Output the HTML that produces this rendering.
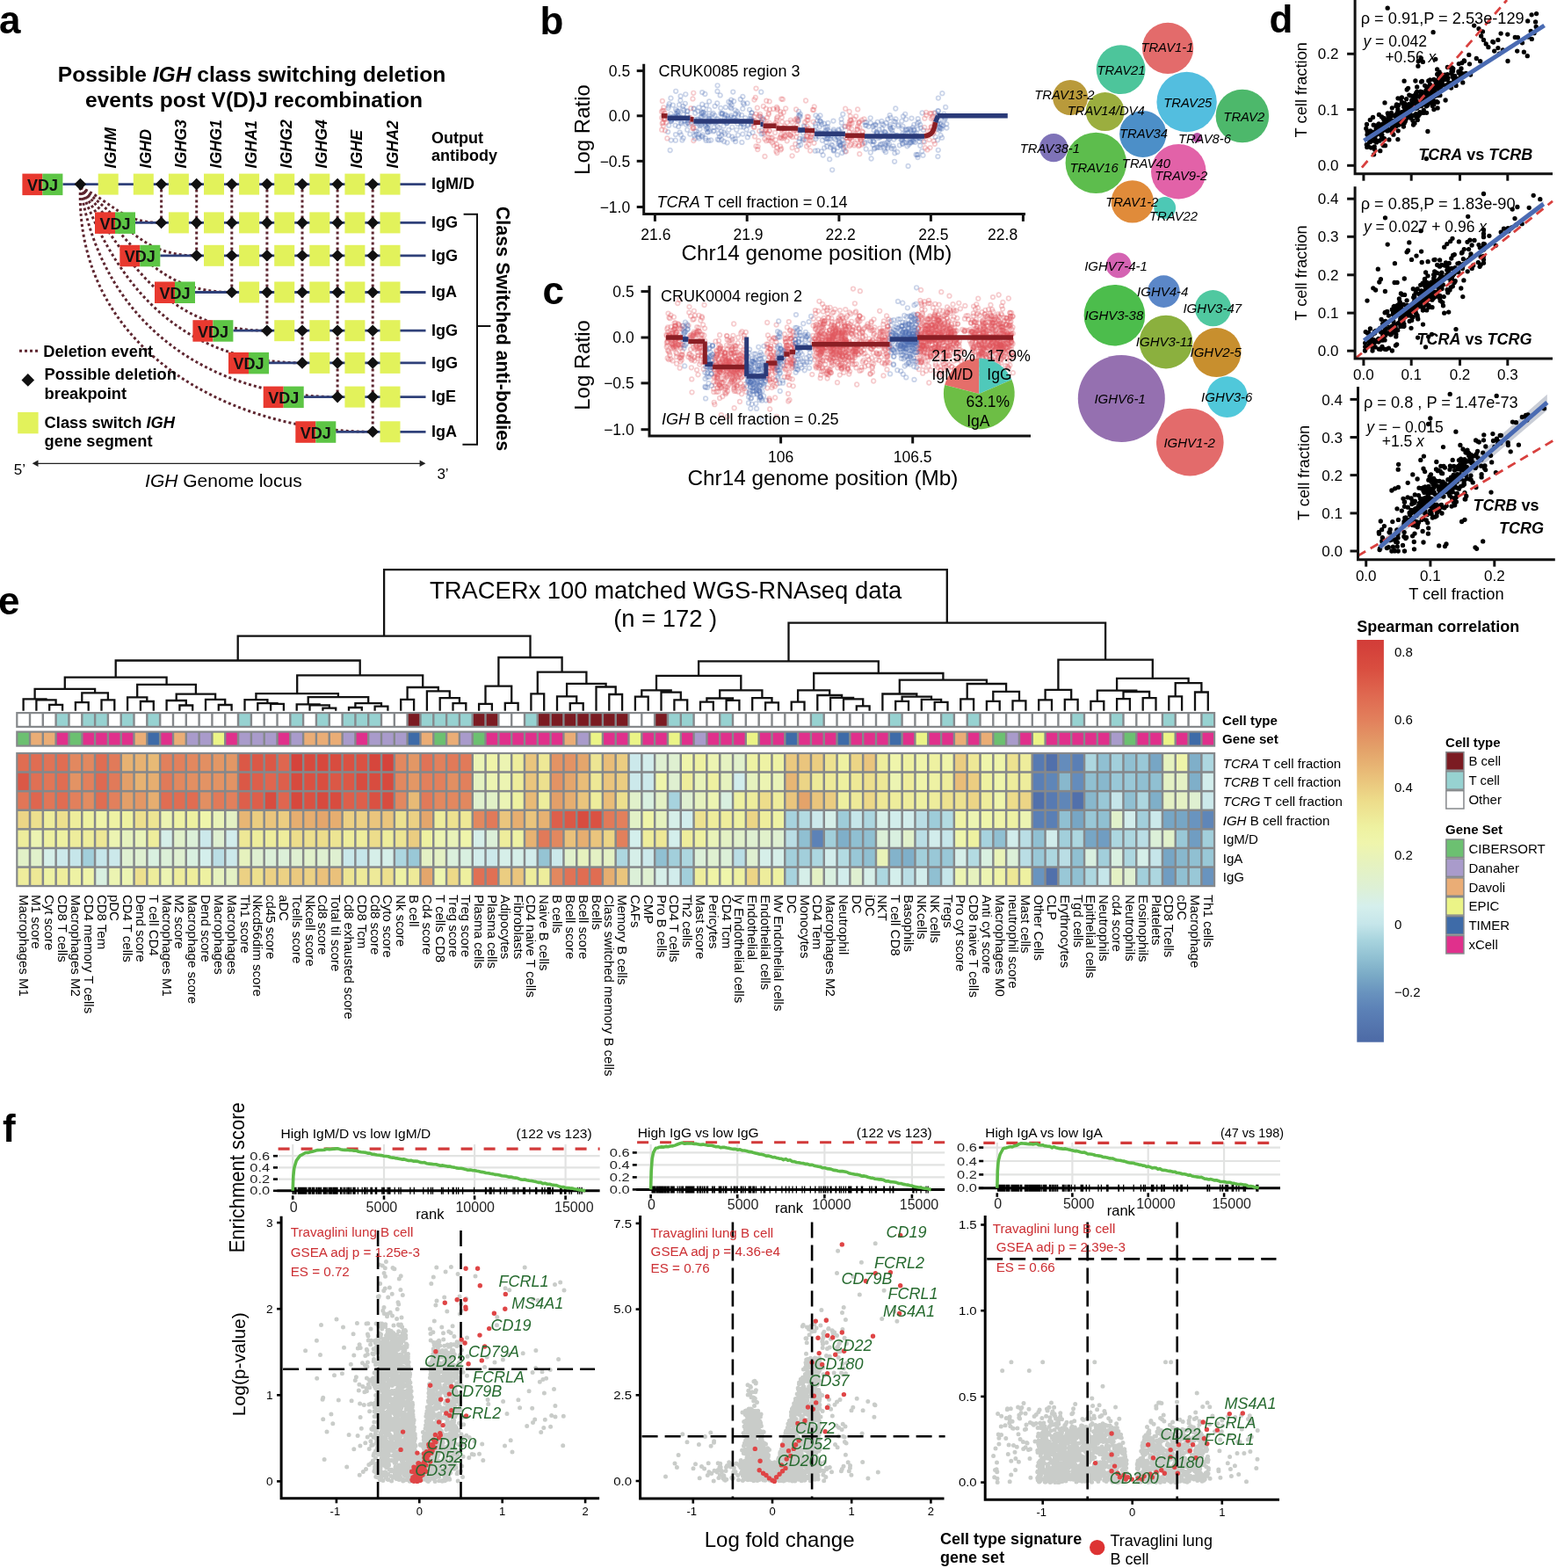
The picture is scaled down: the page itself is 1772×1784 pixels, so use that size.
<!DOCTYPE html>
<html><head><meta charset="utf-8"><title>Figure</title>
<style>
html,body{margin:0;padding:0;background:#fff;}
svg{display:block;}
text{font-family:"Liberation Sans", Arial, Helvetica, sans-serif;}
</style></head><body>
<svg width="1772" height="1784" viewBox="0 0 1772 1784">
<defs><marker id="ob" markerUnits="userSpaceOnUse" markerWidth="8" markerHeight="8" refX="4" refY="4" overflow="visible"><circle cx="4" cy="4" r="2.3" fill="none" stroke="#4E72B6" stroke-width="1.7" stroke-opacity="0.3"/></marker>
<marker id="or" markerUnits="userSpaceOnUse" markerWidth="8" markerHeight="8" refX="4" refY="4" overflow="visible"><circle cx="4" cy="4" r="2.3" fill="none" stroke="#E2575E" stroke-width="1.7" stroke-opacity="0.3"/></marker>
<linearGradient id="cb" x1="0" y1="0" x2="0" y2="1"><stop offset="0.0000" stop-color="#D23C38"/><stop offset="0.0719" stop-color="#D94E40"/><stop offset="0.1361" stop-color="#DF6850"/><stop offset="0.1986" stop-color="#E2805C"/><stop offset="0.2688" stop-color="#E3A069"/><stop offset="0.3331" stop-color="#E9BD78"/><stop offset="0.3990" stop-color="#EDDC8A"/><stop offset="0.4649" stop-color="#EEF1A0"/><stop offset="0.5046" stop-color="#EFF5AC"/><stop offset="0.5537" stop-color="#E6F2BE"/><stop offset="0.6179" stop-color="#DDF0D6"/><stop offset="0.6619" stop-color="#D5EFEC"/><stop offset="0.7058" stop-color="#C6E6EA"/><stop offset="0.7464" stop-color="#A8D4DE"/><stop offset="0.7904" stop-color="#90C0D2"/><stop offset="0.8343" stop-color="#7AAAC6"/><stop offset="0.8783" stop-color="#6892BE"/><stop offset="0.9222" stop-color="#5B80B6"/><stop offset="0.9882" stop-color="#4F6DA8"/><stop offset="1.0000" stop-color="#4C6AA6"/></linearGradient></defs>
<rect width="1772" height="1784" fill="#fff"/>
<text x="-1" y="38" font-size="44" font-weight="bold">a</text>
<text x="286.5" y="93" font-size="24.6" text-anchor="middle" font-weight="bold">Possible <tspan font-style="italic">IGH</tspan> class switching deletion</text>
<text x="289" y="122" font-size="24.6" text-anchor="middle" font-weight="bold">events post V(D)J recombination</text>
<text x="131.8" y="191.4" font-size="17.8" font-weight="bold" font-style="italic" transform="rotate(-90 131.8 191.4)">IGHM</text>
<text x="171.9" y="191.4" font-size="17.8" font-weight="bold" font-style="italic" transform="rotate(-90 171.9 191.4)">IGHD</text>
<text x="212" y="191.4" font-size="17.8" font-weight="bold" font-style="italic" transform="rotate(-90 212 191.4)">IGHG3</text>
<text x="252.1" y="191.4" font-size="17.8" font-weight="bold" font-style="italic" transform="rotate(-90 252.1 191.4)">IGHG1</text>
<text x="292.2" y="191.4" font-size="17.8" font-weight="bold" font-style="italic" transform="rotate(-90 292.2 191.4)">IGHA1</text>
<text x="332.3" y="191.4" font-size="17.8" font-weight="bold" font-style="italic" transform="rotate(-90 332.3 191.4)">IGHG2</text>
<text x="372.4" y="191.4" font-size="17.8" font-weight="bold" font-style="italic" transform="rotate(-90 372.4 191.4)">IGHG4</text>
<text x="412.5" y="191.4" font-size="17.8" font-weight="bold" font-style="italic" transform="rotate(-90 412.5 191.4)">IGHE</text>
<text x="452.6" y="191.4" font-size="17.8" font-weight="bold" font-style="italic" transform="rotate(-90 452.6 191.4)">IGHA2</text>
<text x="491" y="162.6" font-size="18" font-weight="bold">Output</text>
<text x="491" y="183.3" font-size="18" font-weight="bold">antibody</text>
<line x1="183.6" y1="209.6" x2="183.6" y2="253.4" stroke="#5E2630" stroke-width="3" stroke-dasharray="3 3"/>
<line x1="223.7" y1="209.6" x2="223.7" y2="290.8" stroke="#5E2630" stroke-width="3" stroke-dasharray="3 3"/>
<line x1="263.8" y1="209.6" x2="263.8" y2="332.5" stroke="#5E2630" stroke-width="3" stroke-dasharray="3 3"/>
<line x1="303.9" y1="209.6" x2="303.9" y2="376.2" stroke="#5E2630" stroke-width="3" stroke-dasharray="3 3"/>
<line x1="344" y1="209.6" x2="344" y2="412.9" stroke="#5E2630" stroke-width="3" stroke-dasharray="3 3"/>
<line x1="384.1" y1="209.6" x2="384.1" y2="451.6" stroke="#5E2630" stroke-width="3" stroke-dasharray="3 3"/>
<line x1="424.2" y1="209.6" x2="424.2" y2="491.3" stroke="#5E2630" stroke-width="3" stroke-dasharray="3 3"/>
<path d="M91.4 213C129.7 230.9 137.5 253.4 183.6 253.4" fill="none" stroke="#5E2630" stroke-width="3" stroke-dasharray="3 3"/>
<path d="M91.4 213C143.4 251 157.6 290.8 223.7 290.8" fill="none" stroke="#5E2630" stroke-width="3" stroke-dasharray="3 3"/>
<path d="M91.4 213C151.1 277.8 177.6 332.5 263.8 332.5" fill="none" stroke="#5E2630" stroke-width="3" stroke-dasharray="3 3"/>
<path d="M91.4 213C150.2 309 197.6 376.2 303.9 376.2" fill="none" stroke="#5E2630" stroke-width="3" stroke-dasharray="3 3"/>
<path d="M91.4 213C138.4 339.9 217.7 412.9 344 412.9" fill="none" stroke="#5E2630" stroke-width="3" stroke-dasharray="3 3"/>
<path d="M91.4 213C116.7 369.6 237.8 451.6 384.1 451.6" fill="none" stroke="#5E2630" stroke-width="3" stroke-dasharray="3 3"/>
<path d="M91.4 213C85 395.1 257.8 491.3 424.2 491.3" fill="none" stroke="#5E2630" stroke-width="3" stroke-dasharray="3 3"/>
<line x1="71.4" y1="209.6" x2="484.5" y2="209.6" stroke="#2F4079" stroke-width="2.8" />
<rect x="111.7" y="197.6" width="23" height="24" fill="#E2F25B" />
<rect x="151.8" y="197.6" width="23" height="24" fill="#E2F25B" />
<rect x="191.9" y="197.6" width="23" height="24" fill="#E2F25B" />
<rect x="232" y="197.6" width="23" height="24" fill="#E2F25B" />
<rect x="272.1" y="197.6" width="23" height="24" fill="#E2F25B" />
<rect x="312.2" y="197.6" width="23" height="24" fill="#E2F25B" />
<rect x="352.3" y="197.6" width="23" height="24" fill="#E2F25B" />
<rect x="392.4" y="197.6" width="23" height="24" fill="#E2F25B" />
<rect x="432.5" y="197.6" width="23" height="24" fill="#E2F25B" />
<path d="M84.6 209.6L91.4 202.8L98.2 209.6L91.4 216.4Z" fill="#111" />
<path d="M176.8 209.6L183.6 202.8L190.4 209.6L183.6 216.4Z" fill="#111" />
<path d="M216.9 209.6L223.7 202.8L230.5 209.6L223.7 216.4Z" fill="#111" />
<path d="M257 209.6L263.8 202.8L270.6 209.6L263.8 216.4Z" fill="#111" />
<path d="M297.1 209.6L303.9 202.8L310.7 209.6L303.9 216.4Z" fill="#111" />
<path d="M337.2 209.6L344 202.8L350.8 209.6L344 216.4Z" fill="#111" />
<path d="M377.3 209.6L384.1 202.8L390.9 209.6L384.1 216.4Z" fill="#111" />
<path d="M417.4 209.6L424.2 202.8L431 209.6L424.2 216.4Z" fill="#111" />
<rect x="25.4" y="197.6" width="23" height="24.5" fill="#E8392F" />
<rect x="48.4" y="197.6" width="23" height="24.5" fill="#5DC545" />
<text x="48.4" y="217" font-size="18" text-anchor="middle" font-weight="bold" fill="#111">VDJ</text>
<text x="491" y="215.4" font-size="18" font-weight="bold">IgM/D</text>
<line x1="154" y1="253.4" x2="484.5" y2="253.4" stroke="#2F4079" stroke-width="2.8" />
<rect x="191.9" y="241.4" width="23" height="24" fill="#E2F25B" />
<rect x="232" y="241.4" width="23" height="24" fill="#E2F25B" />
<rect x="272.1" y="241.4" width="23" height="24" fill="#E2F25B" />
<rect x="312.2" y="241.4" width="23" height="24" fill="#E2F25B" />
<rect x="352.3" y="241.4" width="23" height="24" fill="#E2F25B" />
<rect x="392.4" y="241.4" width="23" height="24" fill="#E2F25B" />
<rect x="432.5" y="241.4" width="23" height="24" fill="#E2F25B" />
<path d="M176.8 253.4L183.6 246.6L190.4 253.4L183.6 260.2Z" fill="#111" />
<path d="M216.9 253.4L223.7 246.6L230.5 253.4L223.7 260.2Z" fill="#111" />
<path d="M257 253.4L263.8 246.6L270.6 253.4L263.8 260.2Z" fill="#111" />
<path d="M297.1 253.4L303.9 246.6L310.7 253.4L303.9 260.2Z" fill="#111" />
<path d="M337.2 253.4L344 246.6L350.8 253.4L344 260.2Z" fill="#111" />
<path d="M377.3 253.4L384.1 246.6L390.9 253.4L384.1 260.2Z" fill="#111" />
<path d="M417.4 253.4L424.2 246.6L431 253.4L424.2 260.2Z" fill="#111" />
<rect x="108" y="241.4" width="23" height="24.5" fill="#E8392F" />
<rect x="131" y="241.4" width="23" height="24.5" fill="#5DC545" />
<text x="131" y="260.8" font-size="18" text-anchor="middle" font-weight="bold" fill="#111">VDJ</text>
<text x="491" y="259.2" font-size="18" font-weight="bold">IgG</text>
<line x1="182.3" y1="290.8" x2="484.5" y2="290.8" stroke="#2F4079" stroke-width="2.8" />
<rect x="232" y="278.8" width="23" height="24" fill="#E2F25B" />
<rect x="272.1" y="278.8" width="23" height="24" fill="#E2F25B" />
<rect x="312.2" y="278.8" width="23" height="24" fill="#E2F25B" />
<rect x="352.3" y="278.8" width="23" height="24" fill="#E2F25B" />
<rect x="392.4" y="278.8" width="23" height="24" fill="#E2F25B" />
<rect x="432.5" y="278.8" width="23" height="24" fill="#E2F25B" />
<path d="M216.9 290.8L223.7 284L230.5 290.8L223.7 297.6Z" fill="#111" />
<path d="M257 290.8L263.8 284L270.6 290.8L263.8 297.6Z" fill="#111" />
<path d="M297.1 290.8L303.9 284L310.7 290.8L303.9 297.6Z" fill="#111" />
<path d="M337.2 290.8L344 284L350.8 290.8L344 297.6Z" fill="#111" />
<path d="M377.3 290.8L384.1 284L390.9 290.8L384.1 297.6Z" fill="#111" />
<path d="M417.4 290.8L424.2 284L431 290.8L424.2 297.6Z" fill="#111" />
<rect x="136.3" y="278.8" width="23" height="24.5" fill="#E8392F" />
<rect x="159.3" y="278.8" width="23" height="24.5" fill="#5DC545" />
<text x="159.3" y="298.2" font-size="18" text-anchor="middle" font-weight="bold" fill="#111">VDJ</text>
<text x="491" y="296.6" font-size="18" font-weight="bold">IgG</text>
<line x1="222" y1="332.5" x2="484.5" y2="332.5" stroke="#2F4079" stroke-width="2.8" />
<rect x="272.1" y="320.5" width="23" height="24" fill="#E2F25B" />
<rect x="312.2" y="320.5" width="23" height="24" fill="#E2F25B" />
<rect x="352.3" y="320.5" width="23" height="24" fill="#E2F25B" />
<rect x="392.4" y="320.5" width="23" height="24" fill="#E2F25B" />
<rect x="432.5" y="320.5" width="23" height="24" fill="#E2F25B" />
<path d="M257 332.5L263.8 325.7L270.6 332.5L263.8 339.3Z" fill="#111" />
<path d="M297.1 332.5L303.9 325.7L310.7 332.5L303.9 339.3Z" fill="#111" />
<path d="M337.2 332.5L344 325.7L350.8 332.5L344 339.3Z" fill="#111" />
<path d="M377.3 332.5L384.1 325.7L390.9 332.5L384.1 339.3Z" fill="#111" />
<path d="M417.4 332.5L424.2 325.7L431 332.5L424.2 339.3Z" fill="#111" />
<rect x="176" y="320.5" width="23" height="24.5" fill="#E8392F" />
<rect x="199" y="320.5" width="23" height="24.5" fill="#5DC545" />
<text x="199" y="339.9" font-size="18" text-anchor="middle" font-weight="bold" fill="#111">VDJ</text>
<text x="491" y="338.3" font-size="18" font-weight="bold">IgA</text>
<line x1="265.4" y1="376.2" x2="484.5" y2="376.2" stroke="#2F4079" stroke-width="2.8" />
<rect x="312.2" y="364.2" width="23" height="24" fill="#E2F25B" />
<rect x="352.3" y="364.2" width="23" height="24" fill="#E2F25B" />
<rect x="392.4" y="364.2" width="23" height="24" fill="#E2F25B" />
<rect x="432.5" y="364.2" width="23" height="24" fill="#E2F25B" />
<path d="M297.1 376.2L303.9 369.4L310.7 376.2L303.9 383Z" fill="#111" />
<path d="M337.2 376.2L344 369.4L350.8 376.2L344 383Z" fill="#111" />
<path d="M377.3 376.2L384.1 369.4L390.9 376.2L384.1 383Z" fill="#111" />
<path d="M417.4 376.2L424.2 369.4L431 376.2L424.2 383Z" fill="#111" />
<rect x="219.4" y="364.2" width="23" height="24.5" fill="#E8392F" />
<rect x="242.4" y="364.2" width="23" height="24.5" fill="#5DC545" />
<text x="242.4" y="383.6" font-size="18" text-anchor="middle" font-weight="bold" fill="#111">VDJ</text>
<text x="491" y="382" font-size="18" font-weight="bold">IgG</text>
<line x1="306" y1="412.9" x2="484.5" y2="412.9" stroke="#2F4079" stroke-width="2.8" />
<rect x="352.3" y="400.9" width="23" height="24" fill="#E2F25B" />
<rect x="392.4" y="400.9" width="23" height="24" fill="#E2F25B" />
<rect x="432.5" y="400.9" width="23" height="24" fill="#E2F25B" />
<path d="M337.2 412.9L344 406.1L350.8 412.9L344 419.7Z" fill="#111" />
<path d="M377.3 412.9L384.1 406.1L390.9 412.9L384.1 419.7Z" fill="#111" />
<path d="M417.4 412.9L424.2 406.1L431 412.9L424.2 419.7Z" fill="#111" />
<rect x="260" y="400.9" width="23" height="24.5" fill="#E8392F" />
<rect x="283" y="400.9" width="23" height="24.5" fill="#5DC545" />
<text x="283" y="420.3" font-size="18" text-anchor="middle" font-weight="bold" fill="#111">VDJ</text>
<text x="491" y="418.7" font-size="18" font-weight="bold">IgG</text>
<line x1="345.7" y1="451.6" x2="484.5" y2="451.6" stroke="#2F4079" stroke-width="2.8" />
<rect x="392.4" y="439.6" width="23" height="24" fill="#E2F25B" />
<rect x="432.5" y="439.6" width="23" height="24" fill="#E2F25B" />
<path d="M377.3 451.6L384.1 444.8L390.9 451.6L384.1 458.4Z" fill="#111" />
<path d="M417.4 451.6L424.2 444.8L431 451.6L424.2 458.4Z" fill="#111" />
<rect x="299.7" y="439.6" width="23" height="24.5" fill="#E8392F" />
<rect x="322.7" y="439.6" width="23" height="24.5" fill="#5DC545" />
<text x="322.7" y="459" font-size="18" text-anchor="middle" font-weight="bold" fill="#111">VDJ</text>
<text x="491" y="457.4" font-size="18" font-weight="bold">IgE</text>
<line x1="382.3" y1="491.3" x2="484.5" y2="491.3" stroke="#2F4079" stroke-width="2.8" />
<rect x="432.5" y="479.3" width="23" height="24" fill="#E2F25B" />
<path d="M417.4 491.3L424.2 484.5L431 491.3L424.2 498.1Z" fill="#111" />
<rect x="336.3" y="479.3" width="23" height="24.5" fill="#E8392F" />
<rect x="359.3" y="479.3" width="23" height="24.5" fill="#5DC545" />
<text x="359.3" y="498.7" font-size="18" text-anchor="middle" font-weight="bold" fill="#111">VDJ</text>
<text x="491" y="497.1" font-size="18" font-weight="bold">IgA</text>
<path d="M527.6 243.8H543V505.8H526.4M543 371.1H558.4" fill="none" stroke="#111" stroke-width="2" />
<text x="565.4" y="374" font-size="21.5" text-anchor="middle" font-weight="bold" transform="rotate(90 565.4 374)">Class Switched anti-bodies</text>
<line x1="22" y1="399.3" x2="43" y2="399.3" stroke="#5E2630" stroke-width="3" stroke-dasharray="3 3"/>
<text x="49.2" y="405.7" font-size="18.3" font-weight="bold">Deletion event</text>
<path d="M24.5 432.4L31.8 425.1L39.1 432.4L31.8 439.7Z" fill="#111" />
<text x="50.6" y="432.4" font-size="18.3" font-weight="bold">Possible deletion</text>
<text x="50.6" y="453.9" font-size="18.3" font-weight="bold">breakpoint</text>
<rect x="20.2" y="469" width="23.4" height="24.3" fill="#E2F25B" />
<text x="50.6" y="486.7" font-size="18.3" font-weight="bold">Class switch <tspan font-style="italic">IGH</tspan></text>
<text x="50.6" y="507.9" font-size="18.3" font-weight="bold">gene segment</text>
<line x1="40" y1="527.3" x2="481" y2="527.3" stroke="#222" stroke-width="1.3" />
<path d="M36.7 527.3L43.5 523.6L43.5 531Z" fill="#222" />
<path d="M484.4 527.3L477.6 523.6L477.6 531Z" fill="#222" />
<text x="15.8" y="540.2" font-size="17">5’</text>
<text x="497.4" y="544.7" font-size="17">3’</text>
<text x="165.1" y="553.7" font-size="21"><tspan font-style="italic">IGH</tspan> Genome locus</text>
<text x="614.5" y="38.6" font-size="44" font-weight="bold">b</text>
<path d="M908.7 137.8 946.3 154.3 1039.7 158.8 1013.1 142 834.3 104.6 948.9 147.4 820.8 137.1 939.3 150.2 1036.6 162.4 771.3 126.9 994.9 161.3 909.4 161.2 796.6 147 1071.1 141.5 810.6 137.7 803.5 159.8 795.3 152.9 844 140.6 792.2 140 834.4 158.3 851.1 142.7 1032.8 147.3 799.2 118.7 1037.8 157.8 1069.1 148.2 943.6 157.8 1016.3 145.1 1004.5 163.7 805.7 150.1 794.6 136 908.5 136.7 800.5 123.3 1001.5 156.2 1033.1 155.8 1017 153 959.3 130 1028.6 154.9 837.1 161.1 933.5 131.4 934.7 139.1 762.9 134.5 798.3 141.8 1037.6 159.6 1050.9 148 957.2 165.1 763.4 129.3 949.3 170.1 827.7 131.9 803.1 157.5 936.7 176.5 993.8 160.3 934 152 928.4 143.6 835.5 134 1010.4 168.2 935.9 159.8 941.9 144.3 764 137.8 997.3 150.7 812.1 149.4 1044.6 147 855.7 128.4 1018.8 138.6 800 133.9 790.7 149.3 825.2 131.3 1006.5 170.9 948.5 137.6 816.3 117.5 803.8 146.8 768.6 142.6 846.3 144.6 784.1 141.3 1068.7 145.3 849.6 147.4 762.2 134.9 1021.7 154 915.8 144.1 840.6 129.7 996.4 141.7 993.7 161.1 1027.1 156.9 763.9 136.6 939.6 153.6 990.8 173.5 1050.5 176.7 769.6 132.9 1016.6 166.3 943.1 153.5 1003.2 152.1 1010.1 153.4 770.5 135.5 1005.8 142.3 829.1 135 934.3 151 789.7 123.3 1007.9 154 1008.6 139.9 990.9 139.9 774.4 114.3 952.4 152.7 908.8 166 1045 175.9 994.6 148.4 797 140.4 954.9 148.5 935.3 141.7 1067.8 170.8 845.8 117.1 1001.2 167.9 1043 151.8 1068.3 137.3 807.2 115.5 1026.5 159.4 1074.6 136.6 856.4 137.2 1042.6 175.9 1045.7 138.9 1027.3 155 803.2 141.8 782.2 136.6 1013 155.3 1039.1 144.8 952.6 155.8 1005.7 152.4 795.6 157.4 1077.4 145.6 1049.3 172 819.7 108.4 941.8 158.2 1072.7 131.8 768.4 134.6 831.5 117 938.2 168.3 1007.7 151.3 961.3 144.2 1004 141 803.9 119.9 1010.8 165.7 837.4 136.6 1066.8 140.2 947.4 165.5 856.6 150.9 1012.6 157.8 959.9 167.6 959.7 159.6 949.2 171.4 1047.9 145.5 1044.5 179.1 945.2 158.1 957.5 135.6 823.6 143.6 866.3 104.7 812.1 139 867.8 134.7 806.4 134.2 986.1 142.6 840.1 132.2 836.7 125.3 1040.3 141.8 816.7 143.9 941.2 166.7 769.2 103.8 796.7 143.1 1031.8 159.2 954.4 147.3 1027.6 143.7 774.9 134.2 938 140.7 832.8 119.7 910.1 157.7 911.1 164.8 984.4 163.1 846.2 141.4 795.2 141.2 1041.8 153.5 1000.8 147.3 768.9 159.7 802.9 143.4 1036.8 161.8 1019.3 123.5 1027.1 163.6 958.5 153.7 1017.3 158.6 932.3 152.3 1013.6 145.7 940.2 157.6 1037.5 134.6 798.8 129.1 933.3 137.8 1030.5 151.9 807.7 149.5 832.2 113.6 779.8 117.8 933.3 137.6 1034.4 146.6 820.8 149.3 990.9 161 777.7 157.1 1006.3 168.6 807.1 124.9 1018.4 174.3 957.8 146.3 1011.2 158.7 1031.5 161.8 1074.4 129.6 809.2 159.5 768.5 132 771.6 131.8 955.5 162.2 960.3 163.6 772.2 144.1 843.2 144.4 1071.8 146.4 832 133.2 1015.3 148.3 927.9 171.7 1007.6 150.2 930.7 171.3 931.7 155.1 761.7 118.1 953 176.2 1025.4 158.8 834.3 134 1072.1 156.7 818.1 152 948.7 171.2 1019.5 135.4 953.7 155.1 844.4 161.9 928.5 158.1 1067.4 178.1 1075 133.3 784.9 137.1 855.3 135.2 791.2 128.8 1013.6 133.8 1026 154.3 1033.6 189 853.6 134.9 1002.5 164 930.3 137.2 806.6 135.4 1064.6 155.7 822.1 128.8 1067.9 111.6 794.4 155.8 909.7 148.2 800.2 128.2 1020.1 154.2 1033.1 151.1 1043.8 176.3 910 131.7 999.4 167.2 913.5 157.4 1047.3 141.9 816.6 97.3 947.2 193.3 804.9 145.3 961.8 172.4 931.1 133.5 778.5 125.4 1047.3 165.8 1029.2 162 1069.8 140.6 950.8 158.8 808.7 138.6 994.4 142.6 1015.4 151.6 832.3 123.3 909.1 131.6 764.2 135.4 765.9 119.6 954.2 163.1 810.7 130.4 825.7 130.2 944.2 149.4 827.3 139.5 948.8 149.2 798.3 127.6 910.7 132.8 776 138 761 120.6 802 139.8 1006.5 150.2 827.6 162.3 914.8 143.3 1026.8 154.9 850.8 156.2 950.2 150.5 818.3 159.3 831.2 121.9 832.1 131.5 767 133.2 806.8 141.7 815.5 138.6 813.6 120.8 1020.9 154.3 1076.2 121.9 764.9 136.1 1044.8 135.2 997.9 168 909 126.8 800.6 127.7 1030.2 129.8 836.6 158.1 762.7 171 958.3 159 1064.4 128.3 990.7 134.3 799.5 155.6 825.9 122.1 844.1 130.9 998.6 151.1 1019.7 156.1 794.5 126.6 1041.3 161.9 928.4 155.6 833.3 144.8 823.9 137.9 838.9 126.9 1027.2 155.7 1010.4 135.6 818.5 145.4 988.5 144.1 937 152.1 824.1 161 993.5 164.7 1067 159.3 1027.4 152.1 816.5 103.9 1068 126.3 1044.2 155.6 845.3 152.6 1029 154.5 771.7 128.6 867.5 136.1 1003.1 155.3 813.4 131.3 817.1 135.5 820.4 129 929 149.9 807.6 137 782.3 126.2 1031.1 147.3 854.4 136.2 789.7 123.9 806.7 147 856.6 137.7 843.2 139.3 790.3 154.6 1013.8 146.7 1050.9 161 1046.2 160.9 1034.4 164.5 780.8 141.5 1031.2 135.8 812.8 148.6 1066.7 140.8 789.8 137.6 991.6 180.5 760.2 150.1 866.9 148.2 1045.6 156.5 1077.3 141.1 1038.5 153.3 856.1 140.4 777.5 120.8 944.9 167.4 760.6 123 792.5 152.6 1008.1 173 1021.3 173 846.7 118.6 1040.6 155.3 1067.5 126.2 773 119.3 836.7 137.5 801.1 131 777.8 130.2 825.2 152.5 1027.3 163.7 1069.7 145.3 782.3 126.9 1020.1 155.5 795.3 122.3 850.6 117.4 985.7 169.5 790.5 135.9 811.7 128.9 865.7 132.8 829.4 116 782 130.8 839.5 140.9 998 150 1017.5 169 845.3 123.7 805.3 150.6 769 153.1 959.1 164.8 984.3 139.2 793.6 135.7 958.3 174 931.4 152.7 1012.5 143.9 1075.9 134.9 940.8 151.5 789.8 140.6 774.8 139.5 984.1 161.7 827 140.2 842.8 113 775.5 140.4 782.5 139.7 868.4 152.1 1038.2 155.8 953.4 167.9 1049.6 128.5 1037.9 151.8 911.7 148.2 998 152.5 790.8 157.7 779.5 137.5 984.9 142.6 949.4 157.2 770.4 126.1 855 141.6 1026.3 137.8 1023.9 165.3 853.1 124.8 820.3 123 1039.2 160.5 805.9 140 1010.7 155.4 798.2 155.1 1034.9 162.4 821.3 159.1 807.2 131.9 823.8 150.5 915.1 158.6 939.6 148.6 1022.3 142.1 1012.7 131.1 797.8 133.2 1040.3 151.2 802.4 107 802.8 129.1 763.8 138.1 1011.9 163.7 773.7 150.6 829.3 154.1 944.2 181.2 946.2 164.6 1026.7 158.2 763.5 111.7 1070.6 153.9 866.4 139 807.8 135.2 927.2 148.4 1040.5 147.6 792.3 149.5 940 144.7 1048.7 155.1 782.2 147.7 775 153.5 780.3 107.3 1007 163.2 829.4 147.8 821.7 130.2 794.3 137.5 776.4 159.4 1015.5 154.8 812.6 144.9 854.5 131.8 927.9 140.8 994.9 169.4 928.5 131.3 1001.7 165.2 821.1 153.8 762.2 132.3 815.6 135.7 1045.5 157 1026.7 146.5 1022.2 143.5 827.2 135.7 827.8 140 1066.9 146.9 940.4 161.9 866.6 152.4 955.1 161.1 1017.4 138.1 1015 169.1 824.8 133.9 771.9 131.8 763.5 134.4 772.3 126.6 942.4 140 1003.9 146.5 799.7 153.4 835.2 115.2 774.6 109.4 956.3 165.8 1072.1 143.3 816.8 158.6 782.9 139.4 1018.1 183.8 799.2 105.1 960.2 169.8 805.4 139.7 785.3 152.6 1032.5 166.3 998.7 138.8 1044 140.4 761.2 142.7 1067.8 130.4 852.6 152.6 1036.6 148.7 998 152.7 1003.5 137.9 934.8 172.3 821.8 129.1 851.5 141.6 833.3 155.6 839.9 153.7 838.3 147.8 814.1 139.5 985.9 139.1 1047.2 157.7 932.8 144.2 914 159.4 1027.9 132.3 798.5 133.1 769.1 124.4 1039.6 148 819 155.6 1010.7 156.6 1031.6 148.4 770.4 134.6 908.9 147.2 843.8 137.9 1039.7 161 1009.8 162.2 763.8 159.6 942.1 156.7 1072.4 106.2 805.2 145.2 996.5 142.4 999.9 156.9 855.6 128.4 1073.4 142.6 938 155.8 1042.7 155.1 957.8 139.8 848.3 134.2 837.2 129.6 955.8 165 769.8 129.2 806.6 159.9 993.6 144 941.6 147.1 914 151.2 954.5 156.8 777.2 123.8 931.5 150.5 1008.2 165 845.4 110 1070.3 146 989.5 159.8 995.6 168.4 910.8 129.7 1036.6 146.8" fill="none" stroke="none" marker-start="url(#ob)" marker-mid="url(#ob)" marker-end="url(#ob)" />
<path d="M962 166.7 895.7 160.3 1058.7 128.9 926.5 162.8 918.8 132.6 756.5 136.2 872.6 143.3 895.8 139.6 888.1 166.6 860.4 129.6 1052.4 134.7 882.1 151 860.5 166.3 864.9 132.6 870.5 178 859.9 111 860 140.1 1055.4 170.4 962.2 143.6 889.8 157.6 969.6 140.5 868.9 120.9 918.4 143.4 1054.1 127.9 972.2 135.7 922.9 159.7 891.7 155 923.1 155.3 757 148.6 858.5 113.5 925.6 138.6 976.2 124.4 864.2 149.1 1053 168.2 969.5 156.2 754.7 139.5 922.1 156.6 1060 129.1 974.1 132.3 869.5 137.1 968.5 164.5 883.4 172.1 966.4 145.2 893.1 149 899.9 153.2 877.1 160.3 891.3 145.8 753.9 115 875.4 139.6 875.7 115.4 788.3 146.1 962.8 156.7 1058.3 149.1 917.1 114.5 966.7 127 753 127.1 967 166 874.8 128.6 873.7 151.6 973.6 151.9 916.7 159.4 916.1 139 918.1 166.5 921.3 159.4 862.3 170.1 892.2 146.2 1055.2 154.2 965 144.1 859.1 155.4 1057.5 159.1 884.7 133.1 872.4 148.6 978.3 175.2 1054.2 131 966.9 138.6 786.4 123.2 755.4 126.1 889.2 169.1 920.5 146.1 907.1 170.8 979.1 158.9 882.8 159.1 788.5 112.4 922.1 171.5 755.3 122.3 888.6 170.4 901.6 177.3 975.8 147.2 982.4 155.3 789.4 160.1 978.1 165.2 869.1 136 979.9 159.5 860.5 100.6 887.7 156.9 907.2 138.2 871.8 123.6 1059.9 135 982 163 756.2 135.3 897.9 153 967.8 132.2 902.2 147.2 967.1 155.2 876 148.7 1062.9 128.6 982.6 155.3 877.3 156.7 919.5 155.4 968.7 136.9 967.3 157.8 754.9 143.2 971.6 151.4 1063.2 149.8 962.2 123.7 890.9 112.9 753.3 133.9 978.3 145 1053 154.7 894.2 123.4 976.1 144.1 861.9 122.7 758.3 139.6 977.3 166.2 880.9 165.4 872.1 160.2 754.2 125.7 863.3 160.2 1058.6 168.1 918.1 155 884.2 167.7 870 150 976 159.1 966.6 150.3 918.3 137 859.6 137.7 916.4 146.7 893.6 154.7 918.6 147.7 878.8 156.7 1052.2 161.5 862.6 166.8 884.5 124.7 981.2 156.9 788.9 144.4 884 134.9 873.1 133.8 907.2 142.7 864 131.7 785.6 133.9 890.2 138.7 883.8 164.1 920.4 164.5 885 123.4 924.6 151.8 892.3 156.9 893.8 154.9 1062 152.2 865 129.8 1062.7 160.4 907.1 151.3 907.5 136.5 888.3 127.1 889.9 133.5 889 146.7 789.3 105.8 874.8 130.2 1061.6 134.3 786.8 140 970.9 154.6 977.2 140.3 899.4 154.3 983.5 135.5 759.4 157.4 889.6 147.5 899.9 136.6 888.4 155.8 888.8 153.4 923.7 152.9 975.7 147 884.4 174 978.5 157.1 926.8 121.5 965.1 160.5 880.3 142 967.8 136.6 1060.1 144.6 981.3 164.6 893 145.9 1063.4 140.4 753.7 140.4 755.6 135 756.4 128.7 893.2 143.6 875.3 148.8 879 162.4 876.1 124.7 1063.9 163.8 978.2 138.6 870.3 158.1 785.6 134.4 873.6 141.2 903.8 148.6 900 154.6 901.7 168.2 884.8 144.8 858 144 964.2 157 880 124 1061.4 132.8 874.5 159.6 882.6 139.8 905.3 163.9 1059.8 144.5 1055.9 149.2 967.4 157.5 977.7 139.1 1052.3 144.9 870.5 143 918.3 154 891.8 128 925 124.9 889.3 112.6 902 155.9 903.2 144.9 982 150.4 870.2 152.5 905.3 136.2 967.7 140.8 872.3 114.7 884.3 137.2 969.8 159.3 891.6 145.5 981.4 149.5 884.3 141.6 858.7 132.7 926.1 125 920.1 132.9 980.9 136.6 882.4 143.2 963 172.3 969.1 146.6 895.7 149.7 858.4 144.9 906.4 155.9 888.6 130 906.2 148.2 857.6 139.4 919.6 136.7 906.1 124.5 966.3 141.7 907 134.7 753.2 147.7 789.5 146.1 972.3 165.4 973.5 163.5 875.2 156.8 901.2 138.9 1062.1 145.4 871.1 148.1 884.1 121.9" fill="none" stroke="none" marker-start="url(#or)" marker-mid="url(#or)" marker-end="url(#or)" />
<line x1="752.7" y1="131.8" x2="759.6" y2="131.8" stroke="#8B1E24" stroke-width="5.5" />
<line x1="759.6" y1="134.3" x2="785.5" y2="134.3" stroke="#2A3A78" stroke-width="5.5" />
<line x1="785.5" y1="135.8" x2="789.5" y2="135.8" stroke="#8B1E24" stroke-width="5.5" />
<line x1="789.5" y1="138.1" x2="857.6" y2="138.1" stroke="#2A3A78" stroke-width="5.5" />
<line x1="857.6" y1="139.3" x2="865.5" y2="139.3" stroke="#8B1E24" stroke-width="5.5" />
<line x1="865.5" y1="141.5" x2="868.6" y2="141.5" stroke="#2A3A78" stroke-width="5.5" />
<line x1="868.6" y1="143.2" x2="883.5" y2="143.2" stroke="#8B1E24" stroke-width="5.5" />
<line x1="883.5" y1="146" x2="908.2" y2="146" stroke="#8B1E24" stroke-width="5.5" />
<line x1="908.2" y1="148" x2="916" y2="148" stroke="#2A3A78" stroke-width="5.5" />
<line x1="916" y1="148.5" x2="927.1" y2="148.5" stroke="#8B1E24" stroke-width="5.5" />
<line x1="927.1" y1="152.3" x2="961.9" y2="152.3" stroke="#2A3A78" stroke-width="5.5" />
<line x1="961.9" y1="154.2" x2="984" y2="154.2" stroke="#8B1E24" stroke-width="5.5" />
<line x1="984" y1="154.9" x2="1052" y2="154.9" stroke="#2A3A78" stroke-width="5.5" />
<path d="M1052 154.9C1060 154 1063 150 1064.6 139" fill="none" stroke="#8B1E24" stroke-width="5.5" />
<path d="M1064.6 139L1067.5 131.8" fill="none" stroke="#2A3A78" stroke-width="5.5" />
<line x1="1066.5" y1="131.8" x2="1146.8" y2="131.8" stroke="#2A3A78" stroke-width="5.5" />
<path d="M732.7 72.7V243.4H1167" fill="none" stroke="#111" stroke-width="3" />
<line x1="724.7" y1="80.6" x2="732.7" y2="80.6" stroke="#111" stroke-width="3" />
<text x="717.2" y="86.9" font-size="17.5" text-anchor="end">0.5</text>
<line x1="724.7" y1="131.8" x2="732.7" y2="131.8" stroke="#111" stroke-width="3" />
<text x="717.2" y="138.1" font-size="17.5" text-anchor="end">0.0</text>
<line x1="724.7" y1="183.3" x2="732.7" y2="183.3" stroke="#111" stroke-width="3" />
<text x="717.2" y="189.6" font-size="17.5" text-anchor="end">−0.5</text>
<line x1="724.7" y1="235.5" x2="732.7" y2="235.5" stroke="#111" stroke-width="3" />
<text x="717.2" y="241.8" font-size="17.5" text-anchor="end">−1.0</text>
<line x1="745.4" y1="243.4" x2="745.4" y2="251.9" stroke="#111" stroke-width="3" />
<text x="746.4" y="272.6" font-size="17.5" text-anchor="middle">21.6</text>
<line x1="850.2" y1="243.4" x2="850.2" y2="251.9" stroke="#111" stroke-width="3" />
<text x="851.5" y="272.6" font-size="17.5" text-anchor="middle">21.9</text>
<line x1="954.9" y1="243.4" x2="954.9" y2="251.9" stroke="#111" stroke-width="3" />
<text x="956.6" y="272.6" font-size="17.5" text-anchor="middle">22.2</text>
<line x1="1059.4" y1="243.4" x2="1059.4" y2="251.9" stroke="#111" stroke-width="3" />
<text x="1062.4" y="272.6" font-size="17.5" text-anchor="middle">22.5</text>
<line x1="1164.4" y1="243.4" x2="1164.4" y2="251.9" stroke="#111" stroke-width="3" />
<text x="1141.1" y="272.6" font-size="17.5" text-anchor="middle">22.8</text>
<text x="929.5" y="295.5" font-size="24.3" text-anchor="middle">Chr14 genome position (Mb)</text>
<text x="671" y="147.5" font-size="24" text-anchor="middle" transform="rotate(-90 671 147.5)">Log Ratio</text>
<text x="749.5" y="86.9" font-size="18">CRUK0085 region 3</text>
<text x="747.5" y="236" font-size="18.1"><tspan font-style="italic">TCRA</tspan> T cell fraction = 0.14</text>
<text x="617.5" y="345.8" font-size="44" font-weight="bold">c</text>
<path d="M953.5 369.9 835.7 432.5 1049.8 368.3 1151.2 356 963.6 390 1141.5 378.9 994.2 433.5 1086.1 382.1 1090.2 368.6 818.1 416.9 1108.2 379.7 821.1 417.3 1067 369.3 933.7 430.2 832.5 422.2 1117.6 394.3 1076.7 355 761.5 361.3 1114.8 380.4 1097.9 362.7 820.6 423.6 1147.2 383.8 1011.6 388 957 415.3 839 416.3 769.2 384.5 1012.5 394.5 773.6 374.4 992.8 417.1 1086.5 379.7 933.9 403.8 947 410.2 994.5 363.3 1011.6 391.6 824.2 415.5 902.1 417.7 840 416.9 1053.6 375 1118.9 403.2 794.5 426.3 1010.8 371.5 1082.6 377.4 957.7 386.2 764.4 379.5 965.1 419.8 1087.4 376.3 785.4 381.8 963 391.8 1121.3 367.5 1128.6 427.2 978.7 388.7 1129.2 367.2 1146.8 379.1 929.8 387.9 826.7 429.3 1130.3 393.2 978.5 359.6 1129.9 366.7 934 399.9 941.3 353.1 1056.3 398.1 845 420.4 970.8 400.6 1150.1 359.8 951.4 399.4 962.4 385.9 1059.4 386.2 796.5 395.8 768.1 374.1 822.7 396.9 819.6 413.4 1056.6 363.6 1048.7 362.2 839 422.7 1069.8 368.9 927.3 404.1 933.2 396.7 1121.4 352.9 1150.7 386 796.1 396.4 1136.1 365.3 842.3 410.5 1150.5 366 837.9 411.7 1009.5 420.4 1010.1 380.5 1119.5 363.8 1138.6 402.5 1123.4 375.8 949.6 379.8 880.2 399.7 1128.2 391 945 409.2 839 409.8 956.1 364.2 1117 391.5 975.7 394.9 988.1 415.8 798.9 405.5 975.2 437.5 1103.9 388 788.5 363.7 1053.6 411.2 784.5 349.1 1136.3 394.6 984.7 389 1122.8 395.8 1108.1 421.6 1082.7 395.3 952.6 398.7 876.5 431.4 760.2 377.8 1132.6 400.9 932.4 342.8 949.3 401.2 896.7 400.2 879.1 406.7 1108.6 383 1005.9 365.4 1086.4 376.5 964.9 419.9 976.6 392.9 1082 378 935.7 386.9 1001.2 387.5 895.4 392.9 955 416 1058.9 396.6 964.7 399.5 1069 390.6 876.2 465.5 936.3 396.3 1152.2 404.5 952.4 406.8 798.8 360.2 1091.2 390.5 1089.1 376.5 1075.7 403.6 873.6 421.8 1077.3 397.3 1113.8 383.5 940.3 410.2 1089.5 384.7 975.8 369.8 937.2 388 987.8 371.3 927.7 386.3 833.3 385.8 1152.9 379.4 1077.8 394.5 930.6 408.5 1130.6 373.7 1114.5 376 1119.6 367.9 844.7 442.8 1145 362 824.9 412.9 1084.9 376.6 844.2 409.9 1135.9 359.3 962.1 384.6 940.7 384.2 825.6 408.1 964.3 392.4 1144.4 416.2 938.7 368.1 1085.9 354.1 1065.3 384.2 1128.1 385 1086.6 386.3 876.9 396.9 848.9 377.9 968.7 378.8 1130.3 354.7 824.8 432.7 1122.5 399.8 872.1 415.1 981.9 392.2 956.3 379 953 435.2 1059 404.6 1051.4 393.8 1096.9 400.1 1093.7 415.8 1144.4 396.4 964 379.3 1114.8 383.1 958.5 413.5 1143.7 377.5 935.1 402 1145.6 381.2 1080.8 373.7 1060.4 381.8 1136.8 399.5 950.6 372.9 980.8 394.9 1142.6 361.1 793.3 372.1 836.5 424.9 950.5 371.3 1059.7 376.2 1003.6 382.3 1007.1 383.6 1120.2 372.8 955.2 405.4 1141.1 351.6 819.1 422.9 815.5 398.7 835.9 423.9 1118.6 382.6 1138.1 375.8 962.5 389.2 941.5 382.1 1120.1 382 829.4 438 973.9 396.5 1079.8 379.4 1053.7 389.4 783.6 370.3 1070.6 386.9 832.9 425.5 1002 385.9 1049 388.9 903.5 394 1116.2 388.7 882.2 424.3 1147.9 419.1 1142.2 366.8 898.1 438.1 799.3 380.5 812.5 429.3 953.6 392.7 1149.8 372.4 1001.8 377.3 1054.3 369.9 818.3 421 793.6 397.1 1132 380.3 1119.1 407.8 845.6 439.9 953.6 369 936.5 366.1 1152.9 424.2 965.4 370.8 928.3 416.4 875.5 406.2 927.9 374.6 1086.5 383.5 1118.6 385 815.6 405.3 982.6 402.8 948.7 394.8 1075.9 413.7 827.2 382.1 961.6 380.5 840.3 445.8 1073 375.4 1092.5 397.7 1073.5 407.2 882.9 433 1049 392.8 1044.5 380 1112.3 371.4 945 399.6 994 394.7 934.3 382.1 1145.1 376.8 1139.7 382.3 1151.3 393.6 1070.6 378 900.4 385.2 1063.4 372.7 827.8 474.2 963.6 392.3 1055.2 362.5 1069.8 353 958.9 406 1067.9 393.3 818.6 438.2 1050.8 385.4 820.4 400.9 895.5 412 829.2 409.3 832.3 421.1 1111.2 376.2 1148.2 382.2 1131.8 386.1 1150.4 381.5 1055.5 388.1 1005.9 386.8 1120.4 394.9 1151.6 374.7 769.6 378.3 832.4 394.2 1118.2 366.1 849.5 424.5 986.3 371.1 883.9 401.3 1077.1 384.4 1056.8 378.1 968.9 380.2 848.4 406.4 1130.6 375.4 833.9 429.9 933.8 388.9 1141.5 391 978.5 421.9 960.6 365.2 1056.3 395.6 763.6 372 962.9 387.2 880.4 384.7 821 418.5 1123.4 384.7 959.1 394.9 1117.6 401.5 1077.5 373.2 1049.8 361.6 1104.8 379.3 1062.5 360.2 1119.6 401.6 959 361.8 878.9 408.7 1085.7 360.4 964.2 377.3 1092.1 387.9 947.6 393.1 768.5 376.5 1130.6 382.8 947.9 382.4 827.7 386.4 937.6 361.9 793.1 420.9 1050.5 404.1 1118.5 408.6 1113.3 339.7 947.4 356.1 1147.2 391.6 1071.3 361.9 788.2 408.5 1082.5 379.9 895.5 388.4 940.5 387.3 964.4 376.1 1134.3 391.4 769.4 386.7 827.9 417.2 957.6 403 822.3 451.2 947.2 383.7 1118 401.3 972.9 345.3 811.6 418.6 957.3 419.1 1062.4 396.1 1136.2 369.3 1139.5 408.6 828 397.5 1055.5 375.5 1110.2 351.4 1072.3 396.9 820.8 441.5 964.1 417.4 764.7 391 937.1 371.9 1068.9 426.6 958.5 379.4 924.3 426.1 897.7 400.7 975.5 393 958.8 387.2 1134.5 390.8 794.4 376.4 829.3 417.5 848.9 405.6 768.7 386.4 946.8 403.1 1008.6 406.1 994.2 414.1 1118 401.6 960.3 390 1060.4 396.7 1141.6 388.2 953.1 389.5 970.8 381.9 1056.4 397.4 1080.8 383 1058.7 405.9 1112.9 356.8 1082.2 379.5 1051.8 400.5 839.5 408.9 1056.8 416.5 902.7 439.3 1006.5 387.6 1118.8 395.6 814.4 424.7 1009.5 412.6 769.6 390.7 760.5 356.6 873.4 431.2 1064.8 378.8 1145.4 406.2 1056.7 372 1059.8 397.7 989.7 390.1 978.7 379.3 826.8 440.2 1122.1 375.8 1110.1 373.8 956.8 400.6 974.2 354.4 1049.9 393.7 925.9 362.7 1087.7 392.9 941.8 390.1 1078.5 367.8 1072.8 381.8 817 427.3 955.2 393.9 1135.8 357.3 904.1 394.9 1075.3 420.9 1064.1 386.7 843.6 441.2 949.4 370.3 962.9 404.6 767.5 374.2 765.2 393.6 831.6 402.1 963.6 398.2 785 385.9 764.7 387.5 796.8 394.9 974.6 414.1 942.7 386.3 1047.8 396.4 827.4 416.9 1079 419.9 1129.7 370.3 768.3 371.1 1074.9 359.5 837.7 445 833.3 408.1 1045 380.7 1148.2 392.1 941.7 402.8 939.1 396.1 801.6 391.6 1045.8 367.3 1133.1 360.9 816.7 435.5 929 418.5 896 429.2 814.5 411.9 1121 374.4 1088.7 390.2 1011.5 396.3 957.2 365.6 835.7 464.2 766.5 395.1 976.7 363 1142.8 398.9 1132.6 376.6 873.2 395 1055.5 378.9 1105.9 408.7 1058.7 405.6 958 384.3 827.3 412.2 965.8 406.9 1120.8 357.2 1047.5 395.8 1109.8 382.8 1049.1 347.1 1089.7 368.6 880.5 401.3 879.6 417.8 1048.5 387.8 880.2 417.3 832.2 420.1 1151.3 401.2 1061.8 369.4 1086.4 419.7 1113.8 424 1149 397.7 1050.9 416.8 901.2 414 771.8 392.2 1058.3 378.7 1001.2 401.8 840.3 433 1048.5 380.2 1071.4 380.9 948.7 380.4 899.7 385.4 939.8 394.5 785.8 407.7 1052.6 352.6 1072.7 386.4 881.2 407.4 817.1 432.8 1149.5 356.1 1045 358 1135.5 386 973.1 391.8 933.6 367 1122.4 386.2 924.3 387.7 773.3 406.7 1004.4 393.9 770.1 395.8 962.4 382.4 1052.9 376.9 944.4 423.4 1149.4 415.6 837 421.3 1047.5 409.6 847.5 384.7 773.3 341 1150 385.3 1048.4 389.3 761.9 381.8 831 418.5 1126.7 367.5 946.6 399.5 1114.8 393.6 875.9 406.6 1142.3 394.4 965.3 367.8 947.4 383.4 1047.1 399.7 823.2 435.2 1064.9 413.8 1088.4 386.6 943.1 382.2 1060.7 388.4 957.9 382.7 830.4 409.7 897.2 456.5 882.9 414.5 934.9 397 1048.4 392.1 1142.2 380.4 1081.7 384.5 818.1 387.7 771.7 392.2 823.9 407 1064.5 371.1 877.3 393.8 970.5 409.7 1110.9 393.8 1126.8 393.5 1067.2 375.4 893.2 398.1 1129.7 395.3 821.2 435.9 1078.6 356 1006.2 394 1047.3 397.6 1106.7 378.1 1118.8 379.5 1070 380.5 1106.3 376.8 927.8 397.9 902.7 414.3 846.6 387.7 964.3 359.5 1081.7 398.5 1149.4 367.2 1088.1 353.4 1068.2 392.4 1054.8 394.2 821.5 430.7 1086.4 388.7 1139.3 356.9 951.1 382.6 1072.9 426.7 946.9 387.2 841.6 413.6 959.9 393.3 1111.3 346.3 1072.5 390 1126 393.3 993 423.4 948.3 415 902 399.8 988.9 409.2 838.4 420.2 999.7 386.5 1066.5 399.3 1064.9 393.7 954.9 375.1 828 428.1 1004 412.8 1011.2 395.4 847 420.5 1114 403 961.1 408.9 901.8 402.7 786.8 384 1136.2 364 1066 425.4 1119.8 388.2 1074.9 405.8 1146.2 379.6 846.8 442.1 849.3 421.5 826.1 404.7 895.1 415.6 1125.5 376.6 813.2 420.9 948 384.7 938.1 365.7 1107.8 384.3 843.8 422.1 1054.1 392.6 1085.2 433.3 1067.6 394.2 1143.7 393.3 1145.7 377.7 788.3 391.1 840.6 420 1111.6 380.6 1047.9 384.8 957.5 386.1 1062.7 362.7 1054.9 385.7 884.2 412.8 1126.7 356.7 1063.4 386.5 931 369.8 970.1 374.8 1137.1 400.3 1122.8 383.3 1047.4 341.9 932.5 380.1 828.7 407.7 825 446.5 960.7 385.5 1140.5 433.2 963.1 400.5 835.6 438.6 936.4 390.8 1106.5 389.4 928.7 374.2 1049.5 383.6 1050.2 424.7 823.1 416.6 962.7 394.3 829.3 419.9 1060.6 374.1 1057.3 387.9 1084.8 391.1 956.5 415.6 941.8 350.4 982.9 409.8 1067.8 388.6 848 437.2 1065.3 399.3 943.8 408.7 1047.2 392.8 1097.6 377.1 1125.2 374 813.6 408.8 951.1 393.9 965.6 402 952.4 374.5 947.2 394 769.9 406 878.1 411.6 814.4 388.4 1080.5 336.7 878.6 413.4 1079.4 373.7 1143.9 387.1 1050.9 389.4 816.9 420.8 1095.3 375 1133.6 384 1007.5 387.2 1129.5 368.5 831 412 768.5 370.7 1073.9 363.5 1049.7 388.1 875.4 455.2 822.7 417.7 955.6 402.4 1139.7 375.5 1074.2 399.7 1133.8 378.9 819.5 396.5 963.7 410.1 832.2 401.8 824.9 405.9 928.5 393.4 1125.1 352.2 937 398.4 990.6 396.2 1145.8 361.6 1065.2 371.8 961.3 387.5 1063.2 395 949.3 397.1 823.5 417.1 833.2 387.7 1095.3 399.6 1047.9 384 793.4 377.9 1076.3 385.9 815 406.5 938.1 365.5 1111.8 384 1074.6 386.3 1133.3 381.6 1093 351.3 1070.4 416.7 774 393.5 940.8 424.5 897.4 393.4 1081.5 388.1 772.6 389.5 1122.8 406.8 1055.4 406 1073.3 373.8 1134 394.8 842.2 426.4 874.6 423 1050.5 393.7 832.7 432.2 1114.4 367.6 1064.6 371.2 1106.3 377.6 826.1 426.7 789.9 379.7 969.2 365.8 1068.1 358.3 987.9 394 797.5 387.6 826.7 446.8 930.4 397.7 836.7 410.9 1116.1 374.9 991.6 373.5 1003.8 384.3 967.2 388.9 945.6 396.4 818.1 396.6 1139 394.5 799.2 361.7 1059.9 377.7 1118.9 396.9 1149.5 390 1057.9 374.8 769 382.9 1108.4 366.1 830.6 399.4 993.4 387.1 1066.1 405.7 978.9 398 1132.8 409.9 759.1 381.9 773.7 418.7 1063.5 372.6 820 411.9 1085.2 352.3 1046.6 407.1 1074.5 372.2 950.6 375.2 942.4 361.5 1111.8 384.9 955.9 353.1 788.1 382.2 1084.6 346.2 956.1 381.3 1062.6 400.3 1065.5 372.1 895.2 420.1 962.3 407.6 1141.8 376 902.3 409.9 935.7 393.5 1121.3 378.6 994.6 375.2 1150.6 389.8 934.4 411.4 825.3 401.5 895.7 411 1120.6 392.9 1063.1 402.5 957.5 393.3 931.4 387.1 956 388.6 938.3 349.5 1057.6 386.9 1064.4 379.5 1044.1 407.3 882.2 452.5 963.1 396.1 1051.8 366.8 952.1 387.2 768.8 385.5 936.9 354.6 899.7 385.1 927.9 353.1 981.9 362 934.2 409.6 1046.4 392.8 1008.7 402.2 838.6 418.1 899 382.3 954.6 376.2 1074.2 385.1 844.5 377.2 812.4 434.8 954.6 378.8 795.9 387.9 772.2 392.2 1102.3 363.4 1145.9 362.3 1128.4 392.3 1139.4 372.4 1127.5 347 1127.6 409.6 849.5 424.7 1128.7 384 970.3 407.2 1102.5 413.1 814.3 437.6 1109.4 379.1 1047.8 359.8 1076.5 405 1069.2 391.7 831.9 402 821.8 424.7 928.9 382 1073.9 414.4 789.8 377.7 931.4 393 978.5 359.7 1128.9 384.2 1145.1 395 775.5 392.3 965.6 378.3 824.9 401.7 1048.4 383.8 1061.9 385.3 935.3 387.2 1009.8 403.8 990.4 425.8 1063.3 379.9 1149.3 393.8 1110.9 389.2 800.7 420 1097.2 375.8 792.1 380.8 830.4 412.1 774.4 373.3 892.8 418.7 903.3 398.6 1105 377.2 1056 370.4 943.8 387.3 1066.3 385.2 849 406.9 976.2 386.9 1010.5 405.2 760.2 372.5 946 369.2 766.2 392.3 795.5 376.8 1058.4 379.3 985.5 412.1 958.2 359.5 1049.9 393.5 1066.8 363.8 935.5 400.2 762.5 385.3 1012.2 394.6 1124 370.8 762.5 362.2 1061.3 396.5 953.2 413.3 966.3 425.5 899 376.3 840.2 384 769.4 401.1 845.7 415.4 798.5 400.3 977.5 372.5 768.8 367.4 1060.9 374.6 1128.1 360.3 1145.7 395.7 1107.8 394.6 935.6 372.7 1114.1 378.6 794.2 405.3 901.3 407.8 975.6 364.3 1048.3 344.8 933.8 402.3 1149.5 355.7 841.5 411.3 797 389.3 930.1 414.4 980.3 400.8 975.2 393.4 1129.2 352.2 998.5 392.8 1055.5 375.1 1121.5 382.1 1111 363.8 944.1 393 1138.5 384.7 1098.1 410.3 835.2 442.9 877.7 404 976.7 398.3 980.2 399.9 958 420.1 1055.3 364 953.9 397.1 1124 402.9 834.2 423 1146.5 383.8 830.2 416.4 1056.5 385.9 1044.6 391.4 1111.4 371.4 1051.3 402.3 1070.1 367.3 1077.1 417.4 1062.2 379.4 1126.9 393.5 1134.5 420.8 770.3 402.5 1058.4 345.1 893.6 402.4 1088.2 386.7 1088.5 400.5 1120.1 387.3 841.6 423.3 833.1 413 976.7 402.8 927.4 409.4 1069.6 396.4 1045.2 373.5 774.6 407.3 1132.6 407 1135.4 370.5 848.4 419.1 879.3 425.7 993.7 394.1 989.2 390.6 943.5 383.6 1047.9 412.5 815.5 434.2 1088.6 385.7 949.3 373.3 1062 384.8 973 406.5 1130 338.1 1066.6 387.8 974.1 380.8 1108.1 348.6 761.1 399.5 770.1 413.7 827.3 382.3 926.8 384.9 954 378.3 1136 405.9 950.5 387.5 1053.9 384.8 1105.1 367.3 1093.9 410.8 1144.9 382.6 1082.4 381 826.6 410.3 1125.7 405 952.6 390.7 1044.2 379.4 901.7 431.4 949.7 407 981.5 378.5 822.6 409.3 949.8 380.5 956.5 359.1 786.9 418.3 1108.8 395.4 974.5 418.4 1067.3 403.5 1079.3 396.5 947.9 402.3 1091.3 398.1 1079.5 390.4 802.1 387.4 795.3 372.9 770.1 378 1089.7 400.7 1074.5 381.5 900.3 404.8 835.8 444.9 873.1 401.7 902.5 392 946.4 400.8 977.3 403.6 1101.7 359.2 1126.9 387.1 801.4 381.4 759.7 407.5 972.3 394.6 881.3 392.8 1067.7 396.5 837.7 400.5 1067.2 408.3 967 355.5 942.3 407.2 1104 374.9 767 360.7 1069.3 394.3 796.2 414.5 1069.1 377.3 766.3 381.9 849.6 406.3 842.8 403.3 947.1 366.2 946.4 362.2 1148.9 380.9 969.3 396.4 1051 379.2 903.8 410 1082 388 1009.9 411.1 999 403.3 925.6 370.4 829.5 387.8 1132.6 425.3 1108.3 384.8 1146.4 407.4 971 328.6 1126 380.1 936.1 345.9 839.1 420.4 1083.2 377.8 1078.7 403.2 1045.2 396.9 1123.7 395 1063.9 359.2 1127.4 401 992.1 407.2 1047.4 380.3 1130.4 393.8 1123.6 392.5 819.7 419.9 967.5 391.1 959.8 377.5 1066.8 379.6 833.7 430.6 882.5 415.5 1119 367.2 1139.8 378.6 991.4 367.5 1082 353.8 1125 404.5 897.8 366.1 895.9 372.4 835.6 441 820.5 414.2 968.2 357.2 901.6 412.8 940.5 395.6 759.9 385.3 1149.1 402.5 950.9 377 1051.1 384.9 816.5 417.4 1150.1 384.8 1064.3 378.5 1058.6 396.4 931.7 362.9 1048.9 411.7 955.3 407.6 1052.2 374.8 980.4 421.1 1067.8 381 1081.1 374 848.4 397.9 775.6 406.3 935.3 379.6 1128.2 385.9 1110.3 414.8 880 405.3 1058.5 359.5 1048.9 374.8 940.2 382.7 1052.2 343.1 1007.2 412.9 958.1 378 952.8 394.2 957.5 376.4 791.9 394.9 965.4 370.9 963.1 394.3 1128.4 359.3 1045.2 364.4 878.3 387.2 1117.4 403.3 984.2 417.2 1119.2 378.2 936.2 397.8 785.2 402.7 1067.9 384.1 992.7 418.8 1107.6 396 1116.3 402.1 955.4 399.1 931.8 385.6 1142.1 396.1 1049.4 382.1 761.8 401.4 1106 377.4 929.8 391.8 959.1 404 1065.9 398.7 1148 370.6 942.3 387.9 1048.1 386.2 880.8 418.8 950.7 411 1116.1 399.9 1057 341.9 1053.6 369.9 1127.1 358.7 833.4 402.9 969.6 379.9 965.9 405.9 772.7 369.2 1133.1 375.9 962.4 374 1140.2 389.6 759.3 374.2 958 381.3 1151 397.5 973.9 399.8 941.9 425.4 815.6 415.5 1057.3 435.5 936.2 396.9 1122.7 406.5 997.3 381.6 1131.7 363.5 1008.7 386.3 1068.4 364.6 1137.5 382.7 991.2 388.9 960.8 417.7 842 425.3 1044.9 374.3 1089.4 361.9 1004 386.9 831.1 435.7 928.2 369.8 970.3 400.3 772.5 381.1 932.4 382.5 1059.5 369.3 984.1 393.7 955.6 394.7 1128.2 386.5 950.3 400.7 1079.9 404.7 935.7 418 925.4 394.5 1073 369.6 1055.7 381.3 1065.1 353.9 817.3 445.8 957.8 405.1 759.6 392.9 1053.9 374.7 1048.1 370.5 819.3 423.8 766.7 390.7 1150.7 381.1 1047.8 401.1 1138.8 392.8 1141.9 422.4 873.5 425.1 1131.5 363.5 820.9 440.8 900.9 411.5 820.1 393.9 944.7 389.8 762.3 379.4 977.5 374.5 820.9 472.1 1070.8 383.4 1059.4 373.4 1150.4 385.2 838.2 427.9 816.8 430 942.1 422.1 826.9 422.7 892.4 416.1 1121.4 360.1 1011.3 400.5 935 390 995.4 372.4 947.3 389.6 1065.1 416.1 1140.1 392.4 1150.9 379.2 1125.9 392.5 895.1 401.6 1089.5 406.3 793.9 380.3 948 385.6 1111.5 395.7 1107.9 359.6 933.4 395.3 1080.2 415 1142.9 377.2 763.4 408.5 1082.2 382.9 1133.5 393.3 844.8 401.3 980.3 388.6 1061 392.2 1123.4 381.7 947.8 397.3 836.6 437.5 821.9 435.5 1114.7 388.9 1140.9 372.2 956 397.8 828.1 427.5 1055.9 386.1 817.7 410.3 1150.3 369.9 1092.4 407.7 842.8 435.9 837.9 411.9 948.7 383 826 420.6 994.3 380.8 1061.3 386.5 951.5 391.3 1150.7 361.9 1052.3 401.2 836.3 414.2 931 375.8 834.3 395.1 1074.4 389.2 1136.3 392.3 1113 350.2 1054 370.4 1059.4 421.2 949.5 397.4 1106.4 393.5 767.8 374.3 1064.4 355.9 961.9 370.9 1003.5 390.5 990.7 424.9 971.8 393.3 1129.8 393.7 813.7 411.5 796.2 391.9 1062.4 376.6 776.9 392.2 1078.8 375.8 1012.4 374.8 794.1 400.9 895.6 400.2 967.3 391.8 1137.8 393.2 789.5 382.1 1057.8 388.7 946 424.1 1144.8 401.5 1122.2 406.2 812.6 420.1 772.7 385.1 940.2 425.6 1091.3 344.8 831.2 425.7 1049.7 356.3 791 397.3 760 398.8 953.3 418.4 769.1 393.7 899.4 375.4 824.9 401.2 1077.9 375.2 834.3 426.1 1116.8 396.2 942.4 395 901.4 376.8 1060.6 369.6 842.5 408.3 1004.9 387.8 977.1 365.2 1123.5 376.5 775.9 403.3 838.8 421.4 965 418.8 931.8 415.4 948.8 408.1 1139.6 408 963.4 390 897.7 393.4 948 407.2 764.9 396.2 1135.9 383.6 847 405.9 787.5 446.3 962.9 387.8 848 417.1 987.5 405.5 799 391.3 1140 348.3 1045.3 363 1147 381.2 1010.1 371 947.9 378.1 1010 371.8 846.2 398.5 929.3 401.7 1071 396 882.9 407.1 995.4 389.2 1109.2 380.9 1049.1 409.7 792 392.1 875.9 432.9 1138.4 389.8 1044.2 357.5 879.3 431 883.4 389.2 1123.4 383.1 1078.3 412.3 1133.4 391.5 955.2 399.7 759.8 389.5 877.8 403.9 775.8 409.6 956.8 395.1 1134.3 380.2 1117.8 411.3 1110.7 387.6 982 383 878.8 417.2 931.8 418.5 1124.7 395.5 903.3 411.2 1047.1 379.7 1119.8 381 938.8 380.2 990.3 375.6 1075.1 367.2 1113.6 399.7 1088.3 422.6 797.6 411.9 825.5 415.3 1109.6 379.3 969.6 376.3 795.1 404 1121.5 393.2 1050.3 394.3 774.8 396 942.8 379.3 1007 414.4 1005.2 369 1073.3 389.5 845.1 408.7 958.9 377.3 1130.6 399.2 1121.1 395.1 961.8 401.1 958.6 416.1 1080.6 351.7 962.6 371.7 902.8 377.8 883.7 410.1 790.2 406.5 833.7 434.4 1054.8 400.8 978 359.5 1074.3 388 972.1 391.7 766.5 375.3 1068.4 364.1 758.4 381 874.9 396 958.6 392.9 1069.3 379.3 771.3 345.1 840.7 419.6 826.9 414.3 983 397.9 1064.2 391.5 930.4 377.2 837.3 394.1 1106.4 364.5 848.3 410.7 1051.9 394.5 1128.7 412.5 947.6 378.4 975.1 382.4 884.2 418 1082.1 379.8 974.2 400 1125.1 387.7 959.4 406.3 1055.5 370.4 958.9 399.9 1142.6 392.1 1136.9 378.2 936 419.6 798.1 405 1139.2 413.1 1064.2 398.7 997.8 402.3 1128.9 384.6 982.9 374.6 896.3 413.1 1044.5 380.9 952.8 390.7 1087.8 422.1 1011.9 366.1 960.7 371.5 1106.6 402 789.8 363 842.3 403.5 974.7 392.4 1072.5 411 1124.5 384.1 1081 404.7 819.9 404.4 1065.4 390.6 1114.7 392.4 903.6 393.7 768.7 370.1 1063 366.8 989.1 373 1068.7 364.4 834.4 381.8 790.5 410.5 945.7 386.3 954.9 404.1 827.8 421.7 977.6 373.7 993.3 386.6 794.4 395.3 1112 416.4 1118.2 376.6 842.7 416.2 1056.5 391.1 1135.4 394.8 892.5 408.1 1129.6 390.5 987.3 388.7 1081.4 380.5 1064.3 345.8 997.4 389.6 1012.1 412.7 836.7 401.2 1067.6 395.5 945 407.2 959.2 386.9 963.5 405.5 1149.1 369.9 1141.5 372 939.3 415 1114.4 404.9 931.6 394.3 1079.5 365.2 848.8 393.4 1009.8 381.3 1119.1 384.2 937 421.9 1119.2 379 937.2 368.7 872 427.5 1111 366.6 1009.8 406 774.5 383.6 1063.5 386.6 1080.6 386 1143 365.1 839.2 430.5 949 383.8 928.3 356.7 829.4 411.4 847.9 421.7 1067.6 364.4 835.9 410.8 776.7 399.4 1052.3 405.5 1084.1 385.2 1108.7 384.4 1063.1 386.3 1052.5 379.5 769 380.1 1146.1 385.7 1083.1 417.5 1131.5 399.4 1005.5 427.4 818.9 438.1 1123.4 362.4 1068.2 364.1 1089.1 409.8 997.3 409.1 895.3 396.2 1044.2 378.9 832.7 432.4 1057.9 363 1081.6 390.2 1078.9 394.2 1141.9 394.6 935.5 397.1 1142.2 386.8 1063.4 396 1046.3 381.4 928.7 371.8 1141.3 398.5 815.8 429.9 881.6 384.5 1107 398.2 878.5 418.8 1113.9 388.3 992.4 412.7 1145 390.5 835.2 402.2 819 412.5 1052.9 386 1112.4 376.6 821.8 399.8 825.4 403.1 1048.1 329.9 829.5 413.7 956.8 379.2 830.1 425.6 1078.2 404.9 1108.6 394.3 1001.7 379.4 966.3 398.3 949.7 390.5 955.6 400.8 1139.3 403.8 1051.3 388.9 904 382.1 895.9 393.8 989.2 385.4 1073.1 377.5 1079 378.2 761 381.2 774.6 391.2 1082.9 369.4 894 385.9 898.9 430.4 1069.3 385.1 1068.7 346.6 765.6 410.4 965.3 415.4 818.8 420 1009.1 359.4 1049.2 352 799.9 401.1 982 383.9 1052.6 377.1 900.9 418.9 1128.3 383.1 1137.6 365.9 783.3 406.1 932.1 392.6 1134.3 392.9 1138 391.6 794 407.8 932.8 400.9 984.4 401.9 1119.9 385.8 894.4 395 967.6 369 962.6 386.9 896.1 403.1 901.3 416.6 1113.7 379.5 1141.1 375.7 824.2 408.9 1117.1 400.2 1121.6 403.5 946.2 388.4 1061.9 350.2 957.8 401.8 958.3 409.7 946.4 416.3 1153 405.1 974.5 403.8 1073.7 372.8 1139.1 367.9 1106.6 387.7 933.9 397.8 1138 393.8 831.2 414.7 811.3 417.1 964.2 392.8 1007.3 398.5 1131.8 398.8 1140 393.4 1091.6 393.5 842.1 408.1 970.9 371.4 1119.8 371 840.2 428.9 1124.9 382.9 1135.5 387.6 1136.3 385.1 1087.5 394.1 1120.2 397.5 896.4 396.9 895.4 392.8 1001.2 383.2 1049.1 385 1058.5 403.3 1052.9 377.8 839.6 408.4 1119.8 377.6 955.8 426.6 946.6 405.7 893.9 388.9 1110.8 404.5 1138.6 392.1 1123.1 419.7 817.6 419.3 842 457 844.7 415.7 827.2 425.8 980.7 417.8 958.6 379.1 818.5 398.7 1134.6 386 1011.9 380 762.8 383.4 776.4 374.6 946.6 413.2 819 441.5 827 414.4 874 381.5 973.4 355.8 844.1 448.3 1047.7 381 899.2 412.6 974.9 393 972.9 398 892.8 429 928.6 395.6 835.2 368.5 945.6 382.4 786.1 359.6 828 440.6 833.7 424.2 958.5 418 966 389.9 877.4 415.3 1133.3 398.2 1123 393.8 1151.4 389.7 974.8 377.2 938.9 387 791.4 383.5 1080.8 393 873.2 367 1118.8 396 816.1 425.4 950.3 351.8 1128 373.5 1147 365 943.1 390.4 830.3 411.3 932.2 391 786.2 397.5 954.5 361.8 1071.2 375.8 1051.7 369.5 877.7 412 954.4 376.8 1115.8 396.2 1148.9 381.5 953.5 382.8 1059.9 405.4 871.8 425.1 945.6 396.4 954.6 381.3 1128.6 389.4 1128.4 390.4 1130.1 387.7 813.4 415.7 960 393.6 944 401.1 1066.2 400.9 951.7 375.6 950.4 403.8 1046.5 382.4 1145.5 382.9 931.7 391.8 1113.1 392.1 1134.7 393 1101 412.9 1120.6 357.8 941.2 407.1 874.1 400.1 1068.6 361.7 932.8 409.1 936.9 368.4 1053.1 397 1054.6 392.4 1111.6 357.5 875.1 423 875.7 453.5 1116.6 390.1 944 422.5 972.7 404 765.7 376.2 1057.2 379 835.1 423.3 1125.7 362.5 873.3 441.5 1129.6 364.5 1133 389.9 845.5 428 1146.6 416.7 1129.1 375 1130.4 382.8 966.5 372.1 944.3 388 771 384.5 795.4 358.8 1105.1 390.8 930.3 417.3 931.6 381.9 943 426.5 788.6 382.3 1139 393 1139.2 395.5 762 386.1 928.5 406.1 838.6 439.5 776.9 404.1 1070.6 378.1 954.3 385.9 960.5 371.8 789 380 956.9 394.9 1150 360 879 410.2 1148.2 391.8 1136.2 406.9 769.5 384.3 835.6 393.4 789.9 353.8 902 392 939.6 381.7 842 415.8 1071.5 386.5 1130.9 367.5 944.4 387.7 1081.3 356.4 1141.5 406.6 948.7 381.3 1051.7 388.9 1136.3 414.6 1141.7 390.4 787.2 409.8 941.1 418.8 825.6 411.7 1046.7 385.8 1143.7 381.1 801 411.6 963 361.5 1134.1 387.3 1136.7 335.5 815.2 445.8 1060 387.8 1132.4 371 843.2 429.8 882.1 432.5 1002.8 406.4 1055.8 386.6 938.2 399.2 1046.6 399.8 1138.3 410.6 1010 374.8 1098.5 375.6 1049.4 372.5 961.2 378.9 1139.3 372.4 984.8 382.2 1075.1 397 1086.5 378.9 904.6 395.8 1011.2 383 836.7 417.2 882.1 419.2 876.7 397 1110 389.5 1119.2 374 936.2 391.5 1130.5 376.8 900.5 395.7 1058.7 381.9 1084.1 395.8 973 401.6 1063.4 380.6 948.4 395.8 991.4 396.9 1135.2 391.5 950.8 377.7 963.2 390 1149.1 410 881.9 422.8 874.1 391.7 1057.2 374.2 1000.2 402.9 964.7 403.6 946.7 411.8 1132.5 397.6 960.9 388.2 946.8 393.9 1078.3 382.6 765.2 379.3 1060.9 383.4 1075.3 393.1 1057.9 386.7 775.1 404.2 1080 377.8 1044.9 373.5 962.4 412.6 1078.5 380.1 1142.1 382 832.4 411.4 1063.9 369.1 1112.4 414.4 801.6 347 1117.5 406 1080.9 383.5 1147.3 390.1 837.2 393.4 1099.6 359.4 1061.6 385.7 1106.7 378.3 1074.4 396.9 953.1 411.8 843.2 411.8 1079.4 393.7 1076.6 376.2 1137.3 360.6 970.3 394.1 1137.7 404.4 1063.4 379 1085.5 410.7 1058.8 379.7 879.5 438.6 822.4 420.9 1006.1 392.4 1151.1 388 825.6 442.4 814.7 404.8 943.4 420.4 1076.8 388.7 948.9 355 900 406.7 793.5 378.5 843.3 379 1133.9 382.4 954.3 404.4 1120.3 387.2 953.7 365.2 944.3 375.4 785.4 383.6 819.7 397.5 792.8 394.3 787 404.5 1130.4 388.2 1003.2 377.6 1130.5 367.4 842.5 418.4 1129.2 374.4 1132.8 384 832.7 396.8 1082.4 372.4 1140.2 358.3 1114 403.9 1151.2 388.9 1077.5 398.8 1047.4 412 928 385.6 981.7 411.6 1003.7 376.2 762.5 404.2 1123.4 359.9 831.1 387.3 1107 399.3 971.9 399.7 992.3 397.3 1059.2 403.8 973 399.3 1075 407.9 957.8 371.7 1057.2 372.6 1139 391.4 1149.7 406.8 984.1 373.1 846.2 423.3 953.2 390.8 943.4 361.5 1006.4 376.4 1120.2 388.9 1128.3 370 1065.8 387.8 1137.1 372.8 823.5 422.4 1065.4 374.3 848.7 425.2 798.6 386.5 1133 385.2 933.6 403.7 839.7 400.9 937.9 379.9 956.4 384.6 897.1 448 933 390.6 894.4 398.9 829.6 415.5 1070.7 422 829.6 394 1134.9 390.2 1073.2 359.9 1081.8 395.9 934.3 383.4 1072.4 382.8 958.1 418.4 830.9 410.5 1124.6 388.8 1049.2 394.8 819.1 453 1077.9 362.1 978.5 365.6 945.7 370.7 818.3 392.3 959.3 380.8 957.6 392.7 925.3 393.1 823.5 430.9 935.7 371.3 812.2 442.6 844.4 404.6 927.8 396.6 1051.7 393.1 1060.9 384.6 799.4 398.9 767.6 367.7 1152.7 391 1148.8 362.5 1052.1 346.3 1134.4 362.9 1045.3 401.1 818.9 422.5 1108.1 377.6 1083.2 383.8 881.8 420.6 1072.3 400.7 1088.7 391.1 769.2 394.4 948.3 371.2 842.7 394.5 942.9 367.9 1124.3 366.3 1147.4 417.7 883.9 473.8 1109.2 366.8 815.9 399.8 931.5 401.7 933.4 403.7 893.7 385.2 801.2 407.4 820.7 415.8 930.7 397.6 1136.6 398 826.2 410.6 1058 367.1 946.7 388 949.2 402.5 1152.6 372.3 759.7 388 1065.5 360.2 1139 403.6 1109.2 365.8 1072.1 369.6 836.1 404.7 835 401.3 939.9 388.3 949 392.4 1001.2 353.8 1065 395.6 935 422.6 1127.2 409.6 787.3 431.4 792.9 390.5 819.9 395.6 970.3 387.4 769.2 380.3 1053.8 394.6 991.8 365.9 1138.5 397 1140.5 393.6 898.7 409.1 1005 378 1110 382.9 931.3 391.9 838.5 438 1118.2 382.3 943.7 388.8 1140.5 371.8 894.3 389.6 951.4 390.3 1055.8 373.9 940.3 396.3 812.7 457.8 1072.9 377.7 969.6 411.5 844 429.2 1068.4 365.6 1141.8 400.7 1072.8 400.1 787 381 1074.8 418.5 878.6 418.8 1061 369.6 1108.8 400.5 812.5 406.2 847.7 422.3 817.9 408.8 960.1 401.6 1085.6 377.5 1045.9 420.2 1071.3 332.2 1071.6 383.1 1128.9 409 931.2 354 1098 376.9 968.4 406 828.1 445 1128.9 396.5 1118 365.1 837.8 427 963.5 405.5 844.6 417.6 784.3 403.2 962.3 352.1 820.5 403.2 849.4 446 776.6 370.8 989.8 391 1120 416.5 1066.4 366.4 1044.6 412.3 1072.1 379.7 977.2 391.6 875.7 418.6 929.6 368.8 849.2 416.2 1068.4 395.3 763.4 358.6 822.4 411.5 1133.3 402.5 945.6 399.4 1048.9 398.9 1138.5 371 941.6 430.5 897 428.9 797.3 385 1087.7 432.2 1049.7 394.6 842.4 420.9 1130.3 360.5 1108.4 395.7 929.3 388 895.4 400 1049.5 363.8 1122.6 370.6 1070.3 421.1 874.4 415.2 1065.5 375.4 1061 383.5 1065 390.2 969.9 414.2 771.7 368.5 819.7 418.1 1111.7 373.7 948.1 403.3 768.5 388.5 1006.5 396.2 827.1 392.8 1115.1 373.2 822.3 408.4 1000.3 385.5 789.1 395.7 1067.9 377.4 991 390.2 1059.7 367.1 943.9 376.1 1133.7 382.8 1108.6 370.6 967.9 395.7 877.3 435.1 1146.3 391 1044.2 357.8 1084.4 363.5 1119.4 397.7 1011.3 363.3 935.9 364.3 932.8 380.8 1076.2 374.1 1005 400.2 1147.9 386.7 893 380.2 944.9 420.9 826.8 419.2 1114.7 358.9 816.9 426.2 932.1 389 1114.5 410.1 878.7 413.2 1070.3 367.4 1078.9 367 1085.5 391.7 1007.2 387.7 1056.7 362.6 1060 405.8 1078.9 370.1 758.8 389.9 1147.4 395 987.5 368.6 1125.3 401.6 950.8 376.1 1119.3 378.9 970.7 399.4 837 406.2 950.3 366.7 930.8 394.1 1146.8 372 935.6 376.6 816.3 403.8 956.3 409.7 930.6 380.2 997.5 401.4 764.3 385.5 935.8 390.1 1125.8 380.4 984.5 390.7 995 379.4 975.1 396.8 947.1 380.9 875.8 431.6 972.7 402.1 993.8 401.4 1139.2 379.9 798.4 381 933.4 378.1 956.9 408.2 1145.4 369.3 872.5 391.6 1055.9 410.5 950.1 381.4 1065.7 364.5 958.3 378.8 813.4 460.2 1063.8 358 925.3 381.9 1078.1 400.7 1117.8 397.3 933.1 392.7 1087.2 368.2 952.2 401.3 994.1 393.9 1069.1 400.2 933.5 369.6 819.1 381.2 967.1 422.6 1054.4 402.3 764.2 390.8 903 388.3 901.4 383.9 1083.3 378.3 1117.3 382.6 1082.8 385.8 1085 397.6 1144.4 369.5 955.1 363.8 1068.9 370.1 937.4 374.2 1146.9 399.5 825.5 417.7 945.6 424 1049.5 397.1 978.9 331.2 832.9 398.2 1049.3 411.5 981.1 376.9 971.2 398.4 1004.8 377.3 836.9 430.3 948.9 373.2 1105.1 367.5 820.1 439.4 1081.6 374.3 960.5 389 1139.8 405.5 837.7 425 961 385.5 766.1 382.7 1044.1 388.1 961.8 400.6 801.9 404.8 878.5 441 944.7 349.8 1059 381.2 1053 379.9 970.7 375.7 839.8 390.2 883.6 369.6 1145.3 369.8 1064.6 369.8 1151.2 380.1 936.4 410.2 842 415.1 938.8 395.1 1086.1 373.3 1128.9 368.1 937.9 392.4 1118.8 375 1113.3 405.6 949.1 391 978.4 386.9 1092.1 404.2 1071.1 383.6 828.7 410.4 832.4 423.7 797.4 364.5 876.1 455.9 982.7 389.9 1116 402.8 970.1 405.4 935.6 399.1 1140.5 396.5 1141.4 343.9 875.8 385.3 1144.8 386.1 765.3 392 1059.5 361 1083.4 372.2 847 382 1089.8 391.7 1074.3 368.7 761.1 409 816.8 402.8 1063 362.4 1050 358.2 873.2 427.2 1137.8 368.5 893.7 420.5 1117.2 391.8 784.3 355.6 825.9 448.2 969.4 409.7 1056.7 345.2 992.6 376.1 1118.1 423.3 819.1 435.2 1118.4 368.8 1052.5 380.3 939.9 392.3 774.5 411.5 926.5 388.9 1152.4 360.3 1085.6 400.5 1073.2 353.7 939.7 386.5 1098.4 347.9 948.2 381.8 934.5 372.8 1129 399.2 838.8 439.1 800.2 369.5 1010.6 391.4 1078.6 382.8 1108.5 421.7 1140.3 397 1059.7 369.5 882.7 385.5 819.9 421.1 1136.8 395.4 1080.1 404.7 825.6 414.6 1113.9 392.9 830.8 416.9 825.2 405.4 1067.8 380.6 1058.6 385.8 1150.6 381 816.7 441.3 964.8 410.8 898.4 423.9 844.9 418.5 1075.3 379.9 1128.4 362.9 1141.4 368.3 1068.8 372.3 829.8 407.3 934.2 378.5 840.9 405 1076.7 357.7 1138.1 391.8 832.1 434.2 954 387.9 802.1 373.6 999.9 393.9 1113.3 375.6 900.8 413.3 936.1 410.5 1101.5 376.1 991.5 389 758.7 394.7 950.5 378.8 1077.7 361.9 1078.1 349.4 1118.2 411.9 1056.9 383.4 947.3 387.3 952.2 402.5 938.9 402.4 1000.4 410 972.6 414.8 897 426 1121.5 387.5 798.3 395 825.4 440 1075.4 368.4 1058.2 388.6 938.7 364.8 767.1 396.8 1121.1 368.3 933.7 413.4 796.3 377.5 939.1 391.4 946.7 373.3 1086.5 388.3 933.1 416.1 762.3 381.1 768.4 392.4 944.3 375.7 945 378.2 936.2 404.6 1142.7 405.3 1133 413 1130.7 421.6 1054.1 422 814.4 427.1 829.5 419.7 1071.2 384.6 981.5 378.3 766.4 383.8 1119 417.3 1069.1 375.4 1083.3 417.1 791 359 943.6 386.7 1057.8 382 1080.8 371.5 961.3 369.8 1045.3 384.9 932.1 402.7 896.1 384.6 812.4 446 872.9 427.3 1147.9 339.5 960.3 423.9 1107 411 1060.5 401.3 1107.9 356.4 1078.3 382.5 1147.5 399.1 962.8 375.2 963.2 390.3 1151.6 401.6 1067.5 418.1 944.2 394.1 898.6 455 1113.8 424.8 976.8 394 1071.4 370.7 801.7 411.9 1133.4 395.1 1127.5 386.2 1046.9 384.5 766.9 394.6 941.9 356.7 1125.3 383.2 835.4 420.1 840.3 424 1144.1 400.9 1078.4 355.6 1077.4 395.4 971.2 372.5 839.7 419.3 1135 408.4 960.4 367 884.4 436.7 1117.7 355.2 1049.9 374.6 1001.3 373.6 837 396.5 815.2 402.8 792 378 1077.9 404.9 815.1 414.6 825.3 401.8 1132.7 370.7 876.4 396.9 1052.3 396.1 1141.6 374.2 1081.7 393 1114.6 391 962.7 378.3 813.3 428.8 947.4 397.7 1046.5 385.7 816.1 428.7 1074.1 397.7 844.7 417.7 1136.4 368.5 1067.3 358.8 773.2 370.7 882 439.5 940.4 376.9 1115.2 402.1 835.2 432.1 1152.7 359.8 768.3 386.3 900.6 404.9 1118.6 370.5 934.1 426.8 974.5 400.2 1148.2 370.8" fill="none" stroke="none" marker-start="url(#or)" marker-mid="url(#or)" marker-end="url(#or)" />
<path d="M912.4 418.4 1021.9 392.7 861.1 464.9 781.9 368.8 920.7 405.6 917.9 394.7 864.1 444.4 809 418 885.6 405.4 891.8 405.8 1029.8 399.8 887.5 379.6 907.3 404.9 1025.3 422.3 885.8 416.5 1032.3 396.5 1040.1 382.6 855.2 414.5 1028.4 408.4 1028.7 374.8 1034.7 376.5 1040.5 431.9 1039.6 383.3 1028 382.8 870.6 414.9 856.4 445.2 805.7 407.9 884.4 418 1042.5 387.8 907.4 395.8 1034.2 392.5 907.4 420.1 782.4 374.2 1039.3 379.8 1035.1 388.9 856.8 441.2 911.1 400.8 1013.3 394.9 1014.3 381.1 851.8 433.7 810.8 393.1 1043.3 376.3 854.2 434.6 805.5 417.2 1035.2 381.1 864.2 444.7 854.3 416.3 1034.1 380.2 1039.9 363.3 853.5 447.8 917.8 383.6 1035.2 383.9 859.6 413.2 808.5 417.5 862.1 420.8 915.7 421.3 921.3 386.2 1028.8 386 1041 364.4 890.7 415.5 857.2 411.2 905.9 390.3 855 419.4 869.7 412.8 1037.1 366.2 850.3 405.1 1032.9 350.3 1041.1 389.1 1031.9 360.5 1017.7 400.2 864.4 455.1 864.3 415.7 1043.4 386.1 854.5 421.8 802.9 409 869.5 437 1043.3 417.9 803 406 1040.7 394 865.5 424.2 1029.1 392.3 864.4 438.5 1038.6 403.9 920.6 366.1 853.6 425.3 1037.6 384 1040.2 417.1 1022.9 373.1 855.2 417.6 887.9 424.1 809.8 425.7 886.2 383 857 428.9 1033.5 373.9 1022.6 388.8 1036.9 369.9 1037.8 382.3 1033.5 387.7 1022.3 391.9 1035.5 390.3 1031.3 429.4 870.1 407.2 885.9 412.1 1013.1 425.4 888.3 397 860 402.7 1037.9 383.7 1035.9 405.3 782.8 374.8 780.5 386.6 855.4 411.2 851.8 425.5 869.4 439.5 858.5 422.9 806.3 408.4 865.8 451.7 887.9 409.5 910.2 397 863.8 428.1 859.1 408.5 779.5 377.9 1027.1 387.2 912.8 403.3 858.9 439.5 1019.9 382.2 906.3 378.4 1017.2 405.6 905.3 386.5 1023.5 390.2 920.4 391.5 1020.3 382 858 429.6 866.9 403.4 807.6 395.8 885.7 396.1 884.4 410 905.9 416.4 778.5 396.3 1040.5 347.2 804.5 406.7 887.3 378.1 885 410.9 1036.6 376.1 861 444.6 1012.9 385.1 916.8 393.3 1031.1 396.4 779.3 385.2 852.3 401.3 811 393.8 905.1 405.4 1034.9 369.2 1043.1 327.3 905.1 386.5 867 430.7 859 429.1 858.6 424.9 1033.1 384 850 426.3 1029 381 852.5 424.7 921.6 412.1 919.6 380.8 1031.3 376.9 868.3 436 906.6 381.5 850.7 422 1027.8 394.7 922.6 408.4 863.2 444.6 905.6 390.8 888.6 412.2 1030.9 400.8 1014.7 380.9 1041.4 389.3 1031.2 392.6 1029.3 359 1016.7 387.8 1035 379.2 854 440.3 864.8 404.5 777.4 383.6 803.1 417.2 908 375.5 856.5 437.7 1027.8 425.8 778.4 378.4 1024.4 375.6 868.2 428.5 850.6 416.6 916.2 414.9 906.9 372.8 910.4 378.4 1034.5 378.1 861.7 448.8 1037.7 364.7 870.4 425.7 851.1 432.5 777.4 370.7 1014.2 377.4 804.9 440.9 853.2 435.1 1039.1 397 1028.2 394.1 1042.8 369.1 1033.5 368.3 1041.4 411.4 809.3 413.3 849.8 439.4 1030.8 387.8 1032.3 386.5 891.6 410.3 854.1 423.6 907.3 399.2 869.3 430.1 1028.7 391 885.4 414.3 854.3 464.8 858 427 865.1 446 869.9 418.8 1042.5 345.8 777.8 385.9 858.3 402.6 861.4 435.3 1021.8 400.4 863.3 420.9 1016.9 398.6 1032.5 385.8 1031.2 398 853.2 445.2 853.4 417.9 1024.3 397 1034.9 368.4 866.5 426.7 1042.4 369.1 1037 402.2 1037.8 375 892.1 399.5 1027.3 384.4 1036.9 384.6 890.3 398.5 1027 380.6 1039.1 380.5 1027.2 379.6 911.1 415.6 1039.4 396.5 1037.9 399.1 852.1 434 1034.4 413 802.4 423.8 867.4 445.3 1016.6 379.5 858.1 448.6 1042.4 400.9 1043.9 365.9 1034.4 373.7 807.1 406.1 1039.6 410.6 865.8 429.8 780.2 385.2 855 452.9 866.3 417.9 1040 386.2 866.4 453.4 778.3 376.6 852.2 451.7 871.6 415.9 1042.2 362.4 807.2 418.7 1031.4 379.9 1038 380.3 854.6 453.4 885.1 377.2 862.1 415.7 857.8 444.5 888.2 417.7 1027.3 344.7 884.4 420.9 1020.1 384 859.5 430.9 1028.7 384.4 1034.6 379.8 889.7 402.3 1042.4 379.2 908.6 388.9 1032.7 405.4 1030.4 370.1 1030.1 385.2 1025.9 407.9 1026.1 371.1 862.6 429 1029.7 416.5 867.2 455.7 1034 412.7 1037.5 398.5 922.3 395.8 850.6 434.3 887.3 392.9 864.4 452.6 887.1 406.6 779.9 393 1025.3 394 855.9 432.7 917.9 407.2 916.4 386.2 1042.3 387.9 865.6 401 905.3 373 1021.4 382.2 1034.5 390 862.2 427.8 916.1 380.8 1029.8 374.9 1041.2 389.8 906.5 393.5 850.4 427.8 890.4 400.2 1036.7 381.6 886.2 365.4 1026.2 370.7 860.1 436.9 1040.9 376.2 810.9 403.2 1041.5 382.3 1018.7 376.1 1035.7 388.9 1037.2 360.3 781.2 391.1 885.4 430.6 1022.1 394.7 1025.9 391.5 861.1 447.5 870.9 433 909.1 388.7 1040.9 384.6 1017.3 405.7 810.3 403.6 1025.2 400.5 850 423.7 866.6 438 1042.8 411.5 885 394.4 1027.8 377.6 1042.5 363.3 908.8 394.6 1024.3 394.2 1042.7 393.8 808.4 404.8 1021.5 373.6 862.8 417.8 853.6 437.1 854.4 439.8 858.7 441.4 1014.2 401.1 1041.4 390.4 803 410.2 1043.1 389.3 866.7 427.5 886.8 410.1 871.5 430.1 865.7 420.3 1014.3 370.1 782.5 371 921 396.8 863.5 420.2 1035 359.7 1041.3 395.6 1029.6 406.7 860.3 459.3 1012.8 389.8 865.9 408.5 1033.6 391.4 804.7 425.2 803.1 453.4 908.8 402.4 1025.4 380.4 919.2 395.6 1038.4 372.9 1016.9 414.3 1033.7 388.9 802.6 430.9 1029.8 394.2 865.6 430.6 1030.1 378.3 1031.1 377.4 921.1 418.8 863.3 394.8 1033.1 369.7 853.8 434.6 853.1 425.5 802.5 439.9 1038.7 384 915.1 393 809.8 438.8 803 440.7 906.2 412.2 908.8 396.1 1027.4 366.8 860.2 409.8 1035.9 398.9 905.8 419.4 1029.5 392.2 1015.4 385.9 808.6 400.8 1022.2 363.2 1016.3 378 852.5 429.6 811 393.3 858.8 435.6 779.3 372.6 1014.3 365 804.7 428.9 869.3 429.8 917.3 383.1 1019.2 400.9 1030.4 366.8 806.5 436.2 885 384.1 866.9 428.8 804.5 417.6 1019.7 394.9 861.5 438.9 867.8 426.8 1029 383.6 863.6 409.1 781.3 385.9 1017.1 364.1 1043.6 400.2 867.7 412.2 1021.3 421.2 1014.8 395.1 919.3 382.7 1024.4 363.1 1025.8 381.7 889.1 409 1030.3 378.5 864.5 408.2 854.4 435 1022 342.9 912.5 386 1038.8 390.2 1031.4 405.5 887.4 435.9 862.1 436.3 871.8 455.6 1027.4 377.7 1041.8 389.5 862.7 428.8 1036.6 391.7 852.3 446.9 1017 415.2 866.7 434.8 804.5 407.2 858.4 412.9 906.5 399.6 1025.6 404 909.1 385.7 802.9 398.5 851.9 406.1 850 426.5 865.1 451.4 870.7 422.3 911.6 381.6 869.4 393.8 906 358.1 1018.6 381.3 910.6 374 911.2 408.6 1025.2 392.4 1025 393.3 1024.6 397.6 808.4 420.8 1032.8 388.2 889 406.9 809.4 425 853.7 413.6 1043.4 400.9 806.9 397.2 1035.8 414.6 1029.8 396.2 1019.9 372 887.5 383.6 1036.6 388.9 855.7 459.8 887.8 445 1026.8 396.5 1027.5 391.2 1037.6 383.3 923.1 360 1032 414.6 810.6 410.2 1015.3 389.6 905.1 390.4 885.3 428.6 1034 379.9 1038 369.6 858.3 411.7 867.2 414.7 908.3 408.8 1028.4 400.7 809.7 414.2 909.9 381.5 778.5 393.3 1043.2 374.7 886.5 400.4 871.2 434.1 918.2 412.3 1032.8 389.5 917 378 1036.7 360.3 890.9 433.1 1025.3 375 888.6 396.4 1043.8 381.7 892 405.7 908.1 420.8 853.1 397.6 863.7 441.2 777.6 386.4 865.2 434.7 1036.6 385.8 855 435 1021.5 385.2 914.9 412.2 1037.6 392.4 806.2 410.2 1017.3 375.1 867.6 477.4 1039.9 391.9 885.4 402.4 807 392.3 855.8 420.6 1037.3 408.1 1035.2 403 885.6 421.7 1039.3 389.9 1039.2 388 913 410.9 1035 392.3 1015.2 397.3 856.9 441.6 1037.5 358.8 809.8 405.8 852.3 421 1019.8 380.9 860.6 433.1 869.1 450.5 905.7 423.8 864.6 446.8 1027.2 403.6 1020.6 368.9 857.3 423.5 1035.2 392.5 806.9 428.7 888.8 397.7 887 421.3 1041.9 358.8 1040.8 372.2 1028.8 392.2 1030.9 396.7 854.7 434.8 1039.5 382.5 862 434.1 905.8 413.8 856.4 410.9 1035.6 406.2 805.5 423.7 864.5 439.2 1040 357.7 1041 400.8 1016.7 397.9 1023.7 383.6 803.9 397.6 1039.1 380.4 1040 375.3 803.8 407.4 856.4 433.2 921.8 401.3 1029.3 395.6 852.9 425.8 1043.2 390.1 860.6 419.7 1019.2 379.4 1031.3 387.7 861.1 442.9 1026.5 371.4 803.9 409.4 1031.2 378.7 858.5 445.3 864.4 416 887.3 425.2 1030.8 368.4 1038.1 395.7 909.3 395.9 914.3 368.2 912.7 390.9 852 458.5 810.4 417.7 1036.1 383.7 1027.5 370.5 1043.7 394.1 867.4 420.1 865.7 451.3 1034 408.2 780 366.7 779.2 416.4 780.4 377.1 891 435.7 1039.9 407.3 853 427.8 856.4 408.1 778.7 379.7" fill="none" stroke="none" marker-start="url(#ob)" marker-mid="url(#ob)" marker-end="url(#ob)" />
<line x1="758" y1="384" x2="777" y2="384" stroke="#8B1E24" stroke-width="5.5" />
<line x1="777" y1="386" x2="783.3" y2="386" stroke="#2A3A78" stroke-width="5.5" />
<line x1="783.3" y1="388.5" x2="802.3" y2="388.5" stroke="#8B1E24" stroke-width="5.5" />
<line x1="802.3" y1="414.4" x2="811.1" y2="414.4" stroke="#2A3A78" stroke-width="5.5" />
<line x1="811.1" y1="417.6" x2="849.7" y2="417.6" stroke="#8B1E24" stroke-width="5.5" />
<line x1="849.7" y1="428" x2="871.8" y2="428" stroke="#2A3A78" stroke-width="5.5" />
<line x1="871.8" y1="413.1" x2="884.4" y2="413.1" stroke="#8B1E24" stroke-width="5.5" />
<line x1="884.4" y1="407.4" x2="892.3" y2="407.4" stroke="#2A3A78" stroke-width="5.5" />
<line x1="892.3" y1="403" x2="898.5" y2="403" stroke="#8B1E24" stroke-width="5.5" />
<line x1="898.5" y1="400.5" x2="905" y2="400.5" stroke="#8B1E24" stroke-width="5.5" />
<line x1="905" y1="395.4" x2="924" y2="395.4" stroke="#2A3A78" stroke-width="5.5" />
<line x1="924" y1="391.7" x2="1012.5" y2="391.7" stroke="#8B1E24" stroke-width="5.5" />
<line x1="1012.5" y1="386" x2="1044" y2="386" stroke="#2A3A78" stroke-width="5.5" />
<line x1="1044" y1="384" x2="1153" y2="384" stroke="#8B1E24" stroke-width="5.5" />
<line x1="802.3" y1="388.5" x2="802.3" y2="414.4" stroke="#8B1E24" stroke-width="5" />
<line x1="849.7" y1="383.5" x2="849.7" y2="428" stroke="#2A3A78" stroke-width="5" />
<line x1="871.8" y1="428" x2="871.8" y2="413.1" stroke="#2A3A78" stroke-width="5" />
<path d="M739 325V496H1173" fill="none" stroke="#111" stroke-width="3" />
<line x1="729.5" y1="331.6" x2="739" y2="331.6" stroke="#111" stroke-width="3" />
<text x="721.7" y="337.9" font-size="17.5" text-anchor="end">0.5</text>
<line x1="729.5" y1="384" x2="739" y2="384" stroke="#111" stroke-width="3" />
<text x="721.7" y="390.3" font-size="17.5" text-anchor="end">0.0</text>
<line x1="729.5" y1="435.9" x2="739" y2="435.9" stroke="#111" stroke-width="3" />
<text x="721.7" y="442.2" font-size="17.5" text-anchor="end">−0.5</text>
<line x1="729.5" y1="488.7" x2="739" y2="488.7" stroke="#111" stroke-width="3" />
<text x="721.7" y="495" font-size="17.5" text-anchor="end">−1.0</text>
<line x1="888.6" y1="496" x2="888.6" y2="504.5" stroke="#111" stroke-width="3" />
<text x="888.6" y="526" font-size="17.5" text-anchor="middle">106</text>
<line x1="1038.7" y1="496" x2="1038.7" y2="504.5" stroke="#111" stroke-width="3" />
<text x="1038.7" y="526" font-size="17.5" text-anchor="middle">106.5</text>
<text x="936.5" y="551.5" font-size="24.3" text-anchor="middle">Chr14 genome position (Mb)</text>
<text x="671" y="415.4" font-size="24" text-anchor="middle" transform="rotate(-90 671 415.4)">Log Ratio</text>
<text x="752" y="342.7" font-size="18">CRUK0004 region 2</text>
<text x="753" y="482.7" font-size="18.1"><tspan font-style="italic">IGH</tspan> B cell fraction = 0.25</text>
<path d="M1114.3 447.9L1075.1 438.1A40.4 40.4 0 0 1 1114.3 407.5Z" fill="#E56E6A" />
<path d="M1114.3 447.9L1114.3 407.5A40.4 40.4 0 0 1 1151.5 432.1Z" fill="#4FC9BA" />
<path d="M1114.3 447.9L1151.5 432.1A40.4 40.4 0 1 1 1075.1 438.1Z" fill="#6DBE45" />
<text x="1060.2" y="410.9" font-size="17.5">21.5%</text>
<text x="1123.3" y="410.9" font-size="17.5">17.9%</text>
<text x="1060.6" y="432.2" font-size="17.5">IgM/D</text>
<text x="1123.3" y="432.2" font-size="17.5">IgG</text>
<text x="1099.5" y="463" font-size="17.5">63.1%</text>
<text x="1100.2" y="484.6" font-size="17.5">IgA</text>
<circle cx="1329.1" cy="54.9" r="29.1" fill="#E36B6B" />
<circle cx="1275.6" cy="79.1" r="27.9" fill="#4DC59B" />
<circle cx="1350.6" cy="116" r="34.2" fill="#53BEDF" />
<circle cx="1413.9" cy="132" r="30.3" fill="#4DB86B" />
<circle cx="1218.1" cy="111" r="20" fill="#B99A3B" />
<circle cx="1257.7" cy="127.1" r="22" fill="#9BAE3F" />
<circle cx="1300.7" cy="152.5" r="26.6" fill="#4C8FC8" />
<circle cx="1362.5" cy="156.6" r="5.6" fill="#B855A8" />
<circle cx="1199.1" cy="168.1" r="16.1" fill="#7F73B8" />
<circle cx="1247.3" cy="185.4" r="34.7" fill="#5DBD4D" />
<circle cx="1341.3" cy="195.2" r="31.3" fill="#E262A8" />
<circle cx="1288.8" cy="229.4" r="24.2" fill="#E08B3A" />
<circle cx="1325.7" cy="236.5" r="12.4" fill="#4DC8B5" />
<text x="1328.4" y="59.3" font-size="14.8" text-anchor="middle" font-style="italic">TRAV1-1</text>
<text x="1276" y="84.6" font-size="14.8" text-anchor="middle" font-style="italic">TRAV21</text>
<text x="1211.3" y="112.6" font-size="14.8" text-anchor="middle" font-style="italic">TRAV13-2</text>
<text x="1351.8" y="121.5" font-size="14.8" text-anchor="middle" font-style="italic">TRAV25</text>
<text x="1415.8" y="137.5" font-size="14.8" text-anchor="middle" font-style="italic">TRAV2</text>
<text x="1258.7" y="131.2" font-size="14.8" text-anchor="middle" font-style="italic">TRAV14/DV4</text>
<text x="1301.5" y="157.4" font-size="14.8" text-anchor="middle" font-style="italic">TRAV34</text>
<text x="1370.9" y="162.9" font-size="14.8" text-anchor="middle" font-style="italic">TRAV8-6</text>
<text x="1194.9" y="173.9" font-size="14.8" text-anchor="middle" font-style="italic">TRAV38-1</text>
<text x="1245.1" y="196.4" font-size="14.8" text-anchor="middle" font-style="italic">TRAV16</text>
<text x="1304.4" y="190.8" font-size="14.8" text-anchor="middle" font-style="italic">TRAV40</text>
<text x="1344.2" y="204.5" font-size="14.8" text-anchor="middle" font-style="italic">TRAV9-2</text>
<text x="1288.3" y="235" font-size="14.8" text-anchor="middle" font-style="italic">TRAV1-2</text>
<text x="1335.5" y="250.6" font-size="14.8" text-anchor="middle" font-style="italic">TRAV22</text>
<circle cx="1273.2" cy="301.9" r="14.4" fill="#D463B2" />
<circle cx="1324.4" cy="331.6" r="18.3" fill="#5B87C8" />
<circle cx="1380.5" cy="350.7" r="20.6" fill="#50C8A0" />
<circle cx="1268.4" cy="358.7" r="34.8" fill="#4CBD4C" />
<circle cx="1327" cy="389.1" r="30.3" fill="#8BB03E" />
<circle cx="1384.5" cy="401.1" r="28" fill="#C88F2E" />
<circle cx="1276.3" cy="453.4" r="49.5" fill="#9570B0" />
<circle cx="1396.6" cy="451.6" r="23.3" fill="#50C8DA" />
<circle cx="1354.3" cy="503.1" r="38.3" fill="#E36B6B" />
<text x="1270" y="308" font-size="15" text-anchor="middle" font-style="italic">IGHV7-4-1</text>
<text x="1323.3" y="337.2" font-size="15" text-anchor="middle" font-style="italic">IGHV4-4</text>
<text x="1379.8" y="355.7" font-size="15" text-anchor="middle" font-style="italic">IGHV3-47</text>
<text x="1267.9" y="364" font-size="15" text-anchor="middle" font-style="italic">IGHV3-38</text>
<text x="1325.6" y="394.3" font-size="15" text-anchor="middle" font-style="italic">IGHV3-11</text>
<text x="1383.7" y="406" font-size="15" text-anchor="middle" font-style="italic">IGHV2-5</text>
<text x="1274.6" y="459" font-size="15" text-anchor="middle" font-style="italic">IGHV6-1</text>
<text x="1396.3" y="456.8" font-size="15" text-anchor="middle" font-style="italic">IGHV3-6</text>
<text x="1353.6" y="508.5" font-size="15" text-anchor="middle" font-style="italic">IGHV1-2</text>
<text x="1444.5" y="36.5" font-size="44" font-weight="bold">d</text>
<path d="M1566.2 159.6h0M1590.2 137.4h0M1610.1 123.4h0M1623.4 180.6h0M1597.9 127.9h0M1610.9 92h0M1626.5 116.4h0M1589.2 143.6h0M1748.2 30.5h0M1566.8 152.7h0M1617.7 109h0M1582.1 134.3h0M1606.6 117.7h0M1604.9 119.7h0M1727.4 42.7h0M1621.8 109.3h0M1588.6 130.4h0M1651.9 81.6h0M1627.5 90.9h0M1596.7 127.4h0M1635.7 78.9h0M1659.9 81.4h0M1580 132.1h0M1627.8 113.2h0M1630.4 120.5h0M1579.3 128.8h0M1576.4 146.1h0M1738.3 63.7h0M1613.2 115.8h0M1600 133.7h0M1601.5 120.7h0M1611.7 107.1h0M1593.9 112.2h0M1602.6 100.3h0M1632.3 115.2h0M1654.7 90.7h0M1569.4 130.5h0M1663 78h0M1603.3 132.4h0M1559.5 161.4h0M1591.2 148.8h0M1580.9 158.9h0M1621.6 128.2h0M1577.2 136.2h0M1563.6 175.8h0M1569.1 140.8h0M1613.2 120.5h0M1578.9 148.9h0M1565 152.9h0M1631.9 102.9h0M1638.1 81.8h0M1627.3 111.8h0M1557.2 152.2h0M1576.8 136.6h0M1560 156.5h0M1629.5 107.4h0M1603.2 118.6h0M1580.4 141.4h0M1700.7 58.1h0M1610 122.7h0M1568.8 145.6h0M1608.5 117.7h0M1587.1 143.4h0M1582.8 132h0M1573.6 148.8h0M1616.9 108.2h0M1565.4 154.4h0M1623.6 128.3h0M1724.3 42.4h0M1630.6 112.6h0M1633.8 92.7h0M1595 133.7h0M1557.4 154.5h0M1708.1 38.1h0M1656.5 94.5h0M1571.1 144.5h0M1660.3 72.6h0M1588.9 132.2h0M1619.7 105.2h0M1567.7 147.5h0M1602.5 128.8h0M1653.5 81h0M1574.5 135.3h0M1556.1 149.2h0M1599.3 137.9h0M1598.6 117.7h0M1599.6 136.9h0M1593.1 141.2h0M1684.7 69.7h0M1556 153.2h0M1598.5 122.9h0M1672.5 72.8h0M1600.2 130h0M1582.1 129.1h0M1636.3 100.1h0M1626.5 113.9h0M1628.4 102.5h0M1647.2 84.7h0M1573.3 147.9h0M1557.4 166.8h0M1738.7 23.9h0M1603.1 131.6h0M1559.8 149.6h0M1604.3 125.5h0M1673.6 85h0M1608.3 131.4h0M1619.4 70.4h0M1595 128.4h0M1742.2 35.3h0M1638.4 101.5h0M1571.1 146.4h0M1653.1 86.5h0M1559.3 153.2h0M1624.9 149.5h0M1572.9 153.5h0M1584.3 122.8h0M1600.6 127.2h0M1554.8 146.2h0M1569.1 149.2h0M1576 116.9h0M1591 138.4h0M1583.4 128.3h0M1601.2 102h0M1612.7 98.9h0M1573.9 141h0M1612.7 117.8h0M1671.8 62.4h0M1598.5 126.9h0M1595.4 110.9h0M1625.9 102.8h0M1637.2 90.7h0M1595.9 135h0M1625 111.5h0M1653.2 87.5h0M1615.4 130.3h0M1647.4 76.5h0M1582.8 136.6h0M1651 94.7h0M1732.5 48.8h0M1597.5 128.1h0M1615.9 127.6h0M1622.2 118.7h0M1591 111.8h0M1605.4 108.9h0M1648.2 95.8h0M1625 119.1h0M1583.4 139.3h0M1680.3 66.5h0M1609.1 123.3h0M1596.8 118.1h0M1629.9 112h0M1631.1 36.7h0M1569.9 160.2h0M1603.8 108.1h0M1633.1 103h0M1634.4 106h0M1615.1 118.4h0M1561 154.8h0M1625 105.7h0M1590.5 120.7h0M1624.2 102.6h0M1641.5 86.9h0M1668.3 83.5h0M1597.7 121.5h0M1739.4 42h0M1635 108.1h0M1624.7 105.5h0M1570.7 142.3h0M1651.9 77.9h0M1611.6 105.9h0M1597.4 144h0M1591.2 135.2h0M1566.9 142.7h0M1645.6 90.4h0M1656.8 91.2h0M1623.3 120.8h0M1608 113.3h0M1590.8 124.2h0M1563.2 142.2h0M1595.3 127.6h0M1576.8 145.9h0M1594.8 128.3h0M1666.3 68.8h0M1575.5 157.7h0M1568.1 147.9h0M1621.4 107.6h0M1598.3 140.1h0M1602.9 119.6h0M1555.6 165h0M1657.1 97.4h0M1639.8 100.3h0M1657.6 89.4h0M1582.6 140.8h0M1606.9 120.7h0M1620.3 125.5h0M1621.1 104.9h0M1564 155.2h0M1589.8 135.8h0M1631.8 119h0M1600.6 112.7h0M1576.2 140.4h0M1589 120.5h0M1653.8 78.1h0M1589.2 136h0M1602.1 122.3h0M1600.4 135h0M1580.2 135.7h0M1603.8 125.4h0M1609.6 108.6h0M1660.3 83.1h0M1599.2 119.4h0M1590.9 126.3h0M1621.6 97.3h0M1710.4 56.9h0M1579.9 139.5h0M1616.9 110.7h0M1634.1 96.4h0M1618.1 116.5h0M1613 130.3h0M1603.4 130.6h0M1624.2 120.3h0M1633.8 67.3h0M1598.2 131.9h0M1620 128.4h0M1613.3 136.4h0M1589.9 134.6h0M1706.3 61.1h0M1716 69.5h0M1607.9 109.6h0M1632.2 106.8h0M1622.5 111.2h0M1570.8 153.1h0M1661.9 81.9h0M1617.7 120.5h0M1555.8 167.4h0M1613.3 116.2h0M1743.3 44.4h0M1584.9 147.1h0M1633.8 98.9h0M1638.6 103.4h0M1598.7 135.4h0M1595.3 133h0M1591.8 142.2h0M1612.3 117.2h0M1734.4 59.2h0M1571 144.1h0M1575 147.2h0M1652 83.6h0M1565.5 161.3h0M1620.6 109.9h0M1598.7 126.3h0M1608.3 113.4h0M1666.6 69.4h0M1627.5 113.6h0M1605.7 134.4h0M1610.6 123.6h0M1661.2 81.3h0M1631.9 90.5h0M1572.7 155.3h0M1572.8 147.2h0M1613.3 110.1h0M1625.8 92h0M1635.7 84.4h0M1593.3 136.4h0M1644.5 85.2h0M1638.9 108.4h0M1636.7 108.6h0M1631.9 100.6h0M1626.5 116.5h0M1638.3 97.6h0M1631.7 105.6h0M1699.6 48h0M1645.5 89.9h0M1610.7 122.7h0M1607.2 114.6h0M1677.7 29.1h0M1704.9 54.6h0M1589.1 141.8h0M1571.1 149.8h0M1576 147.7h0M1627.4 96.2h0M1614.1 132.1h0M1585.3 137.6h0M1646 90.2h0M1619.7 116.4h0M1574.5 145.9h0M1610 122.9h0M1555.3 164.6h0M1603.2 122.3h0M1583.3 140.7h0M1614.4 121.3h0M1585.9 153.2h0M1582.3 135.8h0M1664.8 93.9h0M1609.9 117.6h0M1625.4 101.3h0M1613.6 115.9h0M1604.4 130.3h0M1608.3 111.1h0M1562.5 133.6h0M1570.8 171.7h0M1645.1 86.1h0M1584.6 149.9h0M1642.1 91.2h0M1641.2 94.2h0M1639.4 84.4h0M1604.6 126.2h0M1614.4 116.7h0M1612.3 133.8h0M1649 94h0M1619.8 111h0M1558.6 161.8h0M1633.1 109.4h0M1652.4 77h0M1632 101.8h0M1637.4 88.8h0M1598 132.9h0M1599.4 136.4h0M1610.3 112.2h0M1613 116.9h0M1636.1 122.9h0M1624.8 111.7h0M1664.7 84h0M1633.3 97.3h0M1586.6 131.8h0M1623.1 102.4h0M1595.2 136.3h0M1591.4 131.2h0M1562.5 133.3h0M1624.6 99h0M1618.4 92.4h0M1585.1 141h0M1565.8 150.2h0M1566.5 161.9h0M1584.1 145.2h0M1636.2 116.3h0M1622.3 109.4h0M1555.5 141.5h0M1612.6 104.4h0M1577.6 146.2h0M1584.3 147.9h0M1645.1 114h0M1626.2 112.7h0M1576.5 165.7h0M1581.3 148.2h0M1595.4 116.1h0M1606.6 114.3h0M1614.2 69.8h0M1634.6 99.9h0M1572.5 145.6h0M1599.3 125.1h0M1577.8 145.3h0M1580.4 132.5h0M1559.4 160.6h0M1566.1 146.2h0M1627.2 106.3h0M1746 37.7h0M1569.4 143.8h0M1747.6 24.9h0M1620.8 114.9h0M1654 87.9h0M1612.6 123.1h0M1625 110.4h0M1635.8 91.7h0M1603 123.4h0M1590.4 128.1h0M1597.3 129.9h0M1611.8 123.3h0M1589.5 118.9h0M1602.1 122.2h0M1626.7 107.3h0M1559.7 148.9h0M1564.8 157.4h0M1662.2 87.5h0M1630.8 116.6h0M1613.9 75.2h0M1645.5 87.2h0M1607.9 137.2h0M1597.2 142.1h0M1638.6 94.3h0M1605.3 125h0M1584.6 144.2h0M1596.5 138.7h0M1560.8 160.6h0M1625.8 101.2h0M1621.7 111.5h0M1568.8 146.4h0M1616.8 104.1h0M1608.6 142h0M1589.4 141.4h0M1698.8 47.5h0M1567.1 144h0M1574.3 165.6h0M1559.3 136.4h0M1575.4 136.6h0M1651.6 100.1h0M1593.1 134.1h0M1564 150.1h0M1611.6 106.5h0M1647.9 89h0M1560.4 168.1h0M1655.7 86.4h0M1636.9 100.2h0M1641.4 97h0M1564.6 170.3h0M1598.1 92.2h0M1572 158.5h0M1617.1 66.5h0M1584.2 138.5h0M1611.5 129.7h0M1623.1 103h0M1572.5 132.9h0M1618.9 105h0M1616 117.2h0M1564.2 166.9h0M1590.9 158.6h0M1628.6 116.7h0M1578.6 146.5h0M1574.9 134.4h0M1591.6 119.7h0M1605 126.7h0M1635.1 115.6h0M1631.9 124.6h0M1603.6 123.3h0M1645.9 96.9h0M1664 71.5h0M1594.5 134.3h0M1610 140.3h0M1633.6 105.2h0M1586.7 131.7h0" stroke="#000" stroke-width="5.3" stroke-linecap="round" fill="none" />
<path d="M1579.2 9.2h0M1683 32.7h0M1685.7 41h0M1688.5 45.4h0M1691.2 49.9h0M1693.9 53.7h0M1687.4 35.9h0M1743.1 16.8h0M1748.6 15.6h0M1715.8 39.1h0M1704.9 45.4h0M1726.7 58.1h0M1617.5 93.1h0" stroke="#000" stroke-width="5.3" stroke-linecap="round" fill="none" />
<line x1="1549.9" y1="190.6" x2="1715" y2="0" stroke="#D8403E" stroke-width="2.8" stroke-dasharray="10 6.5"/>
<line x1="1552.4" y1="160.2" x2="1757.6" y2="29" stroke="#4A6BB3" stroke-width="5" />
<path d="M1542.1 0V197.7H1767" fill="none" stroke="#111" stroke-width="3" />
<line x1="1533.1" y1="61.3" x2="1542.1" y2="61.3" stroke="#111" stroke-width="3" />
<text x="1523.4" y="67.4" font-size="17" text-anchor="end">0.2</text>
<line x1="1533.1" y1="124.6" x2="1542.1" y2="124.6" stroke="#111" stroke-width="3" />
<text x="1523.4" y="130.7" font-size="17" text-anchor="end">0.1</text>
<line x1="1533.1" y1="188.3" x2="1542.1" y2="188.3" stroke="#111" stroke-width="3" />
<text x="1523.4" y="194.4" font-size="17" text-anchor="end">0.0</text>
<line x1="1551.9" y1="197.7" x2="1551.9" y2="205.7" stroke="#111" stroke-width="3" />
<line x1="1606.2" y1="197.7" x2="1606.2" y2="205.7" stroke="#111" stroke-width="3" />
<line x1="1661.5" y1="197.7" x2="1661.5" y2="205.7" stroke="#111" stroke-width="3" />
<line x1="1715.8" y1="197.7" x2="1715.8" y2="205.7" stroke="#111" stroke-width="3" />
<text x="1548.7" y="27.2" font-size="18.2">ρ = 0.91,P = 2.53e-129</text>
<text x="1551.5" y="52.5" font-size="17.5"><tspan font-style="italic">y</tspan> = 0.042</text>
<text x="1576.4" y="71.2" font-size="17.5">+0.56 <tspan font-style="italic">x</tspan></text>
<text x="1614.3" y="181.8" font-size="18" font-weight="bold"><tspan font-style="italic">TCRA</tspan> vs <tspan font-style="italic">TCRB</tspan></text>
<text x="1486.8" y="102.2" font-size="18.3" text-anchor="middle" transform="rotate(-90 1486.8 102.2)">T cell fraction</text>
<path d="M1552.4 384.4L1756.7 228.4L1756.7 235.4L1552.4 390.4Z" fill="#C9CDD6" />
<path d="M1650.7 274.6h0M1632.1 332.9h0M1586.5 356.5h0M1716.2 259.7h0M1683 278.6h0M1638.5 303.2h0M1726.9 235.5h0M1602 353.7h0M1688.5 266h0M1598.6 335.4h0M1650.7 317.5h0M1571.1 397.6h0M1587.2 369h0M1564.5 377.2h0M1646.4 315.7h0M1688.5 291.4h0M1675.1 279h0M1594.6 351h0M1655.9 304.6h0M1629.5 380.3h0M1648.5 306.7h0M1578.8 354.5h0M1609.9 351.8h0M1587.1 321.5h0M1601.4 347.5h0M1611.8 341.2h0M1631.4 323.1h0M1625.1 297.7h0M1617.6 286.1h0M1636.5 322.2h0M1613.2 359.6h0M1616.5 344.5h0M1595.1 346.6h0M1627.7 333.6h0M1613.8 362.9h0M1569.1 385.3h0M1608.9 346.1h0M1608.7 338.3h0M1670.2 308.8h0M1665.7 300.5h0M1633.7 332.3h0M1554.7 396.2h0M1653.5 313.4h0M1593.7 364.8h0M1652.2 305.4h0M1577.7 380h0M1664.4 305.5h0M1623.8 332h0M1685.1 291.9h0M1611 354.2h0M1721.2 238.1h0M1576.1 397.3h0M1643.7 281.2h0M1623.9 342.5h0M1630 349.7h0M1594.4 334h0M1635 319.6h0M1632 295.6h0M1647.8 332.9h0M1620.8 342.2h0M1642.5 347.8h0M1597 365.1h0M1631 325.3h0M1621.3 324.8h0M1688.5 277.5h0M1616.7 324.3h0M1576.7 365.4h0M1652.4 317h0M1655.2 321.5h0M1593.9 371.4h0M1581.7 372.4h0M1659.5 306.3h0M1653.3 325.7h0M1594.4 365.6h0M1562.2 395.9h0M1650 330.1h0M1694.9 268.3h0M1585.3 357.7h0M1585.9 365.8h0M1597.9 368.6h0M1620.3 339.7h0M1633.5 337.7h0M1593.8 349.7h0M1625 313.8h0M1745.2 222.3h0M1716.8 262.9h0M1688.2 282.2h0M1562 399.1h0M1565.2 394.9h0M1606.6 350.9h0M1632.4 337.1h0M1634 320.5h0M1592.4 366.8h0M1603.2 348.2h0M1626.4 349.5h0M1595.8 335.3h0M1618.2 298.5h0M1655 311.6h0M1627.1 336.6h0M1623.4 325.4h0M1587.2 369.2h0M1635.7 322.7h0M1670.7 295.9h0M1626.4 326.2h0M1600.4 354.2h0M1688.5 269.1h0M1625.7 383.1h0M1622.4 347.1h0M1641 310.5h0M1633.1 295.3h0M1606.4 348.1h0M1631.5 332.4h0M1573.7 382.3h0M1672.9 273.2h0M1637.7 330.1h0M1637.7 317.8h0M1633.3 333.4h0M1633.6 320.4h0M1666.3 283.6h0M1638.7 336.5h0M1643.7 356.2h0M1619 342.3h0M1619.6 350.4h0M1616.8 347.3h0M1645.5 299h0M1588.4 393.1h0M1588.2 372.4h0M1635.6 310.7h0M1580.5 396.1h0M1603 355.2h0M1586.7 348.5h0M1622.5 338h0M1724 248.6h0M1617 262.7h0M1608 360.7h0M1688.5 261.4h0M1606.7 364.4h0M1597.3 357.7h0M1635.2 333.9h0M1602.1 359h0M1629.8 333.5h0M1664.2 287h0M1588.9 380.3h0M1604.2 365.5h0M1620.9 336.1h0M1622.2 325.9h0M1640.7 301.5h0M1584.3 352.2h0M1570.7 373.5h0M1655.3 289.6h0M1599.8 351.3h0M1558.2 388.6h0M1554.5 395.1h0M1586.4 378.1h0M1688.5 295.3h0M1688.5 220.5h0M1635 332.3h0M1612.7 346.9h0M1649.9 305.7h0M1563.9 389.2h0M1615 334.5h0M1580 378.8h0M1589.2 349.6h0M1641.8 344.2h0M1671.6 283.6h0M1553.7 394.6h0M1606 373.3h0M1646.4 312.7h0M1597.9 356.6h0M1589.4 353.2h0M1576.9 366.9h0M1631.7 316.7h0M1563.8 386.9h0M1688.5 299.2h0M1605.8 359.3h0M1676.7 301.9h0M1635.7 301.5h0M1598 371.1h0M1590.7 375.7h0M1593.9 349.6h0M1564 379h0M1554.2 377.6h0M1648.7 355.1h0M1625.3 338.5h0M1651.8 294h0M1613.5 361.9h0M1595 369.2h0M1670.7 246.3h0M1619.5 369.1h0M1576.1 368.8h0M1602.1 351.2h0M1631.8 334.8h0M1653.7 290.5h0M1575.1 380.2h0M1576.4 331.5h0M1628 325.6h0M1625 333.1h0M1623.7 352.9h0M1664.8 303.1h0M1575.6 377.2h0M1553.5 399h0M1663.5 287.9h0M1622.8 330.7h0M1589.7 349.9h0M1558.3 392.9h0M1595.7 359.4h0M1611.7 345.6h0M1571.7 378h0M1601.1 341.8h0M1599 359.4h0M1660.4 274.9h0M1662.8 328h0M1576.1 355.8h0M1663.4 301.3h0M1556 342.1h0M1628.3 339.1h0M1638.4 323.4h0M1632.7 308.8h0M1619.4 353.1h0M1577.5 373.8h0M1709.3 267.2h0M1604.5 349.6h0M1648.1 299.9h0M1623.8 321.3h0M1638.8 316.7h0M1572.2 387.1h0M1653 271.3h0M1618.8 323.5h0M1601.8 350.7h0M1607 351.8h0M1597.5 371.4h0M1556.3 379h0M1651.2 327h0M1632.3 314.6h0M1564.6 379h0M1641 328.5h0M1596 356.4h0M1613 358.7h0M1637 327.3h0M1597.4 346.5h0M1563.5 388.1h0M1563.2 387.7h0M1688.5 283.9h0M1628.1 331.2h0M1689.4 277.7h0M1609.8 336.7h0M1642.3 323.9h0M1586.4 374.3h0M1593.7 362.9h0M1581.5 373.5h0M1671.3 295.5h0M1640.8 310.1h0M1563.7 386.9h0M1639.8 313.9h0M1622.4 329.9h0M1665.9 318.9h0M1587.5 350.2h0M1589.7 391.8h0M1645.2 315.5h0M1571.2 376.8h0M1588.8 382.9h0M1584.4 399h0M1569.8 321h0M1617.7 331h0M1613.2 328.7h0M1740.2 236.3h0M1590.4 347.4h0M1636 322.4h0M1606 355.5h0M1573.6 368.3h0M1559.7 391.1h0M1688.5 280.4h0M1725.5 255.8h0M1665.4 294.7h0M1688.5 269.7h0M1584.5 370.8h0M1622 336h0M1644.3 315.8h0M1609.4 343.4h0M1632.7 295.7h0M1638.5 339.2h0M1607.7 360.8h0M1643.2 337.6h0M1574 387h0M1675.2 305.4h0M1702.3 279.3h0M1628.7 331.6h0M1586.2 349h0M1602.5 284.9h0M1621.5 317.5h0M1591.1 367.9h0M1565.7 376.3h0M1575.3 371.2h0M1591.4 346.8h0M1708.2 264.1h0M1752.8 226.7h0M1619.1 332.4h0M1658.9 299.8h0M1572.1 363.3h0M1629.8 320.9h0M1607.5 347.1h0M1622.6 310h0M1569.4 397.2h0M1576.6 381.8h0M1673.5 292.3h0M1651 320.1h0M1592.1 355h0M1664.8 337.6h0M1568.9 389h0M1569.3 388h0M1657 374.6h0M1627.3 322.1h0M1585.5 354.5h0M1611.3 330.2h0M1627.6 331.2h0M1641.5 315h0M1732.2 254.7h0M1638.6 295.9h0M1628.1 335.6h0M1599.7 356.5h0M1631.2 339.6h0M1682.3 298.6h0M1561.2 386.1h0M1576.3 375.9h0M1610 341.7h0M1621.4 318.2h0M1602.6 356.2h0M1611.6 356.5h0M1609.6 335.9h0M1621.7 319.5h0M1678 273.4h0M1608 353.6h0M1595.1 354.9h0M1670 275.3h0M1592 358h0M1605.5 357.1h0M1631.6 312.6h0M1711.5 260.2h0M1610.8 350.5h0M1569.8 387.2h0M1614.6 341.3h0M1599.8 356.8h0M1622.5 394.8h0M1593.3 343.7h0M1576 386.9h0M1577.5 397.5h0M1624.4 337.5h0M1620.5 331.2h0M1647.1 329.7h0M1580.4 359.1h0M1622.2 321.9h0M1574.6 368.3h0M1592.4 339.9h0M1647.3 304.3h0M1585.3 377.5h0M1623.8 332.8h0M1605.4 359.3h0M1557.2 378.7h0M1617.5 338h0M1593 343.4h0M1648.5 316.2h0M1684.1 303.3h0M1626.9 328h0M1617 348.9h0M1644.1 302.1h0M1608.3 328.7h0M1633.4 309.4h0M1639.2 342.2h0M1650.9 313.7h0M1615.4 347.9h0M1614.2 341.7h0M1633.5 332.4h0M1571.4 317.7h0M1596.2 363.9h0M1629.9 341.2h0M1648.5 309.5h0M1625.6 340.7h0M1579.3 366.8h0M1660.4 299.4h0M1605 355.3h0M1623 325.2h0M1638.1 327h0M1684.3 281.8h0M1625.5 338.3h0M1611.3 332.5h0M1617.4 330.9h0M1685.2 301.2h0M1582.6 380.8h0M1561.8 381.1h0M1594.5 353.9h0M1557.4 378.5h0M1590.3 357.2h0M1632.5 325.7h0M1583.2 380.4h0M1646.8 277.6h0M1623 328.3h0M1613.6 384.1h0M1573 394.3h0M1553.6 390.3h0M1659.9 309.7h0M1625.1 324.4h0M1620.4 321.6h0M1626.1 347.5h0M1648.8 309.1h0M1570.2 386.2h0M1598.1 355h0M1720.5 259h0M1640.8 324.4h0M1601.6 355.4h0M1620.5 331.2h0M1649.2 299.4h0M1646.8 307.3h0M1578 368.5h0M1656.2 319.7h0M1674 288.8h0M1576.4 355.4h0M1619 322.3h0M1559.4 374h0M1564.2 390.1h0" stroke="#000" stroke-width="5.3" stroke-linecap="round" fill="none" />
<path d="M1562.8 327.8h0M1565.6 330h0M1568.3 306.2h0M1576.5 247.8h0M1579.2 278.1h0M1590.1 321.4h0M1587.4 299.7h0M1601.1 286.8h0M1603.8 275.9h0M1606.5 295.4h0M1612 291.1h0M1598.3 317h0M1576.5 373.2h0M1568.3 386.2h0M1581.9 377.6h0" stroke="#000" stroke-width="5.3" stroke-linecap="round" fill="none" />
<line x1="1542.1" y1="408" x2="1767" y2="228.9" stroke="#D8403E" stroke-width="2.8" stroke-dasharray="10 6.5"/>
<line x1="1552.4" y1="387.4" x2="1756.7" y2="231.9" stroke="#4A6BB3" stroke-width="5" />
<path d="M1542.1 212.2V408H1767" fill="none" stroke="#111" stroke-width="3" />
<line x1="1533.1" y1="226.2" x2="1542.1" y2="226.2" stroke="#111" stroke-width="3" />
<text x="1523.4" y="232.3" font-size="17" text-anchor="end">0.4</text>
<line x1="1533.1" y1="269.3" x2="1542.1" y2="269.3" stroke="#111" stroke-width="3" />
<text x="1523.4" y="275.4" font-size="17" text-anchor="end">0.3</text>
<line x1="1533.1" y1="312.8" x2="1542.1" y2="312.8" stroke="#111" stroke-width="3" />
<text x="1523.4" y="318.9" font-size="17" text-anchor="end">0.2</text>
<line x1="1533.1" y1="356.1" x2="1542.1" y2="356.1" stroke="#111" stroke-width="3" />
<text x="1523.4" y="362.2" font-size="17" text-anchor="end">0.1</text>
<line x1="1533.1" y1="399.2" x2="1542.1" y2="399.2" stroke="#111" stroke-width="3" />
<text x="1523.4" y="405.3" font-size="17" text-anchor="end">0.0</text>
<line x1="1551.9" y1="408" x2="1551.9" y2="416" stroke="#111" stroke-width="3" />
<text x="1551.9" y="431.5" font-size="17" text-anchor="middle">0.0</text>
<line x1="1606.2" y1="408" x2="1606.2" y2="416" stroke="#111" stroke-width="3" />
<text x="1606.2" y="431.5" font-size="17" text-anchor="middle">0.1</text>
<line x1="1661.5" y1="408" x2="1661.5" y2="416" stroke="#111" stroke-width="3" />
<text x="1661.5" y="431.5" font-size="17" text-anchor="middle">0.2</text>
<line x1="1715.8" y1="408" x2="1715.8" y2="416" stroke="#111" stroke-width="3" />
<text x="1715.8" y="431.5" font-size="17" text-anchor="middle">0.3</text>
<text x="1548.7" y="237.5" font-size="18.2">ρ = 0.85,P = 1.83e-90</text>
<text x="1551.9" y="263.7" font-size="17.5"><tspan font-style="italic">y</tspan> = 0.027 + 0.96 <tspan font-style="italic">x</tspan></text>
<text x="1612.4" y="392" font-size="18" font-weight="bold"><tspan font-style="italic">TCRA</tspan> vs <tspan font-style="italic">TCRG</tspan></text>
<text x="1486.5" y="310.5" font-size="18.3" text-anchor="middle" transform="rotate(-90 1486.5 310.5)">T cell fraction</text>
<path d="M1570.2 616.7L1760.8 448.8L1760.8 466.8L1570.2 628.7Z" fill="#C9CDD6" />
<path d="M1600.6 611.4h0M1690.7 534.6h0M1611.8 593.7h0M1569.5 607.2h0M1625.6 482.5h0M1607.4 569.9h0M1621.6 536.6h0M1668.3 515.1h0M1607.8 539.9h0M1623.2 567h0M1674.2 545.9h0M1647.9 545.7h0M1635.4 552.7h0M1605.2 583.9h0M1644.5 621.6h0M1642.2 554.6h0M1634.9 574.5h0M1697.7 525.9h0M1634.3 578.9h0M1634.5 533.9h0M1669.3 531.3h0M1654.2 540.5h0M1629 548.2h0M1728.4 506.2h0M1661.2 540h0M1597.9 610.4h0M1604 591.5h0M1679 622.8h0M1590.3 621.8h0M1668.1 539.7h0M1644.4 532.1h0M1585.4 622.1h0M1679.6 500.9h0M1628.5 539.8h0M1641.2 548.4h0M1658.6 539.6h0M1664.4 528.7h0M1606 591.8h0M1651 548h0M1638.3 547.5h0M1610.1 579.5h0M1640.1 554h0M1639.8 530.4h0M1637.1 535.3h0M1643 530.4h0M1591.4 554.4h0M1624.8 594.8h0M1662.6 522.2h0M1615 555.2h0M1621.9 553.9h0M1669.2 524.9h0M1642.5 549.3h0M1667.5 523.3h0M1680.6 624.3h0M1570.1 625.5h0M1666.8 522.6h0M1601.5 595.7h0M1658.1 548h0M1655.1 554.7h0M1736.5 472.4h0M1619.7 575.2h0M1640.6 538.4h0M1623 556.4h0M1613.6 596.9h0M1621.9 584.4h0M1654.5 571.2h0M1627.9 556.2h0M1620 533.2h0M1635.4 583.4h0M1591 611.9h0M1707.2 495.3h0M1649.6 562.8h0M1620 558.5h0M1673.7 522.5h0M1686.1 542.9h0M1660.4 523.6h0M1618.6 578.5h0M1682 520.8h0M1625.4 607.2h0M1597 567.3h0M1672.8 521.1h0M1716.4 506.5h0M1629.2 584.8h0M1690 530h0M1598.4 576.3h0M1686.1 539.7h0M1613.4 580.9h0M1625.4 563.2h0M1614.2 575.9h0M1650.2 448.4h0M1640.5 574.4h0M1612 586.4h0M1665.9 534.3h0M1732.3 474.5h0M1591.1 604.9h0M1629.6 567.7h0M1667.9 524.6h0M1656.9 491.2h0M1573.4 611.7h0M1646 619h0M1671.5 517.4h0M1636.4 535.7h0M1610.3 597.9h0M1668.3 540.7h0M1653.8 548.2h0M1617.5 573h0M1642.1 548.1h0M1658.3 561.4h0M1619.7 580.7h0M1657.6 561.7h0M1622.6 567.9h0M1739 471.8h0M1737.1 475h0M1653.2 523.4h0M1644.3 555.2h0M1619.1 604.5h0M1654.9 546.5h0M1605.9 583.9h0M1719.2 513.8h0M1737.8 477.9h0M1639.7 558.7h0M1626.2 571.2h0M1620 617h0M1662.2 545h0M1627.4 544.1h0M1598.4 571.3h0M1659.4 555.4h0M1650 564.1h0M1639.4 577h0M1644.4 550.1h0M1609.4 572.3h0M1703.4 499.2h0M1662.7 532.2h0M1590 578.8h0M1696.6 518.3h0M1681.6 513.4h0M1661.3 533.1h0M1657.3 544h0M1702.4 537.7h0M1635 587.1h0M1641.5 577h0M1637.9 564.3h0M1641 549.9h0M1570.5 623.8h0M1606.8 573.5h0M1630.3 589h0M1606.5 589.3h0M1667.5 534h0M1679.9 554.6h0M1653.3 544h0M1613.2 599.8h0M1652.5 559.7h0M1631.1 577.6h0M1590.8 608h0M1639.6 558.3h0M1604.8 584.7h0M1627.1 542.2h0M1654.7 530.5h0M1642.2 550.9h0M1616.3 567.1h0M1700.9 508.5h0M1647.4 552.8h0M1643.9 577.8h0M1617.6 555.7h0M1609 592.3h0M1645.6 553.5h0M1707.8 504h0M1705 503.1h0M1612.7 582.9h0M1666 529.2h0M1658.7 544.6h0M1581.6 605.9h0M1633.2 549.7h0M1697 560.1h0M1630.8 555.7h0M1653.3 559.8h0M1721.5 480.1h0M1690.8 508h0M1598.8 589.2h0M1688.5 500.8h0M1666.4 546.8h0M1639.3 560.2h0M1637.8 581.1h0M1638.7 560.7h0M1708.3 495.3h0M1622.7 566.1h0M1627.4 575.6h0M1588.7 616.7h0M1667.2 567.9h0M1610 607.1h0M1671.5 515.3h0M1666.7 535.2h0M1604.1 583.4h0M1652.8 567.4h0M1582.1 614.6h0M1652 554.9h0M1621.8 571.5h0M1666.7 533.8h0M1634.8 525.5h0M1607.7 597.4h0M1584.1 614h0M1668.8 564.4h0M1609.3 616.5h0M1604.2 595.1h0M1606.4 594.9h0M1678 518.6h0M1668 514.8h0M1598 595.6h0M1644 577.5h0M1606.1 567h0M1606 580.3h0M1571.3 593h0M1621.1 574.9h0M1657.8 547.5h0M1625.8 558.8h0M1671.6 518.2h0M1644.1 551.9h0M1587.2 626.9h0M1637.7 620.9h0M1581 605.6h0M1647.7 556.7h0M1642.6 564.8h0M1681.9 502.3h0M1632 559.8h0M1598.2 605.6h0M1631.7 544.5h0M1639.6 574.6h0M1659.8 540.4h0M1649.4 559.3h0M1584.8 593.6h0M1663.2 535.1h0M1664.2 526h0M1645 555.3h0M1622.4 584.7h0M1651.9 550h0M1685.9 522.9h0M1572.6 602.7h0M1633.5 588h0M1655.7 552.8h0M1657.4 571h0M1642.5 508.6h0M1632 548.1h0M1659.2 533.8h0M1641.3 562.7h0M1596.5 620.4h0M1625.9 553.3h0M1656.8 554.6h0M1725.4 480.7h0M1655.8 566.9h0M1668 513.4h0M1630.3 580.1h0M1637.4 557h0M1635 547.5h0M1679.9 530.7h0M1629.8 560.7h0M1640.9 561h0M1586.7 626.1h0M1633.2 562.3h0M1619.7 590h0M1652.1 576.1h0M1599.8 588.8h0M1674.9 526.8h0M1614.5 563.6h0M1641 584h0M1659.6 530.4h0M1575.4 598.6h0M1623.3 592h0M1661.6 528.3h0M1630.1 556.8h0M1617.9 573.5h0M1666.2 549.5h0M1627.7 581.4h0M1650.4 530.1h0M1638.1 562.8h0M1612.8 596.5h0M1622 582.2h0M1646.9 554.3h0M1631.9 554.8h0M1615.5 573.9h0M1646.1 558.9h0M1655.7 574.8h0M1674 541.1h0M1639 555.1h0M1667 560.7h0M1595.3 581.1h0M1602.3 577.2h0M1621.6 569.5h0M1687.7 615.9h0M1620.3 567.1h0M1655.5 547h0M1618.1 570.9h0M1668.4 534h0M1671.3 524.9h0M1655.5 535.1h0M1599.7 612.5h0M1676.1 525.8h0M1688.8 494.8h0M1661.1 530.8h0M1662.7 553.3h0M1679.1 532.4h0M1665.2 552.3h0M1672.3 545.1h0M1641.6 552.3h0M1639.2 536.1h0M1604.5 585.7h0M1652.8 551.2h0M1617.5 578.2h0M1704.8 504.6h0M1637.8 553.7h0M1629 581.9h0M1663.6 593.5h0M1651.4 546.2h0M1610.1 582.9h0M1665.9 527.7h0M1689.5 532.7h0M1669.7 544.7h0M1646.2 575.6h0M1590.4 617.1h0M1631.3 573.6h0M1661.9 506.5h0M1620.8 574h0M1619.7 554.8h0M1591.6 528.3h0M1757.4 464.8h0M1680.2 516.6h0M1633.1 575.8h0M1591.4 591.4h0M1578.4 623.6h0M1705.6 502.4h0M1650 534.2h0M1601.1 591.4h0M1663 527.5h0M1588.7 613.6h0M1665 511h0M1625.7 565.3h0M1642.9 565h0M1587.5 614.2h0M1674.8 522.2h0M1607.6 609.8h0M1651.3 543.2h0M1666.4 551h0M1641.7 551.3h0M1657.3 565.7h0M1637.2 580.6h0M1645.3 551.5h0M1627.8 566.9h0M1602.1 565.9h0M1661.9 540.7h0M1610.3 570.1h0M1614.6 594.3h0M1698.9 493.6h0M1676.2 548.9h0M1618.2 591.4h0M1629.2 580.5h0M1611 578.6h0M1624.5 559.3h0M1607.5 571.3h0M1630.9 550.7h0M1572.8 615.7h0M1652.7 566.4h0M1634.9 547.3h0M1703.2 450.4h0M1706.3 504.4h0M1598 593.3h0M1674.1 517.4h0M1703.1 500h0M1667 527.2h0M1667.7 568h0M1651 531.2h0M1649.5 551.7h0M1589.9 603h0M1625.7 600.8h0M1685.8 530.2h0M1641.6 538.7h0M1616.1 571.6h0M1616.6 582.5h0M1623.1 558.3h0M1687.7 515.1h0M1631.7 549.9h0M1582.2 602.3h0M1716.2 503.7h0M1600.9 593.6h0M1645 555.6h0M1660.5 556.2h0M1632.2 568.5h0M1597.8 598h0M1646.1 559.6h0M1615 573h0M1661.4 532.3h0M1633.4 546.6h0M1670 512.1h0M1621 560.4h0M1667 591.3h0M1624.2 585.7h0M1654.7 555h0M1631.7 575.1h0M1683.3 503h0M1625.8 546.2h0M1610.3 562.9h0M1699.5 501.4h0" stroke="#000" stroke-width="5.3" stroke-linecap="round" fill="none" />
<path d="M1583.9 558h0M1587.6 555.8h0M1591.2 534.2h0M1602.2 549.3h0M1613.1 545h0M1616.8 523.4h0M1620.4 519.1h0M1627.8 476h0M1569.3 605.4h0M1598.5 570.9h0M1583.9 627h0M1591.2 627h0M1580.3 622.7h0M1598.5 627h0M1609.5 624.8h0" stroke="#000" stroke-width="5.3" stroke-linecap="round" fill="none" />
<line x1="1545.5" y1="632.4" x2="1769.8" y2="500" stroke="#D8403E" stroke-width="2.8" stroke-dasharray="10 6.5"/>
<line x1="1570.2" y1="622.7" x2="1760.8" y2="457.8" stroke="#4A6BB3" stroke-width="5" />
<path d="M1545.5 440V636.7H1769.8" fill="none" stroke="#111" stroke-width="3" />
<line x1="1536.5" y1="454.4" x2="1545.5" y2="454.4" stroke="#111" stroke-width="3" />
<text x="1528" y="460.5" font-size="17" text-anchor="end">0.4</text>
<line x1="1536.5" y1="497.5" x2="1545.5" y2="497.5" stroke="#111" stroke-width="3" />
<text x="1528" y="503.6" font-size="17" text-anchor="end">0.3</text>
<line x1="1536.5" y1="540.6" x2="1545.5" y2="540.6" stroke="#111" stroke-width="3" />
<text x="1528" y="546.7" font-size="17" text-anchor="end">0.2</text>
<line x1="1536.5" y1="583.9" x2="1545.5" y2="583.9" stroke="#111" stroke-width="3" />
<text x="1528" y="590" font-size="17" text-anchor="end">0.1</text>
<line x1="1536.5" y1="627" x2="1545.5" y2="627" stroke="#111" stroke-width="3" />
<text x="1528" y="633.1" font-size="17" text-anchor="end">0.0</text>
<line x1="1554.7" y1="636.7" x2="1554.7" y2="644.7" stroke="#111" stroke-width="3" />
<text x="1554.7" y="661" font-size="17" text-anchor="middle">0.0</text>
<line x1="1627.9" y1="636.7" x2="1627.9" y2="644.7" stroke="#111" stroke-width="3" />
<text x="1627.9" y="661" font-size="17" text-anchor="middle">0.1</text>
<line x1="1700.8" y1="636.7" x2="1700.8" y2="644.7" stroke="#111" stroke-width="3" />
<text x="1700.8" y="661" font-size="17" text-anchor="middle">0.2</text>
<text x="1657.4" y="681.7" font-size="18.3" text-anchor="middle">T cell fraction</text>
<text x="1551.9" y="464.3" font-size="18.2">ρ = 0.8 , P = 1.47e-73</text>
<text x="1555.2" y="491.5" font-size="17.5"><tspan font-style="italic">y</tspan> = − 0.015</text>
<text x="1572.7" y="508.4" font-size="17.5">+1.5 <tspan font-style="italic">x</tspan></text>
<text x="1676.5" y="580.5" font-size="18" font-weight="bold"><tspan font-style="italic">TCRB</tspan> vs</text>
<text x="1706" y="606.7" font-size="18" font-weight="bold" font-style="italic">TCRG</text>
<text x="1490.5" y="537.9" font-size="18.3" text-anchor="middle" transform="rotate(-90 1490.5 537.9)">T cell fraction</text>
<text x="-2" y="698.9" font-size="44" font-weight="bold">e</text>
<path d="M56.2 807.6V801.9H71.1V807.6M41.4 807.6V796.4H63.6V801.9M26.6 807.6V795.4H52.5V796.4M85.9 807.6V799.1H100.7V807.6M115.5 807.6V796.4H130.3V807.6M93.3 799.1V788.3H122.9V796.4M39.6 795.4V783.8H108.1V788.3M159.9 807.6V798H174.8V807.6M145.1 807.6V793.4H167.3V798M204.4 807.6V802.5H219.2V807.6M189.6 807.6V797H211.8V802.5M248.8 807.6V802H263.6V807.6M234 807.6V795.8H256.2V802M200.7 797V789.7H245.1V795.8M156.2 793.4V778.8H222.9V789.7M73.8 783.8V770.6H189.6V778.8M308.1 807.6V800.9H322.9V807.6M293.3 807.6V800.2H315.5V800.9M278.5 807.6V796.2H304.4V800.2M367.4 807.6V805.6H382.2V807.6M352.5 807.6V802.3H374.8V805.6M337.7 807.6V801.3H363.6V802.3M397 807.6V805H411.8V807.6M426.6 807.6V803.6H441.4V807.6M404.4 805V800.2H434V803.6M350.7 801.3V793.2H419.2V800.2M291.4 796.2V789.1H384.9V793.2M456.2 807.6V795.9H471.1V807.6M515.5 807.6V800.2H530.3V807.6M500.7 807.6V794.2H522.9V800.2M485.9 807.6V786.3H511.8V794.2M463.6 795.9V782H498.8V786.3M338.2 789.1V768.4H481.2V782M131.7 770.6V751.5H409.7V768.4M545.1 807.6V800.9H559.9V807.6M574.8 807.6V799.9H589.6V807.6M552.5 800.9V780.7H582.2V799.9M604.4 807.6V789.3H619.2V807.6M648.8 807.6V800.2H663.7V807.6M634 807.6V792.4H656.2V800.2M693.3 807.6V790H708.1V807.6M678.5 807.6V781.5H700.7V790M645.1 792.4V777.9H689.6V781.5M611.8 789.3V764.6H667.4V777.9M567.4 780.7V748H639.6V764.6M270.7 751.5V723.7H603.5V748M722.9 807.6V792.7H737.7V807.6M767.4 807.6V796.4H782.2V807.6M752.5 807.6V787.6H774.8V796.4M730.3 792.7V785.4H763.7V787.6M797 807.6V798.6H811.8V807.6M826.6 807.6V796.8H841.4V807.6M804.4 798.6V794.5H834V796.8M871.1 807.6V799.3H885.9V807.6M856.2 807.6V794.2H878.5V799.3M819.2 794.5V785.4H867.4V794.2M747 785.4V768.8H843.3V785.4M900.7 807.6V798.6H915.5V807.6M974.8 807.6V803.3H989.6V807.6M960 807.6V795.4H982.2V803.3M945.1 807.6V793.9H971.1V795.4M930.3 807.6V791H958.1V793.9M908.1 798.6V785.4H944.2V791M1019.2 807.6V797.8H1034V807.6M1063.7 807.6V798.9H1078.5V807.6M1048.8 807.6V795.9H1071.1V798.9M1026.6 797.8V792.7H1060V795.9M1004.4 807.6V789.5H1043.3V792.7M1093.3 807.6V795.4H1108.1V807.6M1122.9 807.6V797.9H1137.7V807.6M1152.5 807.6V797.4H1167.4V807.6M1130.3 797.9V786.8H1160V797.4M1100.7 795.4V778H1145.1V786.8M1023.8 789.5V773.6H1122.9V778M926.2 785.4V766H1073.4V773.6M795.1 768.8V752.4H999.8V766M1182.2 807.6V796.4H1197V807.6M1211.8 807.6V795.9H1226.6V807.6M1189.6 796.4V784.8H1219.2V795.9M1241.4 807.6V797.9H1256.3V807.6M1271.1 807.6V795.1H1285.9V807.6M1300.7 807.6V794.1H1315.5V807.6M1278.5 795.1V787H1308.1V794.1M1248.8 797.9V785.7H1293.3V787M1330.3 807.6V792.4H1345.1V807.6M1360 807.6V787.5H1374.8V807.6M1337.7 792.4V777.2H1367.4V787.5M1271.1 785.7V771.8H1352.6V777.2M1204.4 784.8V750.6H1311.8V771.8M897.5 752.4V708.7H1258.1V750.6M437.1 723.7V648.2H1077.8V708.7" fill="none" stroke="#111" stroke-width="2.3" stroke-linecap="square"/>
<text x="757.6" y="680.7" font-size="27.4" text-anchor="middle">TRACERx 100 matched WGS-RNAseq data</text>
<text x="757.2" y="712.5" font-size="27.4" text-anchor="middle">(n = 172 )</text>
<rect x="18.2" y="810" width="1365" height="18" fill="#85888B" />
<rect x="20.4" y="812.2" width="12.4" height="13.6" fill="#FFFFFF" />
<rect x="35.2" y="812.2" width="12.4" height="13.6" fill="#FFFFFF" />
<rect x="50" y="812.2" width="12.4" height="13.6" fill="#FFFFFF" />
<rect x="64.8" y="812.2" width="12.4" height="13.6" fill="#97D2D1" />
<rect x="79.7" y="812.2" width="12.4" height="13.6" fill="#FFFFFF" />
<rect x="94.5" y="812.2" width="12.4" height="13.6" fill="#97D2D1" />
<rect x="109.3" y="812.2" width="12.4" height="13.6" fill="#97D2D1" />
<rect x="124.1" y="812.2" width="12.4" height="13.6" fill="#FFFFFF" />
<rect x="138.9" y="812.2" width="12.4" height="13.6" fill="#97D2D1" />
<rect x="153.7" y="812.2" width="12.4" height="13.6" fill="#FFFFFF" />
<rect x="168.5" y="812.2" width="12.4" height="13.6" fill="#97D2D1" />
<rect x="183.4" y="812.2" width="12.4" height="13.6" fill="#FFFFFF" />
<rect x="198.2" y="812.2" width="12.4" height="13.6" fill="#FFFFFF" />
<rect x="213" y="812.2" width="12.4" height="13.6" fill="#FFFFFF" />
<rect x="227.8" y="812.2" width="12.4" height="13.6" fill="#FFFFFF" />
<rect x="242.6" y="812.2" width="12.4" height="13.6" fill="#FFFFFF" />
<rect x="257.4" y="812.2" width="12.4" height="13.6" fill="#FFFFFF" />
<rect x="272.3" y="812.2" width="12.4" height="13.6" fill="#97D2D1" />
<rect x="287.1" y="812.2" width="12.4" height="13.6" fill="#FFFFFF" />
<rect x="301.9" y="812.2" width="12.4" height="13.6" fill="#FFFFFF" />
<rect x="316.7" y="812.2" width="12.4" height="13.6" fill="#FFFFFF" />
<rect x="331.5" y="812.2" width="12.4" height="13.6" fill="#97D2D1" />
<rect x="346.3" y="812.2" width="12.4" height="13.6" fill="#FFFFFF" />
<rect x="361.1" y="812.2" width="12.4" height="13.6" fill="#97D2D1" />
<rect x="376" y="812.2" width="12.4" height="13.6" fill="#FFFFFF" />
<rect x="390.8" y="812.2" width="12.4" height="13.6" fill="#97D2D1" />
<rect x="405.6" y="812.2" width="12.4" height="13.6" fill="#97D2D1" />
<rect x="420.4" y="812.2" width="12.4" height="13.6" fill="#97D2D1" />
<rect x="435.2" y="812.2" width="12.4" height="13.6" fill="#FFFFFF" />
<rect x="450" y="812.2" width="12.4" height="13.6" fill="#FFFFFF" />
<rect x="464.8" y="812.2" width="12.4" height="13.6" fill="#7B1B22" />
<rect x="479.7" y="812.2" width="12.4" height="13.6" fill="#97D2D1" />
<rect x="494.5" y="812.2" width="12.4" height="13.6" fill="#97D2D1" />
<rect x="509.3" y="812.2" width="12.4" height="13.6" fill="#97D2D1" />
<rect x="524.1" y="812.2" width="12.4" height="13.6" fill="#97D2D1" />
<rect x="538.9" y="812.2" width="12.4" height="13.6" fill="#7B1B22" />
<rect x="553.7" y="812.2" width="12.4" height="13.6" fill="#7B1B22" />
<rect x="568.6" y="812.2" width="12.4" height="13.6" fill="#FFFFFF" />
<rect x="583.4" y="812.2" width="12.4" height="13.6" fill="#FFFFFF" />
<rect x="598.2" y="812.2" width="12.4" height="13.6" fill="#97D2D1" />
<rect x="613" y="812.2" width="12.4" height="13.6" fill="#7B1B22" />
<rect x="627.8" y="812.2" width="12.4" height="13.6" fill="#7B1B22" />
<rect x="642.6" y="812.2" width="12.4" height="13.6" fill="#7B1B22" />
<rect x="657.4" y="812.2" width="12.4" height="13.6" fill="#7B1B22" />
<rect x="672.3" y="812.2" width="12.4" height="13.6" fill="#7B1B22" />
<rect x="687.1" y="812.2" width="12.4" height="13.6" fill="#7B1B22" />
<rect x="701.9" y="812.2" width="12.4" height="13.6" fill="#7B1B22" />
<rect x="716.7" y="812.2" width="12.4" height="13.6" fill="#FFFFFF" />
<rect x="731.5" y="812.2" width="12.4" height="13.6" fill="#FFFFFF" />
<rect x="746.3" y="812.2" width="12.4" height="13.6" fill="#7B1B22" />
<rect x="761.2" y="812.2" width="12.4" height="13.6" fill="#97D2D1" />
<rect x="776" y="812.2" width="12.4" height="13.6" fill="#97D2D1" />
<rect x="790.8" y="812.2" width="12.4" height="13.6" fill="#FFFFFF" />
<rect x="805.6" y="812.2" width="12.4" height="13.6" fill="#FFFFFF" />
<rect x="820.4" y="812.2" width="12.4" height="13.6" fill="#97D2D1" />
<rect x="835.2" y="812.2" width="12.4" height="13.6" fill="#FFFFFF" />
<rect x="850" y="812.2" width="12.4" height="13.6" fill="#FFFFFF" />
<rect x="864.9" y="812.2" width="12.4" height="13.6" fill="#FFFFFF" />
<rect x="879.7" y="812.2" width="12.4" height="13.6" fill="#FFFFFF" />
<rect x="894.5" y="812.2" width="12.4" height="13.6" fill="#FFFFFF" />
<rect x="909.3" y="812.2" width="12.4" height="13.6" fill="#FFFFFF" />
<rect x="924.1" y="812.2" width="12.4" height="13.6" fill="#97D2D1" />
<rect x="938.9" y="812.2" width="12.4" height="13.6" fill="#FFFFFF" />
<rect x="953.7" y="812.2" width="12.4" height="13.6" fill="#FFFFFF" />
<rect x="968.6" y="812.2" width="12.4" height="13.6" fill="#FFFFFF" />
<rect x="983.4" y="812.2" width="12.4" height="13.6" fill="#FFFFFF" />
<rect x="998.2" y="812.2" width="12.4" height="13.6" fill="#FFFFFF" />
<rect x="1013" y="812.2" width="12.4" height="13.6" fill="#97D2D1" />
<rect x="1027.8" y="812.2" width="12.4" height="13.6" fill="#FFFFFF" />
<rect x="1042.6" y="812.2" width="12.4" height="13.6" fill="#FFFFFF" />
<rect x="1057.5" y="812.2" width="12.4" height="13.6" fill="#FFFFFF" />
<rect x="1072.3" y="812.2" width="12.4" height="13.6" fill="#97D2D1" />
<rect x="1087.1" y="812.2" width="12.4" height="13.6" fill="#FFFFFF" />
<rect x="1101.9" y="812.2" width="12.4" height="13.6" fill="#97D2D1" />
<rect x="1116.7" y="812.2" width="12.4" height="13.6" fill="#FFFFFF" />
<rect x="1131.5" y="812.2" width="12.4" height="13.6" fill="#FFFFFF" />
<rect x="1146.3" y="812.2" width="12.4" height="13.6" fill="#FFFFFF" />
<rect x="1161.2" y="812.2" width="12.4" height="13.6" fill="#FFFFFF" />
<rect x="1176" y="812.2" width="12.4" height="13.6" fill="#FFFFFF" />
<rect x="1190.8" y="812.2" width="12.4" height="13.6" fill="#FFFFFF" />
<rect x="1205.6" y="812.2" width="12.4" height="13.6" fill="#FFFFFF" />
<rect x="1220.4" y="812.2" width="12.4" height="13.6" fill="#97D2D1" />
<rect x="1235.2" y="812.2" width="12.4" height="13.6" fill="#FFFFFF" />
<rect x="1250" y="812.2" width="12.4" height="13.6" fill="#FFFFFF" />
<rect x="1264.9" y="812.2" width="12.4" height="13.6" fill="#97D2D1" />
<rect x="1279.7" y="812.2" width="12.4" height="13.6" fill="#FFFFFF" />
<rect x="1294.5" y="812.2" width="12.4" height="13.6" fill="#FFFFFF" />
<rect x="1309.3" y="812.2" width="12.4" height="13.6" fill="#FFFFFF" />
<rect x="1324.1" y="812.2" width="12.4" height="13.6" fill="#97D2D1" />
<rect x="1338.9" y="812.2" width="12.4" height="13.6" fill="#FFFFFF" />
<rect x="1353.8" y="812.2" width="12.4" height="13.6" fill="#FFFFFF" />
<rect x="1368.6" y="812.2" width="12.4" height="13.6" fill="#97D2D1" />
<rect x="18.2" y="831.5" width="1365" height="18.2" fill="#85888B" />
<rect x="20.4" y="833.7" width="12.4" height="13.8" fill="#6CC071" />
<rect x="35.2" y="833.7" width="12.4" height="13.8" fill="#EAAD76" />
<rect x="50" y="833.7" width="12.4" height="13.8" fill="#EAAD76" />
<rect x="64.8" y="833.7" width="12.4" height="13.8" fill="#E0308C" />
<rect x="79.7" y="833.7" width="12.4" height="13.8" fill="#6CC071" />
<rect x="94.5" y="833.7" width="12.4" height="13.8" fill="#E0308C" />
<rect x="109.3" y="833.7" width="12.4" height="13.8" fill="#E0308C" />
<rect x="124.1" y="833.7" width="12.4" height="13.8" fill="#E0308C" />
<rect x="138.9" y="833.7" width="12.4" height="13.8" fill="#E0308C" />
<rect x="153.7" y="833.7" width="12.4" height="13.8" fill="#EAAD76" />
<rect x="168.5" y="833.7" width="12.4" height="13.8" fill="#3E6BA8" />
<rect x="183.4" y="833.7" width="12.4" height="13.8" fill="#E0308C" />
<rect x="198.2" y="833.7" width="12.4" height="13.8" fill="#EAAD76" />
<rect x="213" y="833.7" width="12.4" height="13.8" fill="#A99BCB" />
<rect x="227.8" y="833.7" width="12.4" height="13.8" fill="#A99BCB" />
<rect x="242.6" y="833.7" width="12.4" height="13.8" fill="#EBF487" />
<rect x="257.4" y="833.7" width="12.4" height="13.8" fill="#E0308C" />
<rect x="272.3" y="833.7" width="12.4" height="13.8" fill="#A99BCB" />
<rect x="287.1" y="833.7" width="12.4" height="13.8" fill="#A99BCB" />
<rect x="301.9" y="833.7" width="12.4" height="13.8" fill="#A99BCB" />
<rect x="316.7" y="833.7" width="12.4" height="13.8" fill="#E0308C" />
<rect x="331.5" y="833.7" width="12.4" height="13.8" fill="#A99BCB" />
<rect x="346.3" y="833.7" width="12.4" height="13.8" fill="#EAAD76" />
<rect x="361.1" y="833.7" width="12.4" height="13.8" fill="#EAAD76" />
<rect x="376" y="833.7" width="12.4" height="13.8" fill="#EAAD76" />
<rect x="390.8" y="833.7" width="12.4" height="13.8" fill="#A99BCB" />
<rect x="405.6" y="833.7" width="12.4" height="13.8" fill="#E0308C" />
<rect x="420.4" y="833.7" width="12.4" height="13.8" fill="#A99BCB" />
<rect x="435.2" y="833.7" width="12.4" height="13.8" fill="#A99BCB" />
<rect x="450" y="833.7" width="12.4" height="13.8" fill="#A99BCB" />
<rect x="464.8" y="833.7" width="12.4" height="13.8" fill="#3E6BA8" />
<rect x="479.7" y="833.7" width="12.4" height="13.8" fill="#EAAD76" />
<rect x="494.5" y="833.7" width="12.4" height="13.8" fill="#6CC071" />
<rect x="509.3" y="833.7" width="12.4" height="13.8" fill="#EAAD76" />
<rect x="524.1" y="833.7" width="12.4" height="13.8" fill="#A99BCB" />
<rect x="538.9" y="833.7" width="12.4" height="13.8" fill="#6CC071" />
<rect x="553.7" y="833.7" width="12.4" height="13.8" fill="#E0308C" />
<rect x="568.6" y="833.7" width="12.4" height="13.8" fill="#E0308C" />
<rect x="583.4" y="833.7" width="12.4" height="13.8" fill="#E0308C" />
<rect x="598.2" y="833.7" width="12.4" height="13.8" fill="#E0308C" />
<rect x="613" y="833.7" width="12.4" height="13.8" fill="#E0308C" />
<rect x="627.8" y="833.7" width="12.4" height="13.8" fill="#E0308C" />
<rect x="642.6" y="833.7" width="12.4" height="13.8" fill="#EAAD76" />
<rect x="657.4" y="833.7" width="12.4" height="13.8" fill="#A99BCB" />
<rect x="672.3" y="833.7" width="12.4" height="13.8" fill="#EBF487" />
<rect x="687.1" y="833.7" width="12.4" height="13.8" fill="#E0308C" />
<rect x="701.9" y="833.7" width="12.4" height="13.8" fill="#E0308C" />
<rect x="716.7" y="833.7" width="12.4" height="13.8" fill="#EBF487" />
<rect x="731.5" y="833.7" width="12.4" height="13.8" fill="#E0308C" />
<rect x="746.3" y="833.7" width="12.4" height="13.8" fill="#E0308C" />
<rect x="761.2" y="833.7" width="12.4" height="13.8" fill="#EBF487" />
<rect x="776" y="833.7" width="12.4" height="13.8" fill="#E0308C" />
<rect x="790.8" y="833.7" width="12.4" height="13.8" fill="#A99BCB" />
<rect x="805.6" y="833.7" width="12.4" height="13.8" fill="#E0308C" />
<rect x="820.4" y="833.7" width="12.4" height="13.8" fill="#E0308C" />
<rect x="835.2" y="833.7" width="12.4" height="13.8" fill="#E0308C" />
<rect x="850" y="833.7" width="12.4" height="13.8" fill="#EBF487" />
<rect x="864.9" y="833.7" width="12.4" height="13.8" fill="#E0308C" />
<rect x="879.7" y="833.7" width="12.4" height="13.8" fill="#E0308C" />
<rect x="894.5" y="833.7" width="12.4" height="13.8" fill="#3E6BA8" />
<rect x="909.3" y="833.7" width="12.4" height="13.8" fill="#E0308C" />
<rect x="924.1" y="833.7" width="12.4" height="13.8" fill="#E0308C" />
<rect x="938.9" y="833.7" width="12.4" height="13.8" fill="#E0308C" />
<rect x="953.7" y="833.7" width="12.4" height="13.8" fill="#3E6BA8" />
<rect x="968.6" y="833.7" width="12.4" height="13.8" fill="#E0308C" />
<rect x="983.4" y="833.7" width="12.4" height="13.8" fill="#E0308C" />
<rect x="998.2" y="833.7" width="12.4" height="13.8" fill="#E0308C" />
<rect x="1013" y="833.7" width="12.4" height="13.8" fill="#3E6BA8" />
<rect x="1027.8" y="833.7" width="12.4" height="13.8" fill="#E0308C" />
<rect x="1042.6" y="833.7" width="12.4" height="13.8" fill="#EBF487" />
<rect x="1057.5" y="833.7" width="12.4" height="13.8" fill="#E0308C" />
<rect x="1072.3" y="833.7" width="12.4" height="13.8" fill="#E0308C" />
<rect x="1087.1" y="833.7" width="12.4" height="13.8" fill="#EAAD76" />
<rect x="1101.9" y="833.7" width="12.4" height="13.8" fill="#E0308C" />
<rect x="1116.7" y="833.7" width="12.4" height="13.8" fill="#EAAD76" />
<rect x="1131.5" y="833.7" width="12.4" height="13.8" fill="#6CC071" />
<rect x="1146.3" y="833.7" width="12.4" height="13.8" fill="#A99BCB" />
<rect x="1161.2" y="833.7" width="12.4" height="13.8" fill="#E0308C" />
<rect x="1176" y="833.7" width="12.4" height="13.8" fill="#EBF487" />
<rect x="1190.8" y="833.7" width="12.4" height="13.8" fill="#E0308C" />
<rect x="1205.6" y="833.7" width="12.4" height="13.8" fill="#E0308C" />
<rect x="1220.4" y="833.7" width="12.4" height="13.8" fill="#E0308C" />
<rect x="1235.2" y="833.7" width="12.4" height="13.8" fill="#E0308C" />
<rect x="1250" y="833.7" width="12.4" height="13.8" fill="#E0308C" />
<rect x="1264.9" y="833.7" width="12.4" height="13.8" fill="#A99BCB" />
<rect x="1279.7" y="833.7" width="12.4" height="13.8" fill="#6CC071" />
<rect x="1294.5" y="833.7" width="12.4" height="13.8" fill="#E0308C" />
<rect x="1309.3" y="833.7" width="12.4" height="13.8" fill="#E0308C" />
<rect x="1324.1" y="833.7" width="12.4" height="13.8" fill="#EBF487" />
<rect x="1338.9" y="833.7" width="12.4" height="13.8" fill="#E0308C" />
<rect x="1353.8" y="833.7" width="12.4" height="13.8" fill="#3E6BA8" />
<rect x="1368.6" y="833.7" width="12.4" height="13.8" fill="#E0308C" />
<rect x="18.2" y="855.9" width="1365" height="153.3" fill="#85888B" />
<rect x="20.4" y="858.1" width="12.3" height="19.1" fill="#E06D52" />
<rect x="35.3" y="858.1" width="12.3" height="19.1" fill="#E06D52" />
<rect x="50.1" y="858.1" width="12.3" height="19.1" fill="#E07356" />
<rect x="64.9" y="858.1" width="12.3" height="19.1" fill="#E06D52" />
<rect x="79.7" y="858.1" width="12.3" height="19.1" fill="#E2885F" />
<rect x="94.5" y="858.1" width="12.3" height="19.1" fill="#E2885F" />
<rect x="109.3" y="858.1" width="12.3" height="19.1" fill="#E06D52" />
<rect x="124.2" y="858.1" width="12.3" height="19.1" fill="#E17A59" />
<rect x="139" y="858.1" width="12.3" height="19.1" fill="#E7B272" />
<rect x="153.8" y="858.1" width="12.3" height="19.1" fill="#E7B272" />
<rect x="168.6" y="858.1" width="12.3" height="19.1" fill="#E8BA76" />
<rect x="183.4" y="858.1" width="12.3" height="19.1" fill="#E2805C" />
<rect x="198.2" y="858.1" width="12.3" height="19.1" fill="#E2805C" />
<rect x="213" y="858.1" width="12.3" height="19.1" fill="#E2885F" />
<rect x="227.9" y="858.1" width="12.3" height="19.1" fill="#E28F62" />
<rect x="242.7" y="858.1" width="12.3" height="19.1" fill="#E39765" />
<rect x="257.5" y="858.1" width="12.3" height="19.1" fill="#E39765" />
<rect x="272.3" y="858.1" width="12.3" height="19.1" fill="#DB5846" />
<rect x="287.1" y="858.1" width="12.3" height="19.1" fill="#DB5846" />
<rect x="301.9" y="858.1" width="12.3" height="19.1" fill="#DB5846" />
<rect x="316.8" y="858.1" width="12.3" height="19.1" fill="#DF664F" />
<rect x="331.6" y="858.1" width="12.3" height="19.1" fill="#D5433B" />
<rect x="346.4" y="858.1" width="12.3" height="19.1" fill="#D74A3E" />
<rect x="361.2" y="858.1" width="12.3" height="19.1" fill="#D7483D" />
<rect x="376" y="858.1" width="12.3" height="19.1" fill="#D84C3F" />
<rect x="390.8" y="858.1" width="12.3" height="19.1" fill="#DA5142" />
<rect x="405.6" y="858.1" width="12.3" height="19.1" fill="#DA5142" />
<rect x="420.5" y="858.1" width="12.3" height="19.1" fill="#D6463C" />
<rect x="435.3" y="858.1" width="12.3" height="19.1" fill="#D5433B" />
<rect x="450.1" y="858.1" width="12.3" height="19.1" fill="#E2885F" />
<rect x="464.9" y="858.1" width="12.3" height="19.1" fill="#E39765" />
<rect x="479.7" y="858.1" width="12.3" height="19.1" fill="#E07356" />
<rect x="494.5" y="858.1" width="12.3" height="19.1" fill="#E2805C" />
<rect x="509.3" y="858.1" width="12.3" height="19.1" fill="#E17A59" />
<rect x="524.2" y="858.1" width="12.3" height="19.1" fill="#E17A59" />
<rect x="539" y="858.1" width="12.3" height="19.1" fill="#EBF4B5" />
<rect x="553.8" y="858.1" width="12.3" height="19.1" fill="#EFF4A9" />
<rect x="568.6" y="858.1" width="12.3" height="19.1" fill="#ECF4B2" />
<rect x="583.4" y="858.1" width="12.3" height="19.1" fill="#EEED9C" />
<rect x="598.2" y="858.1" width="12.3" height="19.1" fill="#EAC57D" />
<rect x="613.1" y="858.1" width="12.3" height="19.1" fill="#EEE896" />
<rect x="627.9" y="858.1" width="12.3" height="19.1" fill="#E39364" />
<rect x="642.7" y="858.1" width="12.3" height="19.1" fill="#E39364" />
<rect x="657.5" y="858.1" width="12.3" height="19.1" fill="#E4A66C" />
<rect x="672.3" y="858.1" width="12.3" height="19.1" fill="#EDE593" />
<rect x="687.1" y="858.1" width="12.3" height="19.1" fill="#E9BD78" />
<rect x="701.9" y="858.1" width="12.3" height="19.1" fill="#EBCD81" />
<rect x="716.8" y="858.1" width="12.3" height="19.1" fill="#CCE9EB" />
<rect x="731.6" y="858.1" width="12.3" height="19.1" fill="#D2EDEC" />
<rect x="746.4" y="858.1" width="12.3" height="19.1" fill="#DFF0D1" />
<rect x="761.2" y="858.1" width="12.3" height="19.1" fill="#DFF0D1" />
<rect x="776" y="858.1" width="12.3" height="19.1" fill="#EFF5AB" />
<rect x="790.8" y="858.1" width="12.3" height="19.1" fill="#EEF1A1" />
<rect x="805.6" y="858.1" width="12.3" height="19.1" fill="#ECF4B2" />
<rect x="820.5" y="858.1" width="12.3" height="19.1" fill="#E5F2C1" />
<rect x="835.3" y="858.1" width="12.3" height="19.1" fill="#E1F1CB" />
<rect x="850.1" y="858.1" width="12.3" height="19.1" fill="#EEF2A4" />
<rect x="864.9" y="858.1" width="12.3" height="19.1" fill="#EEF2A4" />
<rect x="879.7" y="858.1" width="12.3" height="19.1" fill="#EEF2A4" />
<rect x="894.5" y="858.1" width="12.3" height="19.1" fill="#EBC97F" />
<rect x="909.4" y="858.1" width="12.3" height="19.1" fill="#EAC57D" />
<rect x="924.2" y="858.1" width="12.3" height="19.1" fill="#EBCD81" />
<rect x="939" y="858.1" width="12.3" height="19.1" fill="#EDE290" />
<rect x="953.8" y="858.1" width="12.3" height="19.1" fill="#EEF1A1" />
<rect x="968.6" y="858.1" width="12.3" height="19.1" fill="#ECD586" />
<rect x="983.4" y="858.1" width="12.3" height="19.1" fill="#EAC57D" />
<rect x="998.2" y="858.1" width="12.3" height="19.1" fill="#EEED9C" />
<rect x="1013.1" y="858.1" width="12.3" height="19.1" fill="#EFF5AB" />
<rect x="1027.9" y="858.1" width="12.3" height="19.1" fill="#EEF1A1" />
<rect x="1042.7" y="858.1" width="12.3" height="19.1" fill="#EFF4A9" />
<rect x="1057.5" y="858.1" width="12.3" height="19.1" fill="#EEF1A1" />
<rect x="1072.3" y="858.1" width="12.3" height="19.1" fill="#EFF4A9" />
<rect x="1087.1" y="858.1" width="12.3" height="19.1" fill="#EBCD81" />
<rect x="1101.9" y="858.1" width="12.3" height="19.1" fill="#EEE896" />
<rect x="1116.8" y="858.1" width="12.3" height="19.1" fill="#EFF5AB" />
<rect x="1131.6" y="858.1" width="12.3" height="19.1" fill="#EFF4A9" />
<rect x="1146.4" y="858.1" width="12.3" height="19.1" fill="#EDE290" />
<rect x="1161.2" y="858.1" width="12.3" height="19.1" fill="#EEED9C" />
<rect x="1176" y="858.1" width="12.3" height="19.1" fill="#577AB2" />
<rect x="1190.8" y="858.1" width="12.3" height="19.1" fill="#5170AB" />
<rect x="1205.7" y="858.1" width="12.3" height="19.1" fill="#648CBC" />
<rect x="1220.5" y="858.1" width="12.3" height="19.1" fill="#5A7FB5" />
<rect x="1235.3" y="858.1" width="12.3" height="19.1" fill="#ADD7E0" />
<rect x="1250.1" y="858.1" width="12.3" height="19.1" fill="#90C0D2" />
<rect x="1264.9" y="858.1" width="12.3" height="19.1" fill="#A2CFDB" />
<rect x="1279.7" y="858.1" width="12.3" height="19.1" fill="#90C0D2" />
<rect x="1294.5" y="858.1" width="12.3" height="19.1" fill="#99C8D7" />
<rect x="1309.4" y="858.1" width="12.3" height="19.1" fill="#77A6C5" />
<rect x="1324.2" y="858.1" width="12.3" height="19.1" fill="#E6F2BE" />
<rect x="1339" y="858.1" width="12.3" height="19.1" fill="#EFF4A9" />
<rect x="1353.8" y="858.1" width="12.3" height="19.1" fill="#7FAFC9" />
<rect x="1368.6" y="858.1" width="12.3" height="19.1" fill="#ADD7E0" />
<rect x="20.4" y="879.8" width="12.3" height="19.1" fill="#DB5846" />
<rect x="35.3" y="879.8" width="12.3" height="19.1" fill="#E07054" />
<rect x="50.1" y="879.8" width="12.3" height="19.1" fill="#E17657" />
<rect x="64.9" y="879.8" width="12.3" height="19.1" fill="#E06D52" />
<rect x="79.7" y="879.8" width="12.3" height="19.1" fill="#E39364" />
<rect x="94.5" y="879.8" width="12.3" height="19.1" fill="#E2805C" />
<rect x="109.3" y="879.8" width="12.3" height="19.1" fill="#DF6951" />
<rect x="124.2" y="879.8" width="12.3" height="19.1" fill="#E17A59" />
<rect x="139" y="879.8" width="12.3" height="19.1" fill="#E39F69" />
<rect x="153.8" y="879.8" width="12.3" height="19.1" fill="#E7B272" />
<rect x="168.6" y="879.8" width="12.3" height="19.1" fill="#E6AE70" />
<rect x="183.4" y="879.8" width="12.3" height="19.1" fill="#E17A59" />
<rect x="198.2" y="879.8" width="12.3" height="19.1" fill="#E2885F" />
<rect x="213" y="879.8" width="12.3" height="19.1" fill="#E28F62" />
<rect x="227.9" y="879.8" width="12.3" height="19.1" fill="#E39364" />
<rect x="242.7" y="879.8" width="12.3" height="19.1" fill="#E39364" />
<rect x="257.5" y="879.8" width="12.3" height="19.1" fill="#E39364" />
<rect x="272.3" y="879.8" width="12.3" height="19.1" fill="#DB5846" />
<rect x="287.1" y="879.8" width="12.3" height="19.1" fill="#DD5F4B" />
<rect x="301.9" y="879.8" width="12.3" height="19.1" fill="#DF664F" />
<rect x="316.8" y="879.8" width="12.3" height="19.1" fill="#DD5F4B" />
<rect x="331.6" y="879.8" width="12.3" height="19.1" fill="#D74A3E" />
<rect x="346.4" y="879.8" width="12.3" height="19.1" fill="#DA5142" />
<rect x="361.2" y="879.8" width="12.3" height="19.1" fill="#D94E40" />
<rect x="376" y="879.8" width="12.3" height="19.1" fill="#DB5846" />
<rect x="390.8" y="879.8" width="12.3" height="19.1" fill="#DB5846" />
<rect x="405.6" y="879.8" width="12.3" height="19.1" fill="#D84C3F" />
<rect x="420.5" y="879.8" width="12.3" height="19.1" fill="#D84C3F" />
<rect x="435.3" y="879.8" width="12.3" height="19.1" fill="#D74A3E" />
<rect x="450.1" y="879.8" width="12.3" height="19.1" fill="#E2885F" />
<rect x="464.9" y="879.8" width="12.3" height="19.1" fill="#E39765" />
<rect x="479.7" y="879.8" width="12.3" height="19.1" fill="#E2805C" />
<rect x="494.5" y="879.8" width="12.3" height="19.1" fill="#E2805C" />
<rect x="509.3" y="879.8" width="12.3" height="19.1" fill="#E28F62" />
<rect x="524.2" y="879.8" width="12.3" height="19.1" fill="#E2805C" />
<rect x="539" y="879.8" width="12.3" height="19.1" fill="#E5F2C1" />
<rect x="553.8" y="879.8" width="12.3" height="19.1" fill="#ECF4B2" />
<rect x="568.6" y="879.8" width="12.3" height="19.1" fill="#ECF4B2" />
<rect x="583.4" y="879.8" width="12.3" height="19.1" fill="#EEED9C" />
<rect x="598.2" y="879.8" width="12.3" height="19.1" fill="#EAC57D" />
<rect x="613.1" y="879.8" width="12.3" height="19.1" fill="#EDE08E" />
<rect x="627.9" y="879.8" width="12.3" height="19.1" fill="#E39364" />
<rect x="642.7" y="879.8" width="12.3" height="19.1" fill="#E4A66C" />
<rect x="657.5" y="879.8" width="12.3" height="19.1" fill="#E9BD78" />
<rect x="672.3" y="879.8" width="12.3" height="19.1" fill="#EEE896" />
<rect x="687.1" y="879.8" width="12.3" height="19.1" fill="#EAC57D" />
<rect x="701.9" y="879.8" width="12.3" height="19.1" fill="#EBCD81" />
<rect x="716.8" y="879.8" width="12.3" height="19.1" fill="#CCE9EB" />
<rect x="731.6" y="879.8" width="12.3" height="19.1" fill="#CCE9EB" />
<rect x="746.4" y="879.8" width="12.3" height="19.1" fill="#EFF5AB" />
<rect x="761.2" y="879.8" width="12.3" height="19.1" fill="#DFF0D1" />
<rect x="776" y="879.8" width="12.3" height="19.1" fill="#EEED9C" />
<rect x="790.8" y="879.8" width="12.3" height="19.1" fill="#E9F3B8" />
<rect x="805.6" y="879.8" width="12.3" height="19.1" fill="#EEF1A1" />
<rect x="820.5" y="879.8" width="12.3" height="19.1" fill="#E6F2BE" />
<rect x="835.3" y="879.8" width="12.3" height="19.1" fill="#D2EDEC" />
<rect x="850.1" y="879.8" width="12.3" height="19.1" fill="#E6F2BE" />
<rect x="864.9" y="879.8" width="12.3" height="19.1" fill="#ECF4B2" />
<rect x="879.7" y="879.8" width="12.3" height="19.1" fill="#E9F3B8" />
<rect x="894.5" y="879.8" width="12.3" height="19.1" fill="#E7B674" />
<rect x="909.4" y="879.8" width="12.3" height="19.1" fill="#ECD586" />
<rect x="924.2" y="879.8" width="12.3" height="19.1" fill="#EEEA99" />
<rect x="939" y="879.8" width="12.3" height="19.1" fill="#EEEA99" />
<rect x="953.8" y="879.8" width="12.3" height="19.1" fill="#EEF09F" />
<rect x="968.6" y="879.8" width="12.3" height="19.1" fill="#EEE896" />
<rect x="983.4" y="879.8" width="12.3" height="19.1" fill="#EDE08E" />
<rect x="998.2" y="879.8" width="12.3" height="19.1" fill="#EEE896" />
<rect x="1013.1" y="879.8" width="12.3" height="19.1" fill="#ECF4B2" />
<rect x="1027.9" y="879.8" width="12.3" height="19.1" fill="#EEED9C" />
<rect x="1042.7" y="879.8" width="12.3" height="19.1" fill="#EFF4A9" />
<rect x="1057.5" y="879.8" width="12.3" height="19.1" fill="#EEF2A4" />
<rect x="1072.3" y="879.8" width="12.3" height="19.1" fill="#EEED9C" />
<rect x="1087.1" y="879.8" width="12.3" height="19.1" fill="#E9BD78" />
<rect x="1101.9" y="879.8" width="12.3" height="19.1" fill="#EBCD81" />
<rect x="1116.8" y="879.8" width="12.3" height="19.1" fill="#EEF1A1" />
<rect x="1131.6" y="879.8" width="12.3" height="19.1" fill="#EFF5AB" />
<rect x="1146.4" y="879.8" width="12.3" height="19.1" fill="#EEED9C" />
<rect x="1161.2" y="879.8" width="12.3" height="19.1" fill="#EEED9C" />
<rect x="1176" y="879.8" width="12.3" height="19.1" fill="#5A7FB5" />
<rect x="1190.8" y="879.8" width="12.3" height="19.1" fill="#5F86B8" />
<rect x="1205.7" y="879.8" width="12.3" height="19.1" fill="#88B8CD" />
<rect x="1220.5" y="879.8" width="12.3" height="19.1" fill="#648CBC" />
<rect x="1235.3" y="879.8" width="12.3" height="19.1" fill="#90C0D2" />
<rect x="1250.1" y="879.8" width="12.3" height="19.1" fill="#88B8CD" />
<rect x="1264.9" y="879.8" width="12.3" height="19.1" fill="#99C8D7" />
<rect x="1279.7" y="879.8" width="12.3" height="19.1" fill="#99C8D7" />
<rect x="1294.5" y="879.8" width="12.3" height="19.1" fill="#90C0D2" />
<rect x="1309.4" y="879.8" width="12.3" height="19.1" fill="#90C0D2" />
<rect x="1324.2" y="879.8" width="12.3" height="19.1" fill="#E4F1C4" />
<rect x="1339" y="879.8" width="12.3" height="19.1" fill="#E4F1C4" />
<rect x="1353.8" y="879.8" width="12.3" height="19.1" fill="#7FAFC9" />
<rect x="1368.6" y="879.8" width="12.3" height="19.1" fill="#D2EDEC" />
<rect x="20.4" y="901.4" width="12.3" height="19.1" fill="#E17657" />
<rect x="35.3" y="901.4" width="12.3" height="19.1" fill="#DF664F" />
<rect x="50.1" y="901.4" width="12.3" height="19.1" fill="#E17657" />
<rect x="64.9" y="901.4" width="12.3" height="19.1" fill="#E06D52" />
<rect x="79.7" y="901.4" width="12.3" height="19.1" fill="#E2805C" />
<rect x="94.5" y="901.4" width="12.3" height="19.1" fill="#E28C61" />
<rect x="109.3" y="901.4" width="12.3" height="19.1" fill="#E06D52" />
<rect x="124.2" y="901.4" width="12.3" height="19.1" fill="#E2805C" />
<rect x="139" y="901.4" width="12.3" height="19.1" fill="#E39F69" />
<rect x="153.8" y="901.4" width="12.3" height="19.1" fill="#E39765" />
<rect x="168.6" y="901.4" width="12.3" height="19.1" fill="#E6AE70" />
<rect x="183.4" y="901.4" width="12.3" height="19.1" fill="#E06D52" />
<rect x="198.2" y="901.4" width="12.3" height="19.1" fill="#E06D52" />
<rect x="213" y="901.4" width="12.3" height="19.1" fill="#E06D52" />
<rect x="227.9" y="901.4" width="12.3" height="19.1" fill="#E28F62" />
<rect x="242.7" y="901.4" width="12.3" height="19.1" fill="#E17A59" />
<rect x="257.5" y="901.4" width="12.3" height="19.1" fill="#E2805C" />
<rect x="272.3" y="901.4" width="12.3" height="19.1" fill="#DD5F4B" />
<rect x="287.1" y="901.4" width="12.3" height="19.1" fill="#DD5F4B" />
<rect x="301.9" y="901.4" width="12.3" height="19.1" fill="#D84C3F" />
<rect x="316.8" y="901.4" width="12.3" height="19.1" fill="#DF664F" />
<rect x="331.6" y="901.4" width="12.3" height="19.1" fill="#D7483D" />
<rect x="346.4" y="901.4" width="12.3" height="19.1" fill="#DA5142" />
<rect x="361.2" y="901.4" width="12.3" height="19.1" fill="#D74A3E" />
<rect x="376" y="901.4" width="12.3" height="19.1" fill="#D84C3F" />
<rect x="390.8" y="901.4" width="12.3" height="19.1" fill="#DD5F4B" />
<rect x="405.6" y="901.4" width="12.3" height="19.1" fill="#DD5F4B" />
<rect x="420.5" y="901.4" width="12.3" height="19.1" fill="#DA5142" />
<rect x="435.3" y="901.4" width="12.3" height="19.1" fill="#D84C3F" />
<rect x="450.1" y="901.4" width="12.3" height="19.1" fill="#E2885F" />
<rect x="464.9" y="901.4" width="12.3" height="19.1" fill="#E8BA76" />
<rect x="479.7" y="901.4" width="12.3" height="19.1" fill="#E17A59" />
<rect x="494.5" y="901.4" width="12.3" height="19.1" fill="#E2885F" />
<rect x="509.3" y="901.4" width="12.3" height="19.1" fill="#E2885F" />
<rect x="524.2" y="901.4" width="12.3" height="19.1" fill="#E2885F" />
<rect x="539" y="901.4" width="12.3" height="19.1" fill="#E0F1CE" />
<rect x="553.8" y="901.4" width="12.3" height="19.1" fill="#E2F1C7" />
<rect x="568.6" y="901.4" width="12.3" height="19.1" fill="#EBF4B5" />
<rect x="583.4" y="901.4" width="12.3" height="19.1" fill="#EEF1A1" />
<rect x="598.2" y="901.4" width="12.3" height="19.1" fill="#E8BA76" />
<rect x="613.1" y="901.4" width="12.3" height="19.1" fill="#EEED9C" />
<rect x="627.9" y="901.4" width="12.3" height="19.1" fill="#E39F69" />
<rect x="642.7" y="901.4" width="12.3" height="19.1" fill="#E6AE70" />
<rect x="657.5" y="901.4" width="12.3" height="19.1" fill="#EAC57D" />
<rect x="672.3" y="901.4" width="12.3" height="19.1" fill="#EEED9C" />
<rect x="687.1" y="901.4" width="12.3" height="19.1" fill="#E9BD78" />
<rect x="701.9" y="901.4" width="12.3" height="19.1" fill="#EDE08E" />
<rect x="716.8" y="901.4" width="12.3" height="19.1" fill="#E1F1CB" />
<rect x="731.6" y="901.4" width="12.3" height="19.1" fill="#D9F0E0" />
<rect x="746.4" y="901.4" width="12.3" height="19.1" fill="#E4F1C4" />
<rect x="761.2" y="901.4" width="12.3" height="19.1" fill="#A7D3DE" />
<rect x="776" y="901.4" width="12.3" height="19.1" fill="#DFF0D1" />
<rect x="790.8" y="901.4" width="12.3" height="19.1" fill="#E6F2BE" />
<rect x="805.6" y="901.4" width="12.3" height="19.1" fill="#ECF4B2" />
<rect x="820.5" y="901.4" width="12.3" height="19.1" fill="#D9F0E0" />
<rect x="835.3" y="901.4" width="12.3" height="19.1" fill="#EEF1A1" />
<rect x="850.1" y="901.4" width="12.3" height="19.1" fill="#EEED9C" />
<rect x="864.9" y="901.4" width="12.3" height="19.1" fill="#EDDD8B" />
<rect x="879.7" y="901.4" width="12.3" height="19.1" fill="#EEED9C" />
<rect x="894.5" y="901.4" width="12.3" height="19.1" fill="#EAC57D" />
<rect x="909.4" y="901.4" width="12.3" height="19.1" fill="#E4A36A" />
<rect x="924.2" y="901.4" width="12.3" height="19.1" fill="#EAC57D" />
<rect x="939" y="901.4" width="12.3" height="19.1" fill="#EBCD81" />
<rect x="953.8" y="901.4" width="12.3" height="19.1" fill="#EEF09F" />
<rect x="968.6" y="901.4" width="12.3" height="19.1" fill="#EEEA99" />
<rect x="983.4" y="901.4" width="12.3" height="19.1" fill="#EDD988" />
<rect x="998.2" y="901.4" width="12.3" height="19.1" fill="#EEE896" />
<rect x="1013.1" y="901.4" width="12.3" height="19.1" fill="#EEED9C" />
<rect x="1027.9" y="901.4" width="12.3" height="19.1" fill="#EEED9C" />
<rect x="1042.7" y="901.4" width="12.3" height="19.1" fill="#EEF1A1" />
<rect x="1057.5" y="901.4" width="12.3" height="19.1" fill="#EEED9C" />
<rect x="1072.3" y="901.4" width="12.3" height="19.1" fill="#EDE290" />
<rect x="1087.1" y="901.4" width="12.3" height="19.1" fill="#EDE290" />
<rect x="1101.9" y="901.4" width="12.3" height="19.1" fill="#ECD586" />
<rect x="1116.8" y="901.4" width="12.3" height="19.1" fill="#EEED9C" />
<rect x="1131.6" y="901.4" width="12.3" height="19.1" fill="#EFF5AB" />
<rect x="1146.4" y="901.4" width="12.3" height="19.1" fill="#EDDD8B" />
<rect x="1161.2" y="901.4" width="12.3" height="19.1" fill="#ECD586" />
<rect x="1176" y="901.4" width="12.3" height="19.1" fill="#5170AB" />
<rect x="1190.8" y="901.4" width="12.3" height="19.1" fill="#577AB2" />
<rect x="1205.7" y="901.4" width="12.3" height="19.1" fill="#5F86B8" />
<rect x="1220.5" y="901.4" width="12.3" height="19.1" fill="#5170AB" />
<rect x="1235.3" y="901.4" width="12.3" height="19.1" fill="#88B8CD" />
<rect x="1250.1" y="901.4" width="12.3" height="19.1" fill="#99C8D7" />
<rect x="1264.9" y="901.4" width="12.3" height="19.1" fill="#C6E6EA" />
<rect x="1279.7" y="901.4" width="12.3" height="19.1" fill="#90C0D2" />
<rect x="1294.5" y="901.4" width="12.3" height="19.1" fill="#ADD7E0" />
<rect x="1309.4" y="901.4" width="12.3" height="19.1" fill="#7FAFC9" />
<rect x="1324.2" y="901.4" width="12.3" height="19.1" fill="#E4F1C4" />
<rect x="1339" y="901.4" width="12.3" height="19.1" fill="#E4F1C4" />
<rect x="1353.8" y="901.4" width="12.3" height="19.1" fill="#DFF0D1" />
<rect x="1368.6" y="901.4" width="12.3" height="19.1" fill="#CCE9EB" />
<rect x="20.4" y="923" width="12.3" height="19.1" fill="#ECD586" />
<rect x="35.3" y="923" width="12.3" height="19.1" fill="#EDE08E" />
<rect x="50.1" y="923" width="12.3" height="19.1" fill="#EEED9C" />
<rect x="64.9" y="923" width="12.3" height="19.1" fill="#EDE08E" />
<rect x="79.7" y="923" width="12.3" height="19.1" fill="#EEED9C" />
<rect x="94.5" y="923" width="12.3" height="19.1" fill="#EEF1A1" />
<rect x="109.3" y="923" width="12.3" height="19.1" fill="#EFF4A9" />
<rect x="124.2" y="923" width="12.3" height="19.1" fill="#EEF2A4" />
<rect x="139" y="923" width="12.3" height="19.1" fill="#EEF1A1" />
<rect x="153.8" y="923" width="12.3" height="19.1" fill="#EDE08E" />
<rect x="168.6" y="923" width="12.3" height="19.1" fill="#EDE593" />
<rect x="183.4" y="923" width="12.3" height="19.1" fill="#ECF4B2" />
<rect x="198.2" y="923" width="12.3" height="19.1" fill="#EEF2A4" />
<rect x="213" y="923" width="12.3" height="19.1" fill="#EEF1A1" />
<rect x="227.9" y="923" width="12.3" height="19.1" fill="#EFF5AB" />
<rect x="242.7" y="923" width="12.3" height="19.1" fill="#E9F3B8" />
<rect x="257.5" y="923" width="12.3" height="19.1" fill="#E4F1C4" />
<rect x="272.3" y="923" width="12.3" height="19.1" fill="#E7B674" />
<rect x="287.1" y="923" width="12.3" height="19.1" fill="#EBCD81" />
<rect x="301.9" y="923" width="12.3" height="19.1" fill="#EAC57D" />
<rect x="316.8" y="923" width="12.3" height="19.1" fill="#EBCD81" />
<rect x="331.6" y="923" width="12.3" height="19.1" fill="#E6AE70" />
<rect x="346.4" y="923" width="12.3" height="19.1" fill="#E6AE70" />
<rect x="361.2" y="923" width="12.3" height="19.1" fill="#E4A66C" />
<rect x="376" y="923" width="12.3" height="19.1" fill="#E6AE70" />
<rect x="390.8" y="923" width="12.3" height="19.1" fill="#ECD184" />
<rect x="405.6" y="923" width="12.3" height="19.1" fill="#ECD184" />
<rect x="420.5" y="923" width="12.3" height="19.1" fill="#EAC57D" />
<rect x="435.3" y="923" width="12.3" height="19.1" fill="#EAC57D" />
<rect x="450.1" y="923" width="12.3" height="19.1" fill="#EDE290" />
<rect x="464.9" y="923" width="12.3" height="19.1" fill="#ECD184" />
<rect x="479.7" y="923" width="12.3" height="19.1" fill="#E4A66C" />
<rect x="494.5" y="923" width="12.3" height="19.1" fill="#EEED9C" />
<rect x="509.3" y="923" width="12.3" height="19.1" fill="#EDE290" />
<rect x="524.2" y="923" width="12.3" height="19.1" fill="#EEE896" />
<rect x="539" y="923" width="12.3" height="19.1" fill="#E2885F" />
<rect x="553.8" y="923" width="12.3" height="19.1" fill="#E17A59" />
<rect x="568.6" y="923" width="12.3" height="19.1" fill="#EAC57D" />
<rect x="583.4" y="923" width="12.3" height="19.1" fill="#E6AE70" />
<rect x="598.2" y="923" width="12.3" height="19.1" fill="#EAC57D" />
<rect x="613.1" y="923" width="12.3" height="19.1" fill="#E7B272" />
<rect x="627.9" y="923" width="12.3" height="19.1" fill="#DD5F4B" />
<rect x="642.7" y="923" width="12.3" height="19.1" fill="#DB5846" />
<rect x="657.5" y="923" width="12.3" height="19.1" fill="#D84C3F" />
<rect x="672.3" y="923" width="12.3" height="19.1" fill="#DA5142" />
<rect x="687.1" y="923" width="12.3" height="19.1" fill="#E17A59" />
<rect x="701.9" y="923" width="12.3" height="19.1" fill="#E2805C" />
<rect x="716.8" y="923" width="12.3" height="19.1" fill="#E2F1C7" />
<rect x="731.6" y="923" width="12.3" height="19.1" fill="#EFF4A9" />
<rect x="746.4" y="923" width="12.3" height="19.1" fill="#E6F2BE" />
<rect x="761.2" y="923" width="12.3" height="19.1" fill="#D6EFE9" />
<rect x="776" y="923" width="12.3" height="19.1" fill="#D2EDEC" />
<rect x="790.8" y="923" width="12.3" height="19.1" fill="#EDE290" />
<rect x="805.6" y="923" width="12.3" height="19.1" fill="#EEED9C" />
<rect x="820.5" y="923" width="12.3" height="19.1" fill="#EEED9C" />
<rect x="835.3" y="923" width="12.3" height="19.1" fill="#EEF1A1" />
<rect x="850.1" y="923" width="12.3" height="19.1" fill="#ECD586" />
<rect x="864.9" y="923" width="12.3" height="19.1" fill="#EEED9C" />
<rect x="879.7" y="923" width="12.3" height="19.1" fill="#EEF2A4" />
<rect x="894.5" y="923" width="12.3" height="19.1" fill="#A7D3DE" />
<rect x="909.4" y="923" width="12.3" height="19.1" fill="#B3DBE2" />
<rect x="924.2" y="923" width="12.3" height="19.1" fill="#CCE9EB" />
<rect x="939" y="923" width="12.3" height="19.1" fill="#D6EFE9" />
<rect x="953.8" y="923" width="12.3" height="19.1" fill="#9ECCD9" />
<rect x="968.6" y="923" width="12.3" height="19.1" fill="#C6E6EA" />
<rect x="983.4" y="923" width="12.3" height="19.1" fill="#ADD7E0" />
<rect x="998.2" y="923" width="12.3" height="19.1" fill="#D6EFE9" />
<rect x="1013.1" y="923" width="12.3" height="19.1" fill="#D2EDEC" />
<rect x="1027.9" y="923" width="12.3" height="19.1" fill="#D2EDEC" />
<rect x="1042.7" y="923" width="12.3" height="19.1" fill="#BADEE5" />
<rect x="1057.5" y="923" width="12.3" height="19.1" fill="#9ECCD9" />
<rect x="1072.3" y="923" width="12.3" height="19.1" fill="#B3DBE2" />
<rect x="1087.1" y="923" width="12.3" height="19.1" fill="#EFF3A6" />
<rect x="1101.9" y="923" width="12.3" height="19.1" fill="#ECF4B2" />
<rect x="1116.8" y="923" width="12.3" height="19.1" fill="#EFF5AB" />
<rect x="1131.6" y="923" width="12.3" height="19.1" fill="#EFF4A9" />
<rect x="1146.4" y="923" width="12.3" height="19.1" fill="#EEF2A4" />
<rect x="1161.2" y="923" width="12.3" height="19.1" fill="#ECF4B2" />
<rect x="1176" y="923" width="12.3" height="19.1" fill="#5A7FB5" />
<rect x="1190.8" y="923" width="12.3" height="19.1" fill="#5A7FB5" />
<rect x="1205.7" y="923" width="12.3" height="19.1" fill="#90C0D2" />
<rect x="1220.5" y="923" width="12.3" height="19.1" fill="#77A6C5" />
<rect x="1235.3" y="923" width="12.3" height="19.1" fill="#99C8D7" />
<rect x="1250.1" y="923" width="12.3" height="19.1" fill="#90C0D2" />
<rect x="1264.9" y="923" width="12.3" height="19.1" fill="#E1F1CB" />
<rect x="1279.7" y="923" width="12.3" height="19.1" fill="#D2EDEC" />
<rect x="1294.5" y="923" width="12.3" height="19.1" fill="#A2CFDB" />
<rect x="1309.4" y="923" width="12.3" height="19.1" fill="#CCE9EB" />
<rect x="1324.2" y="923" width="12.3" height="19.1" fill="#77A6C5" />
<rect x="1339" y="923" width="12.3" height="19.1" fill="#77A6C5" />
<rect x="1353.8" y="923" width="12.3" height="19.1" fill="#6994BF" />
<rect x="1368.6" y="923" width="12.3" height="19.1" fill="#5F86B8" />
<rect x="20.4" y="944.6" width="12.3" height="19.1" fill="#EEED9C" />
<rect x="35.3" y="944.6" width="12.3" height="19.1" fill="#ECF4B2" />
<rect x="50.1" y="944.6" width="12.3" height="19.1" fill="#EEF1A1" />
<rect x="64.9" y="944.6" width="12.3" height="19.1" fill="#EEF1A1" />
<rect x="79.7" y="944.6" width="12.3" height="19.1" fill="#EEED9C" />
<rect x="94.5" y="944.6" width="12.3" height="19.1" fill="#EEED9C" />
<rect x="109.3" y="944.6" width="12.3" height="19.1" fill="#EEE896" />
<rect x="124.2" y="944.6" width="12.3" height="19.1" fill="#ECF4B2" />
<rect x="139" y="944.6" width="12.3" height="19.1" fill="#E6F2BE" />
<rect x="153.8" y="944.6" width="12.3" height="19.1" fill="#E9F3B8" />
<rect x="168.6" y="944.6" width="12.3" height="19.1" fill="#EEED9C" />
<rect x="183.4" y="944.6" width="12.3" height="19.1" fill="#D6EFE9" />
<rect x="198.2" y="944.6" width="12.3" height="19.1" fill="#E1F1CB" />
<rect x="213" y="944.6" width="12.3" height="19.1" fill="#DCF0D8" />
<rect x="227.9" y="944.6" width="12.3" height="19.1" fill="#CCE9EB" />
<rect x="242.7" y="944.6" width="12.3" height="19.1" fill="#DFF0D1" />
<rect x="257.5" y="944.6" width="12.3" height="19.1" fill="#D2EDEC" />
<rect x="272.3" y="944.6" width="12.3" height="19.1" fill="#EEE896" />
<rect x="287.1" y="944.6" width="12.3" height="19.1" fill="#EEED9C" />
<rect x="301.9" y="944.6" width="12.3" height="19.1" fill="#EEED9C" />
<rect x="316.8" y="944.6" width="12.3" height="19.1" fill="#EEED9C" />
<rect x="331.6" y="944.6" width="12.3" height="19.1" fill="#EDDD8B" />
<rect x="346.4" y="944.6" width="12.3" height="19.1" fill="#EDE08E" />
<rect x="361.2" y="944.6" width="12.3" height="19.1" fill="#EDDD8B" />
<rect x="376" y="944.6" width="12.3" height="19.1" fill="#EDE593" />
<rect x="390.8" y="944.6" width="12.3" height="19.1" fill="#EEED9C" />
<rect x="405.6" y="944.6" width="12.3" height="19.1" fill="#EEED9C" />
<rect x="420.5" y="944.6" width="12.3" height="19.1" fill="#EDDD8B" />
<rect x="435.3" y="944.6" width="12.3" height="19.1" fill="#EEED9C" />
<rect x="450.1" y="944.6" width="12.3" height="19.1" fill="#EDE593" />
<rect x="464.9" y="944.6" width="12.3" height="19.1" fill="#EBCD81" />
<rect x="479.7" y="944.6" width="12.3" height="19.1" fill="#EEF1A1" />
<rect x="494.5" y="944.6" width="12.3" height="19.1" fill="#ECF4B2" />
<rect x="509.3" y="944.6" width="12.3" height="19.1" fill="#E9F3B8" />
<rect x="524.2" y="944.6" width="12.3" height="19.1" fill="#EFF5AB" />
<rect x="539" y="944.6" width="12.3" height="19.1" fill="#D6EFE9" />
<rect x="553.8" y="944.6" width="12.3" height="19.1" fill="#DCF0D8" />
<rect x="568.6" y="944.6" width="12.3" height="19.1" fill="#EEED9C" />
<rect x="583.4" y="944.6" width="12.3" height="19.1" fill="#EEF2A4" />
<rect x="598.2" y="944.6" width="12.3" height="19.1" fill="#E7B272" />
<rect x="613.1" y="944.6" width="12.3" height="19.1" fill="#E17A59" />
<rect x="627.9" y="944.6" width="12.3" height="19.1" fill="#E2885F" />
<rect x="642.7" y="944.6" width="12.3" height="19.1" fill="#EAC17B" />
<rect x="657.5" y="944.6" width="12.3" height="19.1" fill="#E6AE70" />
<rect x="672.3" y="944.6" width="12.3" height="19.1" fill="#EAC57D" />
<rect x="687.1" y="944.6" width="12.3" height="19.1" fill="#ECD586" />
<rect x="701.9" y="944.6" width="12.3" height="19.1" fill="#E2805C" />
<rect x="716.8" y="944.6" width="12.3" height="19.1" fill="#D4EFEC" />
<rect x="731.6" y="944.6" width="12.3" height="19.1" fill="#EEED9C" />
<rect x="746.4" y="944.6" width="12.3" height="19.1" fill="#EEE896" />
<rect x="761.2" y="944.6" width="12.3" height="19.1" fill="#D4EFEC" />
<rect x="776" y="944.6" width="12.3" height="19.1" fill="#EEED9C" />
<rect x="790.8" y="944.6" width="12.3" height="19.1" fill="#EEF1A1" />
<rect x="805.6" y="944.6" width="12.3" height="19.1" fill="#E9F3B8" />
<rect x="820.5" y="944.6" width="12.3" height="19.1" fill="#E4F1C4" />
<rect x="835.3" y="944.6" width="12.3" height="19.1" fill="#E1F1CB" />
<rect x="850.1" y="944.6" width="12.3" height="19.1" fill="#DFF0D1" />
<rect x="864.9" y="944.6" width="12.3" height="19.1" fill="#E1F1CB" />
<rect x="879.7" y="944.6" width="12.3" height="19.1" fill="#DFF0D1" />
<rect x="894.5" y="944.6" width="12.3" height="19.1" fill="#BADEE5" />
<rect x="909.4" y="944.6" width="12.3" height="19.1" fill="#90C0D2" />
<rect x="924.2" y="944.6" width="12.3" height="19.1" fill="#5C82B7" />
<rect x="939" y="944.6" width="12.3" height="19.1" fill="#A2CFDB" />
<rect x="953.8" y="944.6" width="12.3" height="19.1" fill="#7FAFC9" />
<rect x="968.6" y="944.6" width="12.3" height="19.1" fill="#90C0D2" />
<rect x="983.4" y="944.6" width="12.3" height="19.1" fill="#90C0D2" />
<rect x="998.2" y="944.6" width="12.3" height="19.1" fill="#DCF0D8" />
<rect x="1013.1" y="944.6" width="12.3" height="19.1" fill="#D9F0E0" />
<rect x="1027.9" y="944.6" width="12.3" height="19.1" fill="#E1F1CB" />
<rect x="1042.7" y="944.6" width="12.3" height="19.1" fill="#BADEE5" />
<rect x="1057.5" y="944.6" width="12.3" height="19.1" fill="#D2EDEC" />
<rect x="1072.3" y="944.6" width="12.3" height="19.1" fill="#C6E6EA" />
<rect x="1087.1" y="944.6" width="12.3" height="19.1" fill="#EFF5AB" />
<rect x="1101.9" y="944.6" width="12.3" height="19.1" fill="#EEF1A1" />
<rect x="1116.8" y="944.6" width="12.3" height="19.1" fill="#A7D3DE" />
<rect x="1131.6" y="944.6" width="12.3" height="19.1" fill="#90C0D2" />
<rect x="1146.4" y="944.6" width="12.3" height="19.1" fill="#D2EDEC" />
<rect x="1161.2" y="944.6" width="12.3" height="19.1" fill="#BADEE5" />
<rect x="1176" y="944.6" width="12.3" height="19.1" fill="#90C0D2" />
<rect x="1190.8" y="944.6" width="12.3" height="19.1" fill="#D2EDEC" />
<rect x="1205.7" y="944.6" width="12.3" height="19.1" fill="#A2CFDB" />
<rect x="1220.5" y="944.6" width="12.3" height="19.1" fill="#ADD7E0" />
<rect x="1235.3" y="944.6" width="12.3" height="19.1" fill="#77A6C5" />
<rect x="1250.1" y="944.6" width="12.3" height="19.1" fill="#709DC2" />
<rect x="1264.9" y="944.6" width="12.3" height="19.1" fill="#ADD7E0" />
<rect x="1279.7" y="944.6" width="12.3" height="19.1" fill="#ADD7E0" />
<rect x="1294.5" y="944.6" width="12.3" height="19.1" fill="#BADEE5" />
<rect x="1309.4" y="944.6" width="12.3" height="19.1" fill="#DCF0D8" />
<rect x="1324.2" y="944.6" width="12.3" height="19.1" fill="#E1F1CB" />
<rect x="1339" y="944.6" width="12.3" height="19.1" fill="#99C8D7" />
<rect x="1353.8" y="944.6" width="12.3" height="19.1" fill="#709DC2" />
<rect x="1368.6" y="944.6" width="12.3" height="19.1" fill="#A2CFDB" />
<rect x="20.4" y="966.2" width="12.3" height="19.1" fill="#E2F1C7" />
<rect x="35.3" y="966.2" width="12.3" height="19.1" fill="#E1F1CB" />
<rect x="50.1" y="966.2" width="12.3" height="19.1" fill="#D6EFE9" />
<rect x="64.9" y="966.2" width="12.3" height="19.1" fill="#CCE9EB" />
<rect x="79.7" y="966.2" width="12.3" height="19.1" fill="#C6E6EA" />
<rect x="94.5" y="966.2" width="12.3" height="19.1" fill="#A2CFDB" />
<rect x="109.3" y="966.2" width="12.3" height="19.1" fill="#C6E6EA" />
<rect x="124.2" y="966.2" width="12.3" height="19.1" fill="#CCE9EB" />
<rect x="139" y="966.2" width="12.3" height="19.1" fill="#DFF0D1" />
<rect x="153.8" y="966.2" width="12.3" height="19.1" fill="#DFF0D1" />
<rect x="168.6" y="966.2" width="12.3" height="19.1" fill="#D9F0E0" />
<rect x="183.4" y="966.2" width="12.3" height="19.1" fill="#DCF0D8" />
<rect x="198.2" y="966.2" width="12.3" height="19.1" fill="#DFF0D1" />
<rect x="213" y="966.2" width="12.3" height="19.1" fill="#D9F0E0" />
<rect x="227.9" y="966.2" width="12.3" height="19.1" fill="#D4EFEC" />
<rect x="242.7" y="966.2" width="12.3" height="19.1" fill="#BADEE5" />
<rect x="257.5" y="966.2" width="12.3" height="19.1" fill="#CCE9EB" />
<rect x="272.3" y="966.2" width="12.3" height="19.1" fill="#E6F2BE" />
<rect x="287.1" y="966.2" width="12.3" height="19.1" fill="#DFF0D1" />
<rect x="301.9" y="966.2" width="12.3" height="19.1" fill="#DCF0D8" />
<rect x="316.8" y="966.2" width="12.3" height="19.1" fill="#DCF0D8" />
<rect x="331.6" y="966.2" width="12.3" height="19.1" fill="#DFF0D1" />
<rect x="346.4" y="966.2" width="12.3" height="19.1" fill="#E1F1CB" />
<rect x="361.2" y="966.2" width="12.3" height="19.1" fill="#DFF0D1" />
<rect x="376" y="966.2" width="12.3" height="19.1" fill="#DFF0D1" />
<rect x="390.8" y="966.2" width="12.3" height="19.1" fill="#C9E8EA" />
<rect x="405.6" y="966.2" width="12.3" height="19.1" fill="#C6E6EA" />
<rect x="420.5" y="966.2" width="12.3" height="19.1" fill="#D6EFE9" />
<rect x="435.3" y="966.2" width="12.3" height="19.1" fill="#D6EFE9" />
<rect x="450.1" y="966.2" width="12.3" height="19.1" fill="#ADD7E0" />
<rect x="464.9" y="966.2" width="12.3" height="19.1" fill="#99C8D7" />
<rect x="479.7" y="966.2" width="12.3" height="19.1" fill="#E4F1C4" />
<rect x="494.5" y="966.2" width="12.3" height="19.1" fill="#E4F1C4" />
<rect x="509.3" y="966.2" width="12.3" height="19.1" fill="#DBF0DC" />
<rect x="524.2" y="966.2" width="12.3" height="19.1" fill="#D9F0E0" />
<rect x="539" y="966.2" width="12.3" height="19.1" fill="#D2EDEC" />
<rect x="553.8" y="966.2" width="12.3" height="19.1" fill="#CCE9EB" />
<rect x="568.6" y="966.2" width="12.3" height="19.1" fill="#D6EFE9" />
<rect x="583.4" y="966.2" width="12.3" height="19.1" fill="#D6EFE9" />
<rect x="598.2" y="966.2" width="12.3" height="19.1" fill="#D2EDEC" />
<rect x="613.1" y="966.2" width="12.3" height="19.1" fill="#95C4D4" />
<rect x="627.9" y="966.2" width="12.3" height="19.1" fill="#CCE9EB" />
<rect x="642.7" y="966.2" width="12.3" height="19.1" fill="#E1F1CB" />
<rect x="657.5" y="966.2" width="12.3" height="19.1" fill="#E6F2BE" />
<rect x="672.3" y="966.2" width="12.3" height="19.1" fill="#E4F1C4" />
<rect x="687.1" y="966.2" width="12.3" height="19.1" fill="#E4F1C4" />
<rect x="701.9" y="966.2" width="12.3" height="19.1" fill="#ADD7E0" />
<rect x="716.8" y="966.2" width="12.3" height="19.1" fill="#D6EFE9" />
<rect x="731.6" y="966.2" width="12.3" height="19.1" fill="#CCE9EB" />
<rect x="746.4" y="966.2" width="12.3" height="19.1" fill="#90C0D2" />
<rect x="761.2" y="966.2" width="12.3" height="19.1" fill="#A2CFDB" />
<rect x="776" y="966.2" width="12.3" height="19.1" fill="#ADD7E0" />
<rect x="790.8" y="966.2" width="12.3" height="19.1" fill="#DCF0D8" />
<rect x="805.6" y="966.2" width="12.3" height="19.1" fill="#DFF0D1" />
<rect x="820.5" y="966.2" width="12.3" height="19.1" fill="#DCF0D8" />
<rect x="835.3" y="966.2" width="12.3" height="19.1" fill="#BADEE5" />
<rect x="850.1" y="966.2" width="12.3" height="19.1" fill="#DFF0D1" />
<rect x="864.9" y="966.2" width="12.3" height="19.1" fill="#D6EFE9" />
<rect x="879.7" y="966.2" width="12.3" height="19.1" fill="#D6EFE9" />
<rect x="894.5" y="966.2" width="12.3" height="19.1" fill="#A2CFDB" />
<rect x="909.4" y="966.2" width="12.3" height="19.1" fill="#A2CFDB" />
<rect x="924.2" y="966.2" width="12.3" height="19.1" fill="#ADD7E0" />
<rect x="939" y="966.2" width="12.3" height="19.1" fill="#D2EDEC" />
<rect x="953.8" y="966.2" width="12.3" height="19.1" fill="#B3DBE2" />
<rect x="968.6" y="966.2" width="12.3" height="19.1" fill="#99C8D7" />
<rect x="983.4" y="966.2" width="12.3" height="19.1" fill="#90C0D2" />
<rect x="998.2" y="966.2" width="12.3" height="19.1" fill="#E9F3B8" />
<rect x="1013.1" y="966.2" width="12.3" height="19.1" fill="#83B3CB" />
<rect x="1027.9" y="966.2" width="12.3" height="19.1" fill="#7FAFC9" />
<rect x="1042.7" y="966.2" width="12.3" height="19.1" fill="#A2CFDB" />
<rect x="1057.5" y="966.2" width="12.3" height="19.1" fill="#99C8D7" />
<rect x="1072.3" y="966.2" width="12.3" height="19.1" fill="#99C8D7" />
<rect x="1087.1" y="966.2" width="12.3" height="19.1" fill="#D6EFE9" />
<rect x="1101.9" y="966.2" width="12.3" height="19.1" fill="#B3DBE2" />
<rect x="1116.8" y="966.2" width="12.3" height="19.1" fill="#D9F0E0" />
<rect x="1131.6" y="966.2" width="12.3" height="19.1" fill="#E9F3B8" />
<rect x="1146.4" y="966.2" width="12.3" height="19.1" fill="#DCF0D8" />
<rect x="1161.2" y="966.2" width="12.3" height="19.1" fill="#BADEE5" />
<rect x="1176" y="966.2" width="12.3" height="19.1" fill="#99C8D7" />
<rect x="1190.8" y="966.2" width="12.3" height="19.1" fill="#ADD7E0" />
<rect x="1205.7" y="966.2" width="12.3" height="19.1" fill="#BADEE5" />
<rect x="1220.5" y="966.2" width="12.3" height="19.1" fill="#90C0D2" />
<rect x="1235.3" y="966.2" width="12.3" height="19.1" fill="#D9F0E0" />
<rect x="1250.1" y="966.2" width="12.3" height="19.1" fill="#A2CFDB" />
<rect x="1264.9" y="966.2" width="12.3" height="19.1" fill="#D9F0E0" />
<rect x="1279.7" y="966.2" width="12.3" height="19.1" fill="#ADD7E0" />
<rect x="1294.5" y="966.2" width="12.3" height="19.1" fill="#D6EFE9" />
<rect x="1309.4" y="966.2" width="12.3" height="19.1" fill="#C6E6EA" />
<rect x="1324.2" y="966.2" width="12.3" height="19.1" fill="#77A6C5" />
<rect x="1339" y="966.2" width="12.3" height="19.1" fill="#88B8CD" />
<rect x="1353.8" y="966.2" width="12.3" height="19.1" fill="#90C0D2" />
<rect x="1368.6" y="966.2" width="12.3" height="19.1" fill="#99C8D7" />
<rect x="20.4" y="987.8" width="12.3" height="19.1" fill="#EEED9C" />
<rect x="35.3" y="987.8" width="12.3" height="19.1" fill="#EEE896" />
<rect x="50.1" y="987.8" width="12.3" height="19.1" fill="#EEF2A4" />
<rect x="64.9" y="987.8" width="12.3" height="19.1" fill="#EEED9C" />
<rect x="79.7" y="987.8" width="12.3" height="19.1" fill="#EEF2A4" />
<rect x="94.5" y="987.8" width="12.3" height="19.1" fill="#EFF4A9" />
<rect x="109.3" y="987.8" width="12.3" height="19.1" fill="#D9F0E0" />
<rect x="124.2" y="987.8" width="12.3" height="19.1" fill="#ECF4B2" />
<rect x="139" y="987.8" width="12.3" height="19.1" fill="#ECF4B2" />
<rect x="153.8" y="987.8" width="12.3" height="19.1" fill="#EDE08E" />
<rect x="168.6" y="987.8" width="12.3" height="19.1" fill="#EEED9C" />
<rect x="183.4" y="987.8" width="12.3" height="19.1" fill="#ECF4B2" />
<rect x="198.2" y="987.8" width="12.3" height="19.1" fill="#EEED9C" />
<rect x="213" y="987.8" width="12.3" height="19.1" fill="#EEED9C" />
<rect x="227.9" y="987.8" width="12.3" height="19.1" fill="#EEF1A1" />
<rect x="242.7" y="987.8" width="12.3" height="19.1" fill="#E6F2BE" />
<rect x="257.5" y="987.8" width="12.3" height="19.1" fill="#E4F1C4" />
<rect x="272.3" y="987.8" width="12.3" height="19.1" fill="#ECD184" />
<rect x="287.1" y="987.8" width="12.3" height="19.1" fill="#EDE08E" />
<rect x="301.9" y="987.8" width="12.3" height="19.1" fill="#ECD184" />
<rect x="316.8" y="987.8" width="12.3" height="19.1" fill="#ECD184" />
<rect x="331.6" y="987.8" width="12.3" height="19.1" fill="#EBC97F" />
<rect x="346.4" y="987.8" width="12.3" height="19.1" fill="#ECD184" />
<rect x="361.2" y="987.8" width="12.3" height="19.1" fill="#EAC17B" />
<rect x="376" y="987.8" width="12.3" height="19.1" fill="#EAC17B" />
<rect x="390.8" y="987.8" width="12.3" height="19.1" fill="#EDE593" />
<rect x="405.6" y="987.8" width="12.3" height="19.1" fill="#EEEA99" />
<rect x="420.5" y="987.8" width="12.3" height="19.1" fill="#EEEA99" />
<rect x="435.3" y="987.8" width="12.3" height="19.1" fill="#EDE08E" />
<rect x="450.1" y="987.8" width="12.3" height="19.1" fill="#EEF2A4" />
<rect x="464.9" y="987.8" width="12.3" height="19.1" fill="#EEEA99" />
<rect x="479.7" y="987.8" width="12.3" height="19.1" fill="#E4A66C" />
<rect x="494.5" y="987.8" width="12.3" height="19.1" fill="#EEF5AE" />
<rect x="509.3" y="987.8" width="12.3" height="19.1" fill="#EDD988" />
<rect x="524.2" y="987.8" width="12.3" height="19.1" fill="#EEF09F" />
<rect x="539" y="987.8" width="12.3" height="19.1" fill="#E07054" />
<rect x="553.8" y="987.8" width="12.3" height="19.1" fill="#E07054" />
<rect x="568.6" y="987.8" width="12.3" height="19.1" fill="#EBCD81" />
<rect x="583.4" y="987.8" width="12.3" height="19.1" fill="#EAC57D" />
<rect x="598.2" y="987.8" width="12.3" height="19.1" fill="#EEED9C" />
<rect x="613.1" y="987.8" width="12.3" height="19.1" fill="#EEED9C" />
<rect x="627.9" y="987.8" width="12.3" height="19.1" fill="#E2885F" />
<rect x="642.7" y="987.8" width="12.3" height="19.1" fill="#E07356" />
<rect x="657.5" y="987.8" width="12.3" height="19.1" fill="#E06D52" />
<rect x="672.3" y="987.8" width="12.3" height="19.1" fill="#E06D52" />
<rect x="687.1" y="987.8" width="12.3" height="19.1" fill="#E6AE70" />
<rect x="701.9" y="987.8" width="12.3" height="19.1" fill="#EAC57D" />
<rect x="716.8" y="987.8" width="12.3" height="19.1" fill="#DCF0D8" />
<rect x="731.6" y="987.8" width="12.3" height="19.1" fill="#DFF0D1" />
<rect x="746.4" y="987.8" width="12.3" height="19.1" fill="#D6EFE9" />
<rect x="761.2" y="987.8" width="12.3" height="19.1" fill="#D2EDEC" />
<rect x="776" y="987.8" width="12.3" height="19.1" fill="#A2CFDB" />
<rect x="790.8" y="987.8" width="12.3" height="19.1" fill="#EEED9C" />
<rect x="805.6" y="987.8" width="12.3" height="19.1" fill="#EFF3A6" />
<rect x="820.5" y="987.8" width="12.3" height="19.1" fill="#EFF5AB" />
<rect x="835.3" y="987.8" width="12.3" height="19.1" fill="#EEF1A1" />
<rect x="850.1" y="987.8" width="12.3" height="19.1" fill="#ECD586" />
<rect x="864.9" y="987.8" width="12.3" height="19.1" fill="#EEED9C" />
<rect x="879.7" y="987.8" width="12.3" height="19.1" fill="#EEF1A1" />
<rect x="894.5" y="987.8" width="12.3" height="19.1" fill="#A7D3DE" />
<rect x="909.4" y="987.8" width="12.3" height="19.1" fill="#D6EFE9" />
<rect x="924.2" y="987.8" width="12.3" height="19.1" fill="#E4F1C4" />
<rect x="939" y="987.8" width="12.3" height="19.1" fill="#D9F0E0" />
<rect x="953.8" y="987.8" width="12.3" height="19.1" fill="#D2EDEC" />
<rect x="968.6" y="987.8" width="12.3" height="19.1" fill="#DFF0D1" />
<rect x="983.4" y="987.8" width="12.3" height="19.1" fill="#D6EFE9" />
<rect x="998.2" y="987.8" width="12.3" height="19.1" fill="#ADD7E0" />
<rect x="1013.1" y="987.8" width="12.3" height="19.1" fill="#D4EFEC" />
<rect x="1027.9" y="987.8" width="12.3" height="19.1" fill="#BADEE5" />
<rect x="1042.7" y="987.8" width="12.3" height="19.1" fill="#D2EDEC" />
<rect x="1057.5" y="987.8" width="12.3" height="19.1" fill="#90C0D2" />
<rect x="1072.3" y="987.8" width="12.3" height="19.1" fill="#C6E6EA" />
<rect x="1087.1" y="987.8" width="12.3" height="19.1" fill="#ECF4B2" />
<rect x="1101.9" y="987.8" width="12.3" height="19.1" fill="#E6F2BE" />
<rect x="1116.8" y="987.8" width="12.3" height="19.1" fill="#ECF4B2" />
<rect x="1131.6" y="987.8" width="12.3" height="19.1" fill="#EFF3A6" />
<rect x="1146.4" y="987.8" width="12.3" height="19.1" fill="#EEE896" />
<rect x="1161.2" y="987.8" width="12.3" height="19.1" fill="#EEF1A1" />
<rect x="1176" y="987.8" width="12.3" height="19.1" fill="#6994BF" />
<rect x="1190.8" y="987.8" width="12.3" height="19.1" fill="#5170AB" />
<rect x="1205.7" y="987.8" width="12.3" height="19.1" fill="#99C8D7" />
<rect x="1220.5" y="987.8" width="12.3" height="19.1" fill="#90C0D2" />
<rect x="1235.3" y="987.8" width="12.3" height="19.1" fill="#ADD7E0" />
<rect x="1250.1" y="987.8" width="12.3" height="19.1" fill="#C6E6EA" />
<rect x="1264.9" y="987.8" width="12.3" height="19.1" fill="#E4F1C4" />
<rect x="1279.7" y="987.8" width="12.3" height="19.1" fill="#DFF0D1" />
<rect x="1294.5" y="987.8" width="12.3" height="19.1" fill="#A2CFDB" />
<rect x="1309.4" y="987.8" width="12.3" height="19.1" fill="#ADD7E0" />
<rect x="1324.2" y="987.8" width="12.3" height="19.1" fill="#709DC2" />
<rect x="1339" y="987.8" width="12.3" height="19.1" fill="#90C0D2" />
<rect x="1353.8" y="987.8" width="12.3" height="19.1" fill="#99C8D7" />
<rect x="1368.6" y="987.8" width="12.3" height="19.1" fill="#6994BF" />
<text x="21.6" y="1017.9" font-size="15" transform="rotate(90 21.6 1017.9)">Macrophages M1</text>
<text x="36.4" y="1017.9" font-size="15" transform="rotate(90 36.4 1017.9)">M1 score</text>
<text x="51.2" y="1017.9" font-size="15" transform="rotate(90 51.2 1017.9)">Cyt score</text>
<text x="66.1" y="1017.9" font-size="15" transform="rotate(90 66.1 1017.9)">CD8 T cells</text>
<text x="80.9" y="1017.9" font-size="15" transform="rotate(90 80.9 1017.9)">Macrophages M2</text>
<text x="95.7" y="1017.9" font-size="15" transform="rotate(90 95.7 1017.9)">CD4 memory T cells</text>
<text x="110.5" y="1017.9" font-size="15" transform="rotate(90 110.5 1017.9)">CD8 Tem</text>
<text x="125.3" y="1017.9" font-size="15" transform="rotate(90 125.3 1017.9)">pDC</text>
<text x="140.1" y="1017.9" font-size="15" transform="rotate(90 140.1 1017.9)">CD4 T cells</text>
<text x="154.9" y="1017.9" font-size="15" transform="rotate(90 154.9 1017.9)">Dend score</text>
<text x="169.8" y="1017.9" font-size="15" transform="rotate(90 169.8 1017.9)">T cell CD4</text>
<text x="184.6" y="1017.9" font-size="15" transform="rotate(90 184.6 1017.9)">Macrophages M1</text>
<text x="199.4" y="1017.9" font-size="15" transform="rotate(90 199.4 1017.9)">M2 score</text>
<text x="214.2" y="1017.9" font-size="15" transform="rotate(90 214.2 1017.9)">Macrophage score</text>
<text x="229" y="1017.9" font-size="15" transform="rotate(90 229 1017.9)">Dend score</text>
<text x="243.8" y="1017.9" font-size="15" transform="rotate(90 243.8 1017.9)">Macrophages</text>
<text x="258.6" y="1017.9" font-size="15" transform="rotate(90 258.6 1017.9)">Macrophages</text>
<text x="273.5" y="1017.9" font-size="15" transform="rotate(90 273.5 1017.9)">Th1 score</text>
<text x="288.3" y="1017.9" font-size="15" transform="rotate(90 288.3 1017.9)">Nkcd56dim score</text>
<text x="303.1" y="1017.9" font-size="15" transform="rotate(90 303.1 1017.9)">cd45 score</text>
<text x="317.9" y="1017.9" font-size="15" transform="rotate(90 317.9 1017.9)">aDC</text>
<text x="332.7" y="1017.9" font-size="15" transform="rotate(90 332.7 1017.9)">Tcells score</text>
<text x="347.5" y="1017.9" font-size="15" transform="rotate(90 347.5 1017.9)">Nkcell score</text>
<text x="362.4" y="1017.9" font-size="15" transform="rotate(90 362.4 1017.9)">Cd8 score</text>
<text x="377.2" y="1017.9" font-size="15" transform="rotate(90 377.2 1017.9)">Total til score</text>
<text x="392" y="1017.9" font-size="15" transform="rotate(90 392 1017.9)">Cd8 exhausted score</text>
<text x="406.8" y="1017.9" font-size="15" transform="rotate(90 406.8 1017.9)">CD8 Tcm</text>
<text x="421.6" y="1017.9" font-size="15" transform="rotate(90 421.6 1017.9)">Cd8 score</text>
<text x="436.4" y="1017.9" font-size="15" transform="rotate(90 436.4 1017.9)">Cyto score</text>
<text x="451.2" y="1017.9" font-size="15" transform="rotate(90 451.2 1017.9)">Nk score</text>
<text x="466.1" y="1017.9" font-size="15" transform="rotate(90 466.1 1017.9)">B cell</text>
<text x="480.9" y="1017.9" font-size="15" transform="rotate(90 480.9 1017.9)">Cd4 score</text>
<text x="495.7" y="1017.9" font-size="15" transform="rotate(90 495.7 1017.9)">T cells CD8</text>
<text x="510.5" y="1017.9" font-size="15" transform="rotate(90 510.5 1017.9)">Treg score</text>
<text x="525.3" y="1017.9" font-size="15" transform="rotate(90 525.3 1017.9)">Treg score</text>
<text x="540.1" y="1017.9" font-size="15" transform="rotate(90 540.1 1017.9)">Plasma cells</text>
<text x="554.9" y="1017.9" font-size="15" transform="rotate(90 554.9 1017.9)">Plasma cells</text>
<text x="569.8" y="1017.9" font-size="15" transform="rotate(90 569.8 1017.9)">Adipocytes</text>
<text x="584.6" y="1017.9" font-size="15" transform="rotate(90 584.6 1017.9)">Fibroblasts</text>
<text x="599.4" y="1017.9" font-size="15" transform="rotate(90 599.4 1017.9)">CD4 naive T cells</text>
<text x="614.2" y="1017.9" font-size="15" transform="rotate(90 614.2 1017.9)">Naive B cells</text>
<text x="629" y="1017.9" font-size="15" transform="rotate(90 629 1017.9)">B cells</text>
<text x="643.8" y="1017.9" font-size="15" transform="rotate(90 643.8 1017.9)">Bcell score</text>
<text x="658.7" y="1017.9" font-size="15" transform="rotate(90 658.7 1017.9)">Bcell score</text>
<text x="673.5" y="1017.9" font-size="15" transform="rotate(90 673.5 1017.9)">Bcells</text>
<text x="688.3" y="1017.9" font-size="15" transform="rotate(90 688.3 1017.9)">Class switched memory B cells</text>
<text x="703.1" y="1017.9" font-size="15" transform="rotate(90 703.1 1017.9)">Memory B cells</text>
<text x="717.9" y="1017.9" font-size="15" transform="rotate(90 717.9 1017.9)">CAFs</text>
<text x="732.7" y="1017.9" font-size="15" transform="rotate(90 732.7 1017.9)">CMP</text>
<text x="747.5" y="1017.9" font-size="15" transform="rotate(90 747.5 1017.9)">Pro B cells</text>
<text x="762.4" y="1017.9" font-size="15" transform="rotate(90 762.4 1017.9)">CD4 T cells</text>
<text x="777.2" y="1017.9" font-size="15" transform="rotate(90 777.2 1017.9)">Th2 cells</text>
<text x="792" y="1017.9" font-size="15" transform="rotate(90 792 1017.9)">Mast score</text>
<text x="806.8" y="1017.9" font-size="15" transform="rotate(90 806.8 1017.9)">Pericytes</text>
<text x="821.6" y="1017.9" font-size="15" transform="rotate(90 821.6 1017.9)">CD4 Tcm</text>
<text x="836.4" y="1017.9" font-size="15" transform="rotate(90 836.4 1017.9)">ly Endothelial cells</text>
<text x="851.2" y="1017.9" font-size="15" transform="rotate(90 851.2 1017.9)">Endothelial</text>
<text x="866.1" y="1017.9" font-size="15" transform="rotate(90 866.1 1017.9)">Endothelial cells</text>
<text x="880.9" y="1017.9" font-size="15" transform="rotate(90 880.9 1017.9)">Mv Endothelial cells</text>
<text x="895.7" y="1017.9" font-size="15" transform="rotate(90 895.7 1017.9)">DC</text>
<text x="910.5" y="1017.9" font-size="15" transform="rotate(90 910.5 1017.9)">Monocytes</text>
<text x="925.3" y="1017.9" font-size="15" transform="rotate(90 925.3 1017.9)">CD4 Tem</text>
<text x="940.1" y="1017.9" font-size="15" transform="rotate(90 940.1 1017.9)">Macrophages M2</text>
<text x="955" y="1017.9" font-size="15" transform="rotate(90 955 1017.9)">Neutrophil</text>
<text x="969.8" y="1017.9" font-size="15" transform="rotate(90 969.8 1017.9)">DC</text>
<text x="984.6" y="1017.9" font-size="15" transform="rotate(90 984.6 1017.9)">iDC</text>
<text x="999.4" y="1017.9" font-size="15" transform="rotate(90 999.4 1017.9)">NKT</text>
<text x="1014.2" y="1017.9" font-size="15" transform="rotate(90 1014.2 1017.9)">T cell CD8</text>
<text x="1029" y="1017.9" font-size="15" transform="rotate(90 1029 1017.9)">Basophils</text>
<text x="1043.8" y="1017.9" font-size="15" transform="rotate(90 1043.8 1017.9)">NKcells</text>
<text x="1058.7" y="1017.9" font-size="15" transform="rotate(90 1058.7 1017.9)">NK cells</text>
<text x="1073.5" y="1017.9" font-size="15" transform="rotate(90 1073.5 1017.9)">Tregs</text>
<text x="1088.3" y="1017.9" font-size="15" transform="rotate(90 1088.3 1017.9)">Pro cyt score</text>
<text x="1103.1" y="1017.9" font-size="15" transform="rotate(90 1103.1 1017.9)">CD8 naive T cells</text>
<text x="1117.9" y="1017.9" font-size="15" transform="rotate(90 1117.9 1017.9)">Anti cyt score</text>
<text x="1132.7" y="1017.9" font-size="15" transform="rotate(90 1132.7 1017.9)">Macrophages M0</text>
<text x="1147.5" y="1017.9" font-size="15" transform="rotate(90 1147.5 1017.9)">neutrophil score</text>
<text x="1162.4" y="1017.9" font-size="15" transform="rotate(90 1162.4 1017.9)">Mast cells</text>
<text x="1177.2" y="1017.9" font-size="15" transform="rotate(90 1177.2 1017.9)">Other Cells</text>
<text x="1192" y="1017.9" font-size="15" transform="rotate(90 1192 1017.9)">CLP</text>
<text x="1206.8" y="1017.9" font-size="15" transform="rotate(90 1206.8 1017.9)">Erythrocytes</text>
<text x="1221.6" y="1017.9" font-size="15" transform="rotate(90 1221.6 1017.9)">Tgd cells</text>
<text x="1236.4" y="1017.9" font-size="15" transform="rotate(90 1236.4 1017.9)">Epithelial cells</text>
<text x="1251.3" y="1017.9" font-size="15" transform="rotate(90 1251.3 1017.9)">Neutrophils</text>
<text x="1266.1" y="1017.9" font-size="15" transform="rotate(90 1266.1 1017.9)">cd4 score</text>
<text x="1280.9" y="1017.9" font-size="15" transform="rotate(90 1280.9 1017.9)">Neutrophils</text>
<text x="1295.7" y="1017.9" font-size="15" transform="rotate(90 1295.7 1017.9)">Eosinophils</text>
<text x="1310.5" y="1017.9" font-size="15" transform="rotate(90 1310.5 1017.9)">Platelets</text>
<text x="1325.3" y="1017.9" font-size="15" transform="rotate(90 1325.3 1017.9)">CD8 Tcells</text>
<text x="1340.1" y="1017.9" font-size="15" transform="rotate(90 1340.1 1017.9)">cDC</text>
<text x="1355" y="1017.9" font-size="15" transform="rotate(90 1355 1017.9)">Macrophage</text>
<text x="1369.8" y="1017.9" font-size="15" transform="rotate(90 1369.8 1017.9)">Th1 cells</text>
<text x="1391" y="824.5" font-size="15.1" font-weight="bold">Cell type</text>
<text x="1391" y="845.8" font-size="15.1" font-weight="bold">Gene set</text>
<text x="1391.7" y="873.7" font-size="15.1"><tspan font-style="italic">TCRA</tspan> T cell fraction</text>
<text x="1391.7" y="895.3" font-size="15.1"><tspan font-style="italic">TCRB</tspan> T cell fraction</text>
<text x="1391.7" y="916.9" font-size="15.1"><tspan font-style="italic">TCRG</tspan> T cell fraction</text>
<text x="1391.7" y="938.5" font-size="15.1"><tspan font-style="italic">IGH</tspan> B cell fraction</text>
<text x="1391.7" y="960.1" font-size="15.1">IgM/D</text>
<text x="1391.7" y="981.7" font-size="15.1">IgA</text>
<text x="1391.7" y="1003.4" font-size="15.1">IgG</text>
<text x="1544.3" y="718.6" font-size="18" font-weight="bold">Spearman correlation</text>
<rect x="1544.3" y="728" width="30.6" height="457.7" fill="url(#cb)" />
<text x="1587" y="746.8" font-size="15">0.8</text>
<text x="1587" y="824" font-size="15">0.6</text>
<text x="1587" y="901.1" font-size="15">0.4</text>
<text x="1587" y="978.3" font-size="15">0.2</text>
<text x="1587" y="1056.8" font-size="15">0</text>
<text x="1587" y="1134" font-size="15">−0.2</text>
<text x="1645.1" y="850" font-size="15" font-weight="bold">Cell type</text>
<rect x="1645.1" y="855" width="21.6" height="21.9" fill="#85888B" />
<rect x="1646.6" y="856.5" width="18.6" height="18.9" fill="#7B1B22" />
<text x="1671.4" y="871.4" font-size="15">B cell</text>
<rect x="1645.1" y="877" width="21.6" height="21.9" fill="#85888B" />
<rect x="1646.6" y="878.5" width="18.6" height="18.9" fill="#97D2D1" />
<text x="1671.4" y="893.4" font-size="15">T cell</text>
<rect x="1645.1" y="898.9" width="21.6" height="21.9" fill="#85888B" />
<rect x="1646.6" y="900.4" width="18.6" height="18.9" fill="#FFFFFF" />
<text x="1671.4" y="915.3" font-size="15">Other</text>
<text x="1645.1" y="948.6" font-size="15" font-weight="bold">Gene Set</text>
<rect x="1645.1" y="954.3" width="21.6" height="21.9" fill="#85888B" />
<rect x="1646.6" y="955.8" width="18.6" height="18.9" fill="#6CC071" />
<text x="1671.4" y="970.7" font-size="15">CIBERSORT</text>
<rect x="1645.1" y="976.2" width="21.6" height="21.9" fill="#85888B" />
<rect x="1646.6" y="977.7" width="18.6" height="18.9" fill="#A99BCB" />
<text x="1671.4" y="992.6" font-size="15">Danaher</text>
<rect x="1645.1" y="998.1" width="21.6" height="21.9" fill="#85888B" />
<rect x="1646.6" y="999.6" width="18.6" height="18.9" fill="#EAAD76" />
<text x="1671.4" y="1014.5" font-size="15">Davoli</text>
<rect x="1645.1" y="1020" width="21.6" height="21.9" fill="#85888B" />
<rect x="1646.6" y="1021.5" width="18.6" height="18.9" fill="#EBF487" />
<text x="1671.4" y="1036.4" font-size="15">EPIC</text>
<rect x="1645.1" y="1041.9" width="21.6" height="21.9" fill="#85888B" />
<rect x="1646.6" y="1043.4" width="18.6" height="18.9" fill="#3E6BA8" />
<text x="1671.4" y="1058.3" font-size="15">TIMER</text>
<rect x="1645.1" y="1063.8" width="21.6" height="21.9" fill="#85888B" />
<rect x="1646.6" y="1065.3" width="18.6" height="18.9" fill="#E0308C" />
<text x="1671.4" y="1080.2" font-size="15">xCell</text>
<text x="3" y="1298.5" font-size="44" font-weight="bold">f</text>
<line x1="316.6" y1="1341.6" x2="682.6" y2="1341.6" stroke="#E2E3E2" stroke-width="2.2" />
<line x1="316.6" y1="1328.4" x2="682.6" y2="1328.4" stroke="#E2E3E2" stroke-width="2.2" />
<line x1="316.6" y1="1315.2" x2="682.6" y2="1315.2" stroke="#E2E3E2" stroke-width="2.2" />
<line x1="333.2" y1="1302" x2="333.2" y2="1354.8" stroke="#E2E3E2" stroke-width="2.2" />
<line x1="437" y1="1302" x2="437" y2="1354.8" stroke="#E2E3E2" stroke-width="2.2" />
<line x1="540.1" y1="1302" x2="540.1" y2="1354.8" stroke="#E2E3E2" stroke-width="2.2" />
<line x1="643.6" y1="1302" x2="643.6" y2="1354.8" stroke="#E2E3E2" stroke-width="2.2" />
<line x1="316.6" y1="1307.1" x2="682.6" y2="1307.1" stroke="#D23A3A" stroke-width="3.1" stroke-dasharray="13 13"/>
<path d="M397.7 1350.8v8M639.1 1350.8v8M552.9 1350.8v8M340.8 1350.8v8M403.5 1350.8v8M356.5 1350.8v8M375.2 1350.8v8M339.4 1350.8v8M441.1 1350.8v8M466.9 1350.8v8M382.2 1350.8v8M341.6 1350.8v8M558.4 1350.8v8M625.4 1350.8v8M356.8 1350.8v8M379.8 1350.8v8M335.4 1350.8v8M510.4 1350.8v8M357.7 1350.8v8M335.2 1350.8v8M384 1350.8v8M340 1350.8v8M360.3 1350.8v8M574.3 1350.8v8M345.1 1350.8v8M490.5 1350.8v8M623.2 1350.8v8M387.5 1350.8v8M335.2 1350.8v8M391 1350.8v8M404 1350.8v8M610.8 1350.8v8M436.3 1350.8v8M589.6 1350.8v8M595.5 1350.8v8M372.9 1350.8v8M628.7 1350.8v8M415.9 1350.8v8M379.4 1350.8v8M626 1350.8v8M392.7 1350.8v8M449.2 1350.8v8M360.1 1350.8v8M343.4 1350.8v8M416 1350.8v8M353.3 1350.8v8M443.7 1350.8v8M346.4 1350.8v8M394.9 1350.8v8M422 1350.8v8M616.9 1350.8v8M521.7 1350.8v8M412.2 1350.8v8M368.2 1350.8v8M443.9 1350.8v8M428.6 1350.8v8M629.3 1350.8v8M388.7 1350.8v8M336.7 1350.8v8M352 1350.8v8M360.5 1350.8v8M374.8 1350.8v8M557.3 1350.8v8M453.8 1350.8v8M515.2 1350.8v8M376.6 1350.8v8M576.5 1350.8v8M346.1 1350.8v8M374.9 1350.8v8M345.3 1350.8v8M418 1350.8v8M337 1350.8v8M422.3 1350.8v8M648 1350.8v8M487.2 1350.8v8M638.5 1350.8v8M381.5 1350.8v8M363.1 1350.8v8M380.7 1350.8v8M617.2 1350.8v8M347.7 1350.8v8M562.1 1350.8v8M597.4 1350.8v8M371.2 1350.8v8M381.8 1350.8v8M471.3 1350.8v8M335.8 1350.8v8M365 1350.8v8M369.3 1350.8v8M378.9 1350.8v8M553.3 1350.8v8M481.8 1350.8v8M403.3 1350.8v8M414.8 1350.8v8M502.5 1350.8v8M341.7 1350.8v8M642.7 1350.8v8M434.8 1350.8v8M492.5 1350.8v8M380.2 1350.8v8M402 1350.8v8M662.1 1350.8v8M662.2 1350.8v8M351.3 1350.8v8M372.9 1350.8v8M659.7 1350.8v8M348.8 1350.8v8M341.8 1350.8v8M383.3 1350.8v8M637.6 1350.8v8M643 1350.8v8M383.8 1350.8v8M370.6 1350.8v8M399.5 1350.8v8M437.2 1350.8v8M442.6 1350.8v8M584.1 1350.8v8M396.4 1350.8v8M407.4 1350.8v8M344.3 1350.8v8M375.7 1350.8v8M552.5 1350.8v8M559.1 1350.8v8M377.3 1350.8v8M643.9 1350.8v8M657.6 1350.8v8M351.6 1350.8v8M363.5 1350.8v8M456.1 1350.8v8M348 1350.8v8M347.6 1350.8v8M360 1350.8v8M609.7 1350.8v8M394.9 1350.8v8M596.5 1350.8v8M422.5 1350.8v8M574.3 1350.8v8M427.4 1350.8v8M333.6 1350.8v8M504.2 1350.8v8M637.7 1350.8v8M343.3 1350.8v8M569.3 1350.8v8M345.6 1350.8v8M427.9 1350.8v8M539.6 1350.8v8M369.4 1350.8v8M346.5 1350.8v8M355.2 1350.8v8M365.5 1350.8v8M626.4 1350.8v8M602.9 1350.8v8M387.7 1350.8v8M342.6 1350.8v8M620 1350.8v8M569.7 1350.8v8M650.4 1350.8v8M585.8 1350.8v8M351.2 1350.8v8M526.6 1350.8v8M336 1350.8v8M519.4 1350.8v8M415.2 1350.8v8M624.2 1350.8v8M516.1 1350.8v8M362.1 1350.8v8M423.4 1350.8v8M368.5 1350.8v8M377.3 1350.8v8M333.2 1350.8v8" fill="none" stroke="#000" stroke-width="1.3" />
<line x1="315.6" y1="1354.8" x2="682.6" y2="1354.8" stroke="#000" stroke-width="3" />
<path d="M333.2 1354.8L333.5 1346.5L333.8 1338.3L334.3 1333.3L334.9 1328.4L336.1 1324.4L337.3 1320.5L339.4 1317.6L341.5 1314.9L344.6 1313.3L347.7 1311.5L350.3 1311.4L352.9 1310.7L355.4 1310.2L358 1309.5L360.8 1308.6L363.6 1308.5L366.3 1308.5L369.1 1308.2L371.8 1307.3L374.6 1307.6L377.2 1307.4L379.8 1307.1L382.3 1306.9L384.9 1306.9L387.5 1307.7L390.1 1308.2L392.7 1308.4L395.3 1308.3L397.9 1308.7L400.5 1308.7L403 1309.1L405.6 1309.3L408.2 1310.3L410.8 1310.8L413.4 1311L416 1311.3L418.6 1312.1L421.1 1312L423.7 1313.3L426.3 1313.4L428.9 1314L431.5 1314.2L434.1 1314.6L436.7 1315.3L439.3 1315.5L441.8 1315.7L444.4 1316.7L447 1317.1L449.6 1317.6L452.2 1317.9L454.8 1318.5L457.4 1319.1L459.9 1318.9L462.5 1319.8L465.1 1320.5L467.7 1320.2L470.3 1321.1L472.9 1321.1L475.5 1321.4L478.1 1322.4L480.6 1322.8L483.2 1322.6L485.8 1323.8L488.4 1324.1L491 1324.4L493.6 1324.8L496.2 1324.7L498.7 1325.5L501.3 1326.3L503.9 1325.9L506.5 1326.5L509.1 1327.1L511.7 1327L514.3 1327.7L516.9 1328.1L519.4 1328.9L522 1329.2L524.6 1329.2L527.2 1329.8L529.8 1330.4L532.4 1331.2L535 1331.1L537.5 1331.6L540.1 1331.8L542.7 1332.3L545.3 1332.7L547.9 1333.4L550.5 1333.8L553.1 1334.5L555.7 1334.7L558.2 1335.2L560.8 1335.6L563.4 1336.4L566 1336.5L568.6 1337.1L571.2 1337.8L573.8 1338L576.3 1338.3L578.9 1339.1L581.5 1339L584.1 1339.8L586.7 1340.1L589.3 1340.6L591.9 1341.7L594.5 1342.2L597 1342.1L599.6 1342.8L602.2 1343.3L604.8 1343.5L607.4 1344.1L610 1344.6L612.6 1345.4L615.1 1345.2L617.7 1346.6L620.3 1346.3L622.9 1347.2L625.5 1347.3L628.1 1348L630.7 1348.4L633.3 1348.6L635.8 1349.6L638.4 1350.5L641 1350.5L643.6 1351.5L646.1 1351.5L648.7 1351.9L651.2 1352.1L653.7 1352.8L656.2 1353L658.8 1353.9L661.3 1353.9L663.8 1354.4L666.4 1354.8" fill="none" stroke="#5DBA48" stroke-width="3.6" stroke-linejoin="round"/>
<line x1="310.9" y1="1315.2" x2="316" y2="1315.2" stroke="#000" stroke-width="2.6" />
<text x="307.1" y="1319.8" font-size="13.5" text-anchor="end" fill="#222" textLength="22.8" lengthAdjust="spacingAndGlyphs">0.6</text>
<line x1="310.9" y1="1328.4" x2="316" y2="1328.4" stroke="#000" stroke-width="2.6" />
<text x="307.1" y="1333" font-size="13.5" text-anchor="end" fill="#222" textLength="22.8" lengthAdjust="spacingAndGlyphs">0.4</text>
<line x1="310.9" y1="1341.6" x2="316" y2="1341.6" stroke="#000" stroke-width="2.6" />
<text x="307.1" y="1346.2" font-size="13.5" text-anchor="end" fill="#222" textLength="22.8" lengthAdjust="spacingAndGlyphs">0.2</text>
<line x1="310.9" y1="1354.8" x2="316" y2="1354.8" stroke="#000" stroke-width="2.6" />
<text x="307.1" y="1359.4" font-size="13.5" text-anchor="end" fill="#222" textLength="22.8" lengthAdjust="spacingAndGlyphs">0.0</text>
<line x1="333.2" y1="1360.3" x2="333.2" y2="1364.8" stroke="#000" stroke-width="2.6" />
<text x="334.2" y="1378.8" font-size="16" text-anchor="middle" fill="#222">0</text>
<line x1="437" y1="1360.3" x2="437" y2="1364.8" stroke="#000" stroke-width="2.6" />
<text x="434.4" y="1378.8" font-size="16" text-anchor="middle" fill="#222">5000</text>
<line x1="540.1" y1="1360.3" x2="540.1" y2="1364.8" stroke="#000" stroke-width="2.6" />
<text x="540.7" y="1378.8" font-size="16" text-anchor="middle" fill="#222">10000</text>
<line x1="643.6" y1="1360.3" x2="643.6" y2="1364.8" stroke="#000" stroke-width="2.6" />
<text x="653.3" y="1378.8" font-size="16" text-anchor="middle" fill="#222">15000</text>
<text x="489.4" y="1387.4" font-size="16.5" text-anchor="middle">rank</text>
<text x="319.6" y="1295.2" font-size="15.5">High IgM/D vs low IgM/D</text>
<text x="673.6" y="1295.2" font-size="15.5" text-anchor="end">(122 vs 123)</text>
<line x1="725.1" y1="1339.4" x2="1075.2" y2="1339.4" stroke="#E2E3E2" stroke-width="2.2" />
<line x1="725.1" y1="1325.4" x2="1075.2" y2="1325.4" stroke="#E2E3E2" stroke-width="2.2" />
<line x1="725.1" y1="1311.4" x2="1075.2" y2="1311.4" stroke="#E2E3E2" stroke-width="2.2" />
<line x1="740.6" y1="1302" x2="740.6" y2="1353.4" stroke="#E2E3E2" stroke-width="2.2" />
<line x1="839.2" y1="1302" x2="839.2" y2="1353.4" stroke="#E2E3E2" stroke-width="2.2" />
<line x1="938.4" y1="1302" x2="938.4" y2="1353.4" stroke="#E2E3E2" stroke-width="2.2" />
<line x1="1037.9" y1="1302" x2="1037.9" y2="1353.4" stroke="#E2E3E2" stroke-width="2.2" />
<line x1="725.1" y1="1299.7" x2="1075.2" y2="1299.7" stroke="#D23A3A" stroke-width="3.1" stroke-dasharray="13 13"/>
<path d="M945.1 1349.4v8M764.5 1349.4v8M876.2 1349.4v8M752 1349.4v8M804.5 1349.4v8M934.4 1349.4v8M906.4 1349.4v8M844.2 1349.4v8M811.1 1349.4v8M967.4 1349.4v8M752.3 1349.4v8M742.1 1349.4v8M826.5 1349.4v8M796.5 1349.4v8M1016.2 1349.4v8M752.9 1349.4v8M789.4 1349.4v8M839.2 1349.4v8M756.7 1349.4v8M826.8 1349.4v8M838.3 1349.4v8M801.4 1349.4v8M854.6 1349.4v8M869.2 1349.4v8M771.1 1349.4v8M752.1 1349.4v8M922.3 1349.4v8M775.1 1349.4v8M793.5 1349.4v8M805.6 1349.4v8M751.6 1349.4v8M1048.1 1349.4v8M763.8 1349.4v8M794.2 1349.4v8M955.4 1349.4v8M836.5 1349.4v8M1038.9 1349.4v8M743.6 1349.4v8M765.5 1349.4v8M749.9 1349.4v8M781.7 1349.4v8M932.2 1349.4v8M799.5 1349.4v8M767.1 1349.4v8M752.2 1349.4v8M813.3 1349.4v8M742.6 1349.4v8M843.2 1349.4v8M992 1349.4v8M753.8 1349.4v8M980.4 1349.4v8M989.6 1349.4v8M743.3 1349.4v8M889.9 1349.4v8M763.7 1349.4v8M937.2 1349.4v8M749.9 1349.4v8M743.9 1349.4v8M945.8 1349.4v8M1016.8 1349.4v8M902 1349.4v8M785.4 1349.4v8M858.4 1349.4v8M786.1 1349.4v8M789.8 1349.4v8M883 1349.4v8M777.5 1349.4v8M820.3 1349.4v8M942.1 1349.4v8M835.5 1349.4v8M962.5 1349.4v8M996.4 1349.4v8M745.6 1349.4v8M756.4 1349.4v8M915.7 1349.4v8M848.4 1349.4v8M974.9 1349.4v8M812.8 1349.4v8M957.3 1349.4v8M802 1349.4v8M744.1 1349.4v8M787.3 1349.4v8M960 1349.4v8M832.2 1349.4v8M766.9 1349.4v8M785.2 1349.4v8M866.2 1349.4v8M767.2 1349.4v8M820.8 1349.4v8M754.5 1349.4v8M856.9 1349.4v8M780.5 1349.4v8M748 1349.4v8M843.8 1349.4v8M823.3 1349.4v8M951.1 1349.4v8M753.5 1349.4v8M975.7 1349.4v8M784.4 1349.4v8M939.6 1349.4v8M965.8 1349.4v8M913 1349.4v8M751.1 1349.4v8M967.7 1349.4v8M846.1 1349.4v8M853.3 1349.4v8M793.6 1349.4v8M748.3 1349.4v8M788.5 1349.4v8M927.8 1349.4v8M801.9 1349.4v8M857.4 1349.4v8M1043 1349.4v8M810.6 1349.4v8M951.6 1349.4v8M776.6 1349.4v8M894.4 1349.4v8M750.7 1349.4v8M761.7 1349.4v8M898.1 1349.4v8M997.4 1349.4v8M860.4 1349.4v8M805.2 1349.4v8M787.4 1349.4v8M968.8 1349.4v8M747.2 1349.4v8M796.2 1349.4v8M1006.2 1349.4v8M764 1349.4v8M946 1349.4v8M755 1349.4v8M1012.9 1349.4v8M1006.4 1349.4v8M937 1349.4v8M835.3 1349.4v8M783.4 1349.4v8M760.9 1349.4v8M773.3 1349.4v8M759.5 1349.4v8M749.7 1349.4v8M927.9 1349.4v8M1054 1349.4v8M939.1 1349.4v8M781.3 1349.4v8M782.6 1349.4v8M981.6 1349.4v8M1013 1349.4v8M785.1 1349.4v8M766.6 1349.4v8M796.6 1349.4v8M744.3 1349.4v8M852.2 1349.4v8M1005.9 1349.4v8M764 1349.4v8M797.6 1349.4v8M793.5 1349.4v8M758 1349.4v8M804.3 1349.4v8M742.5 1349.4v8M1040 1349.4v8M747.7 1349.4v8M825.5 1349.4v8M870.6 1349.4v8M783.3 1349.4v8M819.7 1349.4v8M1056.2 1349.4v8M818.3 1349.4v8M783.1 1349.4v8M787.8 1349.4v8M966.4 1349.4v8" fill="none" stroke="#000" stroke-width="1.3" />
<line x1="724.1" y1="1353.4" x2="1075.2" y2="1353.4" stroke="#000" stroke-width="3" />
<path d="M740.6 1353.4L740.9 1342.9L741.2 1332.4L741.7 1325.4L742.2 1318.4L742.9 1314.9L743.6 1311.4L745.1 1308.5L746.5 1306.2L748.5 1306L750.5 1305.2L753 1304.9L755.5 1305.1L757.9 1304.4L760.4 1304.7L763.1 1304L765.7 1303.9L768.3 1303.1L771 1302L773.6 1301L776.3 1300.3L779.1 1301.2L781.8 1300.9L784.6 1301L787.4 1300.9L790.2 1301.4L792.6 1301.4L795.1 1301.9L797.6 1302.4L800.1 1302.1L802.5 1302.6L805 1303.1L807.5 1303.2L810 1303.2L812.4 1304L814.9 1304.7L817.4 1304.5L819.9 1305.7L822.4 1305.4L824.8 1305.4L827.3 1306L829.8 1306.4L832.3 1307L834.7 1307.4L837.2 1307.4L839.7 1308.2L842.2 1307.8L844.7 1308.9L847.1 1309L849.6 1309.5L852.1 1310.4L854.6 1310.6L857 1311.3L859.5 1311.9L862 1312.5L864.5 1313.2L867 1313.4L869.4 1314.1L871.9 1315.1L874.4 1315.1L876.9 1315.7L879.3 1316.7L881.8 1316.6L884.3 1317.6L886.8 1318.1L889.2 1318.2L891.7 1319.6L894.2 1318.6L896.7 1320.2L899.2 1319.8L901.6 1321.4L904.1 1321.6L906.6 1322.5L909.1 1322.8L911.5 1323.3L914 1323.5L916.5 1324.4L919 1324.4L921.5 1325.4L923.9 1325.2L926.4 1326.2L928.9 1326.8L931.4 1327.3L933.8 1327.6L936.3 1328.8L938.8 1328.7L941.3 1329.6L943.8 1329.9L946.2 1330.3L948.7 1331.4L951.2 1331.6L953.7 1332.2L956.1 1332.6L958.6 1332.6L961.1 1333L963.6 1333.5L966.1 1334.7L968.5 1335.3L971 1335.7L973.5 1336.2L976 1336.4L978.4 1337L980.9 1338.1L983.4 1337.9L985.9 1338.5L988.4 1339.6L990.8 1340.1L993.3 1340.4L995.8 1341.2L998.3 1341.5L1000.7 1341.9L1003.2 1341.9L1005.7 1342.6L1008.2 1343.9L1010.6 1343.7L1013.1 1344.6L1015.6 1344.7L1018.1 1345L1020.6 1345.6L1023 1346.5L1025.5 1346.5L1028 1347.4L1030.5 1347.8L1032.9 1348.1L1035.4 1348.7L1037.9 1349.1L1040.3 1350.1L1042.7 1350.5L1045.2 1351L1047.6 1351.1L1050 1351.7L1052.4 1352.1L1054.9 1352.2L1057.3 1353.1L1059.7 1353.4" fill="none" stroke="#5DBA48" stroke-width="3.6" stroke-linejoin="round"/>
<line x1="719.8" y1="1311.4" x2="724.8" y2="1311.4" stroke="#000" stroke-width="2.6" />
<text x="716.6" y="1316" font-size="13.5" text-anchor="end" fill="#222" textLength="22.8" lengthAdjust="spacingAndGlyphs">0.6</text>
<line x1="719.8" y1="1325.4" x2="724.8" y2="1325.4" stroke="#000" stroke-width="2.6" />
<text x="716.6" y="1330" font-size="13.5" text-anchor="end" fill="#222" textLength="22.8" lengthAdjust="spacingAndGlyphs">0.4</text>
<line x1="719.8" y1="1339.4" x2="724.8" y2="1339.4" stroke="#000" stroke-width="2.6" />
<text x="716.6" y="1344" font-size="13.5" text-anchor="end" fill="#222" textLength="22.8" lengthAdjust="spacingAndGlyphs">0.2</text>
<line x1="719.8" y1="1353.4" x2="724.8" y2="1353.4" stroke="#000" stroke-width="2.6" />
<text x="716.6" y="1358" font-size="13.5" text-anchor="end" fill="#222" textLength="22.8" lengthAdjust="spacingAndGlyphs">0.0</text>
<line x1="740.6" y1="1358.9" x2="740.6" y2="1363.4" stroke="#000" stroke-width="2.6" />
<text x="741.5" y="1376.1" font-size="16" text-anchor="middle" fill="#222">0</text>
<line x1="839.2" y1="1358.9" x2="839.2" y2="1363.4" stroke="#000" stroke-width="2.6" />
<text x="845.6" y="1376.1" font-size="16" text-anchor="middle" fill="#222">5000</text>
<line x1="938.4" y1="1358.9" x2="938.4" y2="1363.4" stroke="#000" stroke-width="2.6" />
<text x="946.4" y="1376.1" font-size="16" text-anchor="middle" fill="#222">10000</text>
<line x1="1037.9" y1="1358.9" x2="1037.9" y2="1363.4" stroke="#000" stroke-width="2.6" />
<text x="1046" y="1376.1" font-size="16" text-anchor="middle" fill="#222">15000</text>
<text x="898" y="1379.5" font-size="16.5" text-anchor="middle">rank</text>
<text x="725.8" y="1294.4" font-size="15.5">High IgG vs low IgG</text>
<text x="1060.8" y="1294.4" font-size="15.5" text-anchor="end">(122 vs 123)</text>
<line x1="1114.7" y1="1336.4" x2="1457" y2="1336.4" stroke="#E2E3E2" stroke-width="2.2" />
<line x1="1114.7" y1="1321" x2="1457" y2="1321" stroke="#E2E3E2" stroke-width="2.2" />
<line x1="1114.7" y1="1305.6" x2="1457" y2="1305.6" stroke="#E2E3E2" stroke-width="2.2" />
<line x1="1134.8" y1="1300" x2="1134.8" y2="1351.8" stroke="#E2E3E2" stroke-width="2.2" />
<line x1="1220.4" y1="1300" x2="1220.4" y2="1351.8" stroke="#E2E3E2" stroke-width="2.2" />
<line x1="1306.7" y1="1300" x2="1306.7" y2="1351.8" stroke="#E2E3E2" stroke-width="2.2" />
<line x1="1393.1" y1="1300" x2="1393.1" y2="1351.8" stroke="#E2E3E2" stroke-width="2.2" />
<line x1="1119.3" y1="1300.4" x2="1445.6" y2="1300.4" stroke="#D23A3A" stroke-width="3.1" stroke-dasharray="13 13"/>
<path d="M1162.6 1347.8v8M1416.8 1347.8v8M1140.3 1347.8v8M1253.4 1347.8v8M1154.7 1347.8v8M1213 1347.8v8M1339.2 1347.8v8M1171 1347.8v8M1232.5 1347.8v8M1335.8 1347.8v8M1139.2 1347.8v8M1203.1 1347.8v8M1166.5 1347.8v8M1343.9 1347.8v8M1344.1 1347.8v8M1209.7 1347.8v8M1429.9 1347.8v8M1431.8 1347.8v8M1396.1 1347.8v8M1376.6 1347.8v8M1172.8 1347.8v8M1239.8 1347.8v8M1402.7 1347.8v8M1215.4 1347.8v8M1395.7 1347.8v8M1430.9 1347.8v8M1374.6 1347.8v8M1189.2 1347.8v8M1146.3 1347.8v8M1325.2 1347.8v8M1182.7 1347.8v8M1138.2 1347.8v8M1151.1 1347.8v8M1156.5 1347.8v8M1142.8 1347.8v8M1322.5 1347.8v8M1159.4 1347.8v8M1153.6 1347.8v8M1219.3 1347.8v8M1146.6 1347.8v8M1180.7 1347.8v8M1136.9 1347.8v8M1155.8 1347.8v8M1146.1 1347.8v8M1180.5 1347.8v8M1161.2 1347.8v8M1260 1347.8v8M1223.2 1347.8v8M1176.4 1347.8v8M1184 1347.8v8M1148.1 1347.8v8M1181.4 1347.8v8M1211 1347.8v8M1179.1 1347.8v8M1236.2 1347.8v8M1152 1347.8v8M1197.4 1347.8v8M1430 1347.8v8M1374 1347.8v8M1156.6 1347.8v8M1211.1 1347.8v8M1159.4 1347.8v8M1230.2 1347.8v8M1179.9 1347.8v8M1142.6 1347.8v8M1145.9 1347.8v8M1148.8 1347.8v8M1177 1347.8v8M1391.1 1347.8v8M1141.8 1347.8v8M1403.6 1347.8v8M1187.7 1347.8v8M1172.4 1347.8v8M1217.2 1347.8v8M1351.5 1347.8v8M1261 1347.8v8M1298.4 1347.8v8M1407.1 1347.8v8M1194.4 1347.8v8M1143.3 1347.8v8M1231.7 1347.8v8M1185.8 1347.8v8M1153.4 1347.8v8M1272.9 1347.8v8M1175.3 1347.8v8M1273.4 1347.8v8M1175 1347.8v8M1177.3 1347.8v8M1290.2 1347.8v8M1203.7 1347.8v8M1154 1347.8v8M1178.4 1347.8v8M1259.7 1347.8v8M1153.3 1347.8v8M1137.5 1347.8v8M1157.1 1347.8v8M1135.7 1347.8v8M1209.3 1347.8v8M1236.4 1347.8v8M1145.4 1347.8v8M1155.3 1347.8v8M1231.5 1347.8v8M1188.9 1347.8v8M1199 1347.8v8M1169.6 1347.8v8M1215.2 1347.8v8M1303.3 1347.8v8M1311.8 1347.8v8M1190.2 1347.8v8M1278.7 1347.8v8M1324.4 1347.8v8M1183.5 1347.8v8M1168.8 1347.8v8M1147 1347.8v8M1415.3 1347.8v8M1335.8 1347.8v8M1391.5 1347.8v8M1145.7 1347.8v8M1181 1347.8v8M1167.9 1347.8v8M1162.8 1347.8v8M1260.3 1347.8v8M1397.5 1347.8v8M1174.2 1347.8v8M1339.1 1347.8v8M1172.1 1347.8v8M1345.3 1347.8v8M1201.4 1347.8v8M1402.2 1347.8v8M1188.2 1347.8v8M1409.9 1347.8v8M1159.4 1347.8v8M1135.8 1347.8v8M1178.7 1347.8v8M1311.9 1347.8v8M1140.8 1347.8v8M1216.3 1347.8v8M1152.7 1347.8v8M1190.8 1347.8v8M1167.2 1347.8v8M1216.7 1347.8v8M1301.5 1347.8v8M1388.7 1347.8v8M1142.5 1347.8v8M1142 1347.8v8M1138.8 1347.8v8M1199.7 1347.8v8M1209.5 1347.8v8M1195.6 1347.8v8M1177.4 1347.8v8M1250 1347.8v8M1312.7 1347.8v8M1154.9 1347.8v8M1143.8 1347.8v8M1259.9 1347.8v8M1316.7 1347.8v8M1174 1347.8v8M1141.3 1347.8v8M1139.7 1347.8v8M1183.7 1347.8v8M1417.4 1347.8v8M1158.4 1347.8v8M1136.1 1347.8v8M1161.5 1347.8v8M1310.5 1347.8v8M1340.2 1347.8v8M1158.2 1347.8v8M1394.9 1347.8v8M1183 1347.8v8M1321.7 1347.8v8" fill="none" stroke="#000" stroke-width="1.3" />
<line x1="1113.7" y1="1351.8" x2="1457" y2="1351.8" stroke="#000" stroke-width="3" />
<path d="M1134.8 1351.8L1135.1 1342.2L1135.3 1332.5L1135.7 1326.8L1136.2 1321L1137.2 1317.1L1138.2 1313.3L1140 1310L1141.7 1306.9L1143.4 1306.2L1145.1 1305.9L1147.4 1305.3L1149.7 1304.6L1152 1305L1154.6 1303.7L1157.2 1303.2L1159.8 1301.6L1162.4 1300.7L1164.6 1301L1166.8 1301.1L1169 1301.4L1171.2 1301.6L1173.4 1301.4L1175.6 1301.9L1177.8 1301.5L1180 1301.4L1182.2 1302.7L1184.3 1303L1186.5 1302.7L1188.6 1303.7L1190.8 1303.9L1192.9 1304.3L1195.1 1304.4L1197.2 1305.9L1199.4 1304.7L1201.5 1305.7L1203.7 1306.2L1205.8 1306.7L1208 1306.9L1210.1 1307.2L1212.3 1306.9L1214.4 1307.4L1216.6 1308.1L1218.7 1308.6L1220.9 1309L1223.1 1309.6L1225.2 1309.4L1227.4 1310L1229.5 1310.7L1231.7 1311.2L1233.8 1311L1236 1311.9L1238.1 1313L1240.3 1313L1242.4 1313.3L1244.6 1313.7L1246.7 1314.5L1248.9 1314.8L1251 1315.1L1253.2 1315.5L1255.3 1316.4L1257.5 1316.6L1259.6 1317L1261.8 1317.6L1263.9 1317.9L1266.1 1318L1268.3 1318.9L1270.4 1319.7L1272.6 1320L1274.7 1320.2L1276.9 1320.8L1279 1321.1L1281.2 1321.7L1283.3 1322.6L1285.5 1323L1287.6 1323.1L1289.8 1323.3L1291.9 1324L1294.1 1324.5L1296.2 1325.1L1298.4 1325.4L1300.5 1326.1L1302.7 1326.3L1304.8 1327.5L1307 1327.1L1309.2 1327.9L1311.3 1328.9L1313.5 1328.5L1315.6 1328.8L1317.8 1330.2L1319.9 1329.7L1322.1 1330.9L1324.2 1331.4L1326.4 1331.5L1328.5 1332L1330.7 1332.4L1332.8 1332.6L1335 1333.3L1337.1 1333.2L1339.3 1334.3L1341.4 1334.5L1343.6 1335L1345.7 1335.7L1347.9 1335.7L1350 1336.2L1352.2 1337.1L1354.4 1336.9L1356.5 1338L1358.7 1338.5L1360.8 1338.8L1363 1339.1L1365.1 1339.5L1367.3 1339.4L1369.4 1340.3L1371.6 1341.3L1373.7 1341.4L1375.9 1342L1378 1341.6L1380.2 1342.3L1382.3 1342.9L1384.5 1342.8L1386.6 1343.4L1388.8 1344.4L1390.9 1344.5L1393.1 1344.5L1395.3 1345.1L1397.4 1345.2L1399.6 1345.3L1401.7 1346L1403.9 1346.3L1406 1346.8L1408.2 1347.2L1410.3 1347.5L1412.5 1347.4L1414.6 1347.8L1416.8 1348.1L1418.9 1348.6L1421.2 1349.8L1423.5 1349.6L1425.8 1350L1428.1 1351L1430.4 1351L1432.7 1351.8" fill="none" stroke="#5DBA48" stroke-width="3.6" stroke-linejoin="round"/>
<line x1="1114.2" y1="1305.6" x2="1119.2" y2="1305.6" stroke="#000" stroke-width="2.6" />
<text x="1111.9" y="1310.2" font-size="13.5" text-anchor="end" fill="#222" textLength="22.8" lengthAdjust="spacingAndGlyphs">0.6</text>
<line x1="1114.2" y1="1321" x2="1119.2" y2="1321" stroke="#000" stroke-width="2.6" />
<text x="1111.9" y="1325.6" font-size="13.5" text-anchor="end" fill="#222" textLength="22.8" lengthAdjust="spacingAndGlyphs">0.4</text>
<line x1="1114.2" y1="1336.4" x2="1119.2" y2="1336.4" stroke="#000" stroke-width="2.6" />
<text x="1111.9" y="1341" font-size="13.5" text-anchor="end" fill="#222" textLength="22.8" lengthAdjust="spacingAndGlyphs">0.2</text>
<line x1="1114.2" y1="1351.8" x2="1119.2" y2="1351.8" stroke="#000" stroke-width="2.6" />
<text x="1111.9" y="1356.4" font-size="13.5" text-anchor="end" fill="#222" textLength="22.8" lengthAdjust="spacingAndGlyphs">0.0</text>
<line x1="1134.8" y1="1357.3" x2="1134.8" y2="1361.8" stroke="#000" stroke-width="2.6" />
<text x="1135.6" y="1375" font-size="16" text-anchor="middle" fill="#222">0</text>
<line x1="1220.4" y1="1357.3" x2="1220.4" y2="1361.8" stroke="#000" stroke-width="2.6" />
<text x="1227.7" y="1375" font-size="16" text-anchor="middle" fill="#222">5000</text>
<line x1="1306.7" y1="1357.3" x2="1306.7" y2="1361.8" stroke="#000" stroke-width="2.6" />
<text x="1315.4" y="1375" font-size="16" text-anchor="middle" fill="#222">10000</text>
<line x1="1393.1" y1="1357.3" x2="1393.1" y2="1361.8" stroke="#000" stroke-width="2.6" />
<text x="1401.7" y="1375" font-size="16" text-anchor="middle" fill="#222">15000</text>
<text x="1275.8" y="1383" font-size="16.5" text-anchor="middle">rank</text>
<text x="1121.2" y="1294.4" font-size="15.5">High IgA vs low IgA</text>
<text x="1461" y="1294.4" font-size="15.5" text-anchor="end" textLength="72" lengthAdjust="spacingAndGlyphs">(47 vs 198)</text>
<text x="278.3" y="1339.8" font-size="24" text-anchor="middle" transform="rotate(-90 278.3 1339.8)" textLength="171" lengthAdjust="spacingAndGlyphs">Enrichment score</text>
<text x="279.3" y="1552.2" font-size="21" text-anchor="middle" transform="rotate(-90 279.3 1552.2)">Log(p-value)</text>
<text x="887.1" y="1759.5" font-size="24" text-anchor="middle">Log fold change</text>
<path d="M451.7 1622h0M454.2 1594.6h0M428.5 1603.6h0M440.4 1614.3h0M455.6 1658.4h0M458.3 1554.8h0M449.9 1647.5h0M419.3 1574.9h0M432.7 1538.6h0M425.8 1618.1h0M458.4 1630.2h0M416.5 1671.5h0M440.6 1629.2h0M456.7 1522.5h0M427.9 1536.4h0M434.5 1642.3h0M442 1561h0M465.1 1660.6h0M446.4 1548.7h0M438.4 1612.2h0M444 1635.7h0M439.4 1531.5h0M435.6 1529.9h0M470.1 1666.4h0M456.4 1606.3h0M432.6 1622.8h0M467.6 1651.8h0M443.9 1542h0M441.6 1579.1h0M471.1 1623.8h0M468.3 1609.9h0M454.4 1556.7h0M447.2 1618.3h0M432.2 1554.5h0M454.9 1530.2h0M457.8 1662h0M433.1 1630.4h0M466.7 1597.2h0M458.5 1544.3h0M424.8 1574h0M457.7 1563h0M454.4 1582.6h0M446.8 1615.1h0M470.2 1667.8h0M466 1650.7h0M463.2 1625.5h0M433.9 1636.3h0M451.5 1535.3h0M446.8 1626.6h0M447 1550.7h0M458.1 1582.2h0M463.8 1562.4h0M437.9 1624.5h0M437.6 1654.9h0M467.9 1611.9h0M433 1672.9h0M432.6 1676.3h0M424.3 1597.4h0M440 1652.9h0M453.9 1597h0M428.8 1627.8h0M450.2 1605.9h0M466.1 1580h0M435.3 1658.4h0M443.9 1600.8h0M433.6 1571.3h0M472 1650.6h0M437.6 1612.8h0M443.5 1537.5h0M469.9 1683.3h0M444.6 1559.1h0M436.3 1678.9h0M458.8 1675.1h0M464.2 1601h0M454.2 1568.9h0M440.3 1639.7h0M456.8 1583.2h0M456 1548.9h0M438.3 1638.1h0M430.6 1655.1h0M444.4 1562.5h0M445.3 1514.5h0M436.1 1577.2h0M462.4 1529h0M461.7 1522.4h0M450.3 1570.2h0M450.2 1592.3h0M464.5 1635.8h0M464.1 1620.6h0M447.1 1656.2h0M466 1646.6h0M441.2 1660.7h0M429.9 1536.1h0M429.3 1579.5h0M436.1 1620.2h0M461.2 1595.4h0M453.8 1569.2h0M473.1 1667.7h0M435.5 1604.1h0M438.4 1627.7h0M438.6 1617.7h0M431.7 1546.2h0M428 1559.9h0M449.8 1547.3h0M453.5 1640.6h0M431.3 1562.8h0M449.9 1634.6h0M466.5 1578.3h0M468.3 1618.4h0M431.5 1598.4h0M441.9 1632.2h0M455.1 1602.1h0M452.6 1584.1h0M443 1615.1h0M460 1607.4h0M450 1596.1h0M443.8 1616.6h0M436.2 1645.7h0M454.8 1548.7h0M433.2 1624.2h0M434.9 1542.3h0M428.2 1641.7h0M433.1 1667.9h0M461.6 1543.1h0M465 1581.3h0M457.5 1596.9h0M447.2 1560.1h0M453.7 1514.8h0M438.8 1527h0M452.1 1599.6h0M443.8 1555h0M427.9 1550.6h0M436.5 1624.2h0M437.8 1589.4h0M449.4 1528.1h0M443.4 1517.3h0M465 1641.2h0M437.5 1601.4h0M428.8 1653.3h0M452.2 1609.8h0M437.6 1551.5h0M472.7 1660.2h0M437.1 1677.5h0M438.2 1568.8h0M470.2 1673h0M422 1512h0M455.8 1634.1h0M451.6 1654.8h0M437.1 1590.2h0M456.4 1669.9h0M451 1598.1h0M436 1571.9h0M459.1 1650.9h0M443.5 1632.1h0M429.2 1582h0M459.5 1577.5h0M449.2 1584.5h0M472 1652.3h0M408.3 1582h0M462.8 1678.3h0M461.8 1555.8h0M467.7 1663h0M467.7 1622.1h0M471.3 1624h0M462.2 1565.8h0M449.6 1552.3h0M446.1 1564.7h0M470.1 1611.7h0M469.8 1662.5h0M460 1534.3h0M439.1 1607.2h0M447.9 1646.5h0M470.8 1637.3h0M456.6 1622.7h0M437.2 1626.6h0M434.7 1512h0M464.8 1642.7h0M441.7 1663.2h0M447.1 1583.7h0M461.7 1544.2h0M453.2 1629.2h0M449.9 1543.6h0M435.1 1563.3h0M438 1657.7h0M452.5 1579.7h0M445.9 1603.1h0M439.3 1642.3h0M472.2 1631.5h0M450.2 1543h0M442.1 1573.1h0M461.6 1620h0M451.8 1565.1h0M448.8 1614.2h0M449.2 1593.6h0M426.4 1577.4h0M469.8 1620.7h0M464.5 1550.6h0M457.6 1509.8h0M453.3 1535.6h0M434.6 1529.7h0M460.3 1666.3h0M438.2 1541.6h0M467.8 1598.9h0M458.9 1624.8h0M439.8 1586.3h0M451.5 1627.6h0M467.8 1600.3h0M435 1579.9h0M452 1582.3h0M464.5 1566.5h0M433.9 1547.8h0M425.1 1635.3h0M458.4 1516.6h0M435.1 1592.2h0M453.9 1525.5h0M417.3 1535.2h0M454.5 1657.8h0M450.7 1637.3h0M432.1 1551.4h0M445.1 1679.5h0M447.6 1567.1h0M433.1 1614.5h0M460 1658.6h0M429.1 1606.7h0M445.1 1585.7h0M459.1 1525.4h0M425 1569.7h0M460.6 1537.7h0M454.4 1629.2h0M449.2 1664.5h0M428.5 1533.3h0M434.9 1560.7h0M450.1 1567.4h0M448 1508h0M443 1615.6h0M440.1 1649h0M434.5 1628.9h0M433.2 1677.3h0M424.9 1623.2h0M424.7 1575h0M459.5 1555.9h0M444.3 1532.2h0M424.1 1663.5h0M459.4 1585h0M431.5 1549.2h0M461.9 1611.8h0M462.1 1614.9h0M443.3 1604.1h0M454.3 1558.9h0M439.5 1569.3h0M449.5 1641.9h0M446.7 1602h0M465.8 1559.4h0M470 1649.6h0M449.4 1642.6h0M469.6 1605.2h0M451.8 1623.7h0M425.6 1624.5h0M442 1617h0M457.2 1549.7h0M442.6 1651.3h0M420.7 1578.8h0M438.5 1674.7h0M443.7 1553.3h0M452.6 1588.9h0M455 1575.6h0M470.9 1663.2h0M468.4 1667.5h0M442.6 1656h0M409.2 1678.2h0M467.2 1670.2h0M442.1 1654.7h0M469.2 1639.9h0M444.2 1585h0M450.2 1541.3h0M465.3 1623h0M440 1679.2h0M435.6 1629.9h0M442.6 1538.2h0M423.9 1539.9h0M447.2 1558.3h0M451.9 1622.8h0M465 1681.5h0M471.9 1637.2h0M436.6 1530.9h0M453 1569.3h0M457 1624.2h0M463.1 1589.1h0M456.9 1640.9h0M449.3 1567.6h0M456.7 1599.9h0M450.6 1546.2h0M457.5 1662.6h0M464.8 1594h0M449.2 1582.2h0M467.8 1642.2h0M450 1543.7h0M472.3 1650.2h0M460.6 1598.8h0M424.5 1568h0M463.7 1596.6h0M429.5 1593.6h0M430.6 1524.4h0M436.2 1656.9h0M450.1 1555.9h0M442.3 1547.3h0M446 1635.8h0M448 1537.9h0M452.5 1621.2h0M459.8 1590.1h0M429 1571.8h0M440.7 1517.8h0M464.3 1681.5h0M456.7 1566.3h0M427.5 1631.5h0M458.7 1685.1h0M433.6 1518.3h0M462.7 1619h0M440.6 1536h0M455.6 1591.5h0M442.7 1513.3h0M464.2 1545.7h0M449.2 1524.3h0M439.2 1552.1h0M448.1 1536.7h0M436.6 1622.3h0M427.9 1675.4h0M451.2 1522.6h0M456.5 1519.9h0M455.4 1676.9h0M437.1 1585.1h0M461.3 1519.7h0M434.1 1651.4h0M468.4 1618.5h0M463.6 1655.6h0M454.9 1554.9h0M432.8 1506h0M453.1 1590.6h0M458.9 1565.7h0M431.5 1600.7h0M455.8 1581.4h0M465 1586.3h0M457.4 1620.7h0M456.1 1681.5h0M464.4 1673.1h0M456.7 1554.8h0M420.3 1570h0M456.8 1610.1h0M449.9 1669.5h0M423.8 1568.9h0M442.4 1537.4h0M471 1681.2h0M440.6 1623h0M449.9 1544.7h0M429.4 1668.7h0M464.3 1558.1h0M471.8 1639.1h0M431.7 1579h0M431.2 1633.5h0M431.6 1665.3h0M462.4 1567.5h0M445.5 1520.9h0M449.3 1574.7h0M449.4 1675.7h0M469.2 1632.1h0M452.9 1569.1h0M464.3 1609.2h0M438.9 1613.2h0M462.2 1603.6h0M441.5 1643.5h0M437.9 1648.4h0M443.7 1599.7h0M443.5 1647.7h0M470.4 1658.5h0M435.8 1527.4h0M454.3 1508.1h0M431.6 1604.8h0M447.7 1602.7h0M422.8 1625.8h0M456.8 1541.1h0M434.2 1526.7h0M456.9 1562h0M449.8 1598.9h0M449.4 1524h0M435 1625.7h0M465.1 1660.9h0M454.7 1633.7h0M436.3 1525.2h0M440.8 1531.1h0M441 1513.7h0M455.6 1550.1h0M448.7 1572.5h0M441 1682.9h0M450.6 1655.6h0M456 1640.2h0M450.9 1662.6h0M455.1 1600.1h0M446.7 1617.3h0M443.7 1661.4h0M468.6 1596.8h0M422.4 1664.8h0M446.4 1563.1h0M464.1 1576.3h0M432.8 1647.6h0M472 1659.6h0M471.8 1652.9h0M468.5 1658.8h0M438.6 1615.2h0M433.8 1544h0M449.5 1541.2h0M430.1 1598.8h0M468.5 1620.7h0M436.5 1536h0M431.6 1566.3h0M443 1570.1h0M427.4 1526h0M459.7 1598.9h0M452.4 1567.7h0M461.2 1637h0M459.7 1564.5h0M440 1649h0M446.3 1528.3h0M437.4 1574.4h0M454.8 1618.3h0M452 1610.5h0M439.1 1611.8h0M458 1632.1h0M460.7 1568.4h0M456.7 1558.1h0M454.1 1633.8h0M440.4 1655.4h0M465.2 1676.9h0M459.9 1548.7h0M450 1533.2h0M410.1 1612.4h0M457.3 1589.4h0M467.9 1684.2h0M456.7 1527.9h0M426.6 1611.8h0M442.8 1517.8h0M451.9 1681.3h0M466.5 1609.2h0M450.5 1540.8h0M452.9 1635h0M461.5 1550.3h0M438.9 1610.3h0M470 1682h0M466.5 1667.6h0M460.3 1571.3h0M455.9 1542.4h0M427.9 1633.6h0M433.9 1573.8h0M434.8 1608.5h0M465.8 1614.1h0M432.3 1683.5h0M440.8 1517.7h0M451.5 1546.9h0M460.9 1621.3h0M434.3 1540.8h0M460.6 1609.1h0M467.1 1668h0M435.4 1629.5h0M453.8 1653.6h0M452.7 1530.7h0M467.9 1625.3h0M439 1643.2h0M460.9 1636.5h0M455.1 1565.9h0M430.7 1680.2h0M438.5 1625.2h0M439 1636.7h0M463.6 1629.8h0M455.4 1641.5h0M432.2 1645.5h0M439.7 1664.9h0M435.4 1572.4h0M447.5 1649h0M447.5 1529.1h0M436.8 1558h0M430.2 1605.4h0M468.4 1598h0M452.1 1591.8h0M462.7 1566.1h0M445.8 1604.9h0M445.9 1539h0M447.2 1641.9h0M451.7 1598.6h0M439.6 1669.6h0M456.4 1557.3h0M447.6 1516.5h0M447.2 1605.6h0M450.3 1613.4h0M444.6 1533.8h0M439.2 1568.1h0M442.9 1627.6h0M451.1 1583.3h0M469.9 1605.3h0M456.1 1582.9h0M442.4 1665.9h0M437.9 1587.7h0M438.5 1546.2h0M451.8 1622.8h0M431.6 1549.5h0M445.8 1661.6h0M467.9 1654.5h0M455.6 1556.1h0M428.2 1570.2h0M434.9 1600.3h0M449.3 1623.7h0M449.4 1677.4h0M444.8 1614.3h0M435.5 1610.9h0M430.4 1610.3h0M441.3 1527h0M436.5 1549.2h0M437.9 1625.3h0M417.1 1579.4h0M461.7 1612.1h0M457.7 1643h0M457 1615.3h0M463.6 1637h0M427 1596h0M438.6 1582.9h0M431.3 1529.3h0M457.4 1588.5h0M461.3 1619.1h0M470.1 1653.3h0M470.7 1623.8h0M432.5 1587.9h0M431.1 1640h0M457.6 1543.9h0M435.1 1622.9h0M439.9 1542.8h0M439.9 1526.8h0M443.6 1531.1h0M437.7 1586.2h0M426.6 1669.1h0M434.7 1506.1h0M451 1540.6h0M449.9 1583.1h0M441.4 1627.5h0M430.1 1665.3h0M451.9 1599.5h0M435.9 1623h0M447.2 1560.4h0M427.5 1659h0M440.9 1587.3h0M448.2 1597.4h0M432.8 1641.8h0M435.8 1582.5h0M431.7 1593.9h0M470.2 1618.1h0M433.3 1649.9h0M433 1580.8h0M450 1573.2h0M445.7 1565.7h0M448.8 1571.4h0M440.5 1519.6h0M444.1 1623.7h0M453.5 1659.7h0M463 1532.6h0M449.2 1652.7h0M465.4 1620.4h0M465.7 1570.5h0M470.6 1633.3h0M431.8 1516.9h0M455.2 1625.5h0M468 1633.4h0M437.2 1596.3h0M466.6 1582.1h0M435.2 1527h0M439 1609.2h0M452.4 1652h0M446.1 1533.5h0M452 1613.2h0M450.1 1668.7h0M457.7 1616.6h0M461.3 1657.5h0M457 1638.8h0M456 1646.6h0M432.5 1552.5h0M434.3 1542.9h0M432.2 1578.6h0M444.4 1556.4h0M462.7 1665.4h0M433 1670.7h0M464.3 1657.9h0M433.3 1614.2h0M431.5 1653.3h0M445.5 1545.9h0M464.6 1633.1h0M463.2 1530.3h0M463.9 1623h0M471 1626.5h0M454.4 1620.1h0M460.7 1536.8h0M465.5 1577.6h0M466.6 1606.9h0M462.4 1615.1h0M433.3 1529.4h0M442.2 1627.2h0M445.5 1672.3h0M432.5 1619.8h0M447.7 1562.8h0M453.6 1550.5h0M457.3 1557.7h0M442.6 1602.9h0M460.2 1648h0M434.5 1604.6h0M420 1598.1h0M434.1 1595.6h0M438.6 1610.1h0M445.5 1649.8h0M426.1 1611.6h0M448.1 1591.5h0M443.1 1671.9h0M427.4 1630.7h0M451.8 1657.3h0M454.2 1675.3h0M449.8 1659.7h0M471.4 1623.7h0M445.6 1543.6h0M457.3 1644.9h0M442.9 1622.1h0M458.3 1548.1h0M455.5 1617.7h0M463.7 1577.6h0M452.3 1594h0M430.1 1559.4h0M446.8 1598.8h0M452.2 1659.3h0M440.7 1595.3h0M436.2 1555h0M461 1654.7h0M452.7 1612.4h0M472.2 1654.6h0M461 1656.9h0M438.6 1608.8h0M462.5 1635.7h0M446.1 1525.5h0M456.6 1668.4h0M451.9 1583.1h0M448.7 1542.1h0M438.6 1523h0M445.4 1575.2h0M429.8 1645.1h0M428.6 1592h0M436.3 1584.5h0M464.5 1555.8h0M438.7 1595.6h0M453.4 1635.8h0M453.4 1569.3h0M440.6 1521.4h0M441.3 1600.4h0M455.8 1626.7h0M436.4 1675.9h0M435.6 1526.2h0M471.6 1652.2h0M472.2 1633.3h0M453.4 1614.6h0M471.1 1626.8h0M451.6 1670.6h0M431.7 1666.9h0M450.1 1647.3h0M470.6 1651.6h0M453 1626.7h0M445.6 1685.1h0M448.3 1585.7h0M455.4 1560.5h0M467 1638.6h0M472.6 1636.6h0M450.3 1613h0M470 1645.9h0M465.3 1564.8h0M439.4 1681.2h0M447.5 1620.3h0M447.7 1548.7h0M451.5 1583.6h0M433.3 1578h0M466.6 1563.7h0M458 1519.7h0M457.7 1592h0M467.4 1578.2h0M434.6 1507.9h0M464.7 1596.4h0M454.6 1548h0M450.8 1674.2h0M454.2 1683.5h0M442.1 1652.5h0M440 1543.9h0M457.6 1587.5h0M431 1565.6h0M433.2 1661.4h0M458.3 1555.3h0M431.8 1528.8h0M464.2 1592.1h0M433.5 1654.1h0M435.8 1564.9h0M432 1596.1h0M469.2 1601h0M434.2 1550.9h0M459 1667.1h0M466.9 1667.5h0M456.2 1647.2h0M437.6 1543.7h0M438.6 1612.4h0M457.7 1590.5h0M453 1577.9h0M456.8 1658.5h0M462.8 1621.6h0M463.8 1570.8h0M424.4 1661.9h0M442.2 1518.1h0M460.2 1669.8h0M428.1 1670.3h0M436.5 1667.3h0M467 1599.8h0M451 1570.2h0M428.5 1638.1h0M431.9 1589.2h0M436.7 1614.3h0M464.4 1551.9h0M435.6 1663.8h0M467.4 1583h0M434.2 1614.6h0M470.4 1652.5h0M453.9 1673.6h0M463.1 1586.8h0M467 1669.9h0M467.8 1590.5h0M460.2 1543.9h0M452 1566.4h0M459.8 1643.6h0M427.7 1587.4h0M455.8 1650h0M441.1 1593.3h0M442.4 1601.5h0M438.5 1613.1h0M457.3 1549.9h0M426.8 1525.3h0M451.3 1645.2h0M465.6 1602.3h0M451.9 1530.3h0M442.4 1632.5h0M449.6 1605.3h0M449.6 1567.1h0M469.1 1613.9h0M415.5 1553.6h0M430.2 1530.8h0M461.7 1519.2h0M455.2 1647h0M440.1 1536.3h0M430.9 1621.1h0M463.8 1670.2h0M419.8 1666.6h0M446 1533.8h0M435.2 1544.4h0M441.3 1569.1h0M447.9 1519.8h0M434.4 1606.1h0M444.5 1599.3h0M436.8 1557.8h0M458.7 1595.7h0M450.1 1672.2h0M453 1566.2h0M456.1 1599.7h0M449.6 1672.7h0M453.8 1625.6h0M438.7 1589.9h0M438.4 1576.3h0M428.6 1533.7h0M472.2 1643.5h0M440 1563.3h0M467.3 1586.8h0M446.5 1541.1h0M467.8 1600.6h0M467.2 1678.7h0M464.1 1588.7h0M450.2 1594.8h0M446.3 1568h0M434.2 1574.3h0M451.3 1623.9h0M458.5 1591.9h0M461.4 1644.4h0M465.4 1578.2h0M470.9 1623.4h0M469.3 1596.1h0M428.6 1665.2h0M458.7 1569.8h0M447.4 1651.2h0M467.6 1591.5h0M456.7 1628.3h0M444.7 1582.9h0M449.8 1529.1h0M459.7 1549.6h0M431.6 1573.2h0M463.3 1542.1h0M422.7 1644.4h0M451.7 1678.2h0M443.6 1611.4h0M452.9 1622.2h0M458 1619.8h0M439.7 1552.5h0M430.6 1519.8h0M459.2 1589.2h0M459 1666.4h0M427.3 1651.7h0M437.7 1542.1h0M431.1 1509h0M468.5 1631.9h0M459.7 1640.5h0M451 1629.5h0M443 1588.2h0M441.3 1606.1h0M461.6 1665.4h0M435.5 1552.5h0M461.9 1599.4h0M465.2 1589.2h0M461.5 1683.8h0M468 1623.2h0M443.1 1530.3h0M451.7 1594.8h0M460.5 1620.8h0M446.7 1661.9h0M472.1 1634.2h0M458.8 1641.3h0M461.5 1561.4h0M453.9 1682.6h0M465.2 1554.9h0M462.2 1584.1h0M464 1595h0M444.4 1636.3h0M470.3 1636.4h0M422.3 1597.1h0M447.3 1605.8h0M468.8 1659.1h0M435.1 1580.6h0M449.8 1568h0M427.5 1650.7h0M426.1 1562h0M442.4 1575.9h0M430.9 1570h0M461.5 1584h0M453.8 1602.6h0M457.8 1670.9h0M439.1 1617.7h0M430.3 1526.1h0M465.8 1616.7h0M444.9 1573.8h0M458 1613.3h0M429.2 1597.9h0M444.7 1550.8h0M435.7 1665.6h0M464.4 1663h0M451.1 1570h0M450.1 1549.3h0M455.1 1541.2h0M446.3 1601.1h0M470.1 1650.8h0M428.9 1528.8h0M433.1 1594.2h0M450.6 1627.3h0M450.4 1588.8h0M433.5 1623.3h0M417.4 1582.8h0M432 1667.2h0M453.4 1575.1h0M435.8 1577.7h0M461.3 1660.3h0M471.1 1616h0M455.3 1570.9h0M466.6 1631.9h0M451.8 1590.9h0M415.8 1641.8h0M438.8 1625.2h0M460.5 1626.7h0M454.9 1543.8h0M458 1572.8h0M434.5 1572.7h0M431.3 1668.2h0M459.4 1563.1h0M444.4 1550.6h0M465.1 1549.7h0M429.2 1538.6h0M442.5 1647.9h0M462.4 1612.2h0M430.4 1592.3h0M441.8 1661h0M471.3 1633.4h0M441.6 1551.4h0M451.3 1553.5h0M446.8 1644.7h0M455.1 1542.9h0M456 1674.7h0M431.1 1568.6h0M430.9 1665.1h0M450 1518.4h0M452.4 1580.5h0M469.7 1609.5h0M431.5 1559.8h0M463.4 1582.3h0M436.6 1616.7h0M451.2 1640.5h0M455.1 1556.2h0M466.9 1682.7h0M443.9 1569.9h0M442.8 1564.4h0M421.9 1639.8h0M448.9 1626.5h0M451.8 1619.5h0M450.8 1610.9h0M438.1 1581.1h0M462.8 1575.7h0M436 1639.8h0M438.1 1550.6h0M440.2 1556.5h0M454.3 1610.5h0M437.5 1651.8h0M431.8 1674.2h0M436 1580.4h0M436 1642.8h0M437.8 1592.1h0M451.5 1569.1h0M434.9 1636.8h0M440.9 1653.2h0M466.7 1660.1h0M440.5 1658.1h0M441.4 1620.5h0M466.4 1562.2h0M460.5 1640.6h0M470.8 1671.8h0M451 1527.1h0M450.1 1621.3h0M454.9 1559.9h0M467.4 1644h0M453.3 1607.9h0M446.4 1599.2h0M434.3 1628.8h0M449.9 1532.4h0M463.7 1572.3h0M468.6 1629.5h0M458.1 1660.4h0M453.2 1668.6h0M454.4 1552.5h0M457.5 1657.5h0M427.8 1680.2h0M445.4 1674.1h0M453.7 1654.8h0M441 1518.7h0M441.7 1662h0M454.2 1544h0M463.8 1634.5h0M432.4 1614.2h0M450.2 1532.3h0M441.4 1647.7h0M460.7 1563.4h0M440.8 1599.4h0M471.8 1648h0M449.9 1572.2h0M470.4 1650.4h0M439.5 1519.5h0M445.3 1605.5h0M473 1645h0M439.4 1630.2h0M422.6 1525.2h0M436 1572.9h0M465.8 1561.7h0M429.7 1600.3h0M453.3 1559.4h0M427.5 1567.3h0M452.5 1603.9h0M426.5 1671.8h0M437.7 1583.5h0M463 1683.4h0M428.9 1563.8h0M461 1644.5h0M437.4 1543.2h0M426 1605.7h0M459.3 1567.8h0M439.2 1665.9h0M469.9 1648.1h0M449.3 1598.5h0M435.9 1684.5h0M433.5 1640.2h0M458.1 1594.7h0M443.6 1615.5h0M466.1 1587.2h0M466 1617.6h0M434.4 1595.8h0M441.3 1542.3h0M451.1 1679.6h0M471.1 1637.2h0M449.7 1674.2h0M431.8 1546.8h0M447 1584.5h0M454.5 1682.7h0M433 1652.3h0M455.9 1658.6h0M438.9 1614.6h0M427.5 1605.1h0M452.6 1580.4h0M452.2 1629.4h0M465.5 1600.4h0M441.1 1550h0M473.2 1658.4h0M471.1 1676h0M453.6 1625.8h0M434.2 1605.8h0M439.1 1563.4h0M435.4 1542.9h0M435.3 1610.1h0M451.8 1616.1h0M454.8 1649.2h0M442.4 1654.9h0M465.3 1612.2h0M445.3 1644.3h0M460 1545.8h0M438.4 1529.4h0M470.4 1626.3h0M437.8 1652.4h0M458.1 1519.2h0M435.5 1535.8h0M436.7 1537.6h0M449.2 1529.9h0M436.2 1565.8h0M447.4 1562.6h0M468.1 1615.1h0M460 1588.4h0M469.3 1651.7h0M431.8 1667.6h0M449.5 1656.4h0M452.5 1605.9h0M437.1 1568.1h0M440.9 1580.6h0M440.7 1626.1h0M450.9 1654.1h0M442.8 1662.3h0M445.1 1594.1h0M433.4 1574.8h0M469.6 1673.4h0M458.8 1673.6h0M440.5 1664.7h0M438.4 1567.7h0M470.5 1619h0M460.3 1678.3h0M442.5 1667.2h0M457.2 1661.7h0M440.8 1525h0M430 1589.8h0M438.9 1650.4h0M445.6 1602.3h0M463.2 1666.1h0M450.2 1556.1h0M433.4 1534.5h0M452.3 1614h0M469.6 1598.2h0M449.5 1523.3h0M441.6 1532.6h0M464.2 1566.9h0M457.6 1559.4h0M429.8 1577h0M462.3 1546.8h0M436.9 1566.7h0M456.8 1557.7h0M434.3 1529.9h0M460.9 1536h0M433.7 1550.1h0M446.2 1543.1h0M461.8 1544.8h0M451.3 1546.2h0M438.7 1543h0M434.8 1610.9h0M465.6 1647h0M457.5 1574.5h0M470.2 1635.3h0M441.6 1677.1h0M444 1571.8h0M439.2 1625.3h0M432.6 1575.5h0M450.5 1529.3h0M457.2 1533.7h0M412.9 1577.5h0M452.4 1536h0M442.6 1521.5h0M463 1643h0M445.6 1601.1h0M456.3 1609.9h0M435.2 1588.3h0M454.8 1608.3h0M453.4 1585.8h0M465.7 1606h0M423.7 1571.7h0M446.9 1560.1h0M440.1 1576.4h0M434.7 1562.4h0M432.1 1664.3h0M455.5 1616.3h0M440.5 1497.7h0M441.1 1657.9h0M467.7 1644.1h0M446.2 1561.3h0M471.6 1661.9h0M442.3 1600.7h0M443.4 1529.1h0M436.5 1597.2h0M467.9 1615.1h0M434.3 1538.2h0M460.5 1623.2h0M438.7 1506.7h0M449.9 1616h0M441.9 1646.7h0M464.3 1543.5h0M442.1 1620.9h0M464.9 1622.7h0M445.8 1598h0M451.3 1642.1h0M457.6 1628.6h0M454.4 1651.6h0M459.2 1683.5h0M437.9 1617.6h0M452.2 1628.9h0M434.2 1634.8h0M442.9 1641.7h0M438.1 1587.9h0M459.7 1621.6h0M457.3 1547h0M444.9 1606.7h0M454.4 1529.6h0M471.1 1615.5h0M468.1 1582.8h0M450 1595.9h0M450 1538.4h0M464.4 1540.5h0M446.2 1623.5h0M433.2 1532.4h0M472.6 1683.8h0M435.8 1675.5h0M453.5 1571.6h0M441.2 1544.3h0M464.1 1545.5h0M465.7 1575.5h0M433 1556.9h0M432.1 1578.1h0M460.5 1651.9h0M435.9 1544.1h0M452.2 1638.1h0M428.4 1564.8h0M436.8 1612.3h0M431.2 1564.7h0M438.2 1635.3h0M462.1 1545.1h0M446.2 1649.2h0M435.6 1624.5h0M434 1536h0M463.6 1652.1h0M434.8 1571.5h0M425.1 1541h0M459.8 1532.3h0M435.3 1661.7h0M465.6 1603.4h0M458 1567h0M459.4 1555.7h0M427.2 1527.7h0M452.5 1624.9h0M452 1584.1h0M456.2 1658.7h0M456.6 1601.9h0M452.2 1543.8h0M468 1622.2h0M435.2 1570h0M456.7 1632.3h0M450.9 1645.2h0M460.4 1621h0M451.9 1526.7h0M452.7 1653.1h0M449.8 1595.7h0M458.4 1671.3h0M441 1514.3h0M447.9 1649h0M435.8 1640.2h0M459.6 1632.6h0M436.5 1628.3h0M435.7 1553.3h0M444 1604.9h0M454.2 1667.1h0M454.4 1557.7h0M430 1617.7h0M433.6 1609.4h0M464.3 1659.6h0M430.7 1561.3h0M426.8 1626.9h0M441.7 1586h0M433.7 1588.3h0M435.8 1539.4h0M469.3 1608.4h0M432.8 1644.5h0M444.5 1633.4h0M453.5 1625.3h0M454.9 1640.3h0M443.9 1590.6h0M427 1611.5h0M469.9 1609.2h0M468.5 1652.1h0M439.7 1575.5h0M439.7 1526.8h0M439.6 1616h0M444.8 1519.1h0M451.7 1675.3h0M437.7 1613h0M457.5 1585.1h0M451.7 1631.9h0M470.4 1615.1h0M453.1 1545.8h0M452.8 1659.4h0M421.6 1529.7h0M449.5 1609.6h0M454 1556.5h0M436.5 1523.8h0M407.1 1633.6h0M437 1620.1h0M434.8 1601.9h0M462 1676.3h0M454.3 1625.2h0M453.7 1645.5h0M448 1554.1h0M456.7 1596.1h0M469.1 1672.8h0M411.3 1625.3h0M462.1 1559.8h0M448.5 1648.9h0M464.5 1574.7h0M425.9 1673.9h0M439.9 1663.4h0M451.7 1558.6h0M438.2 1529.9h0M420.6 1605.7h0M450.2 1589.1h0M434.4 1655.5h0M469.9 1609.3h0M444 1606.3h0M461.7 1610.3h0M467.1 1642.4h0M466.9 1573.1h0M436.6 1531.4h0M431.8 1550.6h0M453.5 1674.1h0M450.6 1534.8h0M452.9 1589.4h0M459.4 1583h0M451.1 1531.1h0M471.2 1658.5h0M423.7 1626.5h0M467.9 1650h0M443.2 1609.5h0M436.3 1587h0M459 1532.8h0M439.5 1534.2h0M433.3 1521.6h0M438.3 1609.3h0M436.7 1568.6h0M459.4 1654.5h0M452.3 1636.3h0M462.8 1649.4h0M429.3 1668.4h0M446.8 1644.4h0M453.8 1568.5h0M440.9 1620.3h0M454.5 1531.8h0M427.7 1668.1h0M460.1 1517.5h0M444.8 1554.9h0M454.7 1595h0M440 1619.4h0M449.1 1624.5h0M435.4 1634.4h0M445.3 1547h0M428.8 1641.9h0M461.3 1678.8h0M438.1 1567.4h0M455.4 1557.3h0M449.6 1661.7h0M443 1584.2h0M450 1554h0M449.9 1629.6h0M449.1 1542.2h0M452.4 1592h0M445.4 1639.4h0M452 1518.5h0M437 1572.4h0M461.4 1587.4h0M445.5 1623.9h0M418.3 1540.9h0M439 1641.2h0M459.3 1626.5h0M450.9 1586.2h0M435.6 1529.8h0M425.1 1534.8h0M444.7 1634.8h0M449.8 1556.6h0M457.4 1599.2h0M445.6 1625.6h0M470.2 1635.9h0M472.8 1673.1h0M449.5 1583.3h0M465.6 1584.6h0M461.3 1678.7h0M454.4 1581.2h0M452.9 1677.7h0M432.3 1593.3h0M449.1 1550.5h0M451.1 1653.1h0M448.7 1561.3h0M445.4 1624.5h0M436.9 1524.1h0M439.3 1559.9h0M438.5 1548.1h0M457.3 1667.1h0M425.3 1548.7h0M451.7 1607.5h0M446.2 1576.5h0M452.5 1612.7h0M430.8 1621.1h0M418.2 1634.9h0M449.6 1600.7h0M445.1 1554.7h0M452.1 1547.2h0M453.5 1565.4h0M427.5 1552.8h0M440.4 1556.4h0M460.1 1606.9h0M453.7 1582.8h0M464.6 1632h0M449.1 1571.9h0M429.3 1647.6h0M444.8 1591.7h0M456.9 1522.2h0M445 1617.9h0M464.6 1678.3h0M461.1 1513.6h0M468.2 1596.7h0M438.8 1562h0M413.3 1674.4h0M469.2 1655.7h0M448 1533.9h0M442.9 1587.9h0M429.7 1523.7h0M439.7 1646.5h0M442 1540h0M472.4 1677.8h0M427.5 1576h0M469.4 1604.8h0M434.5 1624.5h0M465.6 1589.5h0M463.1 1547.2h0M447.8 1532.6h0M447.8 1620.8h0M445.1 1572.1h0M443.5 1617.8h0M431.5 1527.8h0M470 1665.7h0M440.1 1567.8h0M467 1581.2h0M419.2 1525h0M466.2 1563.3h0M464.1 1604h0M440.1 1620.7h0M457 1573.3h0M434.4 1616.7h0M462.6 1612.7h0M429.4 1680.8h0M435 1582.5h0M446 1638.5h0M435 1684h0M458.7 1537.6h0M456.3 1544.8h0M436.1 1562h0M443 1573.6h0M441.7 1521.3h0M451.9 1528.5h0M447.4 1622.2h0M449.4 1548h0M455.1 1525.3h0M457.1 1643.4h0M448.2 1566h0M455.5 1521.9h0M440.1 1526.7h0M452.2 1589.9h0M415.8 1542.4h0M459 1557.4h0M456.1 1586.7h0M469.3 1665.2h0M465.7 1583.3h0M450.4 1607.6h0M458.5 1662.2h0M470.2 1614.3h0M437.5 1540.3h0M438.8 1558.8h0M468.4 1589.4h0M456.5 1578.7h0M426.5 1624.8h0M464.9 1626.4h0M453.9 1639.9h0M427.2 1666.7h0M446 1556.9h0M468.5 1631.2h0M443.4 1599.2h0M437.9 1660.2h0M439.2 1639.1h0M463.4 1668.2h0M430.3 1560.3h0M431.6 1680.1h0M459 1514.2h0M470.5 1652.7h0M442.6 1605.3h0M425.8 1653.8h0M464.6 1555.1h0M470.4 1650h0M444.3 1636.1h0M454.2 1605.9h0M451.8 1581.9h0M432.6 1651h0M432.2 1548.9h0M454.1 1607.6h0M456.4 1507h0M425.1 1655.9h0M442.8 1611.3h0M456.8 1569h0M451 1525.3h0M446 1582.4h0M451.4 1562h0M440.4 1557.3h0M461.6 1514.5h0M462.3 1550.8h0M469.4 1666.4h0M470.7 1672.9h0M433.2 1566.1h0M455 1619.8h0M439.4 1647.3h0M443.8 1539.4h0M469.5 1632.3h0M465.2 1662.5h0M469.1 1668.7h0M445.8 1563.6h0M438.9 1649.9h0M450.4 1664h0M440.1 1520.3h0M438.4 1616.7h0M442.4 1552.2h0M434.3 1658.9h0M449.5 1623h0M426.3 1600.9h0M432.3 1623.9h0M468.8 1669.7h0M442.9 1522.2h0M452.7 1626.9h0M410.2 1533.6h0M465.1 1564.9h0M462.4 1615.9h0M453 1571.6h0M437 1537.1h0M460.4 1575.9h0M462.8 1617.4h0M424.3 1643.9h0M446.7 1607.3h0M439.3 1561.1h0M450.3 1631.9h0M449.2 1593.2h0M439.4 1535.5h0M466.2 1566.2h0M430.6 1584.2h0M439.2 1646.4h0M460.5 1641.9h0M469 1676h0M457.5 1567.5h0M430.9 1643h0M446.8 1563.2h0M467.7 1630.4h0M441.8 1683.6h0M433.6 1681.4h0M427.7 1606.9h0M456.1 1528.3h0M436.5 1542.1h0M441.6 1624.1h0M437.6 1634.7h0M430.1 1530.5h0M466.7 1589h0M450.4 1560.8h0M439.2 1633.3h0M453.7 1605.6h0M462 1617.6h0M462.7 1590.5h0M461.9 1540.9h0M472.6 1666.8h0M434.2 1623h0M457.5 1525.6h0M460 1589.4h0M434.8 1561.3h0M448.2 1634.4h0M449.7 1549h0M471.1 1673.9h0M505.5 1584.6h0M509.9 1549.8h0M511.9 1572.9h0M525.7 1668h0M492.1 1644.8h0M489.5 1588.2h0M507.7 1632.4h0M497.8 1541.3h0M518.3 1610.5h0M485.3 1674.8h0M516.7 1595.2h0M531.5 1565.2h0M494.9 1648.6h0M515.3 1633h0M516.6 1628.1h0M525.4 1557.5h0M499.1 1643.7h0M499.4 1545h0M518 1603.7h0M486.2 1667.1h0M499.8 1647.9h0M499.4 1614.3h0M504.7 1659.7h0M494.3 1603.2h0M510.2 1599.4h0M493.8 1625.7h0M489.2 1619.4h0M491.7 1602.2h0M485.9 1646.9h0M499.6 1647.7h0M492.5 1662.6h0M492.7 1651.7h0M490.7 1561.5h0M497.2 1548.6h0M516.4 1529.8h0M515.2 1600.6h0M514.2 1587.6h0M488.7 1684h0M515.1 1594.5h0M498.5 1664.5h0M491.3 1653.5h0M507.4 1603.1h0M519.2 1669.7h0M503 1554.1h0M514.3 1563.4h0M489 1574.6h0M485.4 1655.4h0M492.3 1591.6h0M507.2 1584.1h0M489.9 1604h0M494.3 1555.4h0M509.8 1543.1h0M495.1 1685.4h0M512 1571.9h0M509.5 1553.3h0M524.3 1561.3h0M506.8 1653.5h0M516.9 1664.5h0M507.9 1561.6h0M507.7 1573.8h0M506.6 1552.7h0M497 1657.5h0M514.7 1565.7h0M489.4 1616.5h0M498.7 1537.2h0M517.5 1650.2h0M499.3 1636.1h0M509.3 1530.1h0M494.3 1641.6h0M512.5 1675.8h0M492.2 1546.2h0M497.9 1564.9h0M488.2 1580h0M501 1542.1h0M508 1625.4h0M519.6 1553.7h0M481.7 1667.1h0M505.2 1562.7h0M489.8 1613.7h0M507.8 1626.8h0M499.2 1557.7h0M517.5 1648.4h0M506.9 1671.3h0M492.9 1605.9h0M485.2 1620.8h0M506.5 1580.5h0M513.6 1597.4h0M498.1 1656.9h0M484.6 1654.9h0M500.6 1550.9h0M507 1651.5h0M481.8 1666.4h0M503.7 1568.2h0M503.4 1673.8h0M499.9 1662.6h0M492.2 1584h0M502.8 1556.8h0M511.1 1579.4h0M521.1 1674.8h0M507.5 1580.6h0M497.4 1573.3h0M489.3 1614.4h0M484.9 1611.4h0M494.6 1596.1h0M512.9 1661.2h0M510.8 1515h0M492.6 1678.6h0M490.8 1559.9h0M495.3 1664.8h0M521.2 1685h0M492.5 1622.6h0M513.2 1529.6h0M503.1 1544.2h0M523.5 1651.1h0M511.7 1578.4h0M499.9 1633.3h0M493.5 1646h0M484.6 1647.3h0M507.9 1680h0M493.4 1633.6h0M522.3 1550.6h0M523.9 1634.1h0M490.2 1574.9h0M518.1 1607h0M517 1599.7h0M520.4 1659.1h0M510.5 1552.3h0M486.5 1627h0M494.2 1530.3h0M514.6 1579.9h0M520.1 1526.8h0M497.2 1616.6h0M516.7 1596.9h0M497.4 1545.1h0M515.1 1661.4h0M496.8 1633.6h0M498.6 1549.7h0M497.5 1526.9h0M503.9 1651.9h0M496.8 1575.4h0M493.8 1590.6h0M483.5 1668.5h0M484.6 1621.5h0M513.5 1596.9h0M494.3 1666.8h0M511.1 1562.5h0M491.7 1659h0M495.9 1647.3h0M516.1 1659.7h0M499.4 1609.1h0M507.5 1666.5h0M495.6 1609.8h0M507.7 1596.8h0M512.9 1636.3h0M498.1 1546.6h0M512.4 1548.8h0M521.6 1573.6h0M511.4 1631.5h0M489.1 1606.8h0M482.6 1645h0M492.3 1561h0M495.6 1559.5h0M490 1589.2h0M511.6 1573.2h0M527 1643.4h0M516.2 1557h0M497.2 1539.9h0M492.6 1541.3h0M522.4 1555.8h0M485.5 1636.6h0M511.1 1620.9h0M517.1 1580.4h0M506.4 1602h0M491.8 1610h0M521.6 1643.4h0M509 1674.7h0M486.9 1664.1h0M506.4 1680.3h0M485 1616.7h0M495.2 1603.1h0M491.9 1650.6h0M526.2 1634.7h0M512.4 1651.4h0M488.5 1575.1h0M494 1673.8h0M512.4 1670.9h0M506.9 1654.9h0M495.2 1641.2h0M493.3 1612.9h0M506.7 1620.7h0M487.6 1661.4h0M519.9 1567.9h0M487.5 1642h0M519.3 1633.9h0M510.1 1653.9h0M489.9 1581.4h0M513.2 1569.4h0M496.2 1548.6h0M509.5 1645.5h0M492.9 1552.4h0M515.4 1579h0M497.1 1571.5h0M500.8 1560.8h0M509.4 1539.1h0M510.7 1572.8h0M491.1 1677h0M500.3 1575.9h0M482.9 1667.5h0M491 1575.6h0M497.5 1563.9h0M494.5 1567.9h0M494.2 1631.4h0M523.1 1569.4h0M512.3 1674.8h0M490.8 1641.8h0M490 1563.7h0M484 1676.1h0M522 1627.5h0M482.9 1641.1h0M514.9 1604.3h0M505.6 1677.7h0M501.5 1560.7h0M511.5 1584h0M492.6 1586.8h0M516 1647.5h0M482.3 1637.9h0M500.8 1609.1h0M493.3 1667.1h0M482.3 1680.6h0M492.6 1569.8h0M495.9 1653.8h0M494.3 1627.3h0M503.9 1676.8h0M487.3 1606.2h0M486.3 1667.4h0M486.3 1670.9h0M488 1607.7h0M513.5 1621.5h0M503.7 1551.3h0M510.9 1634.7h0M508.5 1566.1h0M509.1 1616.3h0M496.3 1580.9h0M524.4 1604h0M507.7 1670h0M501.8 1555.6h0M493.6 1653.3h0M497.6 1646.8h0M511.5 1682.4h0M505.7 1613.2h0M490.5 1616.1h0M504.3 1641.6h0M490.4 1672h0M505.1 1560.5h0M496 1568.7h0M510 1680.7h0M511 1644.6h0M487.2 1655.8h0M506 1542.1h0M499.9 1573.7h0M498.8 1655.5h0M513.9 1557.9h0M509.2 1568.9h0M484.9 1638.7h0M523.5 1543.8h0M498.7 1613.3h0M507.9 1620.2h0M495.3 1600.4h0M516.8 1638.8h0M511.3 1647.5h0M502.2 1591.6h0M485.2 1649.3h0M488.5 1599.9h0M493 1664.9h0M517.8 1561.9h0M516 1552.9h0M499.4 1635.2h0M497.3 1595.1h0M488.8 1551.6h0M509.4 1600h0M499 1647.3h0M509.7 1613.2h0M500.7 1585.7h0M520.6 1651.7h0M518.7 1591.4h0M506.3 1539.9h0M505.7 1674.2h0M523.3 1595.4h0M497 1627.4h0M500.5 1589.5h0M497.1 1597.5h0M503.7 1544.3h0M499.3 1622.1h0M514.6 1630.3h0M518.6 1568h0M505.8 1576.2h0M488.3 1665.7h0M511 1623.1h0M485 1617h0M493.3 1679.1h0M506.7 1566.1h0M527.1 1561.3h0M513.9 1597.5h0M490.7 1669.8h0M491.8 1646.7h0M498 1530.5h0M502 1582.6h0M506.4 1538.5h0M484.4 1644.3h0M510.6 1532.2h0M509.2 1681.1h0M510.2 1598.1h0M519.5 1624.6h0M501.2 1567h0M486.2 1639.8h0M518.8 1557h0M510.3 1582.9h0M511 1676.7h0M506.3 1636.2h0M517.2 1585.1h0M487.3 1628.6h0M499.8 1557.1h0M526.8 1577.7h0M513.3 1561.9h0M516.4 1542.8h0M494.3 1647.8h0M496 1547.5h0M526.5 1680.6h0M501.6 1635.4h0M485.1 1667.2h0M486.8 1663.8h0M493.3 1569.4h0M493.6 1527.6h0M515.8 1590.1h0M518.5 1582.3h0M485.9 1658.3h0M499.9 1526.6h0M519.8 1583.9h0M487.9 1584.9h0M503.3 1536.6h0M492.8 1581.5h0M506.2 1551.4h0M498.7 1647.5h0M497.3 1672.6h0M513 1538.9h0M515.5 1619.9h0M487.5 1593.7h0M496.6 1579h0M491.7 1628.1h0M493 1632.8h0M487 1643h0M513.4 1637.6h0M505.7 1549.2h0M517.4 1588.7h0M515 1564.6h0M518.4 1565.2h0M505.8 1670.9h0M496.3 1592.6h0M490.9 1677.5h0M506 1552.8h0M485.4 1641.2h0M486.3 1627h0M485 1633.1h0M493.6 1537.6h0M481.2 1678.9h0M511.5 1578.4h0M485.4 1631h0M494.1 1640.8h0M494 1540.5h0M517.6 1581.8h0M525.1 1556.7h0M518.1 1577.4h0M490.8 1673.4h0M508.7 1584.4h0M509.5 1544.9h0M491 1609.7h0M516.7 1584.1h0M496.7 1544h0M514.4 1536.5h0M504.5 1663h0M486 1605.4h0M482.9 1676.3h0M514.6 1666.9h0M495.9 1586.4h0M518 1622.4h0M515 1613h0M486.8 1614h0M515.8 1536.6h0M520.5 1587.8h0M521.5 1603.6h0M496.9 1638.3h0M518.6 1651.6h0M492.3 1653.2h0M512.1 1606.9h0M489.3 1676.4h0M525.5 1536h0M527.1 1657.2h0M505.5 1579.2h0M483.2 1636.3h0M511.1 1592.5h0M501.4 1541h0M486.2 1609h0M491.2 1588.7h0M513.4 1665.2h0M515.2 1616h0M498.1 1585.5h0M510.1 1639.2h0M511.7 1683.2h0M508 1578.4h0M493.2 1583.1h0M517.2 1625.3h0M508 1672.1h0M489.8 1632.6h0M510.5 1581h0M513.3 1573.3h0M498.6 1590.2h0M487.5 1678.5h0M513.4 1656.9h0M482.4 1667.8h0M487.8 1655.4h0M509.1 1545.6h0M510.4 1678.4h0M519.5 1631.8h0M518.3 1606.7h0M489.6 1648.6h0M521.5 1606.3h0M494.5 1562.8h0M509.9 1556.5h0M499.1 1557.5h0M481.5 1646h0M523.4 1551.6h0M511.2 1557.9h0M520.2 1676.7h0M490.9 1590.9h0M514.8 1625.9h0M481.2 1666.9h0M499.7 1608.2h0M493.2 1668.3h0M491.3 1636.1h0M496.1 1559.2h0M509.1 1608.4h0M493.9 1660.6h0M492.7 1674.9h0M514.3 1538.2h0M497.4 1656.5h0M483.1 1644.4h0M515.5 1625.4h0M503.1 1684.6h0M511.7 1552.5h0M520.6 1589h0M516.8 1557.9h0M489.4 1677.8h0M517.8 1611.9h0M495.7 1596.4h0M487.7 1595.3h0M512.2 1599.5h0M513.6 1617.9h0M517.1 1653.6h0M514.8 1539.1h0M482.1 1655.1h0M506.3 1610.7h0M509.1 1588.1h0M510.5 1557.9h0M505.7 1531.2h0M483.2 1640h0M496.7 1540.7h0M500.8 1531.1h0M500.4 1600.2h0M487.1 1685.3h0M486.8 1660h0M500.8 1626.3h0M484.3 1647.6h0M499.1 1561.1h0M499.2 1600.8h0M487.6 1613h0M497.7 1596.8h0M497.4 1661.5h0M499.6 1639.4h0M518.8 1628.7h0M508.2 1671.3h0M509.7 1601.2h0M496.9 1632.7h0M485.5 1608.4h0M513.2 1668.5h0M516.3 1620.5h0M494.3 1581.3h0M487 1626.3h0M488.5 1583.3h0M492.6 1571.4h0M518.3 1666.3h0M494.2 1579.1h0M494.8 1659.3h0M510.2 1558.5h0M517.1 1671.3h0M488.1 1589.2h0M494.2 1551.3h0M482.4 1648.1h0M491.3 1549.2h0M499.3 1625.1h0M502.4 1541.3h0M522.5 1530.8h0M516.2 1613.3h0M522.8 1674.7h0M492.8 1583h0M487.7 1627.2h0M514.3 1582.2h0M493.5 1553.8h0M494.1 1633.4h0M509 1583h0M492.4 1677.6h0M494.9 1619.3h0M502.6 1613h0M481.8 1655.5h0M498.3 1534.6h0M519.7 1608.6h0M498.7 1642.5h0M499.9 1644.1h0M492.3 1619.3h0M511.6 1574.1h0M485.7 1683.9h0M501.5 1650.7h0M515.6 1602h0M512.4 1609.9h0M495.5 1557h0M486.6 1616.9h0M482.8 1644.9h0M505.6 1679.4h0M507.3 1660.3h0M505.6 1646.8h0M514.1 1602.6h0M494.9 1622.1h0M508.6 1554.8h0M501.9 1569.3h0M514.4 1642.2h0M487.5 1636.6h0M486.7 1639.3h0M493.2 1627.8h0M509.5 1558.2h0M495.7 1575.1h0M489.5 1669h0M498.7 1585.2h0M498 1565.7h0M489.3 1636.6h0M488.5 1578.2h0M500.6 1636.9h0M524.8 1620.9h0M496.9 1659.8h0M498.9 1593.7h0M507 1582h0M499 1653h0M507.1 1633.9h0M487.7 1641.2h0M495.7 1680.6h0M493.4 1568h0M496.6 1634.6h0M490.4 1611.2h0M491.8 1565.4h0M499.4 1539.5h0M501.2 1578.7h0M499.8 1638.4h0M519.5 1563.2h0M508.1 1563.5h0M494.5 1611h0M496 1548.6h0M503.6 1631.2h0M486.9 1602.1h0M521.6 1656.6h0M500.5 1629.7h0M489.3 1667.4h0M494.6 1543.9h0M512.8 1611.2h0M523.7 1527.4h0M482.6 1666.4h0M483.4 1631.1h0M508.6 1605.2h0M516.1 1596h0M519.3 1557.4h0M511.5 1563.2h0M481.6 1668.3h0M499.9 1679.9h0M516.5 1618.1h0M486.3 1600.9h0M514.5 1578.6h0M485.7 1637.1h0M496.7 1603.1h0M498 1623.3h0M505.4 1652h0M511.8 1611.8h0M512.2 1647.3h0M481.5 1658.2h0M481.3 1662.1h0M489.4 1567.4h0M510.4 1555.8h0M520.2 1594.6h0M494.3 1672.5h0M483.3 1664.7h0M499.3 1558.7h0M493.2 1569h0M517.4 1641.5h0M517.8 1599.2h0M507.6 1570.1h0M493.6 1642.1h0M524.5 1673.8h0M502.2 1583.1h0M500.1 1595h0M526.8 1612.6h0M503.2 1639.3h0M496.7 1594.2h0M500.2 1599.5h0M497.8 1575.9h0M502.7 1566.4h0M496.4 1553.6h0M498.7 1590.1h0M483 1641.6h0M507.1 1540.3h0M482.4 1667.8h0M498.1 1584.8h0M508.3 1683.5h0M517.4 1541h0M498.5 1637.1h0M489.3 1588.8h0M525.3 1576.4h0M506.3 1666.8h0M512 1626.4h0M491.9 1561.5h0M512.4 1557.6h0M506.9 1660.3h0M500.9 1566.6h0M494.8 1530.7h0M510.3 1572.4h0M506.4 1536.8h0M530.8 1633.3h0M486.9 1612.3h0M515 1544.7h0M494.8 1623.8h0M505.9 1570.1h0M527.6 1620.8h0M490.4 1608.8h0M503.6 1633.3h0M514.1 1656.4h0M495.2 1572.6h0M516.3 1605.9h0M487.5 1674.2h0M511 1608.1h0M500.9 1616.8h0M500.9 1672.6h0M513 1606.4h0M512.2 1557.5h0M493.2 1534.7h0M488.4 1602.1h0M486.8 1624.9h0M499.9 1538.3h0M522.6 1619.2h0M506.3 1684.8h0M488.5 1631.9h0M515.7 1570.5h0M481.9 1682.5h0M513.6 1565.8h0M510.7 1567.6h0M499.9 1684.7h0M482.9 1649h0M515.9 1538.3h0M518.4 1635.5h0M500.8 1672.4h0M500.5 1667h0M507.4 1536.4h0M482.9 1669.1h0M488.4 1622.2h0M506.7 1596.3h0M506.5 1682.2h0M504.4 1662.9h0M507.7 1593.6h0M519.9 1560h0M490.2 1626.2h0M496.5 1557.8h0M502.3 1628h0M491.3 1575.4h0M491.9 1593.2h0M484.4 1682.1h0M495.5 1659.2h0M483.4 1664h0M506 1558.4h0M516.7 1616.3h0M486.4 1639.3h0M490.9 1619.1h0M490.1 1559.7h0M492.8 1650.1h0M508.5 1545.4h0M495.2 1656.6h0M519.6 1573.7h0M482.8 1652.3h0M515.8 1544.3h0M507.4 1587.7h0M484.9 1667h0M500.3 1594.9h0M504.5 1636.3h0M498.7 1566.3h0M483.1 1681.9h0M496.2 1657.2h0M498.1 1527.8h0M509.7 1617.8h0M496.2 1610.7h0M491.4 1584.4h0M499.4 1653.3h0M512.9 1600.2h0M503.3 1604.2h0M509.2 1672h0M513.1 1580.5h0M522.2 1561.2h0M509.3 1581.1h0M486.8 1619h0M495.1 1678h0M487.4 1685.4h0M521.3 1592.3h0M504.6 1602.1h0M514.4 1664.6h0M499.5 1601.8h0M515.1 1542h0M495.2 1638.5h0M500.3 1587.1h0M494.3 1555.5h0M496.2 1579.7h0M486.8 1668.5h0M485.9 1681.3h0M508.3 1613.2h0M516.9 1624.5h0M510.1 1562.3h0M516.7 1636.3h0M483.9 1653.8h0M481.4 1679.8h0M517.9 1561.9h0M507.9 1555.3h0M504.9 1556.9h0M499.2 1569.2h0M494.5 1660.1h0M501.6 1551.8h0M500.9 1670.5h0M509.2 1602.2h0M495 1666.5h0M492.9 1546.8h0M497.6 1531.4h0M519.9 1531.6h0M490.9 1597.3h0M512.3 1639.8h0M493.3 1566.2h0M498.9 1563.8h0M511 1585.6h0M486.3 1634.8h0M499.2 1556.6h0M523.3 1642.7h0M502.9 1645.1h0M487.1 1663.7h0M513 1558.2h0M484.5 1647.1h0M522.2 1652h0M517.2 1562.4h0M501.7 1554.7h0M520.7 1566.2h0M512.5 1532h0M519.8 1557.7h0M519.6 1587.5h0M500.7 1622.1h0M511.8 1651.3h0M490.6 1556.8h0M518.3 1654.8h0M497.6 1578.8h0M489.4 1620.7h0M518.3 1585.9h0M508.3 1649.2h0M517.8 1558.9h0M503.5 1570.8h0M522.3 1555h0M508.6 1666h0M505.3 1604.8h0M487.7 1618.3h0M508.4 1663.4h0M490.1 1644h0M523.4 1541.4h0M522.9 1598.6h0M503.4 1605h0M485.9 1623.2h0M506.7 1596.5h0M517.6 1562.3h0M516.4 1646.6h0M506.3 1567.6h0M507.8 1612.4h0M512.5 1544.8h0M499.9 1666h0M501.2 1671.7h0M524.9 1631.7h0M507.7 1602.7h0M496.3 1649.5h0M512.9 1642.1h0M481.9 1642.5h0M484.1 1625.3h0M515 1610.9h0M515.5 1659.2h0M498.7 1595.1h0M507.5 1552h0M492.5 1608.2h0M473.1 1677.8h0M484 1672.6h0M463.1 1626.4h0M499.7 1669.3h0M488 1658h0M466.6 1678.8h0M476.7 1682.8h0M472.3 1683h0M495.6 1677.1h0M478 1655.4h0M450.5 1658.7h0M472.8 1673.8h0M458.8 1683.9h0M478.5 1644.3h0M495.7 1676.7h0M489.6 1661.4h0M491 1668.9h0M472.3 1660h0M493.9 1668.4h0M478.7 1682.1h0M455.4 1670.2h0M475.2 1671.6h0M465.4 1678.8h0M471.6 1676.1h0M479.9 1680.5h0M498.4 1664.3h0M485.1 1676.7h0M466.2 1685.3h0M467.2 1681.8h0M494.8 1673.6h0M477.2 1672.9h0M478.5 1679.6h0M495.5 1644.1h0M467.9 1672.4h0M470.7 1663.1h0M493.7 1639.7h0M488.1 1669.7h0M481.4 1683.3h0M482.2 1634.5h0M464.2 1675.2h0M491.8 1657.2h0M479.6 1668.1h0M478.5 1667h0M473.6 1684.7h0M483.9 1672.8h0M478.5 1663.8h0M477.8 1668.6h0M478.8 1677.8h0M470.1 1685.1h0M476.8 1679.3h0M451.1 1682.5h0M490.2 1676.6h0M475 1671.1h0M474.3 1683.3h0M492.7 1657.3h0M473 1668.2h0M488.4 1656.3h0M480.3 1658.1h0M481 1675.8h0M478.3 1643.6h0M474.5 1659.5h0M486.8 1669.5h0M464.3 1673.3h0M480.8 1664.8h0M481 1679.3h0M481.3 1665.5h0M457.3 1671.2h0M481.4 1629.4h0M447.2 1681.2h0M474.1 1664.2h0M489.8 1658.5h0M476.8 1677h0M474.7 1678.9h0M457.9 1664.6h0M455.4 1667.4h0M461.5 1670.7h0M474.4 1679.7h0M466 1648.5h0M480.7 1673.5h0M461.4 1674.9h0M474.7 1664h0M479.3 1673.5h0M458.1 1671.1h0M486.6 1662.6h0M499.7 1675.2h0M471.3 1671.6h0M475 1666.9h0M493.4 1669.8h0M474.2 1669.6h0M467.3 1683.4h0M465.7 1677.1h0M469.9 1681.8h0M493.7 1665.7h0M489.7 1659.2h0M482.4 1683.1h0M471.6 1657.8h0M466.1 1660h0M465.3 1675.5h0M465.5 1663.6h0M468.4 1652h0M486.5 1685h0M489.3 1671.6h0M485.8 1669.3h0M466.1 1651.3h0M471.2 1664h0M484.1 1667h0M477.6 1684.4h0M484.7 1676.5h0M468.2 1677h0M492.3 1679.3h0M495.3 1671.6h0M477.9 1679.3h0M490.5 1677.8h0M480.4 1672h0M477.9 1657.7h0M508.1 1656h0M464.3 1645.8h0M450.1 1662.4h0M493 1682.4h0M481.1 1681.7h0M469.4 1681.1h0M482.1 1676.6h0M452.7 1676.7h0M455.2 1679.5h0M496.3 1677h0M477.8 1682.9h0M474.2 1670.7h0M495.1 1663.6h0M473.7 1680.5h0M467.8 1658.9h0M468.9 1674.6h0M494.1 1668.1h0M487.5 1683.1h0M462.1 1679h0M465.3 1666.6h0M486.1 1672.8h0M476.7 1666.3h0M468.3 1672.7h0M474.4 1656.8h0M481.9 1665h0M477.8 1665.5h0M460.9 1672.6h0M485.4 1676.3h0M483.1 1680.8h0M495.9 1680.9h0M466.2 1680.2h0M493.3 1672.1h0M480.5 1660.8h0M490.7 1655.8h0M501.3 1666.1h0M464.6 1662.5h0M484.6 1674.7h0M494.7 1673.9h0M481 1682.9h0M477.2 1671.1h0M481.5 1656.8h0M466.3 1684.9h0M467.4 1674.6h0M484.1 1670.7h0M488.3 1654.3h0M492.4 1680.7h0M466.8 1685.2h0M479.5 1670.4h0M485.6 1638.2h0M498.3 1676.6h0M460.9 1678.7h0M477.3 1673.2h0M488.3 1678.9h0M469.2 1680.4h0M466.5 1670.6h0M487.7 1643.7h0M492.2 1675.5h0M479.4 1682.6h0M463.8 1676.6h0M477.1 1661.3h0M492 1681.2h0M476.3 1685.2h0M481.6 1674.4h0M462.2 1656.6h0M465.9 1657.7h0M476 1681.2h0M466.2 1684.2h0M481.9 1673.5h0M484.1 1676.8h0M485.6 1664h0M503.3 1685.3h0M486.7 1657.8h0M466.4 1671.9h0M479.9 1655.1h0M469.8 1683.8h0M458.1 1653.2h0M468.3 1672h0M482.4 1659.1h0M478.8 1674.3h0M472.7 1680.4h0M477 1670.4h0M474.4 1673.6h0M477.1 1670.1h0M491.7 1677.3h0M481 1679.6h0M365.5 1507.4h0M364.5 1541.6h0M383 1500.9h0M428.4 1562.1h0M391.5 1533.2h0M390.5 1510.1h0M378.8 1619.8h0M367.1 1592.3h0M402.1 1517.7h0M418.4 1518.1h0M428.4 1532.2h0M402.8 1648.8h0M427.4 1579.6h0M399.3 1552.2h0M347.6 1536.8h0M367.7 1614.8h0M417.8 1536.5h0M409.9 1645.1h0M418.8 1505.8h0M417.4 1568h0M429 1581.1h0M385.3 1592.9h0M372 1629h0M404.3 1570.6h0M360.7 1568.3h0M418.4 1550h0M369.1 1660.5h0M428.1 1506h0M376.9 1608.9h0M417.9 1555.1h0M414.3 1598.5h0M394.7 1668.9h0M405.4 1566.7h0M389.4 1562.8h0M414.9 1583.7h0M409.1 1529.7h0M409.6 1597.1h0M380.5 1564.7h0M420.2 1648.4h0M428.4 1538.7h0M408.9 1575.2h0M422.1 1632.4h0M406.4 1505.6h0M407.3 1533.9h0M360.4 1525.3h0M402.8 1542.1h0M400.1 1593.8h0M419 1519.9h0M423.6 1569.2h0M421 1571h0M397.1 1632.6h0M417 1506.1h0M425.5 1546.5h0M412.5 1550.7h0M367.7 1590.3h0M540.2 1639.7h0M630.5 1580.4h0M524.2 1674.3h0M581.2 1638.7h0M635.6 1546.6h0M565.8 1498.6h0M608.7 1614.9h0M627.7 1610.5h0M578.4 1541.3h0M526.9 1638.1h0M640.7 1644.8h0M609.9 1536.6h0M572.6 1594.4h0M555.1 1592.6h0M617 1560.7h0M621.6 1568.2h0M551.6 1555.4h0M565.5 1507.7h0M572.4 1547h0M595.2 1539.8h0M555.8 1597.4h0M641.3 1611.3h0M530.1 1612.2h0M597.2 1442.1h0M554.2 1544h0M545.5 1654.3h0M606.1 1561.6h0M615.7 1629.6h0M606.9 1478.3h0M530.5 1477.6h0M632 1612.1h0M579.7 1467.8h0M631.5 1461.4h0M532.1 1543.3h0M620.3 1615.2h0M589.9 1592.7h0M534.2 1635.5h0M637.7 1459h0M591.6 1601.8h0M577 1608.6h0M599.7 1622.6h0M618.8 1624.4h0M602.1 1582.7h0M524.2 1649h0M541 1452h0M563 1550h0M524.7 1483.6h0M537.2 1654.4h0M605.7 1602.3h0M539.2 1655.1h0M612.2 1479.6h0M626.6 1623.2h0M626.2 1558.6h0M523.1 1651.8h0M524.4 1633.4h0M531.5 1521.9h0M549.8 1661.6h0M533.8 1658.4h0M548.7 1642.9h0M619.4 1584.9h0M525 1491.5h0M642 1468h0M614.3 1572.3h0M583 1651.9h0M609.7 1556.6h0M575.1 1465.7h0M606.5 1618.4h0M574.5 1644.9h0M631.9 1599.5h0M617.9 1569.4h0M436.8 1468.4h0M456.2 1451.7h0M437.1 1448.6h0M437 1487.5h0M448.9 1443.8h0M439.4 1435.6h0M437.2 1494.6h0M431.3 1474.7h0M448.3 1443.5h0M435.8 1491.2h0M446.5 1497.1h0M444.2 1493.3h0M432.6 1460.4h0M438.5 1452.3h0M441.2 1494.9h0M447 1442.5h0M430.9 1475.8h0M438.6 1509.5h0M453.5 1507h0M430.3 1475.3h0M441.7 1475.9h0M435.3 1439.9h0M431.9 1439h0M446.2 1472.3h0M453 1481.8h0M454.3 1455.1h0M458.3 1473.5h0M438.2 1466h0M443.4 1465.1h0M451.6 1500.5h0M438.3 1442.8h0M452.2 1489.6h0M455.9 1467.5h0M453.7 1483.9h0M457 1499h0M493.3 1452.9h0M496.8 1442.1h0M524.3 1527.1h0M515.1 1508.7h0M504.7 1524.1h0M505.7 1476h0M490.2 1524.9h0M489.5 1512h0M502.8 1510h0M492.9 1515.8h0M516.9 1520.6h0M523.5 1495h0M513.4 1441.6h0M490 1517.6h0M508.8 1492.1h0M521.1 1449.5h0M513.1 1516.5h0M494.3 1502.9h0M504.5 1516.8h0M507.1 1446.9h0M490.8 1460.5h0M497 1480h0M499.5 1525.2h0M523.1 1475h0M495.9 1484.9h0" stroke="#C9CCC9" stroke-width="5" stroke-linecap="round" fill="none" />
<path d="M530.1 1443.3h0M543.6 1443.3h0M546.3 1462.7h0M575.3 1472.4h0M506.3 1482.3h0M520.2 1478.8h0M529.6 1478.8h0M529.9 1487.3h0M530.1 1489.3h0M574.8 1489.3h0M562.4 1494.2h0M556.7 1511.6h0M546 1519.1h0M525.2 1524h0M529.1 1528h0M551.7 1532h0M495.9 1537.7h0M548.3 1547.9h0M533.1 1551.8h0M489.7 1576.2h0M513.8 1577.4h0M511.3 1586.1h0M509.5 1593.6h0M501.6 1592.3h0M507.8 1608h0M513.8 1604.7h0M511.8 1610.4h0M530.6 1610.9h0M499.6 1617.9h0M504.1 1621.6h0M458.6 1629.1h0M501.3 1632.8h0M456.1 1649.4h0M493.4 1638.3h0M488.4 1643.2h0M494.6 1646.9h0M490.9 1653.2h0M485.9 1659.4h0M489.7 1663.1h0M483.5 1665.6h0M479.7 1670.5h0M471 1669.3h0M468.6 1674.3h0M473.5 1678h0M477.2 1681.7h0M478.5 1684.2h0M474.8 1685.4h0M471 1680.5h0M481 1678h0M484.7 1674.3h0M495.9 1640.7h0M499.6 1635.8h0M500.8 1630.8h0M492.1 1650.7h0M485.9 1652.7h0M489.2 1650.6h0M481.2 1668.3h0M478.9 1665.9h0M473.6 1682.8h0M482.5 1653.9h0M474.7 1680.5h0M484.8 1656.1h0M476.6 1680.5h0M478.8 1667.2h0M476.6 1673.8h0M485.4 1651.7h0M472.5 1682.7h0M485.3 1656h0M480.5 1669.8h0M474.7 1682.3h0M491.4 1651h0M487.9 1643.4h0M480.3 1666.9h0M479.5 1676.6h0M483.2 1671.7h0M495.4 1632.5h0M488.4 1646h0M480.2 1672h0M481.1 1675.4h0M492.4 1643.4h0M485 1667.1h0M486 1657h0M476.4 1678.7h0M471.7 1680h0M489.5 1646.7h0M487.4 1655.9h0M473.8 1682.7h0M476.3 1664.7h0M482.9 1658.4h0M477.3 1678.7h0M482.8 1663.3h0M481.4 1669.5h0M474.3 1683h0M475.4 1679.8h0M472 1673.1h0M478.6 1668.8h0M471.7 1679.6h0M469.4 1684.5h0M474.7 1680.3h0M476.1 1678.1h0M474.4 1669.7h0M479 1674.2h0M471.2 1669.8h0M475.9 1664.9h0M474.9 1653.1h0M469 1683.6h0M475.3 1676h0M471.1 1685.2h0M476.7 1679.8h0M474.4 1675.3h0M473.7 1678.9h0M478.8 1679.8h0M476.4 1679.5h0M474.7 1683h0M478.2 1679.9h0M469.9 1681h0M475.1 1684.8h0M473.7 1675.1h0M470.5 1674.2h0" stroke="#DF4546" stroke-width="5.4" stroke-linecap="round" fill="none" />
<line x1="430.1" y1="1399.9" x2="430.1" y2="1704.8" stroke="#000" stroke-width="2.6" stroke-dasharray="18 8"/>
<line x1="524.5" y1="1399.9" x2="524.5" y2="1704.8" stroke="#000" stroke-width="2.6" stroke-dasharray="18 8"/>
<line x1="322.1" y1="1557.8" x2="677" y2="1557.8" stroke="#000" stroke-width="2.6" stroke-dasharray="18 8"/>
<path d="M320.1 1383.7V1704.8H682.1" fill="none" stroke="#000" stroke-width="3" />
<line x1="315.1" y1="1391.1" x2="320.1" y2="1391.1" stroke="#000" stroke-width="2.6" />
<text x="310.6" y="1395.7" font-size="13" text-anchor="end" textLength="7.6" lengthAdjust="spacingAndGlyphs">3</text>
<line x1="315.1" y1="1489.2" x2="320.1" y2="1489.2" stroke="#000" stroke-width="2.6" />
<text x="310.6" y="1493.8" font-size="13" text-anchor="end" textLength="7.6" lengthAdjust="spacingAndGlyphs">2</text>
<line x1="315.1" y1="1587.3" x2="320.1" y2="1587.3" stroke="#000" stroke-width="2.6" />
<text x="310.6" y="1591.9" font-size="13" text-anchor="end" textLength="7.6" lengthAdjust="spacingAndGlyphs">1</text>
<line x1="315.1" y1="1685.4" x2="320.1" y2="1685.4" stroke="#000" stroke-width="2.6" />
<text x="310.6" y="1690" font-size="13" text-anchor="end" textLength="7.6" lengthAdjust="spacingAndGlyphs">0</text>
<line x1="382.9" y1="1704.8" x2="382.9" y2="1710.3" stroke="#000" stroke-width="2.6" />
<text x="381.4" y="1723.8" font-size="13" text-anchor="middle">-1</text>
<line x1="477.3" y1="1704.8" x2="477.3" y2="1710.3" stroke="#000" stroke-width="2.6" />
<text x="477.3" y="1723.8" font-size="13" text-anchor="middle">0</text>
<line x1="571.7" y1="1704.8" x2="571.7" y2="1710.3" stroke="#000" stroke-width="2.6" />
<text x="571.7" y="1723.8" font-size="13" text-anchor="middle">1</text>
<line x1="666.1" y1="1704.8" x2="666.1" y2="1710.3" stroke="#000" stroke-width="2.6" />
<text x="666.1" y="1723.8" font-size="13" text-anchor="middle">2</text>
<text x="330.7" y="1407.3" font-size="15.2" fill="#CC2F33">Travaglini lung B cell</text>
<text x="330.7" y="1429.7" font-size="15.2" fill="#CC2F33">GSEA adj p = 1.25e-3</text>
<text x="330.7" y="1451.5" font-size="15.2" fill="#CC2F33">ES = 0.72</text>
<text x="567.4" y="1463.9" font-size="18" font-style="italic" fill="#276B30">FCRL1</text>
<text x="582.3" y="1488.8" font-size="18" font-style="italic" fill="#276B30">MS4A1</text>
<text x="558.5" y="1514.1" font-size="18" font-style="italic" fill="#276B30">CD19</text>
<text x="533.1" y="1543.9" font-size="18" font-style="italic" fill="#276B30">CD79A</text>
<text x="483" y="1555.1" font-size="18" font-style="italic" fill="#276B30">CD22</text>
<text x="538.1" y="1573.2" font-size="18" font-style="italic" fill="#276B30">FCRLA</text>
<text x="513.3" y="1588.6" font-size="18" font-style="italic" fill="#276B30">CD79B</text>
<text x="513.3" y="1614.2" font-size="18" font-style="italic" fill="#276B30">FCRL2</text>
<text x="486" y="1648.9" font-size="18" font-style="italic" fill="#276B30">CD180</text>
<text x="480.5" y="1663.6" font-size="18" font-style="italic" fill="#276B30">CD52</text>
<text x="472.3" y="1679.2" font-size="18" font-style="italic" fill="#276B30">CD37</text>
<path d="M857.7 1665.9h0M859.4 1665.6h0M854.2 1613.9h0M865.2 1676.7h0M867.8 1645.3h0M857.2 1660h0M850.2 1633.7h0M873.1 1669.4h0M873.2 1662.6h0M860.2 1673.5h0M876.2 1674.8h0M869.2 1681.7h0M846 1607.1h0M859.4 1611.7h0M864.6 1645.7h0M849.1 1682.8h0M869.1 1676.4h0M879.8 1668.2h0M863.6 1644h0M868.1 1672h0M863.8 1683.8h0M854.9 1635.5h0M850 1607.6h0M856.6 1654.2h0M861.1 1622.4h0M857.3 1640h0M864.7 1640h0M855.7 1623.1h0M862.2 1682.2h0M859.7 1626.3h0M851.9 1611.6h0M855.6 1618.1h0M858.6 1676.4h0M860.6 1680.9h0M865 1675.6h0M871.5 1669.9h0M870.9 1676.9h0M856.3 1608.5h0M845 1607.1h0M866.4 1648.9h0M852 1655.3h0M859.6 1627h0M861.4 1664h0M852.8 1615.1h0M874 1671.9h0M850.1 1611.5h0M853.4 1624.8h0M863.7 1675.6h0M871.9 1663.7h0M850.7 1625.5h0M867.1 1638h0M864.3 1660.6h0M867.1 1654.7h0M861.2 1613h0M854.7 1643.7h0M871.5 1643.1h0M870.6 1674.7h0M869.7 1655.4h0M852.9 1650.9h0M856.3 1683.4h0M861 1672h0M861.6 1645.1h0M864 1623.8h0M857.7 1627.2h0M860.4 1610.2h0M851.5 1611.8h0M853.9 1608.8h0M864 1653.1h0M863.3 1651.9h0M876.3 1681.8h0M858.2 1639.8h0M869.7 1666.5h0M854.7 1619.5h0M861 1655.1h0M867.7 1675.3h0M869.5 1668.4h0M872 1679.3h0M864.7 1610.8h0M864.4 1663.4h0M853.2 1617.4h0M858.3 1652.9h0M849 1672.6h0M860.1 1616.4h0M860.7 1617.7h0M852.2 1608.8h0M855.6 1671.1h0M847.4 1641.9h0M848.2 1626.2h0M853.5 1613.4h0M866.1 1657.1h0M879.8 1679.7h0M860.3 1613.6h0M859 1625.1h0M869.6 1666.7h0M868.1 1643.1h0M870 1666.9h0M857.1 1629.9h0M852.4 1644.8h0M870.5 1656.4h0M857.6 1648.7h0M857.6 1630.4h0M873.7 1647.7h0M862.3 1673.5h0M851.7 1646.7h0M859.4 1668.4h0M846.5 1663.6h0M853.1 1645.5h0M848 1661.9h0M846.7 1617.5h0M862.9 1648h0M854.8 1662.8h0M857.6 1647.6h0M855.3 1605.2h0M866.4 1669.1h0M860.9 1614.3h0M859.4 1669.6h0M860.6 1640.1h0M861.4 1657.3h0M852.6 1680.9h0M855.6 1626.9h0M852.1 1663.9h0M868.1 1641.9h0M874.3 1657.2h0M855.6 1623.3h0M854.4 1659.5h0M850.7 1630.7h0M864.2 1644.6h0M869.8 1658.8h0M856.8 1625.2h0M864.6 1660h0M877 1669.5h0M873.4 1680.2h0M851.9 1634.3h0M850.8 1620.9h0M854.5 1640.8h0M869.2 1668.8h0M850.6 1658.8h0M849.4 1661.7h0M869.3 1660.6h0M862.7 1605.3h0M851.2 1656.7h0M849.5 1652.1h0M859.4 1612h0M858.1 1619.9h0M872.1 1650h0M850.5 1618.1h0M860.9 1683.1h0M847.6 1643.3h0M850 1641.3h0M866.3 1646.7h0M867.1 1655h0M851.7 1654.9h0M848.3 1609.4h0M850.5 1635h0M849.1 1616.3h0M853 1653.2h0M871.2 1670h0M852.5 1620.1h0M869.6 1653h0M852.9 1640.6h0M857.8 1621.7h0M859.2 1630.6h0M859.1 1674.6h0M859.1 1617.5h0M854.3 1613.3h0M869.4 1665.1h0M856.1 1614h0M857.9 1617.7h0M865.4 1612h0M866 1678.3h0M868.8 1682.7h0M868.9 1669.1h0M850.6 1635.4h0M843.1 1662.9h0M862.5 1608h0M862.6 1615h0M858.7 1642.6h0M858.8 1672.1h0M853.5 1632.9h0M850.5 1670.9h0M862.8 1625.3h0M871.2 1660.4h0M873.5 1663.9h0M879.5 1680.6h0M864.4 1630.4h0M869.9 1665.6h0M843.2 1661.6h0M856.2 1677.8h0M868.8 1670.5h0M850 1658.5h0M856 1644.4h0M849.8 1623.1h0M858.3 1643.6h0M854.5 1633h0M868.8 1684.1h0M846.5 1645.1h0M865.7 1669h0M864.1 1628.9h0M868.8 1651.7h0M860.7 1622.8h0M868.5 1653h0M871.6 1676.9h0M867 1637.7h0M855.1 1611.8h0M851.7 1630.1h0M868.4 1641h0M865 1668.4h0M857.6 1625.3h0M872.6 1670.2h0M874 1666.9h0M860.5 1613.1h0M846.3 1663.4h0M857 1637.2h0M850.8 1628.3h0M869.2 1665.9h0M860.3 1668.2h0M860.3 1605.5h0M848.5 1680.3h0M874.2 1677.9h0M855.4 1632.3h0M858.6 1607.4h0M864.2 1644.7h0M856 1644.5h0M847.4 1664.4h0M863 1658.4h0M854.1 1611.5h0M861.9 1647.3h0M849.2 1632.4h0M874.5 1655.4h0M849.8 1635.8h0M876.1 1670.1h0M851.2 1606.6h0M868.8 1666.7h0M845.6 1672.6h0M848.6 1671h0M859.9 1639.6h0M869 1645.4h0M868.8 1629.1h0M852.7 1645.2h0M873.8 1660.1h0M857.2 1631.2h0M857.8 1612.5h0M857.7 1605.3h0M872.8 1655.8h0M867 1669.3h0M861.7 1659.2h0M858.4 1681.2h0M866.6 1640.5h0M870.9 1665.8h0M853.2 1608.2h0M872.4 1679h0M856 1615.5h0M875.8 1665h0M874 1671.9h0M875.6 1667.4h0M868.9 1648.8h0M872.8 1654h0M873.9 1669.3h0M875.6 1677.8h0M864 1641.5h0M864.5 1682.7h0M877.5 1678.5h0M862.8 1664.8h0M853.3 1615.1h0M872.7 1675.9h0M851.9 1672.9h0M855.3 1620.2h0M856.5 1671.9h0M849.2 1619.9h0M852.7 1648.8h0M864.1 1671.1h0M864.7 1642.6h0M859.4 1649.5h0M859.6 1632h0M869.7 1679.6h0M860.6 1669.9h0M867.8 1649.5h0M848.3 1605.3h0M859.5 1616.5h0M868.8 1649.1h0M855.4 1605.3h0M850.4 1609.5h0M848.4 1643.6h0M861.9 1652.3h0M854.5 1680.1h0M847.2 1651.3h0M861.8 1613.7h0M860.4 1627.2h0M866 1652.9h0M878.2 1664.5h0M851.2 1670.6h0M861.9 1619.7h0M862.8 1630.8h0M873.1 1652.2h0M852.4 1647.9h0M846.7 1633.5h0M850.1 1667.5h0M870.2 1682.4h0M863.1 1667h0M862.6 1663h0M859.7 1620.3h0M871.9 1681.9h0M854.2 1618.7h0M856.4 1648.5h0M849.1 1668.5h0M858.6 1662.7h0M864.8 1616.9h0M874.9 1667.7h0M863 1626.2h0M852.7 1613.9h0M853.5 1619.3h0M856.1 1605.7h0M866.7 1664.6h0M859.9 1629.9h0M880.4 1670.1h0M863.1 1650.3h0M878.3 1665.1h0M863.1 1679h0M864.4 1673h0M869.9 1670.1h0M848.5 1649.5h0M860.8 1627.8h0M867 1659.6h0M865.8 1620.6h0M862.3 1641.6h0M864.6 1649.1h0M862.7 1669.7h0M858.9 1638.6h0M865.2 1628.3h0M865.2 1637.1h0M852.7 1662.5h0M848.2 1653.9h0M852 1657.8h0M851.3 1649.4h0M871.7 1680.2h0M865.6 1681.2h0M846.1 1630.4h0M853.2 1628.4h0M872.8 1669.8h0M853.7 1658.7h0M851.3 1626.9h0M872.6 1669.9h0M871.3 1654.4h0M864.4 1683.3h0M849.2 1625.9h0M872.6 1655.5h0M858.3 1674h0M851.9 1674.3h0M852.2 1643.1h0M867.1 1652.5h0M854.6 1622.6h0M853.3 1638.4h0M850.7 1651.5h0M873.3 1680.7h0M871.4 1668.1h0M844.6 1650.1h0M850.1 1649.7h0M848.5 1639.1h0M866.1 1659.7h0M850.3 1682.1h0M862.7 1678.7h0M857.2 1663.5h0M852.2 1619.8h0M865 1653h0M855.7 1647.5h0M853.3 1677.5h0M859.1 1662.2h0M874.3 1676.7h0M863.6 1643.2h0M857.1 1674.6h0M851.3 1627.6h0M862.7 1660.2h0M861.2 1648.4h0M867.5 1629.2h0M859.4 1634.4h0M866.7 1644.8h0M855 1660.3h0M875.2 1662.4h0M858.5 1624.8h0M859.4 1606.5h0M855.3 1619.2h0M866.2 1656.4h0M866.4 1622.6h0M859.4 1608h0M875.8 1669.5h0M870.8 1684.3h0M862.6 1646.9h0M848.7 1621.8h0M869.1 1650.4h0M854.1 1613.6h0M866.1 1608.9h0M863.7 1645.2h0M869.2 1664.5h0M874.3 1680h0M852.5 1660.9h0M855.8 1618.4h0M848.5 1619.9h0M869 1647.3h0M856.9 1623.5h0M846.9 1651.7h0M852.2 1639.4h0M848 1649.2h0M878.9 1668.6h0M864.8 1663.8h0M851.6 1620h0M859.9 1654.6h0M866.6 1681.2h0M869 1677.5h0M869.2 1629.3h0M862 1657.1h0M864.1 1633h0M850.6 1605h0M872.6 1674.5h0M861.5 1661.6h0M862.4 1665.2h0M876.3 1684.2h0M851.2 1615.1h0M861.6 1621.2h0M862.2 1613.6h0M870.5 1683.7h0M878.3 1674.1h0M855.3 1615.5h0M873.3 1656.4h0M857.4 1635.2h0M851.2 1638.5h0M864.7 1671.9h0M853.8 1621h0M858.6 1652.3h0M860.5 1630.2h0M866.9 1682.1h0M866.7 1635.2h0M849.5 1604.9h0M852.2 1631h0M864.2 1671.1h0M852.3 1611.5h0M871.7 1666.3h0M876.7 1681.6h0M850.2 1634.4h0M857.1 1656.7h0M853.7 1631.9h0M864 1679.5h0M860.1 1633.2h0M858.3 1663.6h0M872 1659h0M858.7 1613.9h0M872.2 1660.5h0M859 1644.5h0M868.9 1641.9h0M864.3 1652.1h0M845.8 1669.2h0M849.8 1615.9h0M873.1 1668.7h0M844.7 1677.2h0M869.6 1659.3h0M854.7 1651.4h0M847 1622.9h0M872.5 1667.1h0M856.1 1637.3h0M875.5 1649.6h0M870.1 1675.2h0M865.6 1618.7h0M870.2 1642.3h0M855.3 1667.2h0M869.9 1648.2h0M871.8 1666.2h0M867 1674.2h0M878.8 1673h0M875 1669.4h0M866 1643.8h0M849.6 1665.9h0M872.2 1675.9h0M854.5 1615.9h0M857.5 1637.2h0M850.5 1617.2h0M855.3 1673.6h0M861.1 1655.6h0M876.6 1676.3h0M851.4 1671.2h0M846.3 1653.4h0M867.7 1633.7h0M860.4 1581.8h0M856.6 1590h0M860.2 1574h0M854.4 1578.2h0M855 1589.8h0M859.8 1583.5h0M852.2 1602.9h0M854.5 1603.1h0M855.6 1604h0M851 1575.8h0M860.3 1572.9h0M853.7 1586.7h0M856.5 1610.6h0M859.7 1583.8h0M856.1 1610.1h0M855 1610.3h0M855.3 1606.5h0M853.8 1577.3h0M857.9 1590.3h0M857.9 1571.7h0M851.8 1582.2h0M858.5 1599.4h0M851.2 1587h0M857.7 1594h0M855.2 1609.6h0M858.2 1572.1h0M858.9 1571.3h0M859.3 1591.3h0M856 1583.8h0M861.5 1595.5h0M900.3 1645.2h0M900.1 1682.5h0M894.2 1635.3h0M907.1 1679.6h0M917.2 1637.5h0M917.7 1546.9h0M906.5 1651.7h0M893.6 1643.1h0M901.2 1672.2h0M928.5 1610.6h0M927.7 1557.8h0M921.7 1638h0M888.5 1665.4h0M911.9 1613.8h0M933 1668.3h0M900.8 1618.7h0M925.5 1577.4h0M915.1 1621.4h0M917.3 1663.7h0M909.7 1642.7h0M908.2 1655.1h0M919.3 1618.3h0M924.8 1584.4h0M904.7 1614.6h0M923.1 1670.4h0M915.9 1617.6h0M910.9 1601.8h0M915.9 1637.7h0M932.2 1548.1h0M911.3 1583.4h0M932.9 1585.4h0M909.9 1581.8h0M931 1561.8h0M928 1592h0M901.1 1649.3h0M914.7 1675.8h0M912.1 1684.7h0M900.5 1659.7h0M932.2 1600h0M932.3 1672.1h0M885.9 1664h0M886.3 1679.6h0M897.6 1661.5h0M900.4 1651.5h0M891.8 1666.5h0M892.8 1634.7h0M890.8 1652.4h0M905 1632.3h0M933 1603.1h0M884.5 1674.4h0M909.7 1619.2h0M924.9 1663.2h0M901.3 1616h0M885.9 1671.7h0M918.8 1562.6h0M921.1 1681.2h0M899.9 1640.2h0M897.5 1651h0M927 1624.2h0M927.9 1583.4h0M897.9 1632.3h0M926.7 1638.2h0M928.2 1636.1h0M890.9 1671.3h0M922.9 1585.9h0M913.9 1605.1h0M910.9 1597.2h0M906.2 1632.7h0M926.4 1590.8h0M907.8 1594.9h0M928.7 1629.4h0M922.3 1684.8h0M902.6 1601.2h0M903.3 1667.2h0M924.8 1631.4h0M902.4 1603.7h0M921.2 1614.3h0M911.5 1642.2h0M899.6 1653.9h0M928.6 1553.5h0M921.4 1668.3h0M920.5 1553.8h0M908.7 1649.2h0M920.6 1632.9h0M928.8 1570.3h0M925.7 1632.3h0M896.1 1671.9h0M917.2 1609.1h0M905.4 1599.5h0M917.3 1665.7h0M924.3 1591h0M926.7 1667.9h0M909.6 1641.3h0M898.3 1619.5h0M925 1658.7h0M911.2 1680h0M901.2 1674.3h0M887.3 1681.5h0M914.9 1577.8h0M923.7 1649.4h0M918.7 1583.4h0M900.4 1640.4h0M931 1585.8h0M917.9 1608.1h0M895.9 1667.4h0M894.1 1662h0M917.4 1616.2h0M932.6 1571h0M928.4 1599.6h0M907.1 1629.5h0M917.6 1585.2h0M914.5 1577.5h0M904.5 1609.4h0M919.6 1652.7h0M888.3 1667.1h0M920 1619.9h0M926.5 1577.3h0M886.3 1658.7h0M910.7 1617.2h0M910.4 1573.9h0M919.6 1648.7h0M908.1 1644.6h0M892.6 1638.6h0M897.2 1667.5h0M901.9 1677.9h0M919.9 1571.5h0M898.2 1684.3h0M909.6 1584.2h0M906.2 1647.2h0M900.2 1662.3h0M895.3 1641.7h0M923.1 1647.2h0M927.1 1559h0M926.5 1568.5h0M906.9 1599h0M899 1642.2h0M914.6 1623.3h0M930.9 1550.8h0M907.3 1647h0M931.5 1590.2h0M903.9 1611.5h0M906 1653.6h0M897.4 1627h0M908.2 1579.3h0M891.6 1660.8h0M932.5 1637.3h0M910.9 1581.3h0M894.9 1650.5h0M891.4 1658.4h0M919.6 1659.6h0M901.6 1678.3h0M888.6 1660.5h0M922.6 1567.4h0M894 1630.3h0M930.6 1589.8h0M906.3 1647.3h0M888.5 1679.7h0M894.4 1635.7h0M888.7 1665.9h0M887.6 1668.5h0M904.6 1678.4h0M912.9 1676h0M903.8 1642.4h0M929.3 1675h0M908.3 1589.4h0M928 1616.1h0M896.7 1664.1h0M888.7 1652.8h0M902.4 1665.5h0M894.1 1649.5h0M929.2 1671.5h0M931.1 1612.1h0M918.4 1588.3h0M890.2 1670.7h0M917 1661h0M916.1 1588.4h0M897.9 1675.6h0M919.2 1633.7h0M921.6 1658.2h0M905.4 1680.7h0M896.6 1653.1h0M930.3 1551.4h0M928.4 1625.8h0M887.8 1653h0M897.3 1628.7h0M896.6 1636.2h0M904.1 1606.9h0M917.6 1565.5h0M912.2 1598.6h0M907.8 1626h0M926.9 1578.3h0M896.3 1635h0M884.1 1683.2h0M901.7 1618h0M903 1668.2h0M899.4 1633.3h0M923.1 1561.3h0M918.1 1599.3h0M920.7 1632.8h0M931 1637h0M931.1 1572.6h0M924 1557h0M931.6 1615.6h0M898.7 1641.9h0M921.8 1657.3h0M902.4 1662.5h0M931.8 1592h0M901 1648.2h0M930.3 1615.3h0M892.2 1645.3h0M923.7 1661.1h0M908.6 1619.4h0M896.3 1624.2h0M911.3 1620.5h0M909.7 1649.7h0M898.7 1616.2h0M924.3 1590.6h0M887.8 1654.5h0M892.8 1648h0M889.9 1666.9h0M931.2 1622.3h0M883.9 1669.9h0M927.9 1599.6h0M915.6 1600.5h0M906.4 1645.4h0M923.8 1622.7h0M931.1 1615.9h0M909.5 1644h0M884.5 1675.1h0M888.8 1655.3h0M930.6 1640.5h0M895.5 1647.8h0M897.5 1627.3h0M908.5 1642.5h0M916.2 1660.8h0M930.3 1667.6h0M918.8 1650.9h0M911.6 1591.8h0M891.3 1665.1h0M926.9 1682.8h0M923.7 1553.6h0M903.2 1637h0M908.3 1604h0M912.7 1638.5h0M886.7 1660.6h0M929.4 1663.5h0M918.5 1646h0M907.7 1608.7h0M912.6 1585h0M915.7 1683.6h0M922.6 1577.1h0M916.2 1674.9h0M918.7 1632.7h0M913.5 1567.3h0M902.1 1609.4h0M926.4 1614.3h0M926.7 1645.2h0M884.2 1676.6h0M930.6 1560.5h0M905.4 1591.4h0M924.2 1637.3h0M895.6 1675.5h0M929.3 1637.3h0M930.2 1575.4h0M929.5 1675.8h0M899.9 1644.7h0M921.9 1665.7h0M907.7 1675.5h0M920.6 1555.1h0M922.3 1649.3h0M928 1634.1h0M919.7 1567.2h0M913 1659.5h0M897.7 1677.4h0M931.4 1637.7h0M928 1641.8h0M908.4 1593.6h0M885.9 1659.9h0M930.8 1670.7h0M914.6 1661.6h0M894.2 1636.5h0M932.1 1645.5h0M927.3 1565.2h0M888.8 1676.5h0M931.4 1566.1h0M917.1 1645.5h0M889.5 1660.2h0M911 1590.1h0M918 1662.9h0M901.4 1641.6h0M904.8 1678.9h0M918.2 1665.9h0M887.9 1660.5h0M932.1 1663.6h0M888.5 1655h0M932.3 1584.1h0M919.8 1571.9h0M899.8 1619.6h0M888.7 1652.7h0M925.3 1651h0M894.8 1672.3h0M888.6 1675.5h0M895.8 1644.2h0M903.5 1680.4h0M900.1 1643.9h0M919.8 1580.5h0M931.5 1665.3h0M925.2 1640.3h0M900 1630.4h0M919.4 1606.5h0M921.3 1678.5h0M926.2 1683.1h0M885.8 1663.1h0M887.9 1652.5h0M891.3 1652.6h0M911.2 1601.8h0M897.8 1631.3h0M891.8 1648.6h0M923.3 1596.2h0M892.8 1658.3h0M920.3 1621.1h0M908 1637.1h0M925.6 1554.5h0M911.4 1671.8h0M907.3 1620.3h0M908.8 1635.2h0M902.6 1626.8h0M929.4 1626.3h0M925.4 1549.4h0M901 1629.9h0M932.9 1619.4h0M895.8 1653.5h0M931.2 1635.8h0M927.3 1608.7h0M931.7 1581.4h0M913.4 1619.2h0M924.4 1575.8h0M920.5 1640.7h0M927.4 1626h0M892.2 1644.1h0M904.3 1659.5h0M890.9 1679.7h0M931.6 1645.6h0M915.9 1637.3h0M920.3 1661.7h0M889.1 1684.5h0M906.6 1636.8h0M910.3 1607.6h0M918.5 1674.3h0M918.7 1645h0M932.5 1593.7h0M886.9 1684.7h0M926.7 1674.2h0M931.2 1552.2h0M889.8 1682.6h0M926.7 1570.6h0M922.5 1545.3h0M903.7 1620.4h0M924.1 1605.4h0M924.3 1620.3h0M914.1 1605.1h0M894.5 1656.7h0M922.8 1572.1h0M919.2 1546.4h0M897.1 1676.5h0M903.7 1636h0M920.5 1564.5h0M892.1 1650.3h0M895.8 1651.4h0M927.8 1665.1h0M907.5 1663.1h0M905.6 1637.9h0M894.6 1670.9h0M891.4 1660.4h0M895.2 1630.8h0M932.9 1591.4h0M917.5 1626.8h0M916.1 1674h0M907.4 1664h0M923.1 1642.6h0M897.5 1631.6h0M917.2 1564.2h0M932.5 1643h0M896.3 1647.6h0M925.8 1582.3h0M919.2 1581.4h0M898 1670.5h0M909.8 1649.9h0M923.8 1556.8h0M907.3 1677.4h0M904.6 1605.8h0M902.8 1610.1h0M904.8 1636.9h0M916.4 1623.4h0M899.4 1677.3h0M923.9 1648.7h0M916.3 1598.4h0M926.4 1607.6h0M925.2 1602.8h0M932.9 1598.2h0M925.7 1623.3h0M894.7 1646.9h0M921 1572h0M915.6 1684.3h0M904.9 1648.2h0M921.1 1546.3h0M907.2 1585.9h0M903.2 1623h0M895.7 1668.5h0M917 1550.3h0M906.6 1608.6h0M919.5 1668.9h0M901.3 1643.3h0M908 1647.4h0M900 1682.1h0M927.1 1610.1h0M923 1632.6h0M926.3 1626.6h0M899.3 1639.1h0M905.7 1627.2h0M883.7 1669h0M903.7 1596.8h0M909.1 1649.8h0M930.1 1664.7h0M924.4 1593.7h0M909.3 1583.8h0M910.8 1629.8h0M917.5 1587.2h0M912.2 1579.8h0M910.5 1599h0M927.7 1580.6h0M889.3 1652.5h0M896 1681.4h0M913.5 1579.7h0M931.4 1574.6h0M929.3 1564h0M902.8 1634.6h0M888.5 1662.2h0M899.9 1619.7h0M891.8 1680.5h0M892.3 1641.5h0M923 1651.4h0M932.8 1626.7h0M885 1675.6h0M916.6 1555.8h0M928.6 1653.6h0M886.2 1673.7h0M906.3 1627.3h0M913.1 1604.9h0M923.5 1603.4h0M927.2 1642.6h0M894.8 1679.3h0M926.4 1546.9h0M890.3 1644.4h0M888 1665.2h0M900.6 1621.4h0M895.9 1645.3h0M897.7 1652.7h0M929.1 1564.5h0M904.4 1663.3h0M893.6 1653.8h0M927.8 1554.4h0M918.5 1673.2h0M895.5 1646.2h0M903 1639.6h0M904.5 1659.5h0M921.7 1638.1h0M928 1613.5h0M908 1643.7h0M911.5 1622.6h0M932 1551.9h0M901.3 1654.7h0M931.3 1559.9h0M894.6 1670h0M907.7 1604.2h0M930.7 1596.5h0M921.1 1655.5h0M917.2 1634.3h0M905.2 1629.5h0M930.2 1658.8h0M908.8 1608.8h0M909.7 1664.5h0M893.3 1633.8h0M890.3 1643.5h0M886.5 1680.5h0M898.4 1625.4h0M892.1 1642.9h0M891.5 1677.7h0M914.9 1591.9h0M923.5 1564.4h0M931.7 1651h0M888.6 1653.2h0M922.6 1576.6h0M901.8 1676h0M914.4 1586.6h0M932 1663.8h0M922.1 1568.4h0M904.5 1655.4h0M900 1616.1h0M926.2 1551.7h0M912.8 1640.1h0M893.5 1640.8h0M890.5 1656.3h0M896.7 1676.2h0M903.1 1671.2h0M911.9 1595h0M921.2 1630h0M900 1638.3h0M923.4 1626h0M898.5 1639.8h0M910.3 1598.5h0M912.5 1574.3h0M920.5 1653.7h0M900.5 1611h0M889.1 1652.4h0M893.5 1674.8h0M927.6 1573.4h0M904.5 1608.4h0M927.6 1638.8h0M921.2 1566.3h0M933 1558.4h0M925 1656.5h0M918.3 1641h0M918.2 1643.7h0M897.2 1633.8h0M924.7 1605h0M929.4 1552.3h0M892.7 1647.5h0M927 1575.8h0M929.8 1675.1h0M926.8 1586h0M911.3 1569.3h0M930.8 1613.8h0M916.7 1581.6h0M929.7 1601.7h0M932.6 1668.4h0M904.5 1645.2h0M925 1629.8h0M929.4 1604.7h0M920 1635.7h0M897.2 1627.9h0M932.5 1597.9h0M908.3 1600.3h0M899.8 1640.7h0M910.4 1582.6h0M913.6 1574.5h0M916.3 1641.4h0M905.4 1628h0M893.5 1644.6h0M920.8 1617.2h0M915 1625.8h0M915.9 1607.8h0M902 1646.9h0M885 1681.5h0M925.3 1551.9h0M920 1610.1h0M902.1 1628.1h0M922.9 1643.5h0M922.3 1601.7h0M894.9 1659.1h0M902 1657.7h0M925.6 1589.8h0M932.8 1548.1h0M890.7 1671.2h0M917.6 1615.4h0M914.6 1634.3h0M900.8 1641.7h0M886.7 1669h0M918.8 1553.7h0M922.4 1667.2h0M889.4 1648.8h0M932.1 1632.2h0M889.9 1671.3h0M926.5 1587.1h0M907 1669.9h0M905.8 1671.4h0M904.8 1680.5h0M911.9 1589.1h0M910.3 1610h0M922.9 1567.3h0M896.3 1625.4h0M884 1675.9h0M903.7 1597.6h0M917.6 1638.4h0M924.7 1607.3h0M919.7 1624.3h0M931.4 1554.4h0M930.3 1560.9h0M892.8 1637.1h0M909.2 1607.7h0M919.4 1589.6h0M908.1 1664.2h0M889.1 1659.7h0M901.4 1602.9h0M909.5 1572.9h0M928.3 1580.2h0M916.9 1563.6h0M928.9 1545.5h0M931.6 1631.7h0M888.3 1682.1h0M924.8 1568.6h0M902.4 1669.4h0M911.4 1629.1h0M911.5 1674.2h0M906.6 1676.4h0M916.8 1664h0M898.8 1655h0M926.4 1602.5h0M908.5 1676.7h0M887.8 1674.7h0M912.8 1597.2h0M924.6 1584.2h0M932.1 1560.5h0M901.7 1610.5h0M925.7 1564.1h0M929.2 1568.2h0M923.7 1607.6h0M911.7 1626.5h0M922.5 1664.1h0M907 1643.3h0M931.9 1668.4h0M915.2 1569.6h0M909 1588h0M924.6 1582h0M907.4 1677.4h0M916.2 1593.8h0M933 1672.1h0M926.6 1578.1h0M898.9 1668.2h0M891.8 1669.5h0M897.2 1667h0M931.3 1670.4h0M908.2 1649.4h0M914.6 1622.8h0M929.7 1588.8h0M930.5 1567.2h0M905.6 1656.1h0M897.5 1624.4h0M888.6 1651.5h0M932.1 1670.1h0M920.6 1615.9h0M930.8 1646.3h0M896.4 1630.7h0M917.3 1650.6h0M908.4 1580.4h0M898.6 1661.6h0M897.7 1623.2h0M915.7 1631.9h0M923.8 1551.4h0M930.9 1663.9h0M884 1672.6h0M918.1 1596.7h0M901.7 1635.8h0M924.8 1597.4h0M918.8 1555.4h0M895.6 1665.7h0M894.5 1668.6h0M911.7 1652.9h0M893.7 1678.8h0M905.4 1593.8h0M891.8 1678.1h0M902.9 1677.3h0M907.9 1655.7h0M892.5 1660.5h0M901.3 1665.1h0M920.6 1562.7h0M918.7 1593.5h0M896.2 1629h0M892.5 1666.6h0M897.7 1673.7h0M915.5 1639.3h0M932.1 1626.2h0M894.4 1648.4h0M923.9 1681.6h0M902.7 1654.1h0M927.8 1562.2h0M910.7 1580.6h0M917.9 1625.3h0M890.7 1650.6h0M915.3 1621.1h0M912.7 1615.7h0M892.2 1647.6h0M906.6 1598.2h0M908.3 1601.8h0M926 1582.5h0M893.7 1680.1h0M914.7 1640h0M900.9 1653h0M909.6 1673h0M888.2 1651.7h0M899.9 1681.1h0M925 1666.3h0M913.4 1583.5h0M928.5 1566.6h0M913.3 1643.6h0M913.5 1573.5h0M925.6 1574.8h0M930.8 1585.6h0M912.8 1597.9h0M896.9 1619.9h0M909.8 1677h0M892.5 1657.3h0M930.2 1607.6h0M918.5 1563.1h0M897.4 1629.1h0M911.2 1675.4h0M931.5 1663.2h0M885.6 1665h0M888.7 1666.2h0M932.4 1601.2h0M931.3 1623.8h0M906 1608.7h0M914.7 1657.9h0M919.3 1647h0M929.6 1563h0M927 1638.2h0M914.4 1614.9h0M931.2 1567.8h0M894.2 1639.7h0M923 1575.3h0M911.9 1677.9h0M898.5 1665.1h0M930.9 1572.7h0M912.7 1660.3h0M906.6 1603.2h0M917.1 1668.3h0M917.6 1674.8h0M904 1665.6h0M924.2 1592.5h0M930 1591.9h0M912.6 1668.8h0M891 1642.5h0M924.3 1642.8h0M885.8 1677.5h0M908.3 1651.1h0M887 1670.5h0M909.4 1574.8h0M911.1 1603.7h0M916.2 1632.5h0M898.9 1649.4h0M916.5 1604.8h0M910.6 1606.1h0M912.7 1618h0M925.7 1563.3h0M928.9 1607.7h0M926.8 1651.8h0M896.7 1682.2h0M914.4 1557.9h0M902.7 1678.4h0M892.7 1675.6h0M929.7 1549h0M888 1655.8h0M913.1 1656.5h0M893.8 1633.7h0M914.6 1596.7h0M924 1670.6h0M907.8 1648.9h0M885.6 1663.5h0M900 1616.4h0M895 1650.9h0M927.7 1560h0M931.9 1630h0M919.8 1561h0M930.9 1549.6h0M904.2 1607.2h0M894 1654.9h0M908.5 1636.5h0M909 1657.7h0M895 1646.3h0M917.8 1640.5h0M921.9 1623.7h0M925 1649.8h0M929.3 1673.4h0M925.5 1572.8h0M890.1 1680.9h0M905.7 1644.2h0M903.1 1678.6h0M932.6 1544.9h0M923.4 1663.7h0M931.1 1649.6h0M889 1677.8h0M932 1648.1h0M891.6 1672.2h0M897.3 1641.3h0M896.2 1639.4h0M913.4 1683.5h0M899.5 1680.5h0M894.1 1673.4h0M918 1570h0M921.1 1659.5h0M888.6 1680.3h0M920.7 1577.5h0M883.9 1676.3h0M893.7 1637.2h0M912.2 1611.2h0M921.6 1583.4h0M892.6 1673h0M929.1 1589.4h0M922.2 1638.7h0M926.1 1631.7h0M911.7 1600.3h0M888.9 1655.4h0M909.2 1663.6h0M910.1 1646.7h0M932.1 1555.8h0M907.6 1622.1h0M890.1 1668.9h0M917.7 1657.6h0M925.1 1591.4h0M915.9 1571.5h0M890.1 1662.8h0M927.5 1600.9h0M920.2 1598.5h0M893.9 1646.4h0M906.9 1591.5h0M907.2 1635.6h0M900.3 1657.6h0M931.6 1609.7h0M923.6 1623.9h0M912.3 1622.5h0M924.7 1681.9h0M885.7 1671.6h0M923.6 1552.2h0M925.9 1592h0M904.9 1630.3h0M918.7 1559.8h0M896.5 1634.3h0M904.7 1627.2h0M884.6 1668h0M893 1661.6h0M899.6 1639.4h0M887.2 1658h0M906.3 1605h0M924.1 1566h0M924.1 1610h0M901.2 1672.4h0M924 1638.1h0M913.1 1681.7h0M927 1556h0M916.4 1563.4h0M928.8 1582h0M890.8 1677.6h0M895.1 1664.6h0M891.4 1662.6h0M923.7 1661h0M922.7 1556.2h0M906 1614.5h0M924.5 1616.5h0M908.5 1636.3h0M925.3 1576h0M919.6 1565.1h0M927.9 1616.1h0M902.2 1607.4h0M933 1649.1h0M930 1624h0M912.2 1653.6h0M890.6 1676.1h0M931 1643.6h0M901.3 1638.2h0M900.2 1672.6h0M897.3 1666.7h0M929.9 1668.9h0M890.1 1684h0M910.5 1588.4h0M913.3 1612.4h0M924.2 1644h0M924 1555.8h0M904.4 1648.9h0M885.8 1660.5h0M921.8 1626.1h0M884 1673.7h0M894.1 1659.1h0M930.9 1590.1h0M907.5 1598.2h0M890.3 1648.5h0M913.9 1666.1h0M892.3 1653.8h0M892 1672.1h0M916.5 1648.4h0M895.7 1680.7h0M914 1630.4h0M901 1606.9h0M884.1 1683.2h0M917.8 1616h0M915.7 1567.8h0M918.7 1625h0M930.6 1607.6h0M921.5 1646.1h0M900.4 1606.4h0M904.7 1684.9h0M898.3 1616.6h0M893 1666h0M920 1580.6h0M902.6 1642h0M920 1563.1h0M925.4 1666.4h0M918.7 1604.5h0M904.7 1617h0M923.6 1597.3h0M895.4 1663.4h0M918.7 1669.5h0M895.9 1632.6h0M901.1 1654.8h0M924.8 1572.8h0M900.2 1664.7h0M905.3 1645.2h0M913.6 1593.5h0M891.3 1676.4h0M913.3 1649.6h0M912.8 1612h0M898.9 1652.4h0M913.1 1611.7h0M917.4 1552.2h0M928.7 1611.6h0M923.7 1648.7h0M912.5 1589.8h0M932.3 1673.9h0M891.6 1656h0M927.3 1632.6h0M928.1 1646.3h0M901.3 1634.7h0M906.5 1662.5h0M919.2 1615.4h0M926 1662h0M908.4 1628.1h0M916.6 1580.8h0M901 1641.7h0M900.8 1612.1h0M922.9 1618.5h0M928.6 1639.8h0M932.5 1617h0M894.4 1650.8h0M930.3 1591.8h0M924.9 1656.2h0M899.5 1642.1h0M914.4 1639.9h0M929.4 1570.2h0M924.7 1662.7h0M906.7 1644.1h0M900 1618.8h0M931.5 1622h0M894.6 1628h0M911.9 1683.9h0M903.7 1637h0M896.5 1652.6h0M910.4 1663.9h0M900.6 1609.4h0M906.6 1675.4h0M917.7 1659.1h0M912.1 1582.9h0M955.4 1528.5h0M947.1 1513.7h0M921.1 1518.7h0M942.7 1512.1h0M928.7 1547.2h0M937.9 1515.2h0M933.9 1508.1h0M949.7 1516h0M948 1517h0M959.6 1564.1h0M952.5 1519.6h0M927.4 1545h0M952.6 1533.3h0M956.2 1537.6h0M917 1522.8h0M936.1 1524.2h0M940.5 1542.4h0M958.8 1551.6h0M918.2 1527.8h0M920.9 1548.4h0M961.1 1522.2h0M944.2 1533.1h0M920.5 1512.2h0M913.3 1508.9h0M936.2 1533.5h0M954.2 1544.4h0M943 1511.4h0M930.9 1557.9h0M917.8 1522.7h0M962.5 1562.7h0M937 1563.7h0M945.5 1523.6h0M936.8 1517.2h0M916.9 1565.5h0M960.3 1556.9h0M917.5 1540.2h0M955 1528.8h0M936.5 1529.2h0M961.1 1522.7h0M935.8 1526.2h0M944.3 1543.2h0M920.3 1549.4h0M924.4 1561.3h0M959.1 1536.7h0M927.1 1514.6h0M940.7 1527.6h0M937.1 1521.5h0M937.7 1565h0M922.6 1508.8h0M941.5 1534.5h0M918.5 1509.9h0M958.9 1512.4h0M928.9 1555.5h0M937.5 1519.8h0M929.1 1511.1h0M947.5 1514.7h0M953.6 1532.1h0M922.6 1513h0M914.2 1507.6h0M926.8 1506.8h0M924 1515.1h0M949.2 1562h0M963.6 1528.4h0M957.5 1562.1h0M936.5 1556.3h0M920.8 1548.9h0M962.4 1501.5h0M926.8 1554.9h0M963.8 1550.8h0M953.9 1537.9h0M958.5 1493.5h0M1006.1 1468.2h0M960.2 1487.5h0M934.9 1490.6h0M953.6 1423.2h0M1017.8 1492.2h0M940.6 1501.6h0M971 1452.6h0M978.3 1473.1h0M980.4 1436.3h0M1003.7 1500.6h0M952.5 1448.4h0M996.2 1414.8h0M1020.9 1503.2h0M933.5 1664.4h0M876.6 1682.2h0M915.5 1673.9h0M846 1667.5h0M873 1665.3h0M892.3 1676.7h0M848.6 1677.6h0M866.9 1680.9h0M968.9 1678.3h0M930.9 1678.7h0M882.5 1681.7h0M870.8 1670.7h0M843.1 1663.8h0M895.7 1669h0M856.1 1671.2h0M841.5 1667.5h0M876.2 1674.9h0M868 1671.9h0M861.9 1684.5h0M922.8 1677.6h0M886.2 1669.8h0M899.2 1671.1h0M927 1679h0M852.6 1667.6h0M890 1684.4h0M889.9 1681.7h0M882.8 1682.7h0M809.7 1676.5h0M901 1677.1h0M907.5 1679.8h0M917.7 1682.1h0M875.2 1674.6h0M907.6 1666.9h0M897.8 1664.3h0M826.5 1669.2h0M885.5 1683.9h0M881.5 1667.4h0M889.5 1668.9h0M919.7 1681.6h0M887.5 1680.6h0M820.2 1669.3h0M926.4 1679.4h0M856.1 1675h0M833.5 1682.2h0M885.9 1669h0M927.7 1682.2h0M770.4 1669.6h0M911.3 1673.1h0M901.5 1665.6h0M819.7 1665.3h0M909.4 1668.4h0M887.8 1671.9h0M826.8 1683.2h0M829.7 1663.7h0M877.1 1676.8h0M917.4 1669.2h0M967.4 1670.3h0M856.9 1667.2h0M894.1 1674.9h0M851.1 1683.8h0M865.5 1666.8h0M818.9 1669.6h0M849.7 1666.8h0M856.7 1676.5h0M844.5 1675.3h0M881.2 1678h0M873.6 1675.8h0M884.9 1664.1h0M917.3 1667.6h0M906.7 1669.2h0M887 1679.4h0M894.3 1683.9h0M899.7 1676.3h0M831 1667.6h0M892.6 1682h0M924.7 1682.8h0M813 1673.3h0M789 1670.8h0M875.4 1683.6h0M846.6 1665.5h0M839.8 1678.6h0M858.3 1680.8h0M937.7 1684.8h0M854.3 1672.6h0M850.7 1675.9h0M937.7 1673.7h0M869.6 1681.9h0M870.1 1669.1h0M845.7 1683.9h0M921 1663.8h0M874.2 1669.4h0M883 1669.6h0M845.5 1679.5h0M817.2 1664.8h0M863.8 1671.9h0M826 1673.6h0M863.1 1668h0M931.1 1682.9h0M862.3 1665h0M858.9 1674.8h0M849.5 1665.8h0M895.6 1672.6h0M805.3 1678.6h0M791.5 1665.8h0M916 1684.1h0M844.5 1673.7h0M913.7 1673.3h0M855 1678.2h0M887.8 1673.3h0M908.9 1670.2h0M931.3 1670.1h0M862.2 1674.5h0M885.5 1681h0M909.3 1682.2h0M821.4 1674.4h0M858.3 1666.8h0M909.4 1680h0M857.4 1666.5h0M823.8 1678.8h0M966.3 1673.8h0M874.6 1677.4h0M824.3 1683.5h0M930.4 1681h0M902.4 1677.6h0M865.8 1666h0M798.5 1668.5h0M921 1668.7h0M903.8 1671.5h0M878.6 1676.9h0M928.3 1668.3h0M854.2 1683.5h0M876.8 1678.4h0M862.6 1678.6h0M891.8 1685h0M857.7 1684.7h0M987.9 1682.1h0M901.8 1685h0M852.9 1672.2h0M940.5 1670h0M832.7 1665.9h0M832.8 1681.2h0M910.4 1669.2h0M845.6 1676.7h0M925.1 1678.7h0M837 1674.5h0M821.1 1673.2h0M884.6 1668.2h0M922.5 1674h0M936.9 1678h0M915.8 1677.9h0M944.3 1669.6h0M914 1673.8h0M922.2 1663.7h0M867.3 1678.3h0M853.9 1678.9h0M890.9 1684.6h0M897 1683.3h0M831.6 1669.1h0M882.5 1683.8h0M881.7 1674.7h0M904.3 1682.5h0M923.5 1666.5h0M858.4 1675.6h0M816.3 1674.9h0M897.7 1675.1h0M822.9 1681.9h0M882.5 1680.1h0M878.8 1674.6h0M859 1679.9h0M827.5 1667.6h0M909.7 1670.8h0M908.8 1683.2h0M854.4 1678h0M880.7 1667.2h0M905.9 1670.9h0M854.9 1681.8h0M877.5 1683.8h0M918.4 1666.5h0M927.4 1683.2h0M892.6 1668.5h0M919.6 1665.8h0M905.4 1679.6h0M921.1 1675h0M902.1 1671.8h0M867.1 1666.4h0M909 1675.3h0M877.3 1683.2h0M868.6 1670h0M903.5 1664.1h0M904.2 1681.1h0M865.2 1670.1h0M957.4 1673.8h0M902.2 1666.6h0M838.2 1665.2h0M913.7 1673.7h0M932.2 1671.8h0M939.9 1680.6h0M862.9 1673.9h0M891.5 1673.8h0M898.2 1673h0M856.4 1679.7h0M833.1 1667.3h0M866.9 1665.6h0M862.7 1667h0M881.6 1663.7h0M890.3 1672.8h0M869.2 1677.6h0M869.8 1666.1h0M902.7 1672.5h0M847.2 1664.9h0M999.3 1674.9h0M901.5 1675h0M893.4 1671.3h0M861.6 1667h0M856 1676.9h0M906.4 1677.6h0M914.5 1680.5h0M884 1681.7h0M817.9 1681.4h0M824 1680.1h0M946.5 1674.8h0M806.9 1674.8h0M940.9 1671.5h0M905.1 1681.9h0M860 1668.7h0M834.3 1681.7h0M852.4 1664.6h0M926.5 1679.8h0M960 1668.3h0M890.2 1673.6h0M875.8 1673h0M895.6 1664.3h0M890.5 1682.8h0M855.1 1677.3h0M879.3 1670.7h0M906.5 1672.6h0M907.6 1671h0M892.2 1677.7h0M916.6 1679.6h0M876.2 1678.9h0M863.2 1673.8h0M895.4 1679.3h0M908.6 1664.5h0M874.8 1679.5h0M840.5 1683.8h0M867.7 1679.8h0M884.7 1665.1h0M874.7 1679.7h0M884.6 1670.7h0M845.3 1684.6h0M870.7 1668.6h0M868.2 1680.2h0M843.5 1676h0M817.1 1672.6h0M913.5 1675.8h0M867.7 1676.2h0M882.3 1665.1h0M900.1 1670.5h0M923.7 1674.8h0M905 1665.4h0M812.2 1685h0M886.2 1673.6h0M898.3 1672.4h0M846.4 1667.7h0M859.3 1674.6h0M835.4 1670.3h0M866.9 1676.6h0M906.8 1667.3h0M886.4 1670h0M835.3 1673.9h0M888.4 1680.3h0M891.3 1677.5h0M819.4 1678.6h0M842.6 1667.3h0M875 1681.2h0M877.7 1666.6h0M884 1671.6h0M897.6 1672.8h0M871.7 1667.8h0M837.6 1665.3h0M880.4 1683.9h0M880.9 1668.8h0M796.2 1681.8h0M868.2 1680.6h0M848 1665.4h0M879.8 1682.7h0M905.1 1676.3h0M825.4 1684.3h0M845.6 1678.1h0M885.9 1670.6h0M842.3 1666.4h0M875.5 1679.3h0M896.9 1678.6h0M883.9 1667h0M920.5 1670.7h0M926 1669.5h0M938.5 1663.6h0M886 1676.7h0M897.7 1677.7h0M888 1670h0M757.5 1679.9h0M893.5 1683.2h0M842.9 1669.8h0M908 1667.9h0M920.8 1665.3h0M877.9 1672.3h0M888.4 1675.3h0M880.9 1676.3h0M834.8 1674.7h0M852.9 1678.3h0M916 1663.6h0M849.6 1675.8h0M930.5 1681.2h0M936 1673.3h0M853.6 1673.1h0M887.3 1673.3h0M875 1674.1h0M866.4 1676.5h0M848.6 1668.2h0M836.7 1675.8h0M981.7 1663.5h0M958.1 1626.6h0M975.2 1591.3h0M962.4 1655.3h0M982.1 1604.7h0M995.3 1597.9h0M987.8 1594.5h0M950 1598.2h0M935.7 1587.5h0M950.5 1643.6h0M943.1 1599.3h0M929.1 1636.8h0M951.9 1622h0M956 1592.6h0M930.6 1595.8h0M934 1611.9h0M947.3 1611.1h0M994.9 1612.2h0M928.8 1601.3h0M965.2 1663.7h0M958.3 1671.6h0M962 1623.1h0M970.8 1601.2h0M954.6 1624.2h0M981.1 1631h0M953.1 1646.7h0M969 1604.8h0M967.6 1667.6h0M961.1 1634.9h0M996 1598.8h0M952.5 1595.1h0M959.5 1634.2h0M936.1 1605.6h0M943.5 1592.2h0M959.2 1620.2h0M945.6 1603.2h0M954.4 1633.9h0M931.5 1626.2h0M961.4 1640.4h0M963.1 1641.9h0M768 1665h0M795.4 1643.6h0M801.6 1670.9h0M776.8 1631.8h0M802.5 1634.5h0M772.1 1655.6h0M808.8 1630.1h0M812.6 1639.8h0M809.1 1645.2h0M782 1640.8h0M806.2 1664.7h0M812.5 1641.2h0" stroke="#C9CCC9" stroke-width="5" stroke-linecap="round" fill="none" />
<path d="M958.3 1415.9h0M1024.7 1405.5h0M996.3 1448.7h0M1013.4 1447.8h0M985.4 1457.5h0M1024.7 1462.8h0M1023.6 1494.5h0M928.3 1503.1h0M940.3 1502.2h0M958.3 1516h0M931 1522.3h0M941.7 1519.5h0M947.7 1521.8h0M993.5 1520.2h0M932.2 1539.6h0M950.7 1541.3h0M960.7 1537.3h0M924.1 1550.1h0M935.7 1552.4h0M941.7 1562.8h0M926.4 1588.2h0M941.5 1588.9h0M960.4 1586.6h0M928.7 1595.9h0M919.5 1601h0M925.3 1603.3h0M941.5 1601.4h0M907.9 1619.5h0M916 1616.5h0M939.1 1628.7h0M890.6 1644.2h0M859.3 1648.4h0M865.1 1662.3h0M864.2 1672.7h0M872 1678.5h0M875.5 1681.9h0M879 1684.3h0M883.6 1680.8h0M887.1 1677.3h0M890.6 1673.8h0M894 1670.4h0M889.4 1666.9h0M895.2 1660h0M899.8 1656.5h0M897.5 1650.7h0M903.3 1648.4h0M905.6 1643.8h0M909.1 1639.1h0M868.6 1676.2h0M881.3 1685.4h0" stroke="#DF4546" stroke-width="5.4" stroke-linecap="round" fill="none" />
<line x1="833.9" y1="1390.4" x2="833.9" y2="1705.1" stroke="#000" stroke-width="2.6" stroke-dasharray="18 8"/>
<line x1="924.1" y1="1390.4" x2="924.1" y2="1705.1" stroke="#000" stroke-width="2.6" stroke-dasharray="18 8"/>
<line x1="730.6" y1="1634.2" x2="1075.6" y2="1634.2" stroke="#000" stroke-width="2.6" stroke-dasharray="18 8"/>
<path d="M728.6 1383V1705.1H1074.5" fill="none" stroke="#000" stroke-width="3" />
<line x1="723.6" y1="1391.9" x2="728.6" y2="1391.9" stroke="#000" stroke-width="2.6" />
<text x="719.1" y="1396.5" font-size="13" text-anchor="end" textLength="20.8" lengthAdjust="spacingAndGlyphs">7.5</text>
<line x1="723.6" y1="1489.6" x2="728.6" y2="1489.6" stroke="#000" stroke-width="2.6" />
<text x="719.1" y="1494.2" font-size="13" text-anchor="end" textLength="20.8" lengthAdjust="spacingAndGlyphs">5.0</text>
<line x1="723.6" y1="1587.3" x2="728.6" y2="1587.3" stroke="#000" stroke-width="2.6" />
<text x="719.1" y="1591.9" font-size="13" text-anchor="end" textLength="20.8" lengthAdjust="spacingAndGlyphs">2.5</text>
<line x1="723.6" y1="1685" x2="728.6" y2="1685" stroke="#000" stroke-width="2.6" />
<text x="719.1" y="1689.6" font-size="13" text-anchor="end" textLength="20.8" lengthAdjust="spacingAndGlyphs">0.0</text>
<line x1="788.8" y1="1705.1" x2="788.8" y2="1710.6" stroke="#000" stroke-width="2.6" />
<text x="787.3" y="1724.1" font-size="13" text-anchor="middle">-1</text>
<line x1="879" y1="1705.1" x2="879" y2="1710.6" stroke="#000" stroke-width="2.6" />
<text x="879" y="1724.1" font-size="13" text-anchor="middle">0</text>
<line x1="969.2" y1="1705.1" x2="969.2" y2="1710.6" stroke="#000" stroke-width="2.6" />
<text x="969.2" y="1724.1" font-size="13" text-anchor="middle">1</text>
<line x1="1059.4" y1="1705.1" x2="1059.4" y2="1710.6" stroke="#000" stroke-width="2.6" />
<text x="1059.4" y="1724.1" font-size="13" text-anchor="middle">2</text>
<text x="740.6" y="1407.8" font-size="15.2" fill="#CC2F33">Travaglini lung B cell</text>
<text x="740.6" y="1428.6" font-size="15.2" fill="#CC2F33">GSEA adj p = 4.36-e4</text>
<text x="740.6" y="1447.6" font-size="15.2" fill="#CC2F33">ES = 0.76</text>
<text x="1008.5" y="1407.8" font-size="18" font-style="italic" fill="#276B30">CD19</text>
<text x="995.1" y="1442.9" font-size="18" font-style="italic" fill="#276B30">FCRL2</text>
<text x="957.6" y="1461" font-size="18" font-style="italic" fill="#276B30">CD79B</text>
<text x="1010.4" y="1478.3" font-size="18" font-style="italic" fill="#276B30">FCRL1</text>
<text x="1005.1" y="1498" font-size="18" font-style="italic" fill="#276B30">MS4A1</text>
<text x="946.5" y="1537.3" font-size="18" font-style="italic" fill="#276B30">CD22</text>
<text x="926.4" y="1558.2" font-size="18" font-style="italic" fill="#276B30">CD180</text>
<text x="920.6" y="1576.7" font-size="18" font-style="italic" fill="#276B30">CD37</text>
<text x="904.9" y="1631" font-size="18" font-style="italic" fill="#276B30">CD72</text>
<text x="900.3" y="1648.9" font-size="18" font-style="italic" fill="#276B30">CD52</text>
<text x="884.8" y="1668" font-size="18" font-style="italic" fill="#276B30">CD200</text>
<path d="M1261.8 1669.2h0M1190.3 1685.7h0M1200.2 1685h0M1222.3 1635.3h0M1235.8 1629.4h0M1214 1659.4h0M1203.5 1632.3h0M1235.7 1647.3h0M1207.4 1638.1h0M1188.6 1682.7h0M1256.3 1627.2h0M1273.8 1685.9h0M1194.1 1670.1h0M1224.4 1626.5h0M1204.7 1666.9h0M1231.5 1646.4h0M1191.2 1638.2h0M1222.2 1675h0M1187.2 1639.5h0M1221.1 1658.7h0M1256.8 1655.3h0M1261.8 1677.4h0M1212.5 1657.7h0M1248.6 1641.9h0M1206.6 1671.9h0M1184.3 1656.2h0M1221.4 1626.1h0M1247 1683.1h0M1225.2 1673h0M1264.9 1652.6h0M1211.6 1648.4h0M1186.5 1641.7h0M1263 1638.6h0M1221.3 1679.6h0M1248.3 1672.7h0M1272.1 1669.2h0M1195.1 1675.2h0M1182.4 1685.7h0M1268 1678.5h0M1273.6 1635.1h0M1266 1628.4h0M1213.3 1671.7h0M1277.9 1671.9h0M1212.8 1656.3h0M1231.7 1664.2h0M1264.7 1670.8h0M1197.1 1650.2h0M1208.8 1682.7h0M1207.4 1685.5h0M1258.5 1638.2h0M1213.5 1625.8h0M1237.2 1632.7h0M1277.3 1662.9h0M1189 1683.7h0M1216.7 1628.2h0M1245.7 1673.4h0M1252.9 1671.3h0M1270.8 1677.7h0M1206.4 1655.8h0M1279.7 1648.8h0M1280.1 1669h0M1193.4 1680.4h0M1241.7 1645.5h0M1251.2 1635.4h0M1184.4 1674.5h0M1270.6 1681.6h0M1191 1674.7h0M1263.9 1616.8h0M1203.8 1663.5h0M1211.2 1649.7h0M1204.8 1620.3h0M1239.9 1674.4h0M1186.4 1675.5h0M1213.5 1683.5h0M1224.9 1674.5h0M1237.8 1650.4h0M1199.1 1679.8h0M1211 1639.7h0M1209.7 1673.1h0M1278 1641.5h0M1190.4 1640.8h0M1276.3 1636h0M1206.3 1670.9h0M1263.2 1662.2h0M1210.8 1679.8h0M1190.1 1644h0M1257.7 1675.8h0M1256.5 1633.1h0M1205.1 1678.6h0M1223.2 1638.6h0M1221.4 1630.5h0M1244.7 1681h0M1210.3 1638.3h0M1263.2 1675.8h0M1255 1655.1h0M1275.7 1678h0M1250 1635.8h0M1221.2 1647.6h0M1200.6 1663.2h0M1263.8 1640.3h0M1261.9 1629.7h0M1238.4 1683.9h0M1223.7 1680.1h0M1201.5 1619.8h0M1223.3 1624h0M1200.1 1627.1h0M1221.9 1629.6h0M1216 1661h0M1235.6 1669.7h0M1279.6 1670.5h0M1231.8 1685.3h0M1194.4 1616.8h0M1199.3 1643.6h0M1263.8 1658.1h0M1196.1 1643.2h0M1231.2 1680h0M1204.8 1645.7h0M1230.5 1667.8h0M1231.3 1684.9h0M1222.7 1616.8h0M1213.5 1665.4h0M1255.8 1647.9h0M1253.5 1668.4h0M1264.5 1671h0M1223.5 1674.6h0M1193 1665.8h0M1239.2 1645.9h0M1208 1683.8h0M1184.8 1661.3h0M1244.5 1676.1h0M1183.6 1648.3h0M1225.9 1655.5h0M1210.2 1670.9h0M1225.8 1661.3h0M1186.5 1683h0M1237.4 1658.6h0M1226.6 1634.8h0M1241.7 1674.9h0M1266.1 1660.7h0M1275.5 1684.4h0M1253 1674.8h0M1274.9 1644.3h0M1225.1 1634.1h0M1273.5 1678h0M1241.6 1614.5h0M1200.2 1647.4h0M1182.4 1633.7h0M1208.8 1637.1h0M1187.6 1650.7h0M1278.6 1667.8h0M1240 1649.1h0M1252.3 1631.7h0M1212.6 1635h0M1194.1 1656.5h0M1197.1 1663.8h0M1258.5 1681.8h0M1226.2 1675h0M1261.5 1631.6h0M1189.2 1686.1h0M1264.2 1674.8h0M1231.5 1637.2h0M1248.4 1663.7h0M1245.2 1634.6h0M1245.7 1665.5h0M1192.5 1641.1h0M1235.9 1662.5h0M1231.9 1657.3h0M1218.9 1650.9h0M1193.3 1656.8h0M1270 1631.9h0M1200.1 1651.5h0M1227 1670h0M1255.3 1669.7h0M1218.1 1682.9h0M1269.6 1647.1h0M1241.6 1657.5h0M1228.6 1625.8h0M1216.7 1647.3h0M1214.1 1628.1h0M1248.2 1674.8h0M1272.7 1680.7h0M1277.2 1659.7h0M1184.4 1666h0M1184.6 1640.3h0M1218.1 1660h0M1254.5 1671.9h0M1198.9 1672.6h0M1261.8 1660.5h0M1211.2 1679.1h0M1192.3 1666.4h0M1190.1 1658.1h0M1194.6 1683.5h0M1278.4 1684.5h0M1215.1 1667.2h0M1184.9 1624.8h0M1212.2 1626.7h0M1197.2 1663.4h0M1265.7 1659.8h0M1234.4 1633.8h0M1230.4 1682.4h0M1223.1 1670.5h0M1200.3 1650.7h0M1181.3 1674.2h0M1251.8 1639.9h0M1195.7 1663.8h0M1270.7 1673.1h0M1235.7 1679.2h0M1256.1 1649.9h0M1202.1 1673.7h0M1271.3 1624.5h0M1213.3 1678.4h0M1187 1650.8h0M1200.4 1656.1h0M1196.5 1617.5h0M1185.9 1613.6h0M1224.4 1683.7h0M1202.5 1670.7h0M1239 1637h0M1188 1626.9h0M1196.8 1621.2h0M1243.7 1640.3h0M1220.1 1648.3h0M1214 1618.2h0M1273.7 1664.5h0M1279.3 1676.7h0M1265.4 1683.6h0M1269.5 1675.2h0M1192 1671.6h0M1268.6 1672.1h0M1205.8 1625.9h0M1233.7 1629.2h0M1183.3 1650.1h0M1201.7 1667.4h0M1233.7 1683.1h0M1233.3 1665.5h0M1221.7 1642h0M1224.9 1676.5h0M1244.9 1648.6h0M1212.2 1646.6h0M1251.3 1632.5h0M1202.2 1634h0M1272.9 1628.6h0M1212.4 1677.8h0M1282 1661.4h0M1203.3 1681.4h0M1255.8 1640.6h0M1252 1676.5h0M1212.5 1684.8h0M1262.4 1668.3h0M1211.8 1678.4h0M1210.4 1682.2h0M1213.1 1679.2h0M1215.8 1632h0M1185.7 1672.9h0M1267.6 1683.3h0M1245.9 1628.7h0M1240.5 1653.4h0M1248.4 1650.9h0M1200.1 1641.4h0M1259.2 1656.8h0M1189.5 1674h0M1181.9 1679.8h0M1232.6 1648.1h0M1233.4 1675.4h0M1207.5 1657.3h0M1211.4 1677h0M1275.6 1632.3h0M1235.3 1665.2h0M1196.7 1647.3h0M1249.3 1634.1h0M1204.9 1668.5h0M1251.4 1637h0M1206.4 1655.3h0M1227.7 1675.1h0M1221.2 1653.3h0M1267.9 1666.3h0M1215.6 1663.7h0M1256.8 1669.6h0M1203.4 1637.8h0M1265.8 1665.9h0M1195.7 1649.2h0M1233.1 1672.9h0M1235.4 1678.5h0M1202.7 1677.3h0M1226.5 1642.5h0M1242.5 1659.1h0M1201.6 1614.2h0M1189.9 1644.7h0M1197.8 1679.8h0M1200.8 1667.1h0M1256.1 1636.5h0M1204.7 1645.6h0M1265.7 1685.4h0M1216.6 1682h0M1221.8 1671.7h0M1189.6 1686.2h0M1186 1660.3h0M1208.7 1668.5h0M1220.4 1677.7h0M1209.3 1671.7h0M1233.3 1625.4h0M1234.6 1631.9h0M1279.9 1664.3h0M1253 1671.4h0M1257.7 1682.3h0M1196.1 1661.6h0M1200.5 1635.7h0M1190.8 1673.4h0M1213.5 1679.5h0M1252.5 1675.8h0M1232.2 1670.8h0M1253 1634.7h0M1184.8 1644.6h0M1205.5 1684.8h0M1194.9 1643h0M1275 1664.5h0M1195.7 1672.1h0M1235.3 1671.3h0M1189.2 1623h0M1206.9 1628h0M1233.1 1643.6h0M1194.5 1675.7h0M1271.7 1663.4h0M1268.3 1644.8h0M1181.2 1683.9h0M1260.5 1668.6h0M1197.3 1677.1h0M1192.7 1654.7h0M1254.8 1677.4h0M1247.9 1680.4h0M1195.8 1620.9h0M1221.6 1683.3h0M1220.9 1628.9h0M1223.3 1639.1h0M1198.3 1669.2h0M1215.9 1641.5h0M1239.2 1671.1h0M1263.7 1654.9h0M1226 1632.9h0M1272.4 1651.9h0M1216 1669.9h0M1207.6 1646.9h0M1258.6 1675.9h0M1267.5 1659.4h0M1248.4 1666.8h0M1239.9 1662.2h0M1217.3 1647h0M1186.1 1630.6h0M1255.7 1649.3h0M1199.1 1655.1h0M1231 1664.7h0M1244.8 1650.4h0M1270.4 1686.5h0M1246.2 1644.3h0M1213.6 1632.8h0M1190.3 1673.5h0M1199.6 1636.8h0M1256.1 1665.6h0M1241.3 1621.5h0M1222.1 1656.6h0M1194.6 1646.3h0M1279.7 1676.2h0M1257 1626.7h0M1195.8 1686.2h0M1233.1 1615.6h0M1259.4 1653.3h0M1269.1 1676h0M1191.4 1643.7h0M1250.4 1665.4h0M1219.4 1678.1h0M1192.8 1683.8h0M1217.7 1653.6h0M1243 1619.5h0M1189.6 1644.5h0M1225.3 1636.1h0M1258.4 1681h0M1271.8 1644.8h0M1204.9 1655.7h0M1202 1662.8h0M1217.2 1649.1h0M1219.9 1638.3h0M1206.2 1673.5h0M1199.8 1620.7h0M1242.1 1621h0M1270.2 1680.8h0M1189.5 1629.9h0M1218.4 1651.2h0M1203.6 1679.3h0M1188.8 1643.6h0M1236.7 1669.6h0M1236.4 1623.7h0M1194 1601.2h0M1217.6 1648.7h0M1258 1683.1h0M1232 1677.3h0M1201.9 1648.9h0M1244.7 1679.3h0M1218 1680h0M1218.5 1656.1h0M1212 1634.9h0M1231.4 1657.1h0M1224 1655h0M1276.9 1672.5h0M1235.3 1670.5h0M1208.5 1630.1h0M1225.8 1631.7h0M1274.8 1664.4h0M1209 1677.6h0M1274.5 1647h0M1238.9 1631.5h0M1245.9 1649.6h0M1231.2 1632.4h0M1219.5 1655.2h0M1232 1676.1h0M1195.4 1616.5h0M1184.1 1649.6h0M1183.6 1651.4h0M1203.8 1675.3h0M1185.2 1631.8h0M1202.2 1649.7h0M1257.4 1649.2h0M1239.1 1681.1h0M1181.9 1606.5h0M1220.6 1674h0M1248.5 1681.8h0M1222.8 1664.8h0M1271.3 1680.3h0M1228.2 1673.8h0M1230.7 1637.2h0M1267.5 1679.7h0M1203.4 1667h0M1189.5 1657.6h0M1183.6 1669.6h0M1261.8 1645.9h0M1270.6 1662.7h0M1220.6 1638.6h0M1251.4 1621.4h0M1200 1656.8h0M1265.8 1632.3h0M1183.3 1670.9h0M1264.8 1630.3h0M1205.5 1659.3h0M1248.9 1647.8h0M1215.6 1640.2h0M1261 1683.6h0M1200.2 1638h0M1263.5 1626.4h0M1247.2 1623.8h0M1269.1 1663.1h0M1228.3 1653.1h0M1260.7 1622.2h0M1213 1683.5h0M1187.5 1634.7h0M1206.2 1666.8h0M1212.5 1637.8h0M1231.8 1645.9h0M1270.7 1653.2h0M1244.8 1673.1h0M1181.1 1668.1h0M1239 1611.5h0M1271.1 1647.2h0M1256 1667.4h0M1204.5 1654.2h0M1190.7 1648.6h0M1181.7 1643.1h0M1182.1 1650.2h0M1256.6 1652.6h0M1215.6 1669.4h0M1211.8 1621.7h0M1250.3 1651h0M1194.8 1678.7h0M1247.9 1647.9h0M1228 1677.8h0M1262.8 1680h0M1195.8 1618.7h0M1203.6 1668.6h0M1182 1664.3h0M1250.4 1675.2h0M1194.1 1678.9h0M1273.2 1647.6h0M1209.9 1678.1h0M1221.8 1660.4h0M1280.6 1657.5h0M1243.5 1653.9h0M1248.1 1652.4h0M1263.7 1680.3h0M1232.2 1679.8h0M1208.8 1625h0M1265.4 1635.9h0M1252 1678h0M1252.7 1664.7h0M1261.9 1638.4h0M1191.5 1644.4h0M1218.9 1662.7h0M1186 1635.4h0M1207.4 1659.9h0M1222.6 1644.2h0M1219.7 1669.3h0M1240.6 1661.4h0M1193.3 1668.7h0M1261.6 1675.4h0M1281.4 1675.1h0M1184.3 1642.2h0M1252.1 1677.2h0M1259.1 1685.6h0M1269.6 1656.6h0M1250.6 1647.8h0M1270.5 1681h0M1229.1 1684.2h0M1247.9 1642.1h0M1273.7 1685.6h0M1251.3 1621.9h0M1249.9 1685.4h0M1275.6 1662.9h0M1183.1 1680.1h0M1203 1623.7h0M1249.3 1642.3h0M1190 1654.7h0M1261.6 1680.9h0M1248.1 1667.4h0M1203.7 1634.9h0M1221 1666.1h0M1272.5 1633.6h0M1186.8 1631.4h0M1220.4 1646.5h0M1252.1 1663.8h0M1192.2 1659.2h0M1269.3 1669h0M1276.8 1652.7h0M1206.8 1678.4h0M1191.2 1659.1h0M1223.3 1650.3h0M1211.7 1662.3h0M1216.9 1679.8h0M1211.5 1659h0M1208.6 1645.1h0M1219.8 1608.8h0M1188.7 1624.8h0M1212.2 1668h0M1259.7 1683.8h0M1220.3 1633.4h0M1196.5 1671.2h0M1184.6 1678.2h0M1248.9 1638.1h0M1245.9 1658.3h0M1216.4 1632.1h0M1202.5 1645.7h0M1186.7 1638.2h0M1201.9 1674.3h0M1190.1 1646.9h0M1183.5 1662.2h0M1197.5 1636.3h0M1189.3 1658.9h0M1213.9 1680h0M1242.8 1643h0M1240.5 1639.2h0M1215.5 1682.6h0M1216.7 1630.9h0M1255.1 1647.9h0M1208.6 1648.9h0M1236.3 1644.4h0M1268.6 1635.2h0M1225.4 1681.5h0M1203.1 1644.4h0M1258.1 1633.3h0M1204.5 1631h0M1211.7 1656.3h0M1190.5 1634.4h0M1258.6 1639.9h0M1211 1648h0M1265.7 1638.4h0M1261.7 1648.7h0M1245.7 1634.1h0M1245.9 1629.7h0M1181.9 1631.2h0M1238.7 1678.5h0M1203.3 1672h0M1256.1 1674h0M1260.3 1645.2h0M1249.3 1674.2h0M1220.8 1635.5h0M1257.6 1607.9h0M1194.5 1682.7h0M1280.1 1651.8h0M1246.8 1680.6h0M1255 1619.8h0M1204 1686.4h0M1259.5 1681.6h0M1255.4 1670.3h0M1207.8 1657.4h0M1251.2 1674.6h0M1271.6 1679.3h0M1230.9 1634h0M1249.1 1629h0M1189.6 1649h0M1212.1 1635.8h0M1228.3 1684.6h0M1193.7 1684.1h0M1197.4 1634.5h0M1245 1637.8h0M1254.8 1625.9h0M1207.6 1634.3h0M1231.6 1669h0M1251 1680.8h0M1272 1654.8h0M1265.4 1678.1h0M1186 1631.7h0M1196.1 1679.4h0M1233.7 1632.4h0M1208.6 1634.2h0M1236.9 1673.3h0M1243.2 1644.6h0M1197.4 1664.4h0M1213.6 1652.5h0M1206.4 1655.4h0M1229.3 1648.5h0M1207.3 1643.3h0M1211.8 1626.6h0M1195.9 1654h0M1198.6 1671.4h0M1232.4 1636.7h0M1237.6 1636.7h0M1251.9 1611.7h0M1256.5 1679.5h0M1225.1 1649.5h0M1216.3 1647.8h0M1263.6 1639.9h0M1211.3 1663.4h0M1194.9 1677h0M1231.7 1622.3h0M1282.5 1676.1h0M1218 1637.4h0M1262.4 1638.5h0M1251.5 1654.4h0M1277.8 1676.8h0M1180.7 1681.5h0M1187.1 1670.8h0M1206.9 1685.8h0M1191.3 1685h0M1182.7 1686.1h0M1281.6 1665.8h0M1280.2 1655.2h0M1241.3 1674.5h0M1256.7 1684.2h0M1246.8 1621.6h0M1228.1 1630.9h0M1190.1 1643.5h0M1234.7 1685.3h0M1187.5 1660.9h0M1200.5 1656.3h0M1189.7 1676.2h0M1251.2 1670.1h0M1231.9 1614.5h0M1184.3 1678.9h0M1219.6 1682.1h0M1204.5 1618h0M1268.2 1652.4h0M1241.3 1642.3h0M1258.5 1652.5h0M1183.4 1663h0M1222.4 1652.7h0M1281.7 1670.3h0M1215.7 1668.2h0M1273.4 1660.2h0M1204.5 1674.8h0M1208.9 1648.9h0M1209.7 1673.1h0M1230.6 1659.9h0M1187.1 1621.8h0M1224.2 1676.1h0M1234.5 1630.6h0M1198.3 1673.4h0M1185 1620h0M1188.6 1665h0M1219.5 1633.4h0M1279.4 1652.4h0M1219.7 1655.8h0M1180.8 1650.2h0M1225.2 1656.3h0M1189.8 1673.7h0M1216.7 1656.9h0M1247.2 1634.1h0M1213.2 1665.4h0M1193.1 1654.2h0M1250 1679h0M1257.2 1656.4h0M1211.6 1669.9h0M1230.6 1621.9h0M1190.9 1653.3h0M1243.6 1640.5h0M1278.1 1654.2h0M1230.4 1671.8h0M1256.7 1658.7h0M1240.7 1642.3h0M1259.4 1644.8h0M1231.3 1685.2h0M1181.1 1674h0M1273.9 1643.7h0M1264.4 1656.7h0M1205.7 1638.9h0M1215.5 1674.1h0M1264.5 1632.1h0M1267 1683.6h0M1266.8 1629.3h0M1199.6 1683.4h0M1196 1627.8h0M1215 1660.2h0M1237.8 1633.4h0M1193.6 1656.4h0M1233.1 1640h0M1245.2 1641.7h0M1195.7 1679.1h0M1210.3 1649.7h0M1258.5 1655.9h0M1261 1668.2h0M1264.5 1651.9h0M1208 1634.2h0M1241.4 1654.1h0M1210.6 1665.9h0M1201.5 1674.5h0M1199.1 1681.2h0M1199.3 1661.3h0M1251.8 1638.8h0M1273 1646.3h0M1274.5 1680.9h0M1209.7 1668.4h0M1197.3 1608.3h0M1242.3 1657.2h0M1231.3 1670.7h0M1244.8 1638.9h0M1225 1686.1h0M1211.7 1643.6h0M1196.5 1677.9h0M1195.9 1684.7h0M1232.3 1676.4h0M1216.1 1678.8h0M1254.6 1654.4h0M1267.3 1640.1h0M1186.2 1664.4h0M1253.1 1635.5h0M1279.5 1669.7h0M1256.4 1640.2h0M1267.5 1658.7h0M1217.5 1666h0M1231.7 1668.3h0M1220.6 1642h0M1243.2 1673.9h0M1211.4 1676.1h0M1203.8 1663.5h0M1209.1 1638h0M1199.7 1642.4h0M1211.5 1667.6h0M1205.3 1686.4h0M1240.2 1662.3h0M1222.5 1640.5h0M1190.7 1647.5h0M1246.4 1631h0M1199.4 1653.6h0M1189.5 1658.2h0M1243 1673.5h0M1269.5 1635.6h0M1240.4 1670.7h0M1208.5 1639.9h0M1182.3 1643.8h0M1191.5 1655.7h0M1187.7 1643.8h0M1260.6 1683h0M1274.6 1666.1h0M1204.8 1631.8h0M1191 1626.2h0M1252.6 1652.6h0M1241 1635.2h0M1215 1678.5h0M1189.7 1634h0M1239.2 1649.5h0M1246.2 1637.5h0M1247.1 1667.3h0M1207.6 1664.7h0M1262.4 1645.4h0M1244.8 1658.6h0M1187.9 1636.4h0M1224.2 1683.3h0M1204.7 1676.8h0M1273.7 1647.2h0M1227.9 1631.9h0M1196.4 1674.9h0M1234.3 1636.4h0M1253.9 1629.9h0M1251.8 1682.5h0M1200.3 1657.7h0M1207 1633.5h0M1232.7 1681.3h0M1275 1659.7h0M1210.5 1672h0M1239.4 1684.5h0M1277.4 1661.3h0M1206.2 1646.8h0M1186.3 1666.9h0M1264.5 1632.3h0M1223.7 1655.9h0M1256.1 1662.5h0M1183.8 1619.1h0M1220.6 1650.7h0M1264.3 1676.1h0M1205.8 1651.8h0M1280.4 1664h0M1280.1 1676h0M1265 1679.2h0M1184.6 1642h0M1231.6 1631.2h0M1207.4 1676.6h0M1206.7 1611.7h0M1215.9 1680.8h0M1192.3 1654.3h0M1265.1 1638.5h0M1215 1638h0M1182.1 1639.1h0M1203.2 1648.3h0M1242.6 1686.2h0M1267.5 1672.3h0M1244.5 1681.4h0M1187.7 1639.9h0M1200.7 1647.3h0M1209.9 1682.6h0M1224.9 1636.3h0M1249.5 1627.2h0M1206.5 1657h0M1225.9 1646.8h0M1208.7 1635.1h0M1236.9 1667.4h0M1261.4 1682h0M1255.6 1638.9h0M1189.4 1675.2h0M1280.2 1669.6h0M1271.3 1649.3h0M1229.5 1659h0M1206.7 1672.8h0M1200.5 1649.3h0M1211.4 1641.4h0M1224 1644.3h0M1256.7 1679.5h0M1183.6 1682.7h0M1266.2 1686.2h0M1254.1 1645.9h0M1212.4 1660.5h0M1232.7 1658h0M1231.1 1674.4h0M1272.8 1631.5h0M1187.4 1662.5h0M1251.4 1649.1h0M1219.7 1631.5h0M1247.2 1670.1h0M1208.1 1680.3h0M1192.4 1668.9h0M1188.9 1630.1h0M1195.3 1672.7h0M1187 1629.5h0M1212.8 1620.4h0M1228.5 1667.7h0M1203.3 1630.9h0M1210.5 1676.3h0M1277.6 1665.9h0M1226 1669.6h0M1206.8 1614.3h0M1181.3 1634.2h0M1225.7 1671.6h0M1213.5 1668.8h0M1221.7 1627h0M1197.7 1645.5h0M1227.4 1651.6h0M1273.2 1633.2h0M1268.3 1627.7h0M1239.1 1653.5h0M1229 1680.8h0M1184.3 1619.6h0M1205.5 1649.9h0M1213.6 1660h0M1189.7 1680h0M1194.4 1632.2h0M1217.5 1646.1h0M1245.8 1668.3h0M1252.9 1673.3h0M1280.7 1662.1h0M1266.9 1629.6h0M1279.1 1676.3h0M1253.9 1651.8h0M1238.1 1641.6h0M1246.2 1627.8h0M1206 1638.8h0M1208.6 1679.4h0M1219.2 1624.7h0M1232.7 1666.5h0M1182.9 1684.8h0M1258.5 1658.9h0M1192.2 1652h0M1186.8 1668.5h0M1225 1633.1h0M1190.5 1630.9h0M1183.3 1644.1h0M1209.2 1634.3h0M1198.6 1646.1h0M1267.8 1626.6h0M1239.9 1673.6h0M1213.5 1667.8h0M1265.4 1668.1h0M1181.6 1633.8h0M1211.6 1677.6h0M1188.6 1645.7h0M1264.9 1640.7h0M1215.6 1674.6h0M1263.2 1621.9h0M1239.8 1627.3h0M1275.7 1645.7h0M1195.8 1654.8h0M1220 1665.2h0M1199 1638.5h0M1243.8 1659.7h0M1217 1679.1h0M1259.2 1684.9h0M1194.6 1647h0M1204 1678.2h0M1261.5 1640.3h0M1185.8 1659.3h0M1262.5 1668.5h0M1240.6 1646h0M1259.2 1629.8h0M1206.7 1637.7h0M1276 1678.9h0M1248.1 1664h0M1190.9 1656.5h0M1270.6 1619.8h0M1240.5 1645.5h0M1227.3 1677.6h0M1207 1673.3h0M1194.9 1659.8h0M1235.4 1627.6h0M1214.9 1642.3h0M1192.5 1650.4h0M1269.2 1624.7h0M1248.6 1679h0M1211.3 1684.4h0M1271.1 1625.5h0M1224.4 1647.7h0M1183.7 1685.1h0M1205.3 1668.8h0M1214.3 1633.7h0M1208.4 1653.3h0M1258.9 1664.4h0M1233.2 1635h0M1275.2 1667.5h0M1235.7 1637.5h0M1181.9 1675.5h0M1200.3 1633.9h0M1252 1623.9h0M1215.5 1638.2h0M1253.2 1626.5h0M1226.6 1681.7h0M1231.6 1675.1h0M1231 1671.3h0M1194.3 1640.4h0M1265.2 1624h0M1280.9 1684.4h0M1273.8 1632h0M1233.1 1641.5h0M1244 1673.5h0M1230.2 1627.8h0M1279.5 1671.3h0M1267.1 1680h0M1229.1 1649.2h0M1239 1632.7h0M1220.2 1623.1h0M1228.6 1675.4h0M1243.5 1640.9h0M1217.5 1632.9h0M1203.2 1659.6h0M1217.8 1656.6h0M1243.3 1657.3h0M1265.8 1674.3h0M1241.4 1659.9h0M1250.1 1664.9h0M1261.1 1658.1h0M1263.5 1635.8h0M1227.9 1661h0M1195.2 1686.4h0M1221 1607.5h0M1225.9 1657.5h0M1200.7 1632.2h0M1251.8 1668.4h0M1241 1640h0M1279.9 1661.1h0M1266.4 1679.1h0M1237.1 1662.7h0M1196.1 1675.9h0M1216.5 1681.3h0M1182.1 1679.6h0M1181.6 1680.6h0M1266.1 1638.9h0M1245.7 1677.4h0M1205.7 1675.1h0M1268.1 1647.9h0M1200 1663.5h0M1182.3 1633.3h0M1192.1 1678.5h0M1217.3 1679h0M1193.6 1630.2h0M1229.9 1671.2h0M1207.9 1657.2h0M1245.2 1666.6h0M1233 1681.6h0M1242.8 1670.4h0M1227.2 1628.1h0M1222.9 1680.5h0M1281 1677.3h0M1238.5 1632.4h0M1255.4 1679.3h0M1266.4 1644.3h0M1273.2 1682.2h0M1229.4 1626.1h0M1231.2 1671h0M1253.8 1635.6h0M1265.3 1660.5h0M1226.3 1661.3h0M1226.9 1655.9h0M1233.7 1666.1h0M1235.8 1648.4h0M1254 1636.4h0M1191.2 1677.7h0M1277.3 1659.8h0M1245.6 1648.3h0M1209.2 1653.7h0M1218.4 1630h0M1233.2 1664.4h0M1231.3 1682.8h0M1272.2 1660.2h0M1272.3 1686.6h0M1228.3 1642h0M1202.1 1638.6h0M1214.9 1640.9h0M1279.4 1678h0M1211.2 1652.2h0M1197.5 1674.3h0M1206.2 1676.2h0M1255.6 1659.2h0M1213.9 1626.4h0M1228.8 1655.2h0M1245.4 1649.9h0M1220.1 1647.1h0M1193.6 1657.3h0M1219.3 1618.3h0M1231.6 1640.6h0M1182.4 1645.8h0M1184.9 1621.6h0M1233.1 1650h0M1235.8 1623.5h0M1238.4 1658.4h0M1190.5 1678.4h0M1243.8 1673.4h0M1193.2 1631.4h0M1234.5 1664.4h0M1270.8 1665.8h0M1224.8 1633.2h0M1270 1651.6h0M1263.3 1660.7h0M1236.3 1658.8h0M1222.9 1630h0M1255 1635.2h0M1212 1654.1h0M1242.8 1639.6h0M1199.8 1653.1h0M1254.4 1638.9h0M1224.9 1670.3h0M1239.2 1664h0M1245.3 1637.6h0M1222 1678.6h0M1251 1680h0M1241.6 1634.9h0M1266.5 1679.4h0M1243.6 1681.7h0M1203.2 1640.1h0M1236.2 1677.7h0M1194.4 1685.3h0M1193.5 1680.3h0M1247.7 1670.1h0M1233.3 1660.4h0M1238.9 1658.2h0M1237.9 1643.7h0M1217.7 1668h0M1213 1684.9h0M1241.7 1671h0M1207.8 1631.1h0M1209 1639h0M1181.1 1624.5h0M1193.4 1680.2h0M1192.8 1656.3h0M1282 1665.4h0M1268.8 1654.5h0M1262.8 1658.9h0M1199.8 1678.7h0M1224.3 1631.8h0M1240.1 1637.7h0M1193.7 1684.3h0M1251.1 1676h0M1235.7 1652h0M1229.7 1669h0M1257.6 1621.3h0M1194.6 1680.5h0M1252.9 1673.3h0M1221.1 1629.7h0M1207.3 1682.7h0M1208.4 1675.6h0M1230.5 1670.2h0M1204.5 1655h0M1273.8 1683h0M1220.7 1663.5h0M1229.2 1650.1h0M1214 1631.8h0M1223.9 1666.6h0M1237.1 1631.4h0M1279.9 1679h0M1203 1638.4h0M1187.4 1631.9h0M1198 1680.1h0M1209 1685.4h0M1214.8 1656.9h0M1199.5 1647.9h0M1272.9 1631.2h0M1214.1 1654.8h0M1270.8 1630.1h0M1249.6 1680.2h0M1244.5 1628.8h0M1231.8 1678.3h0M1206.8 1675.9h0M1185.3 1653.1h0M1210.2 1652.8h0M1236.9 1655.2h0M1263.7 1679.1h0M1268.9 1669.1h0M1202.2 1679.5h0M1190.4 1683.2h0M1204 1671.3h0M1224.8 1670.7h0M1275.9 1649.5h0M1256.9 1665.6h0M1185.7 1648.8h0M1200.7 1686.5h0M1183.7 1666.7h0M1240.2 1625.2h0M1242 1678.7h0M1262.8 1657.6h0M1214.3 1676.4h0M1345.3 1655.8h0M1333 1651.6h0M1317.6 1667.6h0M1367.3 1645.5h0M1343.5 1635.2h0M1342.8 1682.7h0M1335.1 1644.6h0M1335.3 1684h0M1372.8 1668.7h0M1347.5 1685.2h0M1366.7 1657.5h0M1373.5 1678.8h0M1306.7 1629.9h0M1365.7 1671.2h0M1334 1639.1h0M1306.8 1680.8h0M1345.2 1651.8h0M1357.3 1629.2h0M1328.1 1626.8h0M1329 1658.9h0M1318.3 1647.2h0M1370.1 1684.3h0M1308.6 1646.9h0M1333.9 1656.4h0M1313.9 1634.3h0M1313 1667.1h0M1303.7 1644.8h0M1296.4 1666h0M1359.6 1673.6h0M1306.8 1638.8h0M1307.4 1675.6h0M1313.8 1650.8h0M1355.7 1672.3h0M1329.4 1673.5h0M1375.4 1670.4h0M1353.1 1619.3h0M1305.5 1676.2h0M1318 1681.2h0M1360.1 1662.9h0M1358.5 1671.2h0M1330.6 1682.4h0M1355.6 1641h0M1305.5 1662h0M1335.2 1667.8h0M1329.8 1658.4h0M1342.3 1636.4h0M1374.5 1657.3h0M1346.9 1675.8h0M1317.7 1658.8h0M1334.8 1681.5h0M1301.3 1656.1h0M1361.6 1667.8h0M1296.3 1668.5h0M1369.5 1680.7h0M1337.3 1638.9h0M1323.6 1654.4h0M1334.9 1632.7h0M1310.2 1618.2h0M1325.8 1665.8h0M1305.5 1623.4h0M1341.3 1684.5h0M1339.7 1685.7h0M1366 1663.1h0M1306.1 1684.2h0M1328.9 1642.6h0M1341.1 1638.5h0M1296.8 1686.3h0M1348.3 1684.7h0M1358.8 1683.1h0M1346.2 1617.4h0M1300.5 1652.4h0M1337.8 1686.2h0M1320 1647.6h0M1297.7 1663.4h0M1365.5 1669.5h0M1367.9 1657.2h0M1299.9 1666.1h0M1320 1682.3h0M1305 1633.3h0M1359.1 1659.7h0M1341.4 1668.4h0M1360.6 1665.9h0M1334.2 1672.3h0M1337.6 1686.4h0M1313.5 1664.5h0M1318.2 1630.6h0M1344.1 1667h0M1370.4 1666.6h0M1301.9 1672.6h0M1328.4 1644h0M1299.3 1685.4h0M1348.6 1660.5h0M1321.5 1662h0M1306.1 1632.6h0M1303.8 1634.9h0M1296.5 1676.1h0M1353.4 1640h0M1318 1662.1h0M1307.9 1630.7h0M1369.2 1651.4h0M1355.4 1622.8h0M1295.8 1686h0M1351.5 1644.2h0M1340.4 1659.4h0M1318 1643.2h0M1347.7 1653.1h0M1325.6 1684.2h0M1349.6 1642.2h0M1373.1 1649.9h0M1303.1 1634.4h0M1321.7 1650.4h0M1355.2 1682.3h0M1353.1 1684.9h0M1339.1 1656.5h0M1319.6 1638.1h0M1294.6 1669.4h0M1352 1651.9h0M1305 1664.9h0M1327.6 1650.4h0M1294.7 1664.4h0M1334.3 1670.7h0M1307.6 1645.2h0M1305.8 1634h0M1372 1648.5h0M1354.3 1664.5h0M1372.3 1640h0M1344.7 1672.4h0M1328.9 1664.8h0M1362.8 1684.5h0M1367.1 1649.3h0M1333.8 1642.9h0M1347 1660.7h0M1329.8 1644.7h0M1335.6 1670h0M1339.6 1645.8h0M1302.9 1667.5h0M1347.1 1647.7h0M1324.8 1671.3h0M1329.3 1655.6h0M1331.5 1634.7h0M1330.5 1684.8h0M1303.1 1654.8h0M1330.1 1676.4h0M1322.3 1647.4h0M1349.6 1645.3h0M1348.1 1635.9h0M1363.7 1675.2h0M1323.9 1661.2h0M1304.4 1671.4h0M1369.3 1618.8h0M1311.5 1637.3h0M1367.5 1638.6h0M1327.1 1630.3h0M1321.9 1636.2h0M1341.1 1638.6h0M1329.9 1656h0M1328.4 1630.4h0M1331.2 1651.5h0M1298.1 1659.4h0M1348.4 1645.4h0M1332.7 1681.2h0M1315.4 1686.5h0M1327.8 1658.1h0M1331 1680.4h0M1350.9 1663.7h0M1298.8 1651h0M1375 1676.5h0M1309 1635.7h0M1332.6 1660.2h0M1362.7 1674.4h0M1354.8 1679.3h0M1315.4 1674.3h0M1371.6 1679.1h0M1313.2 1669h0M1366.2 1675.7h0M1318.5 1655.6h0M1351.2 1643.1h0M1351.1 1666.3h0M1347.8 1658.7h0M1371.6 1635.1h0M1306.3 1669.4h0M1300.8 1679.3h0M1300.8 1660.3h0M1354.1 1612.6h0M1374 1675h0M1320.8 1681.9h0M1334.2 1677.5h0M1343.4 1649.1h0M1370.4 1666.8h0M1348.3 1674.4h0M1323.2 1631.8h0M1352 1682.4h0M1328.8 1669.3h0M1295.8 1662.9h0M1328.8 1661.3h0M1304.1 1682.4h0M1313.9 1644.2h0M1340.7 1680.3h0M1296.9 1681h0M1330.2 1672.5h0M1352.7 1661.8h0M1353.7 1667.4h0M1301.2 1651.9h0M1300.7 1641.6h0M1363.1 1680.1h0M1314.5 1654.3h0M1294.9 1677.7h0M1342.2 1648.8h0M1366.6 1647.6h0M1349.2 1633.6h0M1349.2 1627.4h0M1367.7 1658.3h0M1294.4 1670.9h0M1301.6 1655.2h0M1296.6 1661.4h0M1300.5 1658.5h0M1294.7 1684.7h0M1357.7 1670.3h0M1341.4 1681.5h0M1356.4 1655.2h0M1341.5 1674.6h0M1294.3 1670.6h0M1340.9 1675h0M1340.3 1626.2h0M1310 1686.1h0M1319.9 1670.2h0M1338.6 1627h0M1365.4 1633.3h0M1364.6 1632.9h0M1325.1 1685.7h0M1355 1659.1h0M1303.7 1679.1h0M1340.4 1638.3h0M1321.3 1631.8h0M1334.7 1646h0M1307.8 1648.8h0M1326.9 1673.4h0M1311.8 1643.4h0M1299.8 1665h0M1295.6 1682.8h0M1373.7 1661.9h0M1327.1 1661.1h0M1318 1654.8h0M1348.5 1627.2h0M1303.6 1683.2h0M1360.3 1682.3h0M1312.3 1659.8h0M1318.6 1684.6h0M1335.5 1642.1h0M1359.6 1661.1h0M1303.7 1662.5h0M1355.5 1667.6h0M1327.2 1677.9h0M1366 1642.2h0M1352.9 1670.3h0M1361.4 1674.7h0M1348.6 1659.1h0M1296.1 1681.6h0M1318 1630.4h0M1354.1 1641.7h0M1368.1 1680.5h0M1310.1 1642.9h0M1343.2 1638.3h0M1342.7 1647.5h0M1330.8 1681.2h0M1299.8 1679.7h0M1372.9 1645.3h0M1346.3 1629.8h0M1336.2 1677.1h0M1301.9 1679.3h0M1360 1674.1h0M1372.7 1662.6h0M1350.3 1641.9h0M1334.6 1653.5h0M1343.2 1651.4h0M1354.7 1681.6h0M1369.5 1665.1h0M1297.1 1666.2h0M1309.2 1638.4h0M1360.1 1650.6h0M1296.6 1683.8h0M1341.4 1640.3h0M1375.1 1633h0M1305.4 1675.7h0M1324.9 1632.5h0M1316.7 1639.3h0M1322.2 1660.4h0M1360.7 1653.2h0M1335.8 1636.8h0M1302.4 1634.9h0M1310.8 1636.5h0M1306.5 1664h0M1307.4 1649.5h0M1353.1 1616.2h0M1351.1 1649.4h0M1364.9 1621h0M1335.2 1676.5h0M1344.7 1680.8h0M1362.2 1637.1h0M1327.3 1637.4h0M1310.8 1650.7h0M1333.1 1675.4h0M1353.7 1673.8h0M1368.8 1678.1h0M1336.6 1669.9h0M1354.7 1668.8h0M1350.7 1647.5h0M1329.2 1653h0M1311.6 1682.7h0M1363.5 1625.8h0M1342.6 1637.5h0M1358.8 1639.3h0M1365.2 1629.6h0M1375.1 1660.9h0M1353 1671.5h0M1318.3 1657.9h0M1366.7 1679.3h0M1372.5 1675.7h0M1320.5 1672.1h0M1369.8 1663.4h0M1344.9 1683.2h0M1320 1642.8h0M1305.2 1676.3h0M1304.3 1680.6h0M1309.2 1658.1h0M1315.3 1670h0M1362.2 1679.9h0M1316.2 1671.1h0M1316 1668.6h0M1340.9 1673.6h0M1359 1680.1h0M1327.9 1655.5h0M1318.3 1658.8h0M1308.8 1658h0M1358 1635.6h0M1355 1668.4h0M1356.3 1637.6h0M1317.5 1674.8h0M1321 1684.8h0M1299.7 1680.3h0M1323.3 1660.9h0M1369.3 1664.4h0M1328.6 1666.3h0M1357.4 1664.8h0M1294.2 1666h0M1365.8 1667h0M1345.7 1632.9h0M1359.2 1655h0M1321.3 1646.9h0M1306.8 1686.6h0M1300.7 1645.5h0M1362.8 1652.8h0M1372.7 1642.1h0M1354.9 1647.7h0M1300.3 1666h0M1342.5 1645h0M1355.4 1661.3h0M1336.7 1664.9h0M1333.2 1654.4h0M1366.8 1630.9h0M1309.9 1616.6h0M1293.9 1677.9h0M1315 1679h0M1346 1669.4h0M1296.6 1683.3h0M1335.9 1657.9h0M1339.7 1686.1h0M1309.2 1648.4h0M1362.5 1681.8h0M1366.3 1640.1h0M1333.3 1672.1h0M1308.8 1669.7h0M1313.7 1645.6h0M1300.6 1674.5h0M1304.7 1653.4h0M1338 1672.2h0M1319 1669.8h0M1315.1 1674.5h0M1322.7 1673h0M1312 1680.5h0M1308.8 1675.1h0M1364.6 1663.4h0M1320.2 1672.5h0M1364.3 1648h0M1350.8 1680.2h0M1368.2 1685.2h0M1331.2 1647h0M1305.8 1653h0M1335.6 1679.9h0M1365.6 1645.2h0M1326.6 1683.3h0M1341.1 1685.2h0M1347.2 1635.7h0M1325.3 1650.1h0M1317.3 1640.1h0M1300 1644.9h0M1372.8 1642.3h0M1334.9 1674.1h0M1312.3 1677.6h0M1320.5 1686.5h0M1332.2 1685.2h0M1349.6 1685.7h0M1347.1 1678.1h0M1357.4 1657.7h0M1313 1646.5h0M1356.2 1639.7h0M1307.5 1642.5h0M1295.1 1675.9h0M1316.3 1684.2h0M1313.7 1660.5h0M1319.6 1652.5h0M1344.1 1664.6h0M1332 1671.2h0M1305.3 1666h0M1324 1638.6h0M1349.4 1668.5h0M1320.4 1651.3h0M1300.2 1653.3h0M1317.5 1648.8h0M1345.7 1672.9h0M1322.5 1660.3h0M1373.6 1649.2h0M1322.9 1631.7h0M1295.5 1683.3h0M1315 1686.3h0M1304.3 1632.7h0M1343.5 1684.6h0M1308.3 1644.3h0M1347.9 1676.1h0M1320.2 1645.9h0M1337.1 1672.5h0M1357 1665.4h0M1320.6 1613.4h0M1368 1684.5h0M1310 1685.2h0M1332.4 1630.4h0M1320.4 1644.9h0M1308.8 1681.4h0M1363.8 1635.8h0M1353.9 1668.6h0M1339.4 1678.8h0M1373.4 1659.8h0M1360.2 1629.9h0M1303.1 1634.2h0M1338.3 1682.2h0M1351.4 1677.1h0M1327.4 1633.9h0M1327 1657.4h0M1348.1 1665.5h0M1347.8 1643.2h0M1337.6 1674h0M1300.4 1663.2h0M1301.7 1670.2h0M1315.5 1634.1h0M1295.4 1671h0M1362.1 1676.5h0M1359.9 1665.7h0M1304 1649.9h0M1361.2 1631.6h0M1309.2 1682.3h0M1366.7 1666.9h0M1330.2 1661.4h0M1369.1 1653h0M1364.9 1647h0M1339.7 1680.8h0M1314.6 1644.8h0M1313.5 1639.6h0M1363.8 1683.8h0M1350.9 1674.6h0M1351.4 1627.4h0M1342.9 1646.4h0M1375.4 1671.9h0M1297.6 1679h0M1315.5 1667.3h0M1301.4 1674.9h0M1318.9 1640.2h0M1362.7 1654h0M1318.4 1658.7h0M1318 1679.5h0M1326.7 1676.5h0M1351.6 1646.3h0M1349 1642.9h0M1302 1671.2h0M1311.9 1668.2h0M1365 1645h0M1342.9 1685.2h0M1342.8 1666.1h0M1339.1 1641.2h0M1304 1680.1h0M1343.7 1681.2h0M1336.2 1684.7h0M1357.6 1670.1h0M1324.4 1669.7h0M1332.5 1658.1h0M1339.4 1646.9h0M1363.4 1675.7h0M1363.1 1632.3h0M1328.5 1678.7h0M1344.7 1633.5h0M1297.3 1676.3h0M1311.1 1660.8h0M1364.9 1650.9h0M1359.9 1668.7h0M1317.5 1661.8h0M1345.6 1626.3h0M1309.6 1655.7h0M1296.6 1678.7h0M1321.4 1663.3h0M1342.4 1656.5h0M1317 1653.7h0M1361.4 1656.6h0M1311.9 1648.3h0M1371.9 1679.4h0M1364.7 1660.3h0M1347.8 1673.9h0M1337.6 1678.7h0M1362 1661.5h0M1361.1 1666h0M1346.8 1647.3h0M1296.9 1662.8h0M1362.7 1649h0M1334.3 1683h0M1305 1637h0M1305.3 1684.8h0M1365.4 1635.3h0M1331.9 1651.1h0M1312.6 1669.3h0M1298.2 1681.8h0M1362.5 1670.9h0M1314.4 1672.5h0M1309.4 1664.4h0M1371.2 1683h0M1374.6 1663.3h0M1321.1 1670.5h0M1366 1682.5h0M1370.4 1680.8h0M1348.9 1677.9h0M1344.9 1631.7h0M1349.9 1639.1h0M1309.3 1677.6h0M1362.7 1646h0M1302.2 1641.4h0M1302.3 1650.9h0M1358.4 1624.1h0M1340.8 1659.1h0M1338.9 1679.8h0M1357.4 1657h0M1337.6 1670.7h0M1333.5 1637h0M1331 1670.3h0M1345.7 1664.5h0M1297.3 1684.3h0M1361.5 1668.3h0M1333.1 1636.3h0M1329.3 1654.8h0M1300.3 1644.3h0M1361.3 1682.1h0M1364.8 1645.9h0M1295.1 1662.1h0M1372.2 1679.5h0M1364.6 1653.6h0M1332.6 1686.3h0M1336.2 1648.6h0M1309.8 1617.6h0M1325.2 1634.9h0M1333.1 1659.4h0M1343.9 1631.2h0M1350.4 1663.3h0M1309.9 1636.8h0M1324 1665.2h0M1316.3 1661.5h0M1300.9 1668.2h0M1331.3 1636.1h0M1368.7 1645h0M1313.1 1681.4h0M1341.5 1653.4h0M1343.2 1682.2h0M1366 1664.7h0M1335.4 1637.7h0M1340 1668.6h0M1361 1634.1h0M1333 1674.2h0M1357.9 1681.5h0M1298.1 1681.8h0M1368 1685.2h0M1298.5 1686h0M1317.9 1658h0M1337.5 1662.3h0M1339.3 1655.8h0M1311.7 1651.1h0M1347.6 1684h0M1299.8 1662.4h0M1343 1662.1h0M1366 1650.2h0M1330.5 1669h0M1353.6 1624.3h0M1317.7 1669.2h0M1369 1645.1h0M1336.9 1625.4h0M1366.9 1633.9h0M1332.6 1658.1h0M1344.3 1667.6h0M1320.6 1665.7h0M1372.9 1650.8h0M1306.6 1675.5h0M1321.4 1640h0M1373.1 1660.8h0M1350.3 1644.5h0M1351.7 1635.7h0M1345.5 1644h0M1336.5 1674h0M1364 1657.8h0M1365.9 1652.5h0M1365.2 1617h0M1330.8 1676.1h0M1344.7 1679.1h0M1309 1657.1h0M1361.6 1646.8h0M1342.4 1639.7h0M1310.1 1677.8h0M1323.3 1672.1h0M1368 1643.5h0M1341.6 1682h0M1363.1 1647.3h0M1337.5 1640.6h0M1346.1 1634h0M1344.2 1643.6h0M1337.1 1672.8h0M1337.2 1637.2h0M1367.6 1632.8h0M1356.7 1627h0M1302.2 1638.5h0M1360.8 1659.4h0M1350.7 1640.1h0M1328.8 1677.2h0M1299.7 1683.7h0M1311.8 1649.2h0M1295.8 1669h0M1294.1 1680.1h0M1361.3 1675h0M1368.7 1640.2h0M1365.1 1635.8h0M1346 1654.8h0M1329.7 1658.6h0M1329.2 1650.8h0M1364.8 1636.1h0M1337.4 1635h0M1308.9 1672.9h0M1324.3 1671.1h0M1298.9 1667.2h0M1338.5 1628.9h0M1335.7 1670h0M1331.3 1681.1h0M1328.7 1683.5h0M1316.1 1675.4h0M1356.2 1668.8h0M1363 1683.3h0M1365.8 1655.9h0M1316.9 1629h0M1308.1 1685.3h0M1298.8 1666.2h0M1329.1 1666.8h0M1346 1645.3h0M1334.3 1624.2h0M1341.7 1680.1h0M1346.5 1637.2h0M1354.1 1679h0M1352.4 1634.7h0M1363.8 1637.9h0M1364.7 1680h0M1326.2 1655.7h0M1312.2 1671.1h0M1297.5 1685.1h0M1328.6 1662.1h0M1350.1 1639.8h0M1323.5 1648.3h0M1333.3 1684.4h0M1323.2 1680.2h0M1296.8 1666.7h0M1306.6 1669.6h0M1331.5 1680.9h0M1345.2 1627.8h0M1360.5 1672.9h0M1341.7 1675.7h0M1371.7 1644.2h0M1323.9 1637.5h0M1308.4 1638.4h0M1315.5 1646.3h0M1300.3 1646.8h0M1304.4 1678h0M1361.1 1649.2h0M1324.9 1629.8h0M1329.5 1633.6h0M1345.9 1652.2h0M1346.3 1647.8h0M1320.8 1659h0M1351.1 1686.2h0M1362.1 1632.4h0M1332.2 1684.5h0M1373.9 1679.2h0M1379.9 1611h0M1313.1 1620.2h0M1190.6 1611.3h0M1376.8 1600.7h0M1199.6 1609.8h0M1252.6 1611.6h0M1245 1611h0M1269.6 1600.9h0M1342.7 1615.2h0M1258.3 1621.4h0M1253 1621.9h0M1162.9 1601.6h0M1179.3 1609.6h0M1171 1603.3h0M1175.1 1619.8h0M1195.3 1616.9h0M1361.5 1613.3h0M1145.2 1613.6h0M1248.6 1603.8h0M1168 1621h0M1320.2 1596h0M1360.7 1607h0M1159.8 1612.9h0M1187.9 1619.1h0M1243.6 1599.5h0M1315.9 1602.2h0M1246.8 1621.5h0M1374.1 1596h0M1194.3 1623.2h0M1237.3 1614.3h0M1322.7 1615.1h0M1200.1 1608.7h0M1195 1612.7h0M1241 1607h0M1223.7 1597.4h0M1196.5 1596.1h0M1260.7 1627.8h0M1256.4 1624.4h0M1271.2 1627.6h0M1165 1596.5h0M1251.1 1598.7h0M1146.5 1602.7h0M1359.3 1614.4h0M1315.8 1599.7h0M1206.8 1607.7h0M1256.9 1605.5h0M1324.2 1610.1h0M1192.1 1604.9h0M1221.6 1602.8h0M1191.5 1603h0M1321.5 1627.4h0M1199.6 1601.2h0M1245.5 1613.4h0M1253.8 1610.6h0M1139.3 1622.9h0M1334.6 1617.9h0M1318.2 1625.2h0M1368.3 1618.8h0M1160.6 1614h0M1176.4 1621.3h0M1179.1 1619.4h0M1339.5 1595.1h0M1261.7 1613.8h0M1324.9 1617h0M1183.1 1604h0M1368.7 1600.6h0M1273.8 1614.2h0M1200.7 1611.2h0M1150.3 1602.8h0M1307.8 1627.8h0M1208.5 1614.8h0M1204 1614.2h0M1198 1606.1h0M1318.6 1596.1h0M1321.9 1596.5h0M1331.4 1621.3h0M1253.4 1627.6h0M1172.4 1618.4h0M1172.5 1648.7h0M1148.1 1644h0M1144 1621.7h0M1136.9 1636.3h0M1161.1 1637.6h0M1130.6 1656.4h0M1157.3 1646.3h0M1172 1659.5h0M1155 1652.2h0M1134.7 1674.8h0M1134.1 1671.7h0M1144.8 1636.4h0M1180.7 1674.7h0M1164.4 1640.6h0M1149.2 1612h0M1149.2 1685.7h0M1146.3 1603.7h0M1152.5 1624.9h0M1167.1 1608.3h0M1148.8 1619.1h0M1150.8 1662.3h0M1164.7 1648.5h0M1169.1 1642h0M1167.5 1626h0M1178 1640h0M1135.2 1686.6h0M1155.9 1659.4h0M1177.1 1611.5h0M1132.5 1672.4h0M1134.5 1664.1h0M1155.6 1672.4h0M1135 1682.3h0M1153.5 1644.4h0M1136.2 1632.1h0M1136.9 1643.1h0M1149.1 1615.3h0M1147.3 1654.4h0M1172.9 1681.2h0M1131.7 1680.7h0M1158.6 1601.1h0M1133 1648.1h0M1162.1 1607.5h0M1134.8 1674.5h0M1181 1652.4h0M1149.9 1622.8h0M1168.6 1641.6h0M1159.4 1663.3h0M1139.7 1611.2h0M1161.7 1602.8h0M1153.2 1625.2h0M1150.7 1678h0M1157.9 1624.9h0M1139.6 1632.6h0M1170.5 1649.4h0M1159 1631.7h0M1152.1 1617.3h0M1166.4 1626.5h0M1159.9 1610.1h0M1167.1 1646.8h0M1386.8 1672.1h0M1420.5 1614.5h0M1413.3 1625.9h0M1411 1640.5h0M1405.4 1667.8h0M1388.7 1637.9h0M1431 1660.3h0M1382.6 1628.7h0M1387.9 1650.7h0M1421.4 1637.6h0M1422.9 1651.5h0M1397.7 1619.2h0M1377.1 1682.2h0M1388.9 1681.2h0M1412.7 1610.6h0M1418.5 1685.8h0M1389.1 1630.7h0M1405.7 1612.4h0M1391.5 1622h0M1390.9 1615.9h0M1399.2 1632.9h0M1400.4 1671.5h0M1401.4 1679.6h0M1424.8 1617.4h0M1397.3 1664.7h0M1429.8 1670.5h0M1420.3 1637.8h0M1422.3 1610.8h0M1376.8 1620.4h0M1390.3 1628.7h0M1386.9 1673.8h0M1386.1 1619.7h0M1431.2 1627.6h0M1408 1653.6h0M1397.6 1611.8h0M1409.7 1677.5h0M1408.7 1640.5h0M1415.9 1653.5h0M1424.4 1634.7h0M1399.6 1657.6h0M1150.9 1549.8h0M1186.7 1549.8h0M1245.8 1549.8h0M1326.5 1549.8h0M1332.6 1549.8h0M1140.7 1559.6h0M1171.3 1559.6h0M1255 1577.2h0M1362.2 1585h0M1242.8 1590.9h0M1135.6 1608.4h0" stroke="#C9CCC9" stroke-width="5" stroke-linecap="round" fill="none" />
<path d="M1399.3 1608.6h0M1414.3 1607.9h0M1369.2 1617.9h0M1373.4 1626.4h0M1385.4 1627.1h0M1370.4 1636.8h0M1373.8 1642.6h0M1265.1 1631h0M1306.7 1643.8h0M1351.9 1639.1h0M1357.6 1643.8h0M1341.5 1643.8h0M1332.2 1649.6h0M1354.2 1650.7h0M1312.5 1658.8h0M1332.2 1657.6h0M1361.1 1658.8h0M1265.1 1654.9h0M1246.6 1664.6h0M1268.6 1668.1h0M1265.1 1673.8h0M1272 1676.2h0M1279 1678.5h0M1283.6 1680.8h0M1288.2 1683.1h0M1295.2 1681.9h0M1302.1 1679.6h0M1309.1 1677.3h0M1316 1675h0M1321.8 1672.7h0M1325.3 1676.2h0M1274.4 1680.8h0M1281.3 1683.1h0M1299.8 1683.1h0M1311.4 1680.8h0M1336.8 1669.2h0M1340.3 1676.2h0" stroke="#DF4546" stroke-width="5.4" stroke-linecap="round" fill="none" />
<line x1="1237.7" y1="1390.4" x2="1237.7" y2="1706.2" stroke="#000" stroke-width="2.6" stroke-dasharray="18 8"/>
<line x1="1339.7" y1="1390.4" x2="1339.7" y2="1706.2" stroke="#000" stroke-width="2.6" stroke-dasharray="18 8"/>
<line x1="1123.2" y1="1432.4" x2="1452.5" y2="1432.4" stroke="#000" stroke-width="2.6" stroke-dasharray="18 8"/>
<path d="M1121.2 1383V1706.2H1456" fill="none" stroke="#000" stroke-width="3" />
<line x1="1116.2" y1="1393.5" x2="1121.2" y2="1393.5" stroke="#000" stroke-width="2.6" />
<text x="1111.7" y="1398.1" font-size="13" text-anchor="end" textLength="20.8" lengthAdjust="spacingAndGlyphs">1.5</text>
<line x1="1116.2" y1="1491.2" x2="1121.2" y2="1491.2" stroke="#000" stroke-width="2.6" />
<text x="1111.7" y="1495.8" font-size="13" text-anchor="end" textLength="20.8" lengthAdjust="spacingAndGlyphs">1.0</text>
<line x1="1116.2" y1="1588.9" x2="1121.2" y2="1588.9" stroke="#000" stroke-width="2.6" />
<text x="1111.7" y="1593.5" font-size="13" text-anchor="end" textLength="20.8" lengthAdjust="spacingAndGlyphs">0.5</text>
<line x1="1116.2" y1="1686.6" x2="1121.2" y2="1686.6" stroke="#000" stroke-width="2.6" />
<text x="1111.7" y="1691.2" font-size="13" text-anchor="end" textLength="20.8" lengthAdjust="spacingAndGlyphs">0.0</text>
<line x1="1186.7" y1="1706.2" x2="1186.7" y2="1711.7" stroke="#000" stroke-width="2.6" />
<text x="1185.2" y="1725.2" font-size="13" text-anchor="middle">-1</text>
<line x1="1288.7" y1="1706.2" x2="1288.7" y2="1711.7" stroke="#000" stroke-width="2.6" />
<text x="1288.7" y="1725.2" font-size="13" text-anchor="middle">0</text>
<line x1="1390.8" y1="1706.2" x2="1390.8" y2="1711.7" stroke="#000" stroke-width="2.6" />
<text x="1390.8" y="1725.2" font-size="13" text-anchor="middle">1</text>
<text x="1129.7" y="1402.7" font-size="15.2" fill="#CC2F33">Travaglini lung B cell</text>
<text x="1133.7" y="1424" font-size="15.2" fill="#CC2F33">GSEA  adj p = 2.39e-3</text>
<text x="1133.7" y="1446.6" font-size="15.2" fill="#CC2F33">ES = 0.66</text>
<text x="1393.5" y="1603.3" font-size="18" font-style="italic" fill="#276B30">MS4A1</text>
<text x="1370.4" y="1624.8" font-size="18" font-style="italic" fill="#276B30">FCRLA</text>
<text x="1320.6" y="1638" font-size="18" font-style="italic" fill="#276B30">CD22</text>
<text x="1370.4" y="1643.8" font-size="18" font-style="italic" fill="#276B30">FCRL1</text>
<text x="1313.7" y="1670.4" font-size="18" font-style="italic" fill="#276B30">CD180</text>
<text x="1262.8" y="1687.7" font-size="18" font-style="italic" fill="#276B30">CD200</text>
<text x="1070.1" y="1756.6" font-size="18" font-weight="bold">Cell type signature</text>
<text x="1070.1" y="1777.9" font-size="18" font-weight="bold">gene set</text>
<circle cx="1248.7" cy="1760.6" r="8.7" fill="#DD3333" />
<text x="1263.5" y="1758.6" font-size="18">Travaglini lung</text>
<text x="1263.5" y="1780" font-size="18">B cell</text>
</svg>
</body></html>
